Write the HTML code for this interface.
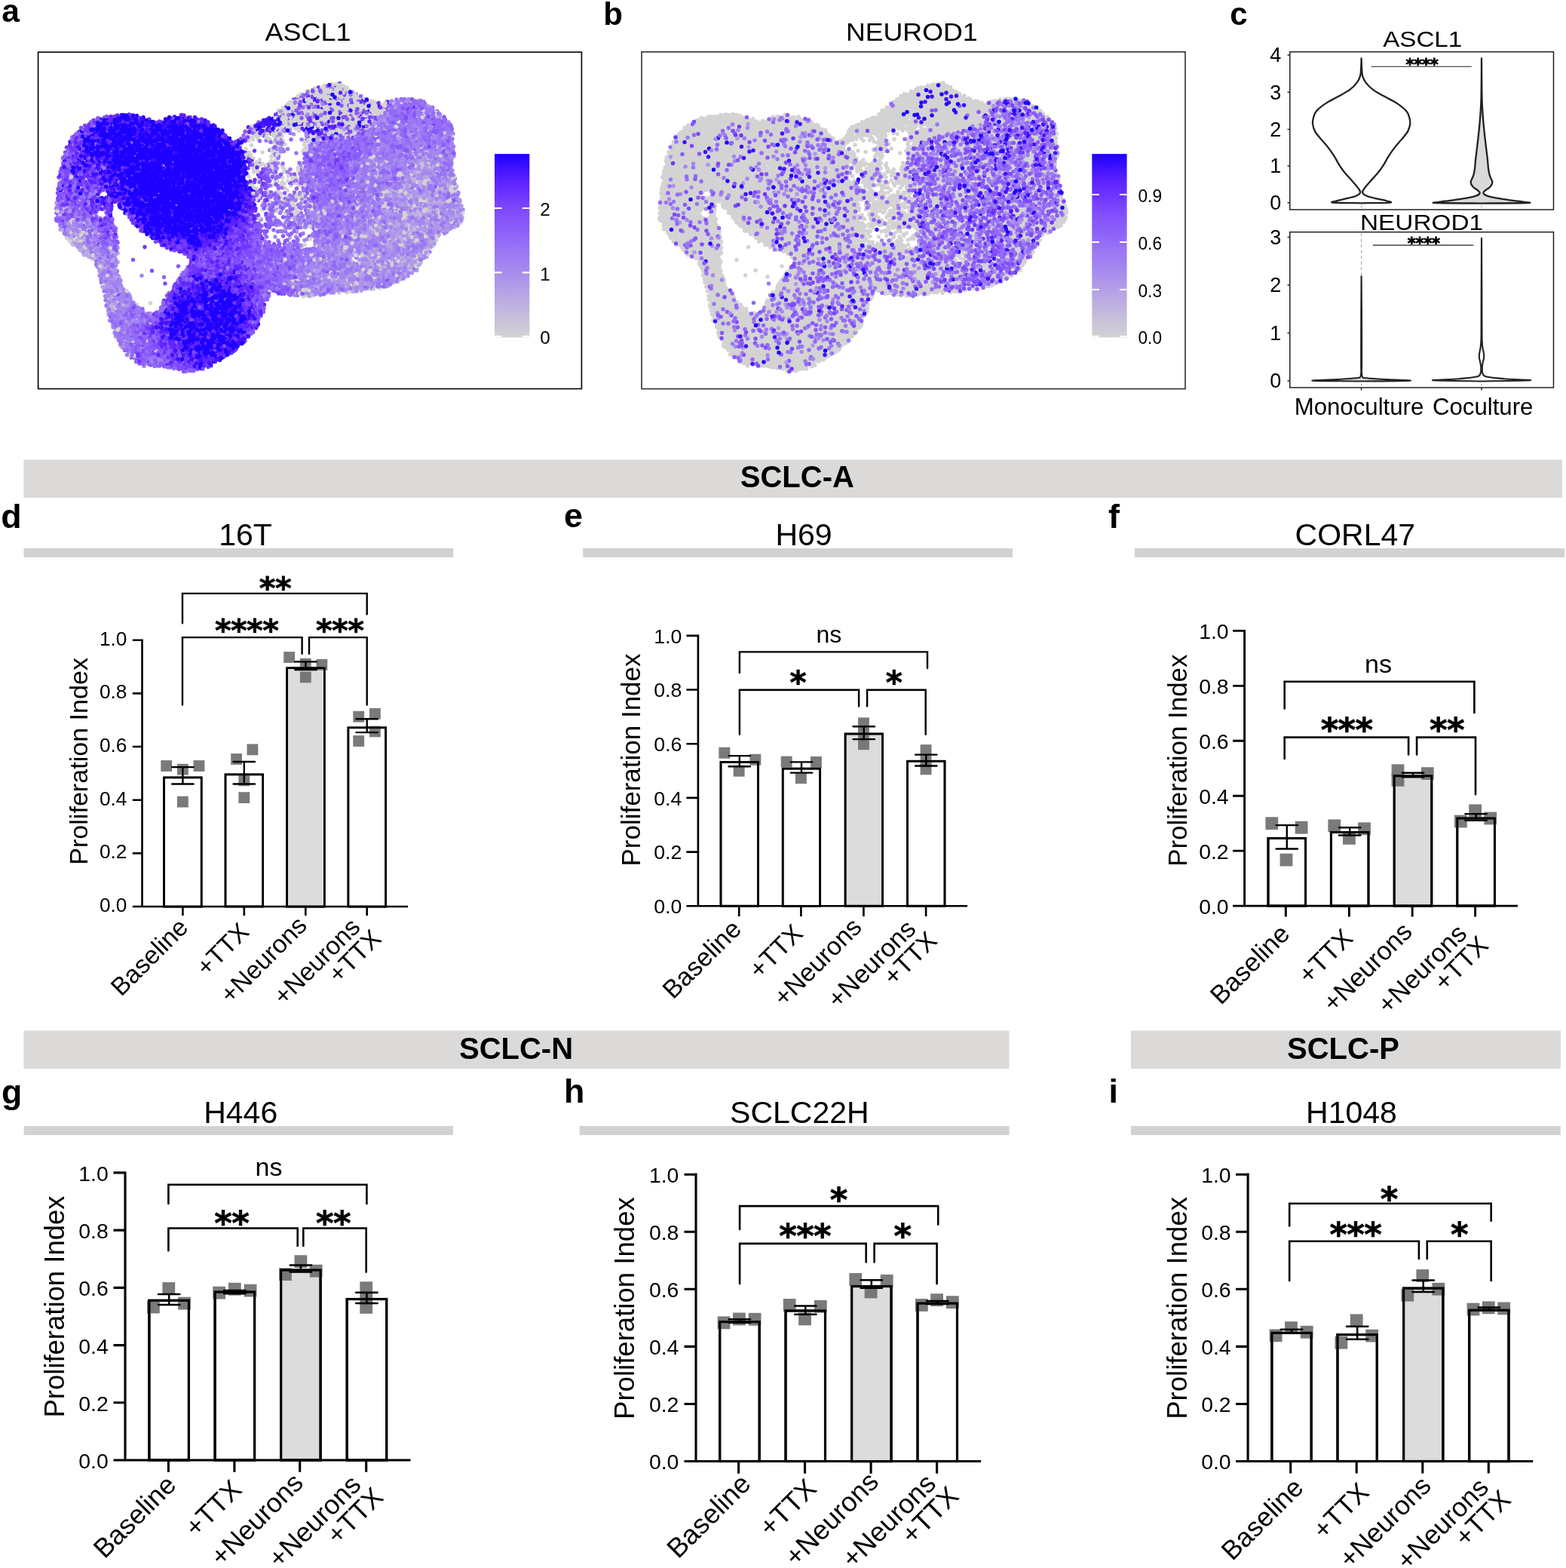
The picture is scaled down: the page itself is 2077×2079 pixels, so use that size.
<!DOCTYPE html>
<html lang="en"><head><meta charset="utf-8"><title>Figure</title>
<style>html,body{margin:0;padding:0;background:#fff}body{width:2077px;height:2079px;overflow:hidden}svg{display:block}svg text{font-family:"Liberation Sans", sans-serif;fill:#000}.st{font-family:"DejaVu Sans","Liberation Sans",sans-serif;font-weight:bold;stroke:#000;stroke-width:0.7px}.pt{fill:#6c6c6c;fill-opacity:.9}.lab{font-weight:bold}.st2{font-family:"DejaVu Sans","Liberation Sans",sans-serif;font-weight:bold;letter-spacing:-.2px;stroke:#000;stroke-width:.8px}</style></head><body>
<svg width="2077" height="2079" viewBox="0 0 2077 2079">
<rect width="2077" height="2079" fill="#fff"/>
<rect x="31.5" y="609.5" width="2040.5" height="50.5" fill="#dcdad9"/>
<rect x="31.5" y="1366.5" width="1307" height="50.5" fill="#dcdad9"/>
<rect x="1500" y="1366.5" width="570" height="50.5" fill="#dcdad9"/>
<text x="1057.3" y="645.6" font-size="40" text-anchor="middle" font-weight="bold">SCLC-A</text>
<text x="684.5" y="1403.6" font-size="40" text-anchor="middle" font-weight="bold">SCLC-N</text>
<text x="1781.5" y="1403.6" font-size="40" text-anchor="middle" font-weight="bold">SCLC-P</text>
<rect x="31.5" y="727" width="569.7" height="12" fill="#d2d2d2"/>
<rect x="773.2" y="727" width="569.8" height="12" fill="#d2d2d2"/>
<rect x="1505" y="727" width="570.0" height="12" fill="#d2d2d2"/>
<rect x="31.7" y="1493" width="569.3" height="12" fill="#d2d2d2"/>
<rect x="768.7" y="1493" width="569.8" height="12" fill="#d2d2d2"/>
<rect x="1500" y="1493" width="569.8" height="12" fill="#d2d2d2"/>
<text x="325.5" y="722.5" font-size="41" text-anchor="middle">16T</text>
<text x="1066.0" y="722.5" font-size="41" text-anchor="middle">H69</text>
<text x="1797.3" y="722.5" font-size="41" text-anchor="middle">CORL47</text>
<text x="319.2" y="1488.9" font-size="41" text-anchor="middle">H446</text>
<text x="1060.4" y="1488.9" font-size="41" text-anchor="middle">SCLC22H</text>
<text x="1792.5" y="1488.9" font-size="41" text-anchor="middle">H1048</text>
<text class="lab" x="2.2" y="29.2" font-size="42.5">a</text>
<text class="lab" x="800.2" y="33.4" font-size="42">b</text>
<text class="lab" x="1631.3" y="33.4" font-size="42">c</text>
<text class="lab" x="1.2" y="700" font-size="44.8">d</text>
<text class="lab" x="748" y="699" font-size="44.8">e</text>
<text class="lab" x="1470" y="700" font-size="44.8">f</text>
<text class="lab" x="2" y="1462.5" font-size="44.8">g</text>
<text class="lab" x="748.0" y="1462" font-size="44.8">h</text>
<text class="lab" x="1470.5" y="1462" font-size="44.8">i</text>
<g class="bp">
<rect x="217.5" y="1030.9" width="49.7" height="171.2" fill="#fff" stroke="#000" stroke-width="2.60"/>
<rect x="299.0" y="1026.9" width="49.7" height="175.1" fill="#fff" stroke="#000" stroke-width="2.60"/>
<rect x="380.6" y="885.7" width="49.7" height="316.4" fill="#dcdcdc" stroke="#000" stroke-width="2.60"/>
<rect x="461.9" y="964.8" width="49.7" height="237.3" fill="#fff" stroke="#000" stroke-width="2.60"/>
<rect class="pt" x="213.3" y="1008.1" width="14.8" height="14.8"/>
<rect class="pt" x="256.6" y="1008.1" width="14.8" height="14.8"/>
<rect class="pt" x="235.0" y="1012.8" width="14.8" height="14.8"/>
<rect class="pt" x="235.0" y="1055.7" width="14.8" height="14.8"/>
<rect class="pt" x="306.2" y="999.1" width="14.8" height="14.8"/>
<rect class="pt" x="327.5" y="986.5" width="14.8" height="14.8"/>
<rect class="pt" x="316.4" y="1027.4" width="14.8" height="14.8"/>
<rect class="pt" x="316.4" y="1050.2" width="14.8" height="14.8"/>
<rect class="pt" x="376.2" y="864.1" width="14.8" height="14.8"/>
<rect class="pt" x="419.5" y="873.9" width="14.8" height="14.8"/>
<rect class="pt" x="397.9" y="872.8" width="14.8" height="14.8"/>
<rect class="pt" x="397.9" y="890.5" width="14.8" height="14.8"/>
<rect class="pt" x="468.3" y="942.8" width="14.8" height="14.8"/>
<rect class="pt" x="490.0" y="938.9" width="14.8" height="14.8"/>
<rect class="pt" x="490.0" y="962.5" width="14.8" height="14.8"/>
<rect class="pt" x="468.3" y="975.1" width="14.8" height="14.8"/>
<rect x="217.5" y="1030.9" width="49.7" height="171.2" fill="none" stroke="#000" stroke-width="2.60"/>
<rect x="299.0" y="1026.9" width="49.7" height="175.1" fill="none" stroke="#000" stroke-width="2.60"/>
<rect x="380.6" y="885.7" width="49.7" height="316.4" fill="none" stroke="#000" stroke-width="2.60"/>
<rect x="461.9" y="964.8" width="49.7" height="237.3" fill="none" stroke="#000" stroke-width="2.60"/>
<path d="M242.4 1017.1V1039.5M228.2 1017.1h28.4M228.2 1039.5h28.4M323.8 1010.0V1039.5M309.6 1010.0h28.4M309.6 1039.5h28.4M405.5 877.4V888.0M391.3 877.4h28.4M391.3 888.0h28.4M486.7 953.3V971.1M472.5 953.3h28.4M472.5 971.1h28.4" fill="none" stroke="#000" stroke-width="2.40" stroke-linecap="round"/>
<path d="M188.5 847.4V1202.0M175.8 1202.0H541.0M175.8 1131.4H188.5M175.8 1060.7H188.5M175.8 990.0H188.5M175.8 919.4H188.5M175.8 848.7H188.5M242.4 1202.0v12.0M323.8 1202.0v12.0M405.3 1202.0v12.0M486.7 1202.0v12.0" fill="none" stroke="#000" stroke-width="2.60"/>
<text x="168.3" y="1208.8" font-size="26.2" text-anchor="end">0.0</text>
<text x="168.3" y="1138.1" font-size="26.2" text-anchor="end">0.2</text>
<text x="168.3" y="1067.5" font-size="26.2" text-anchor="end">0.4</text>
<text x="168.3" y="996.8" font-size="26.2" text-anchor="end">0.6</text>
<text x="168.3" y="926.1" font-size="26.2" text-anchor="end">0.8</text>
<text x="168.3" y="855.5" font-size="26.2" text-anchor="end">1.0</text>
<text transform="translate(116.1 1009.4) rotate(-90)" font-size="34.1" text-anchor="middle">Proliferation Index</text>
<text transform="translate(251.4 1231.6) rotate(-45)" font-size="33.4" text-anchor="end">Baseline</text>
<text transform="translate(332.3 1237.4) rotate(-45)" font-size="33.4" text-anchor="end">+TTX</text>
<text transform="translate(408.9 1229.0) rotate(-45)" font-size="33.4" text-anchor="end">+Neurons</text>
<text transform="translate(479.6 1231.3) rotate(-45)" font-size="33.4" text-anchor="end">+Neurons</text>
<text transform="translate(507.5 1246.6) rotate(-45)" font-size="33.4" text-anchor="end">+TTX</text>
<path d="M242.0 826.3V786.9H486.7V814.4M242.0 934.5V845.1H400.6V866.8M410.0 866.8V845.1H486.7V934.5" fill="none" stroke="#000" stroke-width="2.40" stroke-linecap="round" stroke-linejoin="miter"/>
<text class="st" x="364.9" y="793.5" font-size="41.5" text-anchor="middle" letter-spacing="-0.60">**</text>
<text class="st" x="327.1" y="849.9" font-size="41.5" text-anchor="middle" letter-spacing="-0.60">****</text>
<text class="st" x="450.6" y="849.9" font-size="41.5" text-anchor="middle" letter-spacing="-0.60">***</text>
</g>
<g class="bp">
<rect x="956.0" y="1010.4" width="49.5" height="190.8" fill="#fff" stroke="#000" stroke-width="2.65"/>
<rect x="1038.2" y="1019.1" width="49.5" height="182.2" fill="#fff" stroke="#000" stroke-width="2.65"/>
<rect x="1121.1" y="973.0" width="49.5" height="228.2" fill="#dcdcdc" stroke="#000" stroke-width="2.65"/>
<rect x="1203.5" y="1009.2" width="49.5" height="192.0" fill="#fff" stroke="#000" stroke-width="2.65"/>
<rect class="pt" x="953.4" y="990.8" width="14.9" height="14.9"/>
<rect class="pt" x="994.4" y="999.8" width="14.9" height="14.9"/>
<rect class="pt" x="972.7" y="1014.8" width="14.9" height="14.9"/>
<rect class="pt" x="1035.7" y="1002.6" width="14.9" height="14.9"/>
<rect class="pt" x="1075.0" y="1003.0" width="14.9" height="14.9"/>
<rect class="pt" x="1054.9" y="1024.2" width="14.9" height="14.9"/>
<rect class="pt" x="1138.0" y="951.4" width="14.9" height="14.9"/>
<rect class="pt" x="1138.0" y="965.6" width="14.9" height="14.9"/>
<rect class="pt" x="1138.0" y="979.3" width="14.9" height="14.9"/>
<rect class="pt" x="1220.6" y="987.2" width="14.9" height="14.9"/>
<rect class="pt" x="1220.6" y="1001.8" width="14.9" height="14.9"/>
<rect class="pt" x="1220.6" y="1012.4" width="14.9" height="14.9"/>
<rect x="956.0" y="1010.4" width="49.5" height="190.8" fill="none" stroke="#000" stroke-width="2.65"/>
<rect x="1038.2" y="1019.1" width="49.5" height="182.2" fill="none" stroke="#000" stroke-width="2.65"/>
<rect x="1121.1" y="973.0" width="49.5" height="228.2" fill="none" stroke="#000" stroke-width="2.65"/>
<rect x="1203.5" y="1009.2" width="49.5" height="192.0" fill="none" stroke="#000" stroke-width="2.65"/>
<path d="M980.8 1002.1V1016.3M966.6 1002.1h28.4M966.6 1016.3h28.4M1063.0 1010.4V1024.6M1048.8 1010.4h28.4M1048.8 1024.6h28.4M1145.8 963.2V980.1M1131.6 963.2h28.4M1131.6 980.1h28.4M1228.3 1000.6V1015.5M1214.1 1000.6h28.4M1214.1 1015.5h28.4" fill="none" stroke="#000" stroke-width="2.40" stroke-linecap="round"/>
<path d="M925.9 841.5V1201.2M910.4 1201.2H1283.1M910.4 1129.6H925.9M910.4 1057.9H925.9M910.4 986.2H925.9M910.4 914.5H925.9M910.4 842.8H925.9M980.2 1201.2v13.8M1062.4 1201.2v13.8M1145.4 1201.2v13.8M1228.1 1201.2v13.8" fill="none" stroke="#000" stroke-width="2.65"/>
<text x="904.3" y="1211.1" font-size="26.7" text-anchor="end">0.0</text>
<text x="904.3" y="1139.4" font-size="26.7" text-anchor="end">0.2</text>
<text x="904.3" y="1067.7" font-size="26.7" text-anchor="end">0.4</text>
<text x="904.3" y="996.0" font-size="26.7" text-anchor="end">0.6</text>
<text x="904.3" y="924.3" font-size="26.7" text-anchor="end">0.8</text>
<text x="904.3" y="852.6" font-size="26.7" text-anchor="end">1.0</text>
<text transform="translate(848.6 1007.5) rotate(-90)" font-size="35.0" text-anchor="middle">Proliferation Index</text>
<text transform="translate(985.0 1233.9) rotate(-45)" font-size="34.0" text-anchor="end">Baseline</text>
<text transform="translate(1066.8 1239.8) rotate(-45)" font-size="34.0" text-anchor="end">+TTX</text>
<text transform="translate(1144.8 1231.2) rotate(-45)" font-size="34.0" text-anchor="end">+Neurons</text>
<text transform="translate(1216.5 1233.6) rotate(-45)" font-size="34.0" text-anchor="end">+Neurons</text>
<text transform="translate(1244.9 1249.1) rotate(-45)" font-size="34.0" text-anchor="end">+TTX</text>
<path d="M980.9 892.0V864.4H1230.0V886.1M980.9 973.8V914.8H1139.1V936.4M1150.1 936.4V914.8H1227.7V973.8" fill="none" stroke="#000" stroke-width="2.44" stroke-linecap="round" stroke-linejoin="miter"/>
<text x="1099.4" y="852.4" font-size="32.1" text-anchor="middle">ns</text>
<text class="st" x="1058.2" y="919.5" font-size="42.2" text-anchor="middle" letter-spacing="-0.61">*</text>
<text class="st" x="1185.6" y="919.5" font-size="42.2" text-anchor="middle" letter-spacing="-0.61">*</text>
</g>
<g class="bp">
<rect x="1682.0" y="1111.4" width="49.6" height="89.7" fill="#fff" stroke="#000" stroke-width="2.90"/>
<rect x="1765.4" y="1103.5" width="49.6" height="97.6" fill="#fff" stroke="#000" stroke-width="2.90"/>
<rect x="1849.2" y="1028.8" width="49.6" height="172.3" fill="#dcdcdc" stroke="#000" stroke-width="2.90"/>
<rect x="1932.8" y="1085.0" width="49.6" height="116.0" fill="#fff" stroke="#000" stroke-width="2.90"/>
<rect class="pt" x="1678.4" y="1083.3" width="16.8" height="16.8"/>
<rect class="pt" x="1717.7" y="1088.8" width="16.8" height="16.8"/>
<rect class="pt" x="1697.6" y="1131.7" width="16.8" height="16.8"/>
<rect class="pt" x="1761.4" y="1086.5" width="16.8" height="16.8"/>
<rect class="pt" x="1801.1" y="1090.4" width="16.8" height="16.8"/>
<rect class="pt" x="1781.0" y="1103.0" width="16.8" height="16.8"/>
<rect class="pt" x="1845.6" y="1013.3" width="16.8" height="16.8"/>
<rect class="pt" x="1884.9" y="1017.2" width="16.8" height="16.8"/>
<rect class="pt" x="1845.6" y="1025.9" width="16.8" height="16.8"/>
<rect class="pt" x="1948.2" y="1066.4" width="16.8" height="16.8"/>
<rect class="pt" x="1968.3" y="1076.6" width="16.8" height="16.8"/>
<rect class="pt" x="1929.0" y="1080.6" width="16.8" height="16.8"/>
<rect x="1682.0" y="1111.4" width="49.6" height="89.7" fill="none" stroke="#000" stroke-width="2.90"/>
<rect x="1765.4" y="1103.5" width="49.6" height="97.6" fill="none" stroke="#000" stroke-width="2.90"/>
<rect x="1849.2" y="1028.8" width="49.6" height="172.3" fill="none" stroke="#000" stroke-width="2.90"/>
<rect x="1932.8" y="1085.0" width="49.6" height="116.0" fill="none" stroke="#000" stroke-width="2.90"/>
<path d="M1706.8 1094.1V1125.5M1692.6 1094.1h28.4M1692.6 1125.5h28.4M1790.2 1097.2V1107.5M1776.0 1097.2h28.4M1776.0 1107.5h28.4M1874.0 1024.8V1030.4M1859.8 1024.8h28.4M1859.8 1030.4h28.4M1957.6 1079.1V1087.8M1943.4 1079.1h28.4M1943.4 1087.8h28.4" fill="none" stroke="#000" stroke-width="2.40" stroke-linecap="round"/>
<path d="M1650.6 835.0V1201.1M1635.1 1201.1H2012.9M1635.1 1128.1H1650.6M1635.1 1055.2H1650.6M1635.1 982.3H1650.6M1635.1 909.4H1650.6M1635.1 836.4H1650.6M1705.3 1201.1v14.3M1789.4 1201.1v14.3M1873.2 1201.1v14.3M1956.6 1201.1v14.3" fill="none" stroke="#000" stroke-width="2.90"/>
<text x="1629.6" y="1211.7" font-size="28.4" text-anchor="end">0.0</text>
<text x="1629.6" y="1138.8" font-size="28.4" text-anchor="end">0.2</text>
<text x="1629.6" y="1065.9" font-size="28.4" text-anchor="end">0.4</text>
<text x="1629.6" y="992.9" font-size="28.4" text-anchor="end">0.6</text>
<text x="1629.6" y="920.0" font-size="28.4" text-anchor="end">0.8</text>
<text x="1629.6" y="847.1" font-size="28.4" text-anchor="end">1.0</text>
<text transform="translate(1573.8 1008.2) rotate(-90)" font-size="34.9" text-anchor="middle">Proliferation Index</text>
<text transform="translate(1712.5 1240.1) rotate(-45)" font-size="34.4" text-anchor="end">Baseline</text>
<text transform="translate(1796.2 1246.0) rotate(-45)" font-size="34.4" text-anchor="end">+TTX</text>
<text transform="translate(1874.9 1237.4) rotate(-45)" font-size="34.4" text-anchor="end">+Neurons</text>
<text transform="translate(1947.3 1239.8) rotate(-45)" font-size="34.4" text-anchor="end">+Neurons</text>
<text transform="translate(1976.1 1255.5) rotate(-45)" font-size="34.4" text-anchor="end">+TTX</text>
<path d="M1703.7 939.5V903.7H1955.4V945.0M1703.7 1006.0V977.6H1868.1V1000.5M1879.1 1000.5V977.6H1957.0V1053.2" fill="none" stroke="#000" stroke-width="2.60" stroke-linecap="round" stroke-linejoin="miter"/>
<text x="1828.0" y="892.3" font-size="34.1" text-anchor="middle">ns</text>
<text class="st" x="1786.0" y="983.3" font-size="45.0" text-anchor="middle" letter-spacing="-0.65">***</text>
<text class="st" x="1918.9" y="983.3" font-size="45.0" text-anchor="middle" letter-spacing="-0.65">**</text>
</g>
<g class="bp">
<rect x="197.9" y="1724.3" width="52.5" height="211.7" fill="#fff" stroke="#000" stroke-width="3.10"/>
<rect x="285.1" y="1713.0" width="52.5" height="223.0" fill="#fff" stroke="#000" stroke-width="3.10"/>
<rect x="372.6" y="1684.0" width="52.5" height="252.0" fill="#dcdcdc" stroke="#000" stroke-width="3.10"/>
<rect x="460.2" y="1722.5" width="52.5" height="213.6" fill="#fff" stroke="#000" stroke-width="3.10"/>
<rect class="pt" x="215.4" y="1700.1" width="16.8" height="16.8"/>
<rect class="pt" x="195.0" y="1724.6" width="16.8" height="16.8"/>
<rect class="pt" x="236.1" y="1719.7" width="16.8" height="16.8"/>
<rect class="pt" x="282.2" y="1705.7" width="16.8" height="16.8"/>
<rect class="pt" x="302.9" y="1700.8" width="16.8" height="16.8"/>
<rect class="pt" x="323.7" y="1702.7" width="16.8" height="16.8"/>
<rect class="pt" x="390.5" y="1664.2" width="16.8" height="16.8"/>
<rect class="pt" x="370.1" y="1681.2" width="16.8" height="16.8"/>
<rect class="pt" x="410.8" y="1676.7" width="16.8" height="16.8"/>
<rect class="pt" x="477.3" y="1699.3" width="16.8" height="16.8"/>
<rect class="pt" x="477.3" y="1713.3" width="16.8" height="16.8"/>
<rect class="pt" x="477.3" y="1725.0" width="16.8" height="16.8"/>
<rect x="197.9" y="1724.3" width="52.5" height="211.7" fill="none" stroke="#000" stroke-width="3.10"/>
<rect x="285.1" y="1713.0" width="52.5" height="223.0" fill="none" stroke="#000" stroke-width="3.10"/>
<rect x="372.6" y="1684.0" width="52.5" height="252.0" fill="none" stroke="#000" stroke-width="3.10"/>
<rect x="460.2" y="1722.5" width="52.5" height="213.6" fill="none" stroke="#000" stroke-width="3.10"/>
<path d="M224.2 1716.0V1730.0M210.0 1716.0h28.4M210.0 1730.0h28.4M311.3 1711.1V1715.3M297.1 1711.1h28.4M297.1 1715.3h28.4M398.9 1677.5V1686.6M384.7 1677.5h28.4M384.7 1686.6h28.4M486.4 1713.8V1728.1M472.2 1713.8h28.4M472.2 1728.1h28.4" fill="none" stroke="#000" stroke-width="2.50" stroke-linecap="round"/>
<path d="M166.0 1553.4V1936.0M150.5 1936.0H544.5M150.5 1859.8H166.0M150.5 1783.6H166.0M150.5 1707.4H166.0M150.5 1631.1H166.0M150.5 1554.9H166.0M223.4 1936.0v15.7M310.9 1936.0v15.7M397.7 1936.0v15.7M485.7 1936.0v15.7" fill="none" stroke="#000" stroke-width="3.10"/>
<text x="143.8" y="1946.9" font-size="28.4" text-anchor="end">0.0</text>
<text x="143.8" y="1870.7" font-size="28.4" text-anchor="end">0.2</text>
<text x="143.8" y="1794.5" font-size="28.4" text-anchor="end">0.4</text>
<text x="143.8" y="1718.2" font-size="28.4" text-anchor="end">0.6</text>
<text x="143.8" y="1642.0" font-size="28.4" text-anchor="end">0.8</text>
<text x="143.8" y="1565.8" font-size="28.4" text-anchor="end">1.0</text>
<text transform="translate(85.3 1732.5) rotate(-90)" font-size="36.5" text-anchor="middle">Proliferation Index</text>
<text transform="translate(235.5 1971.0) rotate(-45)" font-size="35.7" text-anchor="end">Baseline</text>
<text transform="translate(322.5 1977.2) rotate(-45)" font-size="35.7" text-anchor="end">+TTX</text>
<text transform="translate(404.1 1968.2) rotate(-45)" font-size="35.7" text-anchor="end">+Neurons</text>
<text transform="translate(480.6 1970.7) rotate(-45)" font-size="35.7" text-anchor="end">+Neurons</text>
<text transform="translate(510.4 1987.1) rotate(-45)" font-size="35.7" text-anchor="end">+TTX</text>
<path d="M223.4 1596.0V1570.8H486.4V1596.0M223.4 1658.3V1628.5H394.7V1651.9M402.3 1651.9V1628.5H485.7V1686.6" fill="none" stroke="#000" stroke-width="2.60" stroke-linecap="round" stroke-linejoin="miter"/>
<text x="356.6" y="1558.8" font-size="34.1" text-anchor="middle">ns</text>
<text class="st" x="307.2" y="1636.6" font-size="45.0" text-anchor="middle" letter-spacing="-0.65">**</text>
<text class="st" x="441.9" y="1636.6" font-size="45.0" text-anchor="middle" letter-spacing="-0.65">**</text>
</g>
<g class="bp">
<rect x="954.7" y="1752.6" width="52.5" height="184.9" fill="#fff" stroke="#000" stroke-width="3.10"/>
<rect x="1042.0" y="1737.9" width="52.5" height="199.6" fill="#fff" stroke="#000" stroke-width="3.10"/>
<rect x="1129.6" y="1705.5" width="52.5" height="232.1" fill="#dcdcdc" stroke="#000" stroke-width="3.10"/>
<rect x="1217.0" y="1728.1" width="52.5" height="209.4" fill="#fff" stroke="#000" stroke-width="3.10"/>
<rect class="pt" x="951.6" y="1745.4" width="16.8" height="16.8"/>
<rect class="pt" x="972.0" y="1740.5" width="16.8" height="16.8"/>
<rect class="pt" x="992.7" y="1740.8" width="16.8" height="16.8"/>
<rect class="pt" x="1038.8" y="1722.0" width="16.8" height="16.8"/>
<rect class="pt" x="1079.9" y="1723.9" width="16.8" height="16.8"/>
<rect class="pt" x="1059.1" y="1740.5" width="16.8" height="16.8"/>
<rect class="pt" x="1126.3" y="1688.0" width="16.8" height="16.8"/>
<rect class="pt" x="1167.8" y="1689.9" width="16.8" height="16.8"/>
<rect class="pt" x="1146.7" y="1704.6" width="16.8" height="16.8"/>
<rect class="pt" x="1213.9" y="1722.0" width="16.8" height="16.8"/>
<rect class="pt" x="1234.2" y="1715.2" width="16.8" height="16.8"/>
<rect class="pt" x="1255.0" y="1718.2" width="16.8" height="16.8"/>
<rect x="954.7" y="1752.6" width="52.5" height="184.9" fill="none" stroke="#000" stroke-width="3.10"/>
<rect x="1042.0" y="1737.9" width="52.5" height="199.6" fill="none" stroke="#000" stroke-width="3.10"/>
<rect x="1129.6" y="1705.5" width="52.5" height="232.1" fill="none" stroke="#000" stroke-width="3.10"/>
<rect x="1217.0" y="1728.1" width="52.5" height="209.4" fill="none" stroke="#000" stroke-width="3.10"/>
<path d="M980.9 1749.2V1753.8M966.7 1749.2h28.4M966.7 1753.8h28.4M1068.3 1731.5V1742.8M1054.1 1731.5h28.4M1054.1 1742.8h28.4M1155.8 1697.2V1707.7M1141.6 1697.2h28.4M1141.6 1707.7h28.4M1243.2 1725.1V1728.9M1229.0 1725.1h28.4M1229.0 1728.9h28.4" fill="none" stroke="#000" stroke-width="2.50" stroke-linecap="round"/>
<path d="M923.0 1555.6V1937.5M907.5 1937.5H1301.1M907.5 1861.5H923.0M907.5 1785.4H923.0M907.5 1709.3H923.0M907.5 1633.2H923.0M907.5 1557.2H923.0M979.6 1937.5v16.2M1067.5 1937.5v16.2M1155.1 1937.5v16.2M1242.6 1937.5v16.2" fill="none" stroke="#000" stroke-width="3.10"/>
<text x="900.4" y="1948.4" font-size="28.4" text-anchor="end">0.0</text>
<text x="900.4" y="1872.3" font-size="28.4" text-anchor="end">0.2</text>
<text x="900.4" y="1796.3" font-size="28.4" text-anchor="end">0.4</text>
<text x="900.4" y="1720.2" font-size="28.4" text-anchor="end">0.6</text>
<text x="900.4" y="1644.1" font-size="28.4" text-anchor="end">0.8</text>
<text x="900.4" y="1568.0" font-size="28.4" text-anchor="end">1.0</text>
<text transform="translate(840.8 1734.6) rotate(-90)" font-size="36.6" text-anchor="middle">Proliferation Index</text>
<text transform="translate(997.7 1969.6) rotate(-45)" font-size="36.2" text-anchor="end">Baseline</text>
<text transform="translate(1085.1 1975.9) rotate(-45)" font-size="36.2" text-anchor="end">+TTX</text>
<text transform="translate(1167.3 1966.8) rotate(-45)" font-size="36.2" text-anchor="end">+Neurons</text>
<text transform="translate(1243.2 1969.3) rotate(-45)" font-size="36.2" text-anchor="end">+Neurons</text>
<text transform="translate(1273.5 1985.9) rotate(-45)" font-size="36.2" text-anchor="end">+TTX</text>
<path d="M981.1 1630.0V1599.1H1244.2V1623.6M981.1 1702.1V1648.9H1148.7V1673.4M1159.6 1673.4V1648.9H1242.6V1702.1" fill="none" stroke="#000" stroke-width="2.60" stroke-linecap="round" stroke-linejoin="miter"/>
<text class="st" x="1112.1" y="1606.4" font-size="45.0" text-anchor="middle" letter-spacing="-0.65">*</text>
<text class="st" x="1067.6" y="1654.4" font-size="45.0" text-anchor="middle" letter-spacing="-0.65">***</text>
<text class="st" x="1197.0" y="1654.4" font-size="45.0" text-anchor="middle" letter-spacing="-0.65">*</text>
</g>
<g class="bp">
<rect x="1686.9" y="1767.3" width="52.3" height="170.2" fill="#fff" stroke="#000" stroke-width="3.10"/>
<rect x="1774.0" y="1769.6" width="52.3" height="167.9" fill="#fff" stroke="#000" stroke-width="3.10"/>
<rect x="1861.6" y="1708.1" width="52.3" height="229.4" fill="#dcdcdc" stroke="#000" stroke-width="3.10"/>
<rect x="1948.7" y="1737.2" width="52.3" height="200.4" fill="#fff" stroke="#000" stroke-width="3.10"/>
<rect class="pt" x="1704.1" y="1752.2" width="16.8" height="16.8"/>
<rect class="pt" x="1683.7" y="1762.4" width="16.8" height="16.8"/>
<rect class="pt" x="1724.8" y="1757.8" width="16.8" height="16.8"/>
<rect class="pt" x="1790.8" y="1742.4" width="16.8" height="16.8"/>
<rect class="pt" x="1770.5" y="1771.8" width="16.8" height="16.8"/>
<rect class="pt" x="1811.2" y="1762.7" width="16.8" height="16.8"/>
<rect class="pt" x="1878.4" y="1683.1" width="16.8" height="16.8"/>
<rect class="pt" x="1858.4" y="1708.8" width="16.8" height="16.8"/>
<rect class="pt" x="1899.5" y="1700.8" width="16.8" height="16.8"/>
<rect class="pt" x="1945.6" y="1727.6" width="16.8" height="16.8"/>
<rect class="pt" x="1965.9" y="1725.4" width="16.8" height="16.8"/>
<rect class="pt" x="1986.3" y="1726.5" width="16.8" height="16.8"/>
<rect x="1686.9" y="1767.3" width="52.3" height="170.2" fill="none" stroke="#000" stroke-width="3.10"/>
<rect x="1774.0" y="1769.6" width="52.3" height="167.9" fill="none" stroke="#000" stroke-width="3.10"/>
<rect x="1861.6" y="1708.1" width="52.3" height="229.4" fill="none" stroke="#000" stroke-width="3.10"/>
<rect x="1948.7" y="1737.2" width="52.3" height="200.4" fill="none" stroke="#000" stroke-width="3.10"/>
<path d="M1713.0 1762.8V1767.4M1698.8 1762.8h28.4M1698.8 1767.4h28.4M1800.2 1758.7V1775.7M1786.0 1758.7h28.4M1786.0 1775.7h28.4M1887.7 1697.5V1713.0M1873.5 1697.5h28.4M1873.5 1713.0h28.4M1974.9 1733.4V1736.8M1960.7 1733.4h28.4M1960.7 1736.8h28.4" fill="none" stroke="#000" stroke-width="2.50" stroke-linecap="round"/>
<path d="M1655.1 1555.6V1937.5M1639.1 1937.5H2033.2M1639.1 1861.5H1655.1M1639.1 1785.4H1655.1M1639.1 1709.3H1655.1M1639.1 1633.2H1655.1M1639.1 1557.2H1655.1M1711.7 1937.5v16.0M1799.2 1937.5v16.0M1886.8 1937.5v16.0M1974.3 1937.5v16.0" fill="none" stroke="#000" stroke-width="3.10"/>
<text x="1632.6" y="1948.4" font-size="28.4" text-anchor="end">0.0</text>
<text x="1632.6" y="1872.3" font-size="28.4" text-anchor="end">0.2</text>
<text x="1632.6" y="1796.3" font-size="28.4" text-anchor="end">0.4</text>
<text x="1632.6" y="1720.2" font-size="28.4" text-anchor="end">0.6</text>
<text x="1632.6" y="1644.1" font-size="28.4" text-anchor="end">0.8</text>
<text x="1632.6" y="1568.0" font-size="28.4" text-anchor="end">1.0</text>
<text transform="translate(1573.6 1734.4) rotate(-90)" font-size="36.6" text-anchor="middle">Proliferation Index</text>
<text transform="translate(1730.6 1974.6) rotate(-45)" font-size="35.4" text-anchor="end">Baseline</text>
<text transform="translate(1817.7 1980.8) rotate(-45)" font-size="35.4" text-anchor="end">+TTX</text>
<text transform="translate(1900.0 1971.9) rotate(-45)" font-size="35.4" text-anchor="end">+Neurons</text>
<text transform="translate(1976.2 1974.3) rotate(-45)" font-size="35.4" text-anchor="end">+Neurons</text>
<text transform="translate(2005.8 1990.5) rotate(-45)" font-size="35.4" text-anchor="end">+TTX</text>
<path d="M1710.2 1625.5V1595.7H1977.7V1618.7M1710.2 1697.9V1645.8H1881.9V1668.9M1892.8 1668.9V1645.8H1977.7V1697.9" fill="none" stroke="#000" stroke-width="2.60" stroke-linecap="round" stroke-linejoin="miter"/>
<text class="st" x="1842.3" y="1604.6" font-size="45.0" text-anchor="middle" letter-spacing="-0.65">*</text>
<text class="st" x="1797.8" y="1651.6" font-size="45.0" text-anchor="middle" letter-spacing="-0.65">***</text>
<text class="st" x="1935.5" y="1651.6" font-size="45.0" text-anchor="middle" letter-spacing="-0.65">*</text>
</g>
<g transform="scale(.5)" fill="none" stroke-linecap="round" stroke-width="10.8"><path d="M1119 542h0M947 303h0M825 245h0M1005 404h0M730 738h0M836 245h0M939 263h0M648 414h0M1036 665h0M902 257h0M745 382h0M836 313h0M706 456h0M1011 299h0M1081 433h0M761 522h0M1166 560h0M893 271h0M993 292h0M940 267h0M776 276h0M941 577h0M1126 440h0M749 360h0M813 783h0M1116 572h0M794 294h0M860 603h0M772 492h0M729 470h0M956 280h0M1113 431h0M1056 748h0M977 328h0M1150 651h0M757 336h0M938 270h0M976 319h0M798 518h0M936 355h0M836 601h0M1010 414h0M982 286h0M733 560h0M855 249h0M755 330h0M941 345h0M898 734h0M1125 463h0M166 428h0M1060 374h0M892 231h0M874 325h0M677 440h0M251 491h0M821 249h0M748 439h0M766 319h0M735 383h0M721 337h0M1046 700h0M794 481h0M1215 584h0M754 487h0M751 374h0M207 631h0M919 269h0M1124 622h0M1175 577h0M931 503h0M889 346h0M1082 572h0M835 238h0M688 473h0M1088 488h0M646 677h0M850 344h0M1107 675h0M986 305h0M269 706h0M965 596h0M1036 650h0M1098 354h0M1032 289h0M749 483h0M972 329h0M902 307h0M228 670h0M960 286h0M1167 582h0M908 342h0M886 243h0M1113 470h0M714 528h0M788 316h0M308 671h0M1123 555h0M841 263h0M891 297h0M751 445h0M1035 591h0M1118 695h0M972 341h0M1123 390h0M710 504h0M667 516h0M853 297h0M828 378h0M885 331h0M1153 537h0M1061 535h0M1083 525h0M252 336h0M1106 505h0M726 450h0M780 474h0M951 360h0M804 512h0M829 250h0M798 250h0M713 562h0M856 293h0M951 286h0M1025 730h0M1203 498h0M961 264h0M889 279h0M790 265h0M696 556h0M878 305h0M655 415h0M671 420h0M923 242h0M1047 560h0M932 286h0M999 367h0M903 346h0M880 740h0M708 336h0M762 313h0M925 652h0M807 325h0M770 628h0M679 506h0M884 289h0M1014 512h0M267 711h0M1122 511h0M792 455h0M310 858h0M723 492h0M893 764h0M942 319h0M807 275h0M809 571h0M785 288h0M1171 467h0M1194 500h0M917 233h0M884 378h0M1105 694h0M338 795h0M821 360h0M957 330h0M730 480h0M370 820h0M889 276h0M923 262h0M901 657h0M934 335h0M1060 704h0M905 310h0M905 233h0M949 258h0M956 316h0M811 579h0M639 384h0M814 274h0M855 444h0M992 270h0M704 343h0M968 507h0M1208 562h0M1120 452h0M803 282h0M816 267h0M741 361h0M908 292h0M654 344h0M724 313h0M867 243h0M1129 662h0M874 734h0M1095 553h0M1103 307h0M866 271h0M1151 305h0M824 365h0M1116 414h0M1069 669h0M1067 392h0M1152 571h0M699 340h0M878 247h0M647 377h0M746 488h0M791 309h0M881 281h0M888 401h0M743 531h0M1011 754h0M899 670h0M1033 595h0M1100 467h0M269 676h0M771 301h0M944 282h0M842 372h0M784 322h0M995 298h0M1194 342h0M788 524h0M936 255h0M1070 691h0M931 312h0M342 861h0M1000 295h0M927 367h0M668 507h0M870 234h0M952 699h0M743 494h0M657 360h0M980 444h0M782 546h0M1030 482h0M654 352h0M759 330h0M724 409h0M1004 704h0M1034 282h0M216 497h0M959 338h0M660 373h0M902 772h0M670 364h0M363 808h0M364 846h0M809 258h0M752 300h0M178 550h0M897 236h0M732 425h0M651 357h0M1148 455h0M779 723h0M830 767h0M731 461h0M817 534h0M660 492h0M805 531h0M917 324h0M1035 483h0M916 759h0M932 612h0M979 336h0M1105 545h0M952 754h0M895 282h0M857 316h0M342 813h0M832 680h0M1032 452h0M807 384h0M934 299h0M1011 675h0M850 324h0M661 431h0M833 286h0M951 264h0M699 463h0M1136 346h0M752 537h0M941 277h0M984 606h0M848 277h0M698 538h0M998 390h0M1112 668h0M988 274h0M307 710h0M923 533h0M1150 364h0M977 343h0M874 251h0M950 401h0M1201 584h0M804 401h0M1020 342h0M884 295h0M806 371h0M227 608h0M832 305h0M965 322h0M1167 609h0M915 355h0M1022 714h0M1181 438h0M779 285h0M989 303h0M744 699h0M918 253h0M318 917h0M920 743h0M776 293h0M1120 419h0M854 330h0M958 729h0M752 691h0M1001 434h0M308 736h0M1113 639h0M808 588h0M1024 749h0M854 311h0M772 288h0M972 316h0M1115 457h0M934 759h0M832 268h0M895 298h0M947 312h0M811 529h0M991 318h0M265 669h0M1190 486h0M933 773h0M729 346h0M828 603h0M924 360h0M1137 552h0M962 662h0M797 341h0M755 294h0M989 288h0M1084 627h0M746 353h0M227 477h0M716 456h0M895 306h0M1075 476h0M258 646h0M1158 311h0M867 765h0M954 712h0M915 258h0M665 420h0M1151 355h0M876 349h0M888 307h0M1004 725h0M955 340h0M1048 631h0M677 452h0M1164 433h0M948 279h0M853 728h0M216 602h0M206 609h0M910 359h0M769 347h0M825 255h0M870 318h0M1003 570h0M744 649h0M987 603h0M793 564h0M902 325h0M714 433h0M890 309h0M1198 507h0M894 332h0M837 352h0M738 313h0M896 527h0M820 552h0" stroke="#d3d3d3"/><path d="M1098 592h0M1206 565h0M1059 625h0M245 664h0M289 664h0" stroke="#cac4d9"/><path d="M1099 600h0M1074 552h0M1066 628h0M222 657h0M1177 616h0M213 553h0M1081 686h0M1164 580h0M1221 590h0M883 746h0M968 677h0M192 647h0M281 712h0M213 643h0M1094 482h0M1058 565h0M1043 504h0M1211 573h0M1056 561h0M1139 586h0M241 675h0M1090 524h0M843 766h0M1031 632h0M1174 536h0M1081 559h0M1111 545h0M1141 444h0M1051 662h0M1155 505h0M1053 645h0M1074 635h0M222 621h0M1179 565h0M1068 438h0M1114 674h0" stroke="#c1b5df"/><path d="M961 680h0M975 723h0M1134 624h0M1148 555h0M1120 480h0M1030 554h0M196 602h0M1162 561h0M1122 565h0M275 711h0M1119 455h0M1056 673h0M1149 491h0M1206 552h0M305 764h0M1010 639h0M1043 749h0M177 627h0M1110 488h0M297 741h0M1109 444h0M1097 707h0M815 774h0M1003 735h0M958 633h0M1100 628h0M983 686h0M1180 368h0M1043 408h0M1118 546h0M1133 386h0M832 782h0M1092 687h0M177 418h0M1153 415h0M881 619h0M257 609h0M1139 647h0M1136 612h0M896 580h0M1071 503h0M1020 536h0M834 734h0M1102 431h0M992 584h0M1123 586h0M181 620h0M905 378h0M1151 631h0M960 701h0M223 641h0M1043 604h0M1067 584h0M1203 580h0M1048 692h0M1084 474h0M969 683h0M1001 591h0M1170 386h0M838 681h0M958 771h0M1206 534h0M1174 546h0M965 564h0M279 676h0M1106 713h0M1063 655h0M1046 573h0M1105 558h0M1119 661h0M939 710h0M1206 602h0M1103 465h0M1069 525h0M768 631h0M1090 621h0M1072 601h0M230 676h0M1128 568h0M299 824h0M1043 651h0M1165 543h0M1026 707h0M901 694h0M884 710h0M1144 603h0M1004 416h0M1063 633h0M808 704h0M1084 553h0M1214 576h0M1137 461h0M1200 579h0M1149 422h0M1133 560h0M1134 543h0M1092 674h0M1090 595h0M1102 619h0M959 620h0M950 645h0M1055 536h0M1067 706h0M916 649h0M1106 554h0M255 680h0M1081 576h0M1074 656h0M978 501h0M1106 626h0M910 688h0M1098 487h0M851 658h0M830 719h0M1060 513h0" stroke="#b8a6e4"/><path d="M913 382h0M1082 670h0M853 698h0M940 636h0M969 633h0M280 651h0M833 388h0M1154 483h0M170 579h0M1116 595h0M918 711h0M1063 352h0M957 489h0M1156 554h0M994 608h0M316 736h0M220 536h0M195 639h0M1101 567h0M1088 425h0M945 625h0M1120 686h0M1041 572h0M1179 595h0M271 729h0M1189 559h0M993 348h0M880 562h0M822 777h0M963 632h0M906 680h0M1066 481h0M873 669h0M829 586h0M1109 582h0M307 874h0M1011 533h0M1180 562h0M985 597h0M1185 592h0M1004 608h0M1094 661h0M856 689h0M1014 596h0M1110 643h0M282 761h0M835 439h0M1043 552h0M303 790h0M303 661h0M886 354h0M762 777h0M804 717h0M1198 373h0M1090 585h0M1130 634h0M978 583h0M1194 607h0M209 643h0M1128 588h0M953 507h0M1185 516h0M283 792h0M938 722h0M875 700h0M834 760h0M1133 620h0M979 449h0M864 759h0M853 271h0M855 770h0M1031 507h0M1011 713h0M1111 658h0M808 602h0M1020 414h0M1113 298h0M1112 627h0M955 638h0M787 615h0M1034 329h0M1049 566h0M205 402h0M1120 468h0M1180 524h0M936 720h0M1132 681h0M1070 517h0M286 735h0M317 820h0M788 756h0M990 322h0M911 713h0M1074 701h0M1115 543h0M1036 456h0M1066 420h0M1045 482h0M1018 606h0M1189 455h0M937 481h0M917 592h0M314 731h0M1130 597h0M871 749h0M312 695h0M1031 565h0M1133 609h0M1173 368h0M299 716h0M956 598h0M1098 287h0M1113 664h0M1084 414h0M812 743h0M933 736h0M1061 643h0M293 792h0M1021 643h0M1125 548h0M1018 488h0M939 592h0M1043 662h0M1170 590h0M990 634h0M1010 322h0M1013 703h0M959 638h0M1070 638h0M990 687h0M997 742h0M1199 483h0M791 712h0M780 697h0M1010 628h0M902 756h0M1020 426h0M1086 601h0M874 673h0M1010 615h0M997 443h0M315 797h0M1187 497h0M796 658h0M1155 488h0M1029 447h0M973 748h0M1116 376h0M1112 439h0M1077 704h0M868 685h0M1001 553h0M1151 528h0M988 588h0M1060 691h0M940 762h0M960 591h0M1102 632h0M1052 712h0M1171 544h0M840 576h0M1040 656h0M1096 717h0M948 549h0M873 621h0M1201 538h0M1007 658h0M763 760h0M1105 413h0M984 401h0M1174 525h0M1003 504h0M1090 512h0M1014 572h0M1214 531h0M978 488h0M937 621h0M1109 572h0M870 578h0M873 730h0M966 700h0M1011 656h0M980 552h0M996 685h0M1000 747h0M675 355h0M913 722h0M1147 621h0M1190 565h0M1085 688h0M1190 577h0M1089 473h0M1007 505h0M1127 457h0M1086 347h0M1183 408h0M1112 449h0M1097 633h0M828 713h0M857 736h0M1018 692h0M976 508h0M1078 408h0M1113 589h0M286 780h0M342 790h0M1213 589h0M1085 487h0M948 685h0M1105 451h0M202 598h0M1032 577h0M1177 469h0M302 831h0M230 550h0M855 396h0M846 773h0M294 675h0M944 743h0M1053 740h0M927 288h0M944 500h0M905 675h0M969 730h0M1095 646h0M230 615h0M1169 595h0M300 723h0M1007 585h0M1015 433h0M1175 541h0M879 681h0M1162 603h0M290 677h0M910 749h0M1153 439h0M1147 511h0M1141 588h0M972 627h0M876 629h0M811 712h0M1013 671h0M1102 504h0M1224 546h0M1091 701h0M1132 368h0M1113 580h0M977 716h0M993 601h0M300 804h0M170 617h0M836 631h0M917 612h0M288 834h0M1143 419h0M981 433h0M1002 578h0M1043 516h0M769 344h0M1043 422h0M842 713h0M1151 394h0M975 710h0M1053 631h0M893 694h0M312 671h0M983 450h0M926 564h0M931 749h0M230 643h0M1094 499h0M1029 758h0M1070 645h0" stroke="#ae96ea"/><path d="M1067 400h0M969 643h0M965 741h0M1077 683h0M1032 317h0M375 913h0M871 608h0M892 730h0M322 820h0M785 783h0M293 762h0M1027 536h0M1162 481h0M1145 585h0M875 589h0M1198 603h0M1084 467h0M182 612h0M1003 443h0M1089 354h0M955 427h0M1000 335h0M1112 596h0M1007 644h0M783 584h0M262 513h0M779 356h0M1021 388h0M759 764h0M267 604h0M368 816h0M744 370h0M1126 683h0M846 681h0M1047 598h0M880 547h0M962 434h0M321 833h0M1137 362h0M1064 686h0M785 628h0M1026 461h0M237 618h0M344 784h0M775 719h0M818 729h0M1155 358h0M741 692h0M279 685h0M1098 378h0M1126 402h0M1036 687h0M1078 592h0M1109 420h0M746 560h0M226 662h0M1047 707h0M291 850h0M829 545h0M1100 443h0M1107 516h0M699 694h0M1051 471h0M1160 450h0M911 567h0M1001 603h0M241 682h0M1137 620h0M1031 342h0M882 627h0M1151 601h0M1028 340h0M877 670h0M970 704h0M1095 361h0M899 699h0M1176 474h0M1077 346h0M1011 349h0M810 693h0M1036 609h0M1021 570h0M1005 464h0M859 766h0M1144 402h0M202 498h0M1210 582h0M889 738h0M1027 680h0M763 658h0M907 547h0M899 538h0M1201 594h0M198 420h0M823 720h0M1154 456h0M868 616h0M840 725h0M1011 582h0M1033 743h0M791 731h0M983 650h0M910 649h0M1030 746h0M1074 591h0M1035 571h0M307 824h0M854 725h0M311 719h0M862 394h0M1133 640h0M822 595h0M1053 354h0M1076 561h0M1143 644h0M878 655h0M731 451h0M1078 531h0M987 724h0M1034 534h0M1204 414h0M348 934h0M1115 349h0M1097 294h0M872 392h0M883 733h0M923 542h0M1091 645h0M357 843h0M846 711h0M1072 736h0M1051 553h0M1014 552h0M1017 366h0M776 688h0M1111 681h0M290 671h0M765 537h0M778 297h0M892 655h0M1172 584h0M345 810h0M1078 449h0M1016 333h0M332 899h0M331 820h0M1004 451h0M1084 263h0M1083 332h0M1000 437h0M321 899h0M995 748h0M796 729h0M320 803h0M1048 452h0M1207 474h0M1074 368h0M178 404h0M1013 720h0M843 631h0M1155 450h0M996 520h0M1182 483h0M1065 468h0M994 591h0M938 602h0M1179 619h0M879 512h0M956 671h0M979 595h0M867 373h0M1121 625h0M933 728h0M300 645h0M157 548h0M191 609h0M334 815h0M1094 398h0M1055 440h0M1011 461h0M872 742h0M869 551h0M752 668h0M948 705h0M783 773h0M976 494h0M312 657h0M969 578h0M1041 365h0M1115 367h0M934 585h0M279 785h0M205 516h0M928 464h0M952 543h0M927 508h0M1047 620h0M1054 717h0M915 683h0M703 692h0M917 244h0M972 419h0M1105 697h0M937 425h0M780 756h0M240 626h0M1140 440h0M1071 452h0M1125 630h0M1063 433h0M1042 513h0M1063 579h0M836 711h0M872 513h0M1016 653h0M199 567h0M304 700h0M1182 477h0M1067 566h0M972 637h0M397 877h0M847 474h0M718 720h0M1120 517h0M950 732h0M961 343h0M1143 370h0M231 626h0M1091 288h0M326 815h0M1208 501h0M997 564h0M255 664h0M1204 544h0M969 488h0M1084 281h0M1003 322h0M346 791h0M896 602h0M1175 506h0M1186 458h0M1113 446h0M290 731h0M1179 570h0M243 609h0M1112 267h0M267 699h0M1140 668h0M1025 752h0M1120 394h0M797 440h0M333 828h0M1007 445h0M696 786h0M759 705h0M308 759h0M1146 438h0M1158 427h0M1043 680h0M930 689h0M979 695h0M965 548h0M1214 598h0M1066 459h0M1093 432h0M1050 398h0M930 386h0M864 720h0M902 395h0M908 667h0M1129 398h0M809 462h0M1176 413h0M1006 331h0M987 522h0M1186 572h0M713 442h0M1038 273h0M825 722h0M956 586h0M990 680h0M994 723h0M893 547h0M963 703h0M927 659h0M993 674h0M785 579h0M960 298h0M908 609h0M1000 513h0M1169 419h0M1130 493h0M239 661h0M845 513h0M1122 327h0M1055 511h0M916 718h0M960 761h0M1175 324h0M203 493h0M198 578h0M317 813h0M906 703h0M769 547h0M986 437h0M898 628h0M1044 529h0M1172 572h0M1073 471h0M1048 415h0M244 642h0M1119 668h0M940 529h0M976 673h0M1185 615h0M1075 497h0M1088 679h0M864 665h0M1125 412h0M889 544h0M1112 632h0M1038 676h0M989 462h0M1058 494h0M985 681h0M1066 516h0M763 621h0M162 591h0M1017 589h0M300 868h0M979 470h0M884 577h0M864 577h0M750 396h0M765 724h0M896 385h0M1030 735h0M923 625h0M1116 603h0M1005 730h0M354 802h0M297 846h0M844 756h0M1196 379h0" stroke="#a486ef"/><path d="M832 667h0M753 597h0M1168 377h0M1196 428h0M1050 458h0M897 540h0M273 457h0M217 570h0M206 352h0M314 743h0M816 547h0M757 773h0M987 346h0M1001 652h0M998 474h0M706 789h0M952 718h0M885 718h0M790 637h0M1054 415h0M1134 354h0M738 765h0M889 517h0M871 692h0M244 594h0M897 616h0M1180 452h0M836 473h0M1069 353h0M1167 303h0M648 620h0M1073 431h0M672 624h0M989 638h0M373 917h0M1024 451h0M1060 469h0M290 704h0M363 816h0M1136 305h0M827 287h0M1017 746h0M157 588h0M952 446h0M1112 335h0M761 584h0M1174 488h0M920 487h0M924 457h0M692 582h0M1109 364h0M939 748h0M864 294h0M848 735h0M936 610h0M322 828h0M981 638h0M1069 558h0M1091 334h0M792 770h0M737 585h0M957 610h0M866 403h0M231 573h0M1119 280h0M363 924h0M1197 392h0M830 513h0M824 752h0M926 612h0M1178 590h0M837 271h0M1161 586h0M252 602h0M888 450h0M846 422h0M1150 498h0M419 962h0M925 663h0M977 364h0M945 717h0M302 797h0M169 589h0M909 492h0M310 747h0M1103 328h0M275 686h0M855 409h0M386 843h0M1143 354h0M990 354h0M925 554h0M982 374h0M786 711h0M945 700h0M828 598h0M370 928h0M990 361h0M1067 372h0M342 888h0M1202 400h0M990 737h0M252 676h0M838 546h0M307 703h0M349 844h0M1198 406h0M906 553h0M761 755h0M850 285h0M704 545h0M957 390h0M715 517h0M393 931h0M778 746h0M1019 378h0M1039 386h0M885 489h0M345 838h0M1027 438h0M875 531h0M784 721h0M1216 534h0M735 364h0M1142 384h0M711 595h0M998 401h0M303 783h0M984 765h0M886 682h0M769 667h0M1027 401h0M241 603h0M877 584h0M923 712h0M1145 608h0M923 719h0M843 336h0M296 622h0M274 604h0M405 838h0M873 596h0M924 725h0M1014 311h0M1052 297h0M714 709h0M1214 516h0M1015 470h0M1173 461h0M707 764h0M917 397h0M1080 461h0M854 650h0M1158 407h0M871 464h0M968 410h0M819 778h0M1128 311h0M845 607h0M786 406h0M1180 500h0M1085 273h0M1015 419h0M675 737h0M1158 342h0M325 921h0M878 556h0M1047 343h0M825 394h0M842 488h0M675 706h0M1116 267h0M689 711h0M1102 662h0M872 659h0M1092 368h0M1192 383h0M231 482h0M753 401h0M944 682h0M300 752h0M1021 462h0M811 682h0M868 713h0M712 743h0M888 395h0M1000 755h0M780 730h0M940 435h0M912 737h0M906 402h0M926 577h0M910 238h0M1154 446h0M346 905h0M1120 348h0M895 516h0M775 667h0M234 600h0M814 309h0M818 473h0M1050 542h0M662 707h0M814 373h0M850 627h0M763 604h0M981 504h0M168 489h0M862 504h0M804 706h0M871 394h0M280 589h0M1161 329h0M776 676h0M800 528h0M1193 401h0M733 755h0M1027 499h0M920 553h0M854 716h0M802 683h0M1049 610h0M1021 753h0M996 573h0M951 578h0M180 558h0M1119 297h0M944 433h0M1038 422h0M1020 740h0M980 456h0M701 773h0M244 583h0M290 827h0M358 855h0M667 342h0M1008 406h0M779 519h0M237 597h0M1156 467h0M823 768h0M815 595h0M334 778h0M994 701h0M665 347h0M361 862h0M1015 541h0M769 604h0M997 561h0M1020 631h0M1189 428h0M1029 722h0M340 825h0M1006 367h0M389 897h0M1088 706h0M1020 401h0M950 424h0M948 601h0M249 609h0M953 495h0M1015 634h0M790 718h0M1005 377h0M424 825h0M748 746h0M1032 373h0M722 565h0M1107 370h0M781 606h0M295 687h0M829 560h0M303 760h0M830 659h0M742 516h0M1022 552h0M1178 422h0M769 752h0M269 639h0M1074 319h0M1058 335h0M309 628h0M941 438h0M1080 692h0M1060 413h0M1026 355h0M942 425h0M838 595h0M313 767h0M1006 428h0M983 384h0M1051 373h0M1070 368h0M904 469h0M740 380h0M951 295h0M1007 440h0M342 893h0M870 643h0M867 547h0M1015 403h0M287 718h0M867 368h0M395 953h0M1160 318h0M353 855h0M983 748h0M1109 322h0M929 356h0M901 719h0M842 495h0M1154 319h0M1125 280h0M867 572h0M982 530h0M902 626h0M1031 713h0M941 505h0M1170 432h0M1184 433h0M982 634h0M1160 380h0M1106 407h0M966 652h0M334 873h0M304 845h0M1189 421h0M299 680h0M947 540h0M1038 348h0M186 536h0M822 414h0M991 548h0M872 717h0M1135 337h0M843 645h0M909 395h0M1077 293h0M824 391h0M910 467h0M770 353h0M792 518h0M1034 474h0M311 796h0M1016 479h0M379 855h0M728 651h0M931 600h0M990 750h0M874 567h0M309 868h0M812 675h0M1206 592h0M842 482h0M852 766h0M1155 430h0M877 421h0M1209 511h0M737 337h0M862 458h0M1114 398h0M880 318h0M373 871h0M309 722h0M831 777h0M870 628h0M1059 686h0M845 693h0M1000 468h0M696 636h0M1055 425h0M775 768h0M937 464h0M790 572h0M886 752h0M965 689h0M948 465h0M385 906h0M1063 294h0M985 413h0M1185 421h0M796 461h0M1072 371h0M882 503h0M828 481h0M729 578h0M304 682h0M1196 467h0M1039 560h0M1187 378h0M951 488h0M828 664h0M1043 287h0M912 706h0M1114 374h0M335 839h0M1170 456h0M805 483h0M783 679h0M971 511h0M1170 408h0M860 691h0M972 349h0M1050 309h0M1186 392h0M834 544h0M829 685h0M1031 530h0M329 904h0M903 560h0M1047 315h0M1071 359h0M1097 668h0M1140 542h0M702 675h0M731 512h0M1110 339h0M1083 366h0M916 421h0M797 705h0M1037 580h0M1185 467h0M887 659h0M862 543h0M292 643h0M1132 303h0M980 346h0M799 565h0M1061 366h0M1000 331h0M1041 692h0M746 668h0M914 547h0M993 657h0M990 455h0M891 649h0" stroke="#9b77f4"/><path d="M715 542h0M421 916h0M955 512h0M794 590h0M902 621h0M394 895h0M734 525h0M229 538h0M825 445h0M365 855h0M923 683h0M858 463h0M1090 303h0M867 481h0M784 337h0M798 717h0M182 510h0M924 402h0M681 578h0M745 659h0M759 572h0M1063 331h0M1048 331h0M919 468h0M1173 402h0M173 439h0M386 883h0M868 676h0M752 707h0M715 725h0M641 634h0M328 789h0M746 719h0M805 252h0M924 446h0M857 516h0M777 591h0M795 741h0M188 383h0M724 668h0M435 735h0M840 555h0M869 543h0M644 723h0M356 888h0M786 664h0M423 937h0M295 636h0M977 355h0M916 619h0M864 524h0M1031 408h0M822 438h0M914 694h0M410 971h0M864 500h0M1176 319h0M1036 360h0M818 693h0M824 465h0M717 735h0M728 433h0M846 523h0M248 325h0M831 416h0M706 442h0M879 716h0M812 487h0M376 889h0M899 370h0M812 470h0M388 856h0M685 801h0M295 697h0M283 664h0M864 370h0M972 524h0M1046 389h0M845 389h0M693 688h0M378 839h0M650 368h0M357 949h0M824 401h0M902 589h0M1070 445h0M892 475h0M1137 373h0M233 640h0M832 588h0M899 725h0M1156 322h0M366 899h0M1064 263h0M674 683h0M986 392h0M1010 371h0M1070 318h0M826 455h0M262 617h0M720 670h0M875 371h0M1021 360h0M1157 525h0M1073 391h0M821 459h0M397 960h0M694 600h0M1127 341h0M1154 336h0M664 689h0M894 450h0M731 675h0M969 378h0M400 929h0M696 730h0M217 374h0M915 438h0M806 432h0M209 420h0M395 966h0M916 380h0M1092 348h0M704 728h0M535 971h0M784 275h0M994 386h0M678 725h0M1039 282h0M910 555h0M861 481h0M986 356h0M747 740h0M370 905h0M1182 347h0M304 837h0M722 724h0M1065 384h0M760 681h0M1032 376h0M1042 397h0M750 735h0M1127 362h0M307 689h0M316 903h0M311 770h0M731 730h0M1050 323h0M794 549h0M859 412h0M1094 325h0M834 479h0M326 838h0M661 692h0M235 631h0M1197 336h0M962 510h0M734 758h0M930 433h0M886 619h0M1014 354h0M1129 392h0M266 579h0M1083 380h0M627 671h0M1031 616h0M804 714h0M360 952h0M944 455h0M767 743h0M298 486h0M265 595h0M504 948h0M1166 340h0M625 688h0M1077 380h0M928 403h0M692 724h0M896 504h0M942 489h0M1170 446h0M690 803h0M1011 382h0M1043 468h0M853 530h0M1010 458h0M230 463h0M755 574h0M785 675h0M182 409h0M909 498h0M967 384h0M964 379h0M774 486h0M813 661h0M655 791h0M772 370h0M1095 267h0M972 413h0M773 596h0M230 580h0M1143 348h0M734 750h0M853 562h0M853 566h0M846 303h0M277 486h0M766 583h0M486 962h0M871 364h0M500 761h0M944 377h0M1086 418h0M1068 304h0M737 614h0M838 513h0M723 659h0M756 527h0M676 693h0M997 637h0M879 341h0M1066 473h0M161 529h0M994 487h0M220 518h0M1045 360h0M1166 441h0M808 420h0M692 767h0M798 483h0M805 700h0M962 577h0M869 408h0M762 637h0M985 742h0M403 898h0M373 830h0M456 930h0M749 685h0M150 565h0M212 491h0M402 955h0M805 663h0M935 450h0M713 679h0M737 493h0M955 348h0M694 699h0M874 428h0M739 414h0M837 693h0M1133 410h0M343 820h0M568 723h0M286 669h0M705 645h0M959 358h0M794 432h0M596 673h0M891 711h0M383 910h0M1183 323h0M1058 420h0M940 444h0M1046 309h0M836 640h0M827 421h0M706 571h0M679 748h0M230 499h0M1050 270h0M1041 449h0M906 269h0M157 585h0M764 737h0M1073 263h0M1103 342h0M745 752h0M363 892h0M898 396h0M987 311h0M839 416h0M929 414h0M269 749h0M934 488h0M356 824h0M815 483h0M378 882h0M794 685h0M1155 370h0M895 680h0M866 634h0M532 693h0M751 774h0M1016 409h0M1015 626h0M787 686h0M894 622h0M955 386h0M874 540h0M822 384h0M739 705h0M872 498h0M950 452h0M701 663h0M1028 337h0M264 632h0M840 592h0M300 855h0M934 413h0M734 377h0M958 567h0M1053 377h0M846 262h0M651 770h0M892 443h0M1054 293h0M1015 485h0M1170 336h0M667 704h0M1081 306h0M271 658h0M860 438h0M967 419h0M498 709h0M1166 464h0M174 580h0M705 776h0M1124 270h0M165 497h0M1047 486h0M738 545h0M916 530h0M1081 300h0M684 657h0M1099 275h0M1046 439h0M819 689h0M733 475h0M690 780h0" stroke="#9268f8"/><path d="M521 956h0M716 598h0M720 743h0M241 544h0M225 531h0M949 378h0M916 523h0M878 313h0M769 485h0M705 450h0M853 494h0M731 589h0M195 428h0M1027 743h0M272 318h0M922 428h0M176 567h0M875 409h0M1078 322h0M1083 295h0M719 510h0M856 483h0M702 761h0M716 398h0M339 837h0M162 543h0M567 665h0M605 616h0M710 438h0M654 650h0M507 674h0M1087 299h0M349 869h0M432 812h0M961 346h0M709 578h0M996 370h0M476 758h0M766 765h0M538 749h0M1094 416h0M653 894h0M710 773h0M1074 306h0M451 974h0M226 602h0M230 488h0M575 676h0M190 579h0M665 796h0M714 765h0M853 416h0M600 743h0M482 967h0M682 762h0M596 747h0M686 773h0M1001 361h0M937 398h0M220 396h0M214 474h0M626 615h0M255 553h0M684 595h0M192 552h0M414 941h0M707 601h0M188 494h0M709 494h0M208 474h0M836 553h0M650 349h0M855 458h0M242 621h0M717 652h0M562 710h0M335 832h0M381 925h0M846 501h0M956 535h0M520 699h0M220 595h0M829 537h0M821 627h0M455 649h0M777 314h0M689 655h0M981 396h0M653 680h0M643 707h0M1081 273h0M555 725h0M736 736h0M686 324h0M554 944h0M871 504h0M691 525h0M348 861h0M1104 379h0M546 725h0M703 683h0M1069 341h0M679 742h0M713 694h0M713 469h0M847 518h0M797 287h0M1148 335h0M669 633h0M347 827h0M276 491h0M271 584h0M694 468h0M685 828h0M1178 310h0M249 489h0M996 503h0M573 683h0M205 361h0M617 640h0M1061 319h0M893 464h0M761 282h0M221 477h0M910 432h0M703 717h0M683 607h0M1032 348h0M162 566h0M974 361h0M184 434h0M1172 389h0M949 342h0M387 948h0M536 704h0M707 674h0M201 548h0M731 456h0M644 734h0M1102 313h0M730 760h0M850 439h0M375 949h0M395 863h0M1079 421h0M728 701h0M190 519h0M700 688h0M797 667h0M763 710h0M368 936h0M443 784h0M926 277h0M864 470h0M178 416h0M858 647h0M674 652h0M208 573h0M889 499h0M690 597h0M974 374h0M388 887h0M400 968h0M497 722h0M575 722h0M815 512h0M885 391h0M637 592h0M990 382h0M307 862h0M784 603h0M745 772h0M954 311h0M202 487h0M814 462h0M584 699h0M948 446h0M250 329h0M341 852h0M727 647h0M937 373h0M259 544h0M395 934h0M1098 361h0M184 522h0M826 467h0M801 450h0M629 681h0M871 249h0M675 832h0M253 396h0M179 429h0M747 779h0M284 620h0M821 422h0M692 838h0M930 379h0M377 901h0M641 669h0M734 772h0M558 680h0M842 386h0M1100 397h0M683 730h0M696 518h0M615 625h0M919 456h0M1081 269h0M838 427h0M244 633h0M536 694h0M525 675h0M276 312h0M970 465h0M741 743h0M304 652h0M635 634h0M690 610h0M1088 286h0M615 645h0M588 637h0M560 662h0M188 510h0M904 264h0M936 522h0M330 832h0M709 753h0M915 512h0M1012 694h0M741 655h0M850 606h0M696 802h0M765 565h0M651 688h0M702 795h0M1128 373h0M265 656h0M875 362h0M988 409h0M870 385h0M557 671h0M230 540h0M1160 353h0M901 525h0M727 687h0M643 687h0M239 434h0M892 631h0M1121 491h0M716 759h0M1074 398h0M293 524h0M171 506h0M482 856h0M255 589h0M178 598h0M649 719h0M564 681h0M160 495h0M685 680h0M757 639h0M673 868h0M293 839h0" stroke="#8859fa"/><path d="M607 718h0M587 706h0M423 852h0M795 259h0M542 674h0M545 674h0M628 753h0M358 905h0M835 396h0M622 579h0M647 887h0M560 970h0M417 950h0M648 764h0M418 926h0M284 586h0M678 592h0M378 919h0M398 870h0M727 755h0M529 329h0M584 637h0M382 875h0M230 523h0M658 675h0M481 970h0M206 367h0M611 705h0M421 845h0M452 950h0M654 620h0M418 901h0M686 838h0M542 322h0M604 626h0M676 668h0M786 262h0M210 378h0M736 662h0M508 973h0M619 704h0M571 728h0M173 404h0M251 567h0M505 311h0M696 754h0M213 506h0M621 595h0M487 899h0M312 522h0M941 516h0M506 766h0M405 940h0M901 221h0M181 458h0M374 612h0M632 699h0M178 535h0M187 500h0M553 657h0M318 457h0M958 323h0M633 626h0M682 771h0M856 330h0M416 913h0M692 789h0M245 614h0M672 554h0M730 772h0M490 312h0M545 680h0M503 746h0M608 670h0M668 735h0M273 613h0M490 785h0M528 737h0M198 474h0M670 877h0M779 264h0M547 855h0M255 562h0M643 788h0M517 716h0M463 650h0M636 597h0M661 591h0M394 856h0M420 904h0M589 709h0M248 536h0M838 256h0M763 770h0M506 968h0M524 979h0M667 531h0M164 547h0M562 786h0M763 316h0M267 446h0M818 318h0M570 674h0M464 772h0M547 709h0M684 815h0M614 889h0M517 752h0M650 681h0M671 687h0M196 554h0M648 633h0M534 670h0M578 355h0M438 752h0M997 316h0M516 961h0M701 552h0M213 389h0M592 634h0M268 615h0M674 583h0M947 419h0M661 777h0M669 766h0M351 894h0M577 792h0M657 586h0M657 728h0M667 616h0M667 784h0M177 516h0M461 633h0M951 269h0M650 904h0M174 529h0M1081 288h0M490 673h0M617 653h0M816 365h0M861 270h0M722 770h0M626 655h0M620 731h0M195 560h0M856 507h0M894 573h0M411 837h0M670 849h0M921 524h0M899 291h0M459 643h0M923 414h0M745 730h0M708 469h0M624 601h0M292 584h0M163 471h0M657 633h0M926 347h0M685 845h0M242 461h0M756 303h0M391 958h0M865 440h0M463 664h0M688 747h0M671 792h0M441 892h0M654 643h0M702 747h0M516 743h0M965 300h0M448 965h0M433 826h0M153 543h0M258 476h0M671 598h0M723 350h0M550 716h0M760 342h0M299 330h0M262 600h0M371 322h0M231 445h0M499 978h0M905 528h0M719 354h0M675 524h0M204 480h0M266 665h0M239 494h0" stroke="#7e4afc"/><path d="M301 317h0M675 822h0M380 425h0M671 586h0M544 864h0M592 645h0M288 579h0M726 731h0M422 639h0M520 976h0M241 401h0M665 774h0M677 777h0M478 622h0M682 864h0M460 962h0M287 313h0M845 232h0M367 343h0M535 851h0M483 871h0M699 512h0M244 525h0M625 747h0M448 894h0M396 316h0M209 410h0M522 329h0M598 633h0M620 683h0M1001 286h0M440 835h0M554 880h0M941 294h0M439 598h0M442 809h0M587 679h0M546 697h0M784 306h0M437 889h0M297 592h0M465 910h0M667 845h0M678 717h0M379 359h0M490 749h0M664 723h0M464 795h0M312 474h0M660 507h0M592 716h0M645 589h0M423 912h0M203 541h0M466 924h0M498 674h0M216 403h0M409 833h0M554 782h0M311 516h0M559 949h0M676 801h0M456 955h0M451 880h0M339 494h0M663 743h0M643 825h0M225 395h0M567 704h0M506 700h0M598 638h0M664 635h0M668 864h0M669 622h0M491 761h0M469 653h0M401 601h0M486 321h0M552 973h0M527 943h0M455 935h0M531 723h0M619 615h0M363 937h0M485 663h0M629 864h0M485 626h0M173 461h0M551 961h0M283 474h0M561 738h0M458 971h0M521 785h0M258 511h0M502 828h0M432 643h0M403 367h0M485 667h0M636 780h0M422 859h0M633 585h0M558 659h0M688 434h0M246 588h0M651 729h0M236 412h0M660 823h0M295 494h0M154 526h0M427 873h0M443 657h0M384 655h0M178 476h0M177 391h0M629 730h0M427 643h0M499 737h0M166 584h0M477 663h0M231 530h0M195 439h0M191 421h0M188 486h0M677 559h0M685 506h0M401 457h0M435 797h0M739 778h0M331 446h0M578 717h0M559 760h0M660 542h0M440 904h0M479 948h0M546 322h0M647 712h0M571 937h0M364 583h0M617 758h0M670 776h0M227 435h0M636 889h0M369 536h0M664 571h0M250 500h0M395 325h0M636 876h0M259 481h0M183 446h0M486 643h0M248 319h0M534 685h0M657 498h0M631 651h0M891 262h0M192 513h0M642 643h0M404 438h0M295 540h0M239 337h0M235 429h0M677 765h0M254 520h0M200 536h0M526 709h0M653 664h0M397 331h0M646 566h0M465 754h0M331 323h0M612 712h0M644 743h0M685 531h0M429 436h0M664 818h0M915 453h0M731 304h0M625 917h0M540 928h0M449 809h0M258 458h0M563 655h0M223 443h0M280 613h0M685 463h0M671 671h0M653 567h0M619 767h0M695 479h0M671 518h0M279 416h0M591 727h0M504 712h0M581 649h0M529 718h0M536 655h0M458 935h0M696 475h0M557 715h0M311 346h0M484 650h0M201 560h0M441 838h0M470 750h0M401 627h0M429 650h0M606 839h0M435 879h0M601 651h0M188 446h0M580 668h0M208 489h0M549 952h0M592 367h0M724 594h0M654 837h0M490 979h0M605 893h0M495 948h0M592 694h0M225 358h0M221 354h0M632 675h0M607 753h0M566 945h0M529 958h0M235 510h0M217 626h0" stroke="#6f36fd"/><path d="M666 432h0M560 640h0M550 948h0M177 523h0M241 560h0M671 786h0M627 853h0M313 316h0M454 918h0M498 664h0M560 796h0M525 959h0M276 480h0M430 632h0M582 712h0M263 526h0M612 911h0M650 855h0M238 444h0M668 427h0M266 627h0M521 692h0M458 403h0M581 901h0M689 341h0M430 885h0M293 560h0M472 766h0M552 685h0M527 780h0M471 864h0M625 762h0M676 825h0M647 540h0M617 577h0M571 695h0M383 886h0M424 618h0M358 359h0M465 638h0M546 767h0M664 857h0M479 747h0M266 473h0M379 604h0M532 753h0M225 410h0M662 717h0M469 334h0M836 349h0M585 645h0M335 549h0M464 616h0M591 701h0M350 325h0M333 329h0M620 645h0M525 907h0M466 840h0M552 324h0M446 380h0M467 646h0M472 959h0M536 332h0M432 911h0M523 923h0M502 474h0M573 595h0M560 349h0M284 537h0M493 889h0M326 319h0M497 940h0M476 667h0M446 646h0M456 808h0M208 425h0M642 620h0M607 877h0M671 807h0M643 894h0M291 485h0M295 555h0M514 882h0M291 328h0M464 844h0M441 870h0M614 561h0M1032 274h0M801 329h0M577 358h0M500 317h0M659 783h0M706 347h0M514 772h0M488 863h0M468 764h0M490 855h0M672 548h0M493 319h0M650 403h0M661 759h0M542 752h0M472 372h0M640 554h0M650 500h0M250 414h0M568 652h0M227 377h0M517 768h0M464 918h0M653 786h0M657 889h0M239 578h0M343 323h0M402 337h0M265 400h0M529 659h0M375 573h0M365 520h0M616 832h0M225 455h0M637 759h0M625 771h0M485 759h0M451 901h0M524 722h0M230 385h0M306 473h0M628 888h0M807 345h0M535 742h0M331 495h0M292 463h0M643 857h0M577 728h0M676 753h0M549 772h0M632 738h0M229 452h0M567 422h0M428 324h0M658 710h0M387 324h0M475 313h0M619 717h0M166 477h0M492 808h0M671 535h0M514 747h0M347 440h0M594 736h0M981 299h0M514 721h0M428 931h0M659 337h0M456 880h0M802 341h0M667 555h0M622 881h0M590 722h0M603 578h0M532 711h0M613 376h0M368 368h0M325 517h0M360 373h0M633 840h0M480 646h0M637 627h0M590 750h0M515 656h0M596 722h0M610 590h0M290 408h0M885 340h0M460 329h0M678 553h0M576 662h0M632 832h0M600 706h0M593 742h0M511 650h0M522 316h0M236 340h0M465 888h0M642 813h0M514 583h0M640 573h0M458 802h0M653 850h0M577 934h0M321 529h0M758 285h0M646 638h0M638 371h0M643 473h0M660 566h0M637 791h0M599 767h0M503 661h0M622 754h0M172 521h0M244 467h0M549 887h0M254 354h0M452 316h0M433 832h0M471 870h0M473 949h0M492 893h0M536 948h0M489 348h0M817 255h0M652 590h0M505 821h0M648 461h0M556 967h0M507 692h0M526 867h0M959 303h0M659 859h0M856 263h0M322 458h0" stroke="#5f23ff"/><path d="M390 606h0M472 941h0M632 373h0M526 761h0M369 574h0M418 379h0M519 893h0M598 560h0M556 633h0M470 576h0M619 531h0M221 404h0M642 415h0M638 905h0M442 845h0M590 625h0M565 633h0M606 536h0M360 451h0M642 900h0M583 955h0M444 475h0M423 584h0M399 361h0M171 425h0M594 629h0M408 329h0M617 591h0M244 457h0M592 778h0M650 814h0M629 546h0M470 640h0M263 367h0M637 398h0M509 862h0M539 859h0M738 348h0M479 470h0M343 523h0M385 483h0M643 511h0M647 560h0M629 907h0M221 462h0M868 333h0M323 552h0M646 407h0M621 741h0M438 355h0M577 614h0M568 831h0M589 917h0M685 859h0M626 844h0M566 760h0M630 798h0M660 846h0M181 468h0M651 527h0M511 762h0M447 516h0M523 816h0M423 616h0M738 344h0M548 643h0M442 821h0M531 492h0M552 871h0M385 404h0M314 419h0M533 798h0M645 458h0M468 877h0M644 553h0M553 820h0M544 717h0M541 823h0M569 905h0M454 834h0M535 785h0M592 669h0M554 773h0M532 324h0M542 889h0M564 752h0M388 586h0M504 334h0M561 555h0M371 552h0M627 910h0M258 549h0M271 404h0M640 869h0M553 776h0M528 669h0M351 483h0M438 618h0M577 390h0M494 826h0M240 359h0M355 558h0M743 310h0M302 506h0M448 796h0M585 767h0M513 394h0M662 814h0M499 434h0M259 516h0M538 646h0M649 777h0M419 567h0M503 804h0M332 518h0M633 451h0M528 967h0M572 631h0M259 431h0M416 428h0M598 507h0M528 796h0M498 797h0M596 372h0M629 874h0M522 804h0M598 383h0M169 491h0M619 819h0M686 350h0M502 874h0M559 967h0M529 319h0M500 312h0M459 816h0M678 847h0M287 450h0M241 392h0M486 924h0M469 895h0M358 517h0M441 615h0M446 392h0M507 946h0M251 379h0M455 855h0M203 464h0M604 658h0M588 842h0M587 839h0M587 585h0M647 851h0M522 340h0M574 422h0M559 766h0M533 977h0M595 845h0M547 637h0M596 760h0M586 790h0M666 869h0M504 488h0M511 410h0M504 943h0M466 851h0M675 543h0M211 349h0M367 576h0M606 764h0M517 318h0M715 349h0M407 348h0M696 329h0M525 615h0M510 654h0M820 325h0M642 428h0M365 591h0M509 791h0M375 425h0M554 858h0M654 461h0M714 313h0M616 735h0M281 421h0M234 388h0M612 570h0M559 404h0M483 906h0M581 941h0M436 468h0M327 513h0M638 433h0M489 331h0M965 335h0M706 318h0M446 898h0M518 737h0M547 626h0M500 870h0M684 343h0M619 507h0M594 821h0M534 614h0M661 868h0M569 615h0M455 844h0" stroke="#3f11ff"/><path d="M393 406h0M549 589h0M300 413h0M593 852h0M571 924h0M420 444h0M524 451h0M507 446h0M451 329h0M843 346h0M620 390h0M316 395h0M627 513h0M475 507h0M541 760h0M267 431h0M511 420h0M300 367h0M477 844h0M516 632h0M436 518h0M422 348h0M556 392h0M460 340h0M616 549h0M449 871h0M568 843h0M277 437h0M598 839h0M363 307h0M225 419h0M468 879h0M622 796h0M319 342h0M475 412h0M409 407h0M567 548h0M507 482h0M569 462h0M282 355h0M617 797h0M461 318h0M391 512h0M513 385h0M476 561h0M385 494h0M630 918h0M280 480h0M400 566h0M417 436h0M822 343h0M531 584h0M380 407h0M682 348h0M463 467h0M479 334h0M448 543h0M294 325h0M430 361h0M566 332h0M241 527h0M573 451h0M516 378h0M324 427h0M583 903h0M293 482h0M296 355h0M576 403h0M633 512h0M265 316h0M475 391h0M322 330h0M478 358h0M286 400h0M472 384h0M236 376h0M562 883h0M555 385h0M404 388h0M426 537h0M514 621h0M327 379h0M546 524h0M407 431h0M420 432h0M464 511h0M351 372h0M628 438h0M588 432h0M371 516h0M519 491h0M542 425h0M601 788h0M498 629h0M356 499h0M335 414h0M202 433h0M452 561h0M321 416h0M238 471h0M413 601h0M428 373h0M499 409h0M546 334h0M572 572h0M528 536h0M548 461h0M292 401h0M300 438h0M644 843h0M346 461h0M602 398h0M569 899h0M540 445h0M239 349h0M540 590h0M418 549h0M363 383h0M517 487h0M506 780h0M473 535h0M497 336h0M541 813h0M480 840h0M433 536h0M376 449h0M833 264h0M516 923h0M416 385h0M381 463h0M439 487h0M570 619h0M319 514h0M541 408h0M466 476h0M538 358h0M492 494h0M428 493h0M615 897h0M377 413h0M497 831h0M481 547h0M548 492h0M605 832h0M297 383h0M486 891h0M461 512h0M380 433h0M609 518h0M503 534h0M581 443h0M500 456h0M519 942h0M464 819h0M258 404h0M538 462h0M366 473h0M425 415h0M540 470h0M508 571h0M448 604h0M517 649h0M370 527h0M549 364h0M592 521h0M541 665h0M458 360h0M384 598h0M570 821h0M204 421h0M521 547h0M405 524h0M485 409h0M223 438h0M329 431h0M615 801h0M416 537h0M597 458h0M510 529h0M510 565h0M587 495h0M277 366h0M252 443h0M549 815h0M385 610h0M485 335h0M563 626h0M353 513h0M503 368h0M416 372h0M328 529h0M667 834h0M591 438h0M388 477h0M374 458h0M607 438h0M436 358h0M512 603h0M534 361h0M598 426h0M514 555h0M516 428h0M322 382h0M460 414h0M536 511h0M387 402h0M627 403h0M359 498h0M563 353h0M329 398h0M721 317h0M544 537h0M425 609h0M436 325h0M775 305h0M580 531h0M416 403h0M520 504h0M609 543h0M618 857h0M444 398h0M609 847h0M360 459h0M489 839h0M622 834h0M378 418h0M414 491h0M384 457h0M594 519h0M626 925h0M589 530h0M489 395h0M451 341h0M518 360h0M447 360h0M565 339h0M623 474h0M619 402h0M571 800h0M491 564h0M461 346h0M503 916h0M395 536h0M528 540h0M353 383h0M517 366h0M419 594h0M348 487h0M290 382h0M381 350h0M403 546h0M383 438h0M539 834h0M475 539h0M405 598h0M478 918h0M328 526h0M454 468h0M325 462h0M223 377h0M583 814h0M412 540h0M534 580h0M460 477h0M483 591h0M480 497h0M588 458h0M412 451h0M584 415h0M605 589h0M547 444h0M456 518h0M554 433h0M521 513h0M629 415h0M385 334h0M345 334h0M570 580h0M423 480h0M467 318h0M441 548h0M406 332h0M308 492h0M519 879h0M304 440h0M587 740h0M407 553h0M415 328h0M386 556h0M634 463h0M652 492h0M490 905h0M505 540h0M602 418h0M596 434h0M636 541h0M534 591h0M280 371h0M509 875h0M286 397h0M511 795h0M439 412h0M467 584h0M571 534h0M416 407h0M337 395h0M504 346h0M480 400h0M531 915h0M467 550h0M639 797h0M270 415h0M621 873h0M377 385h0M618 494h0M421 421h0M433 486h0M493 853h0M409 631h0M542 505h0M276 318h0M555 458h0M613 523h0M540 943h0M627 461h0M479 414h0M493 534h0M572 438h0M619 549h0M490 919h0M363 441h0M613 864h0M521 475h0M425 631h0M636 828h0M585 899h0M343 555h0M828 337h0M447 498h0M529 343h0M615 880h0M533 810h0M489 547h0M542 475h0M402 344h0M524 404h0M454 409h0M548 904h0M365 312h0M514 373h0M368 585h0M365 506h0M470 531h0M484 310h0M401 373h0M375 486h0M448 625h0M544 829h0M920 283h0M395 493h0M488 356h0M398 493h0M537 538h0M588 930h0M328 330h0M280 382h0M542 579h0M381 495h0M577 802h0M233 358h0M590 346h0M409 427h0M457 540h0M560 373h0M460 609h0M581 818h0M438 328h0M634 524h0M492 796h0M543 559h0M342 331h0M584 886h0M459 449h0M394 518h0M476 796h0M585 549h0M533 929h0M381 475h0M587 513h0M609 431h0M520 371h0M400 395h0M579 344h0M597 529h0M332 407h0M588 883h0M284 364h0M428 516h0M305 392h0M566 551h0M570 863h0M417 525h0M561 467h0M583 858h0M576 480h0M497 553h0M567 505h0M322 498h0M489 625h0M475 510h0M500 579h0M576 818h0M582 554h0M601 553h0M579 573h0M402 499h0M542 898h0M480 888h0M412 376h0M408 500h0M403 376h0M320 391h0M411 559h0M555 371h0M407 507h0M475 481h0M536 412h0M497 422h0M424 474h0M724 315h0M353 471h0M633 813h0M578 828h0M546 540h0M512 469h0M568 590h0M467 364h0M521 920h0M538 499h0M580 752h0M369 548h0M409 537h0M310 407h0M338 504h0M607 402h0M381 451h0M633 534h0M531 431h0M577 546h0M469 588h0M304 453h0M348 354h0M465 579h0M339 355h0M515 571h0M541 970h0M605 550h0M387 579h0M465 566h0M479 561h0M213 479h0M480 354h0M191 479h0M616 542h0M479 383h0M411 401h0M536 438h0M487 815h0M451 595h0M468 522h0M600 437h0M343 570h0M566 523h0M257 378h0M282 316h0M575 349h0M483 534h0M570 406h0M296 456h0M563 514h0M526 468h0M492 516h0M545 777h0M362 522h0M643 481h0M546 458h0M963 267h0M577 857h0M582 796h0M435 383h0M580 894h0M558 426h0M433 446h0M610 419h0M603 481h0M230 398h0M257 438h0M497 395h0M523 364h0M532 457h0M317 382h0M508 888h0M321 438h0M486 365h0M531 370h0M507 382h0M374 481h0M506 497h0M501 610h0M545 614h0M412 577h0M520 383h0M344 372h0M475 925h0M535 353h0M266 406h0M310 420h0M576 882h0M613 498h0M484 807h0M577 835h0M596 468h0M343 468h0M474 606h0M525 765h0M519 458h0M483 372h0M469 483h0M477 493h0M358 577h0M423 438h0M538 780h0M431 497h0M536 378h0M604 871h0M478 614h0M423 627h0M483 368h0M462 456h0M454 475h0M320 424h0M451 504h0M516 477h0M467 535h0M592 838h0M367 330h0M394 541h0M417 449h0M354 476h0M569 786h0M210 395h0M451 445h0M462 560h0M325 421h0M514 332h0M593 788h0M574 555h0M520 543h0M586 390h0M558 935h0M313 510h0M523 461h0M552 873h0M484 552h0M565 765h0M391 457h0M507 803h0M476 345h0M496 619h0M574 343h0M447 354h0M616 470h0M472 368h0M548 386h0M517 479h0M413 474h0M484 456h0M503 416h0M475 803h0M310 480h0M379 443h0M325 430h0M357 566h0M382 534h0M503 562h0M465 516h0M363 573h0M408 361h0M569 795h0M695 334h0M550 510h0M604 570h0M392 468h0M531 803h0M629 515h0M294 499h0M493 511h0M321 504h0M581 491h0M349 368h0M412 343h0M307 370h0M447 582h0M426 561h0M519 855h0M311 488h0M388 449h0M631 859h0M576 874h0M454 579h0M596 591h0M504 580h0M341 463h0M395 481h0M416 413h0M268 340h0M293 433h0M499 818h0M540 495h0M619 931h0M619 439h0M565 924h0M380 579h0M520 421h0M419 407h0M420 600h0M489 592h0M348 427h0M507 868h0M624 409h0M362 513h0M856 287h0M356 376h0M418 475h0M570 756h0M627 536h0M466 331h0M578 425h0M619 837h0M385 602h0M349 403h0M469 506h0M550 924h0M487 634h0M591 758h0M604 494h0M403 427h0M284 414h0M467 343h0M514 827h0M497 603h0M329 455h0M370 434h0M550 485h0M589 395h0M563 532h0M369 355h0M630 530h0M624 807h0M348 498h0M549 565h0M405 631h0M507 602h0M583 383h0M508 562h0M297 337h0M562 567h0M391 331h0M532 445h0M443 349h0M489 603h0M366 540h0M643 537h0M538 840h0M529 400h0M560 748h0M603 529h0M552 409h0M517 559h0M580 501h0M456 422h0M348 328h0M545 942h0M343 348h0M515 901h0M528 382h0M433 524h0M572 414h0M557 537h0M531 925h0M544 923h0M531 509h0M371 467h0M512 928h0M587 438h0M629 803h0M347 535h0M468 612h0M594 926h0M453 849h0M559 846h0M398 366h0M573 876h0M591 827h0M416 626h0M598 491h0M480 476h0M534 879h0M416 360h0M581 580h0M345 517h0M588 855h0M303 510h0M378 337h0M622 562h0M544 623h0M601 829h0M519 554h0M389 485h0M289 422h0M486 464h0M549 918h0M392 505h0M574 773h0M270 452h0M271 364h0M644 491h0M528 821h0M302 347h0M451 497h0M552 537h0M604 467h0M443 457h0M486 485h0M465 360h0M426 403h0M437 501h0M379 552h0M412 470h0M447 384h0M408 530h0M331 362h0M492 547h0M442 419h0M359 479h0M509 936h0M408 469h0M613 489h0M584 911h0M602 520h0M513 458h0M490 850h0M478 597h0M610 471h0M412 445h0M535 474h0M397 437h0M555 844h0M335 537h0M566 542h0M332 565h0M551 861h0M351 407h0M437 461h0M596 554h0M555 810h0M454 365h0M360 487h0M534 530h0M334 317h0M583 566h0M389 364h0M452 876h0M240 407h0M548 453h0M514 415h0M607 452h0M601 571h0M494 449h0M472 402h0M299 450h0M479 379h0M570 523h0M582 516h0M432 402h0M471 516h0M567 444h0M575 892h0M630 445h0M652 503h0M550 570h0M573 377h0M609 736h0M533 626h0M497 372h0M499 440h0M516 453h0M567 867h0M514 482h0M534 601h0M539 457h0M352 419h0M596 616h0M512 842h0M284 428h0M485 383h0M484 432h0M548 500h0M505 493h0M569 495h0M577 488h0M482 873h0M440 579h0M447 873h0M496 570h0M588 536h0M512 348h0M491 530h0M506 359h0M473 876h0M432 863h0M591 475h0M434 396h0M314 341h0M510 355h0M605 444h0M409 564h0M441 452h0M474 571h0M545 929h0" stroke="#1e00ff"/><path d="M1131 488h0M1161 456h0M913 287h0M925 772h0M902 352h0M802 270h0M732 415h0M924 324h0M829 322h0M692 438h0M996 469h0M853 357h0M793 347h0M671 486h0M1048 550h0M681 430h0M840 239h0M783 553h0M841 663h0M934 304h0M862 346h0M991 767h0M1077 541h0M679 359h0M1106 637h0M919 338h0M737 719h0M853 741h0M220 638h0M409 849h0M756 383h0M1144 335h0M720 397h0M862 289h0M1089 656h0M1151 294h0M835 234h0M335 904h0M744 513h0M977 765h0M997 281h0M1039 697h0M733 317h0M688 518h0M726 401h0M813 700h0M684 352h0M791 449h0M916 305h0M866 230h0M782 291h0M999 487h0M920 692h0M786 469h0M1060 552h0M770 579h0M1098 420h0M724 523h0M933 358h0M726 538h0M992 619h0M248 619h0M725 582h0M927 270h0M751 384h0M745 317h0M803 291h0M899 340h0M871 245h0M893 246h0M1114 491h0M868 469h0M776 537h0M772 461h0M760 533h0M842 615h0M865 355h0M1060 362h0M736 481h0M943 728h0M861 251h0M1046 275h0M1057 482h0M870 301h0M891 249h0M791 444h0M650 422h0M960 676h0M1206 468h0M903 249h0M1071 632h0M1111 559h0M993 522h0M1156 540h0M794 524h0M1092 564h0M850 279h0M850 257h0M668 335h0M767 280h0M870 310h0M935 692h0M1191 470h0M226 558h0M705 524h0M870 327h0M251 574h0M672 434h0M808 281h0M841 289h0M841 759h0M743 348h0M808 579h0M705 438h0M1168 504h0M843 273h0M884 273h0M935 340h0M763 276h0M1132 533h0M1158 304h0M969 616h0M790 304h0M903 238h0M794 319h0M680 529h0M733 340h0M740 464h0M841 251h0M913 336h0M765 324h0M1173 608h0M883 263h0M710 355h0M742 552h0M892 316h0M756 499h0M1082 441h0M1135 601h0M668 494h0M887 318h0M160 475h0M874 280h0M738 403h0M845 295h0M1112 613h0M289 619h0M696 434h0M843 325h0M685 455h0M833 318h0M783 341h0M763 479h0M940 300h0M812 389h0M1147 524h0M724 693h0M1031 637h0M731 396h0M167 554h0M836 274h0M212 528h0M1080 621h0M825 730h0M1025 625h0M962 281h0M860 740h0M276 752h0M825 379h0M1098 610h0M801 274h0M828 358h0M1199 474h0M819 275h0M825 298h0M820 300h0M1080 616h0M859 282h0M929 281h0M965 307h0M941 312h0M865 256h0M1161 438h0M1133 578h0M1164 565h0M997 435h0M727 379h0M755 449h0M1102 499h0M946 518h0M1125 304h0M724 414h0M897 251h0M671 446h0M1211 507h0M1064 717h0M956 658h0M894 340h0M894 259h0M871 277h0M825 306h0M400 855h0M811 755h0M995 614h0M1132 402h0M742 334h0M760 303h0M948 579h0M255 689h0M1129 627h0M676 331h0M1018 597h0M213 606h0M1001 297h0M894 744h0M1102 688h0M893 291h0M908 632h0M703 355h0M1095 404h0M990 298h0M794 747h0M1071 653h0M732 403h0M859 343h0M835 321h0M673 456h0M999 452h0M941 752h0M674 361h0M744 339h0M860 227h0M910 322h0M1177 394h0M815 349h0M983 419h0M1009 603h0M815 292h0M1129 555h0M782 780h0M662 364h0M848 251h0M985 279h0M777 565h0M1163 494h0M755 753h0M911 228h0M947 726h0M739 293h0M667 385h0M1068 572h0M783 567h0M997 276h0M777 269h0M752 457h0M820 543h0M1141 566h0M818 765h0M789 279h0M962 313h0M906 354h0M745 522h0M352 810h0M975 663h0M941 331h0M895 360h0M934 555h0M228 618h0M979 462h0M830 294h0M860 247h0M968 262h0M966 534h0M843 316h0M1161 552h0M870 340h0M976 311h0M871 735h0M1196 362h0M769 275h0M1092 615h0M1007 578h0M393 906h0M718 535h0M860 262h0M710 553h0M944 275h0M960 274h0M900 777h0M938 359h0M759 313h0M988 422h0M943 306h0M871 257h0M754 607h0M955 353h0M813 325h0M926 319h0M912 299h0M995 334h0M999 303h0M920 331h0M888 233h0M969 447h0M1197 492h0M866 695h0M1018 521h0M652 395h0M1133 467h0M806 446h0M827 579h0M927 328h0M785 298h0M805 316h0M866 681h0M780 743h0M715 773h0M925 239h0M920 776h0M699 355h0M731 555h0M803 537h0M938 336h0M226 589h0M888 364h0M1006 291h0M934 501h0M861 257h0M1005 303h0M793 334h0M976 270h0M997 528h0M1057 507h0M293 807h0M930 259h0M781 485h0M166 511h0M849 298h0M941 326h0M1032 686h0M887 270h0M750 471h0M763 505h0M1057 651h0M685 359h0M811 335h0M701 481h0M822 283h0M926 301h0M858 356h0M187 586h0M905 287h0M967 287h0M866 280h0" stroke="#d3d3d3"/><path d="M1083 598h0M1157 637h0M1108 603h0M1015 676h0" stroke="#cac4d9"/><path d="M1122 615h0M1000 456h0M186 622h0M1061 683h0M1100 698h0M196 649h0M259 589h0M1093 469h0M1033 642h0M1157 566h0M272 681h0M1070 500h0M1199 516h0M195 633h0M1136 566h0M992 707h0M1150 640h0M894 562h0M287 795h0M1005 390h0M1099 613h0M236 610h0M990 711h0M1118 645h0M1102 542h0M294 691h0M1154 600h0M1079 637h0M1214 558h0M185 633h0M189 637h0M1061 741h0M1096 535h0M1165 622h0M1093 592h0M223 485h0M1138 537h0M1093 407h0M213 656h0M1173 499h0M1137 655h0M1158 576h0M1116 525h0M1069 622h0" stroke="#c1b5df"/><path d="M1026 644h0M916 750h0M877 761h0M948 348h0M300 777h0M247 686h0M1107 566h0M1097 583h0M1109 537h0M1178 510h0M913 752h0M1056 620h0M1103 486h0M897 676h0M1162 626h0M249 681h0M300 810h0M1014 713h0M855 663h0M1091 709h0M962 667h0M1111 523h0M1193 534h0M1130 584h0M1161 518h0M1086 662h0M223 676h0M1076 330h0M1217 571h0M979 516h0M966 621h0M930 707h0M216 591h0M1189 598h0M1002 612h0M938 764h0M1117 679h0M1182 546h0M233 667h0M902 652h0M982 614h0M1161 529h0M1083 681h0M1116 516h0M979 704h0M1120 439h0M1023 615h0M1040 526h0M957 754h0M1068 682h0M1107 687h0M291 777h0M984 706h0M885 742h0M1042 598h0M1051 601h0M955 725h0M979 759h0M1026 558h0M1103 522h0M1108 577h0M1077 622h0M1172 531h0M1129 412h0M322 807h0M1042 613h0M290 816h0M1033 512h0M1001 689h0M1165 501h0M218 662h0M1076 523h0M851 780h0M1081 547h0M1162 592h0M1124 535h0M1148 366h0M1130 524h0M1047 730h0M296 821h0M969 497h0M1038 627h0M1134 530h0M944 631h0M972 735h0M1002 674h0M1053 506h0M945 760h0M906 743h0M1001 584h0M1081 565h0M1076 691h0M937 773h0M1151 560h0" stroke="#b8a6e4"/><path d="M862 689h0M1142 529h0M837 728h0M1105 717h0M1160 597h0M839 755h0M1140 596h0M788 706h0M794 762h0M987 732h0M1030 300h0M973 691h0M1068 608h0M670 800h0M994 324h0M1067 710h0M1067 330h0M798 698h0M1088 548h0M983 657h0M1032 500h0M1111 513h0M1114 698h0M973 570h0M983 579h0M1194 415h0M821 785h0M842 697h0M842 738h0M1085 427h0M1213 525h0M945 591h0M1078 518h0M293 765h0M831 706h0M1084 701h0M1099 694h0M872 487h0M905 638h0M216 650h0M1001 610h0M903 748h0M929 695h0M195 408h0M1017 528h0M293 798h0M1081 510h0M980 276h0M1183 564h0M923 687h0M1035 586h0M914 643h0M1071 549h0M1158 609h0M941 645h0M828 746h0M844 730h0M871 632h0M1035 559h0M854 713h0M293 725h0M1078 503h0M965 712h0M1142 301h0M861 595h0M928 571h0M1049 719h0M1024 724h0M322 760h0M1003 626h0M1025 693h0M150 538h0M1165 310h0M1058 699h0M1026 655h0M854 628h0M238 592h0M980 626h0M248 656h0M1193 451h0M201 645h0M1042 568h0M1186 506h0M287 804h0M1123 594h0M908 755h0M1084 613h0M731 372h0M1137 634h0M897 758h0M1144 562h0M1123 380h0M1124 656h0M1057 583h0M1073 712h0M289 652h0M1211 494h0M1075 645h0M1042 634h0M1144 489h0M1129 612h0M1023 566h0M1182 604h0M301 737h0M1040 353h0M1104 474h0M961 614h0M188 602h0M1135 507h0M1060 548h0M819 762h0M1070 626h0M1012 679h0M905 566h0M1125 474h0M797 625h0M1055 402h0M908 694h0M1152 598h0M1129 649h0M873 706h0M841 772h0M1135 649h0M781 656h0M1020 729h0M835 573h0M959 711h0M1068 510h0M218 580h0M1055 340h0M871 589h0M980 679h0M898 264h0M951 673h0M875 662h0M850 597h0M836 649h0M1022 687h0M1014 580h0M208 656h0M1006 596h0M1105 367h0M1046 542h0M1185 366h0M885 765h0M324 917h0M1115 474h0M1170 612h0M310 807h0M325 770h0M1034 270h0M973 518h0M889 529h0M309 698h0M1137 592h0M273 718h0M972 612h0M192 621h0M240 650h0M1129 643h0M1170 396h0M1040 647h0M734 552h0M843 574h0M1185 530h0M1203 572h0M1084 506h0M1043 348h0M1177 362h0M980 619h0M955 760h0M1188 610h0M319 865h0M303 687h0M1168 551h0M881 773h0M262 711h0M1167 550h0M1189 590h0M1116 312h0M957 561h0M1037 495h0M885 686h0M279 730h0M266 721h0M1015 518h0M980 632h0M836 724h0M1088 574h0M951 603h0M1022 735h0M876 641h0M1037 722h0M1005 522h0M341 779h0M839 487h0M774 776h0M1173 559h0M308 819h0M1054 279h0M1141 287h0M860 671h0M1172 579h0M860 738h0M934 677h0M1106 311h0M848 759h0M890 761h0M943 609h0M1035 641h0M1179 482h0M1200 386h0M1081 457h0M1045 537h0M1132 475h0M995 554h0M1102 673h0M1071 721h0M917 734h0M1141 506h0M1079 493h0M968 749h0M1107 433h0M1014 685h0M1168 519h0M1018 287h0M291 739h0M185 595h0M1049 406h0M1176 347h0M246 652h0M1064 594h0M255 638h0M175 604h0M258 658h0M262 677h0M273 733h0M969 619h0M1053 725h0M247 639h0M1147 462h0M1047 427h0M1130 655h0M1123 677h0M978 609h0M1139 606h0M992 743h0M220 669h0M1027 571h0M1045 522h0M1041 586h0M212 635h0M1004 344h0M909 645h0M1184 492h0M805 755h0M257 671h0M1099 482h0M1024 675h0M943 668h0M935 549h0M260 686h0M852 703h0M970 766h0M187 473h0M953 689h0M1139 319h0M1042 686h0M877 634h0M1032 525h0M1055 500h0M1153 427h0M1081 501h0M732 716h0M997 657h0M1137 492h0M1136 482h0M907 584h0M1200 485h0M1172 437h0M1013 558h0M1032 430h0M779 603h0M1089 691h0M935 752h0M887 561h0M1033 668h0M383 850h0M1025 631h0M884 662h0" stroke="#ae96ea"/><path d="M894 509h0M1014 449h0M285 766h0M1150 362h0M955 525h0M1069 536h0M1207 549h0M280 734h0M203 577h0M1109 620h0M1138 283h0M1084 339h0M1020 716h0M1204 481h0M1142 553h0M1199 394h0M790 597h0M837 667h0M313 756h0M1191 480h0M902 760h0M836 329h0M361 873h0M1048 668h0M156 555h0M290 803h0M328 801h0M1166 523h0M1128 638h0M1131 573h0M1007 530h0M918 664h0M1033 730h0M1067 729h0M878 452h0M930 500h0M1043 498h0M870 762h0M1060 712h0M823 501h0M1096 450h0M290 689h0M923 728h0M1130 295h0M1017 495h0M997 711h0M740 596h0M855 747h0M1074 437h0M815 706h0M294 661h0M333 886h0M1185 584h0M913 676h0M1181 427h0M1036 468h0M1057 657h0M900 682h0M1018 680h0M916 571h0M328 770h0M1120 383h0M920 499h0M1053 588h0M948 480h0M1148 467h0M1098 572h0M212 578h0M225 612h0M951 656h0M768 328h0M965 662h0M857 548h0M266 644h0M1105 667h0M309 830h0M735 395h0M843 549h0M1136 459h0M1117 341h0M845 402h0M814 584h0M756 546h0M986 543h0M307 728h0M1201 562h0M828 566h0M343 833h0M314 833h0M1137 485h0M888 699h0M1069 413h0M818 735h0M968 359h0M885 776h0M411 962h0M799 676h0M983 697h0M1132 428h0M270 669h0M985 644h0M987 445h0M1011 426h0M835 568h0M1124 497h0M184 553h0M737 433h0M1039 744h0M1061 475h0M1141 459h0M838 644h0M1130 462h0M797 695h0M958 494h0M1228 556h0M1011 376h0M997 625h0M971 426h0M328 828h0M1046 589h0M1126 326h0M1077 446h0M926 483h0M1016 383h0M824 679h0M1004 349h0M1004 419h0M1000 499h0M1176 337h0M331 845h0M1076 462h0M1199 380h0M219 491h0M1045 513h0M382 971h0M881 754h0M986 520h0M827 625h0M880 596h0M978 743h0M1179 376h0M822 580h0M1184 397h0M904 277h0M790 682h0M1038 328h0M1005 512h0M223 625h0M1046 735h0M183 542h0M826 572h0M1024 396h0M928 644h0M1039 370h0M1194 594h0M185 462h0M1069 486h0M860 475h0M1055 610h0M1117 536h0M494 741h0M278 718h0M972 355h0M959 749h0M293 718h0M742 689h0M160 562h0M1011 747h0M1111 380h0M959 456h0M934 723h0M320 874h0M923 637h0M948 764h0M1216 511h0M1105 542h0M1098 335h0M944 764h0M944 559h0M744 388h0M934 541h0M1146 499h0M1196 445h0M1007 555h0M256 594h0M1183 555h0M982 662h0M932 517h0M852 643h0M864 669h0M1072 337h0M250 671h0M993 577h0M258 707h0M986 564h0M1053 487h0M1071 717h0M1027 476h0M1106 492h0M331 869h0M1049 700h0M1088 379h0M1103 645h0M1049 491h0M1164 361h0M955 299h0M1007 621h0M1058 576h0M934 493h0M1160 547h0M1097 619h0M934 633h0M829 310h0M1035 549h0M991 598h0M840 392h0M1214 544h0M997 706h0M929 549h0M1067 590h0M321 784h0M914 731h0M962 426h0M930 651h0M1122 649h0M735 446h0M318 761h0M1111 412h0M1041 439h0M1144 574h0M1119 558h0M993 410h0M1013 307h0M149 553h0M1008 431h0M1060 728h0M1070 298h0M1112 473h0M955 661h0M324 883h0M903 698h0M905 576h0M985 618h0M856 276h0M1024 409h0M834 578h0M1027 717h0M760 667h0M325 778h0M1146 548h0M1162 447h0M1014 503h0M749 701h0M1011 622h0M307 847h0M318 748h0M1127 422h0M1117 513h0M874 749h0M894 610h0M1144 516h0M1201 546h0M1151 476h0M1033 621h0M1018 623h0M288 641h0M955 717h0M1115 586h0M838 780h0M791 697h0M996 680h0M815 634h0M970 719h0M205 621h0M1093 491h0M905 737h0M885 669h0M1000 343h0M287 633h0M1074 541h0M876 774h0M1034 414h0M910 264h0M991 717h0M821 505h0M288 770h0M724 461h0M1111 352h0M1031 699h0M960 397h0M910 770h0M919 295h0M1016 602h0M1154 401h0M916 768h0M1105 350h0M262 661h0M960 406h0M1105 281h0M881 727h0M839 538h0M1159 619h0M1039 747h0M826 489h0M971 659h0M990 404h0M1131 451h0M870 664h0M264 682h0M1102 579h0M737 698h0M1011 588h0M898 639h0M864 725h0M855 552h0M951 561h0M283 725h0M936 657h0M1023 760h0M890 601h0M943 342h0M1221 578h0M1024 663h0M948 329h0M741 469h0M922 610h0M1178 388h0M1158 366h0M302 747h0M1119 463h0M1042 486h0M1124 451h0M1200 452h0M1035 710h0M315 782h0M1064 725h0M884 640h0M877 695h0M1082 352h0M997 416h0M387 834h0M320 744h0M911 600h0M933 571h0M298 606h0M977 510h0M228 584h0M826 770h0M273 746h0M1063 270h0M991 380h0M794 752h0M1016 723h0M987 531h0M288 784h0M1039 268h0M1100 492h0M948 619h0M953 552h0M965 592h0M1046 333h0M1040 546h0M320 756h0M697 817h0M946 772h0M886 728h0M884 701h0M156 506h0M931 638h0M795 511h0M280 694h0M1130 299h0M326 898h0M1025 598h0M769 646h0M846 639h0M294 782h0M1057 734h0M322 795h0M1137 571h0M841 542h0M1021 476h0M839 583h0M794 650h0M1097 465h0M992 693h0M1035 390h0M198 585h0M1022 494h0M1175 552h0M1214 564h0M864 710h0M828 475h0M1087 579h0M269 734h0M1014 729h0M1128 677h0" stroke="#a486ef"/><path d="M929 424h0M1056 385h0M1007 565h0M1068 268h0M1196 350h0M1059 298h0M1173 329h0M967 556h0M395 840h0M1067 552h0M1007 634h0M843 450h0M1070 673h0M513 697h0M1015 565h0M1096 343h0M945 661h0M771 701h0M958 462h0M1203 389h0M710 704h0M277 670h0M1122 409h0M1000 377h0M763 395h0M928 449h0M779 480h0M1107 358h0M921 647h0M366 903h0M799 748h0M965 367h0M736 519h0M854 761h0M1004 495h0M1115 419h0M1166 355h0M342 938h0M286 602h0M1093 577h0M1007 494h0M1007 500h0M791 543h0M829 450h0M1103 354h0M878 234h0M980 479h0M953 370h0M799 689h0M371 923h0M841 638h0M855 592h0M1006 741h0M689 715h0M832 677h0M339 844h0M881 543h0M968 492h0M919 491h0M1133 324h0M800 770h0M743 565h0M1197 458h0M161 509h0M762 741h0M720 459h0M176 589h0M864 494h0M1065 397h0M311 785h0M391 877h0M277 622h0M899 457h0M968 542h0M860 655h0M790 783h0M261 640h0M350 919h0M1122 371h0M353 910h0M1062 500h0M1030 362h0M977 537h0M866 755h0M965 721h0M829 485h0M863 382h0M944 249h0M1089 634h0M730 750h0M975 397h0M1159 487h0M835 432h0M1021 371h0M1010 331h0M703 640h0M1088 382h0M875 398h0M1030 313h0M966 416h0M931 715h0M336 821h0M296 832h0M886 538h0M990 651h0M845 596h0M826 588h0M772 528h0M1108 395h0M791 662h0M1123 319h0M1163 397h0M807 688h0M983 710h0M818 755h0M1039 475h0M1086 309h0M714 370h0M380 828h0M1195 523h0M753 732h0M1030 386h0M1088 403h0M961 421h0M699 723h0M814 485h0M846 564h0M250 643h0M885 511h0M784 531h0M230 507h0M976 730h0M964 452h0M798 711h0M1011 398h0M945 508h0M803 462h0M946 360h0M212 518h0M992 437h0M1198 432h0M1119 353h0M849 679h0M918 519h0M1046 464h0M858 571h0M944 530h0M988 760h0M227 517h0M1077 709h0M1142 491h0M280 796h0M948 595h0M1034 355h0M739 535h0M1042 462h0M288 710h0M800 726h0M1032 491h0M1160 295h0M895 753h0M157 534h0M722 746h0M1111 304h0M1106 590h0M946 468h0M1185 371h0M880 644h0M1134 288h0M1032 683h0M1126 647h0M1037 289h0M438 812h0M993 643h0M953 651h0M964 462h0M911 701h0M828 491h0M1087 455h0M901 489h0M1054 546h0M381 865h0M1162 384h0M252 650h0M339 923h0M817 404h0M857 370h0M1065 334h0M1143 340h0M854 471h0M1071 384h0M879 767h0M864 776h0M891 612h0M1015 736h0M749 614h0M759 661h0M995 543h0M693 676h0M1059 410h0M932 592h0M1099 712h0M1148 285h0M933 529h0M837 450h0M315 894h0M811 736h0M1140 313h0M922 573h0M846 724h0M803 573h0M816 243h0M831 499h0M915 595h0M858 582h0M969 736h0M959 498h0M1036 531h0M282 657h0M845 425h0M1011 366h0M798 603h0M1092 300h0M472 744h0M892 661h0M965 401h0M916 699h0M1145 596h0M1025 525h0M819 673h0M293 651h0M806 722h0M1055 475h0M738 419h0M171 546h0M974 470h0M378 844h0M910 319h0M164 572h0M979 390h0M1179 406h0M1138 428h0M783 698h0M1035 754h0M822 394h0M364 948h0M416 828h0M944 655h0M1050 277h0M174 582h0M369 850h0M318 780h0M268 741h0M873 586h0M935 536h0M885 479h0M864 432h0M196 395h0M955 626h0M980 658h0M998 728h0M825 537h0M831 694h0M222 525h0M1185 579h0M1197 437h0M1086 326h0M815 669h0M832 699h0M774 730h0M1058 310h0M1042 320h0M1147 292h0M390 937h0M1117 318h0M248 565h0M972 741h0M1118 656h0M757 710h0M224 507h0M891 497h0M1144 329h0M788 765h0M1045 724h0M974 653h0M1141 434h0M979 524h0M902 632h0M974 762h0M965 440h0M1203 519h0M1017 586h0M706 373h0M993 513h0M1140 323h0M290 607h0M1055 524h0M199 507h0M1130 316h0M303 713h0M881 521h0M851 695h0M1189 446h0M940 547h0M1037 334h0M1168 491h0M717 546h0M722 516h0M1007 480h0M958 708h0M891 565h0M1138 294h0M721 688h0M203 510h0M901 401h0M359 820h0M912 579h0M882 237h0M700 656h0M1184 384h0M769 658h0M855 637h0M1192 358h0M858 755h0M971 439h0M726 716h0M384 965h0M1166 477h0M968 480h0M349 925h0M1024 482h0M752 718h0M898 644h0M666 589h0M899 608h0M215 548h0M977 440h0M913 515h0M868 558h0M1035 552h0M1010 310h0M321 894h0M853 571h0M281 772h0M870 568h0M338 802h0M1119 307h0M1106 651h0M242 669h0M1214 549h0M998 642h0M255 630h0M661 641h0M835 749h0M213 583h0M1144 395h0M1097 655h0M1144 406h0M412 906h0M188 546h0M775 655h0M1076 281h0M1030 322h0M182 626h0M907 562h0M1052 264h0M843 564h0M838 767h0M987 505h0M348 813h0M1038 379h0M759 695h0M332 792h0M1191 407h0M773 772h0M173 574h0M1084 316h0M876 714h0M771 750h0M678 689h0M1063 561h0M756 540h0M763 689h0M752 682h0M281 639h0M1025 433h0M376 851h0M973 559h0M987 467h0M1076 429h0M828 752h0M395 918h0M181 565h0M976 412h0M945 564h0M1037 396h0M870 517h0M974 409h0M955 518h0M945 638h0M196 401h0M716 554h0M302 676h0" stroke="#9b77f4"/><path d="M1042 300h0M970 367h0M920 547h0M1059 397h0M1159 461h0M829 434h0M897 555h0M767 693h0M724 710h0M1026 412h0M700 792h0M1021 589h0M968 760h0M195 625h0M814 283h0M1175 355h0M157 492h0M1116 287h0M852 585h0M828 382h0M933 597h0M158 486h0M237 613h0M262 500h0M1036 295h0M920 451h0M938 409h0M1182 342h0M847 359h0M762 697h0M787 693h0M956 366h0M244 501h0M1046 404h0M773 758h0M334 910h0M698 766h0M892 596h0M731 692h0M448 802h0M1192 337h0M782 595h0M1091 385h0M832 606h0M817 574h0M919 434h0M178 556h0M826 519h0M716 492h0M849 384h0M362 885h0M410 862h0M660 608h0M214 526h0M722 431h0M906 657h0M798 578h0M668 700h0M874 470h0M892 378h0M930 307h0M175 495h0M993 453h0M251 625h0M267 687h0M332 895h0M961 370h0M173 609h0M167 440h0M556 709h0M909 474h0M941 382h0M952 367h0M857 602h0M346 868h0M226 491h0M449 956h0M709 758h0M647 694h0M314 883h0M715 662h0M889 526h0M265 495h0M707 650h0M335 856h0M788 645h0M1085 337h0M166 538h0M226 553h0M817 354h0M679 674h0M355 924h0M422 834h0M905 455h0M960 445h0M932 410h0M973 402h0M892 534h0M1107 614h0M951 388h0M216 543h0M646 359h0M1095 365h0M680 615h0M839 658h0M820 700h0M1014 324h0M696 735h0M731 528h0M718 377h0M795 682h0M1046 373h0M349 821h0M256 485h0M705 740h0M850 390h0M221 583h0M387 917h0M308 651h0M965 388h0M933 576h0M933 565h0M245 337h0M1053 737h0M626 664h0M328 886h0M714 656h0M1174 449h0M1074 355h0M935 440h0M707 628h0M647 613h0M804 498h0M1188 449h0M845 465h0M995 421h0M835 506h0M289 528h0M997 651h0M332 858h0M803 474h0M1043 730h0M1064 358h0M709 737h0M717 677h0M912 407h0M1065 346h0M1102 318h0M910 464h0M1105 289h0M898 427h0M933 469h0M835 517h0M289 721h0M230 634h0M877 289h0M746 538h0M865 646h0M724 682h0M881 376h0M730 409h0M691 740h0M834 299h0M615 667h0M587 670h0M1026 293h0M885 462h0M956 378h0M906 431h0M490 725h0M750 760h0M853 365h0M285 573h0M442 944h0M682 714h0M864 531h0M410 901h0M435 942h0M357 810h0M811 410h0M341 875h0M703 620h0M898 482h0M275 658h0M949 522h0M1114 273h0M294 626h0M1035 324h0M814 567h0M651 722h0M644 701h0M1138 355h0M984 562h0M389 913h0M391 850h0M710 728h0M969 293h0M1092 499h0M320 885h0M818 407h0M1094 420h0M994 481h0M356 869h0M1117 294h0M884 467h0M486 723h0M335 925h0M372 881h0M1195 331h0M1089 293h0M695 665h0M882 382h0M1018 455h0M1093 310h0M1017 760h0M820 592h0M874 522h0M732 681h0M991 343h0M683 632h0M154 574h0M205 549h0M262 609h0M884 422h0M254 458h0M690 704h0M1190 395h0M905 620h0M719 692h0M199 483h0M686 742h0M750 434h0M1060 344h0M868 650h0M912 445h0M640 722h0M1089 391h0M884 590h0M850 403h0M547 685h0M1087 374h0M316 482h0M702 539h0M1155 420h0M1039 390h0M1199 343h0M906 687h0M791 777h0M786 746h0M848 397h0M912 541h0M1158 395h0M792 677h0M867 584h0M940 567h0M370 953h0M660 701h0M263 452h0M897 446h0M436 972h0M256 693h0M761 729h0M814 494h0M314 534h0M351 881h0M1151 311h0M932 370h0M1065 322h0M849 481h0M365 867h0M403 922h0M311 882h0M825 692h0M383 837h0M859 389h0M811 425h0M903 504h0M1065 312h0M1006 354h0M1102 268h0M370 876h0M159 524h0M431 946h0M915 392h0M920 445h0M741 756h0M1112 280h0M1193 366h0M835 614h0M1048 307h0M1024 456h0M677 659h0M738 638h0M723 734h0M973 335h0M1049 382h0M904 710h0M705 656h0M320 912h0M305 630h0M847 592h0M692 746h0M482 729h0M1103 293h0M990 500h0M805 285h0M689 667h0M832 408h0M966 518h0M361 910h0M1127 275h0M865 391h0M503 983h0M475 755h0M1018 671h0M149 580h0M907 523h0M850 498h0M1165 408h0M406 965h0M338 881h0M388 940h0M738 304h0M799 665h0M213 352h0M877 458h0M710 785h0M254 621h0M373 842h0M770 463h0M710 717h0M885 567h0M1047 367h0M1026 315h0M1053 331h0M710 522h0M809 671h0M365 927h0M307 528h0M556 732h0M215 560h0M380 868h0M1119 638h0M961 560h0M919 374h0M994 570h0M811 558h0M865 425h0M448 777h0M722 592h0M329 852h0M780 613h0M965 574h0M887 694h0M720 655h0M849 311h0M379 892h0M957 402h0M1128 338h0M1029 281h0" stroke="#9268f8"/><path d="M680 650h0M353 838h0M1148 317h0M447 790h0M751 576h0M208 562h0M888 426h0M452 802h0M690 509h0M946 409h0M717 451h0M680 735h0M766 598h0M668 649h0M944 536h0M243 476h0M669 694h0M1100 301h0M940 418h0M841 444h0M155 566h0M755 656h0M790 656h0M926 336h0M665 728h0M708 723h0M679 855h0M160 598h0M803 487h0M244 519h0M930 513h0M947 384h0M412 874h0M734 743h0M867 723h0M906 412h0M614 683h0M864 273h0M270 621h0M1067 298h0M732 489h0M420 930h0M794 273h0M676 791h0M359 831h0M696 711h0M870 420h0M471 977h0M206 385h0M739 525h0M377 937h0M702 752h0M689 621h0M920 355h0M693 819h0M811 505h0M514 693h0M164 450h0M304 655h0M433 822h0M236 465h0M1028 486h0M955 406h0M425 924h0M370 964h0M182 579h0M573 795h0M902 499h0M409 859h0M702 653h0M758 701h0M886 437h0M744 725h0M150 585h0M1166 319h0M678 633h0M220 562h0M992 364h0M770 782h0M707 686h0M797 622h0M810 536h0M212 458h0M268 467h0M737 722h0M416 879h0M965 348h0M664 342h0M227 364h0M967 370h0M681 627h0M303 334h0M654 608h0M455 786h0M1049 347h0M393 943h0M985 329h0M839 523h0M751 626h0M617 747h0M466 958h0M527 322h0M168 596h0M769 716h0M477 965h0M308 664h0M888 467h0M882 530h0M654 600h0M725 547h0M871 377h0M307 606h0M675 838h0M508 667h0M781 462h0M1017 350h0M700 698h0M779 663h0M1077 362h0M284 647h0M769 732h0M1171 325h0M355 934h0M931 265h0M448 940h0M622 655h0M190 434h0M168 483h0M817 497h0M737 674h0M210 371h0M698 680h0M808 408h0M902 520h0M925 493h0M799 552h0M714 699h0M255 539h0M725 766h0M203 555h0M941 401h0M470 782h0M1052 307h0M244 493h0M549 669h0M843 519h0M234 423h0M436 808h0M188 413h0M879 403h0M461 765h0M1204 407h0M831 427h0M702 713h0M340 546h0M914 465h0M782 767h0M1177 383h0M398 922h0M853 323h0M587 650h0M348 379h0M285 681h0M869 228h0M269 370h0M408 888h0M212 565h0M219 555h0M620 692h0M409 954h0M902 480h0M250 440h0M194 477h0M671 640h0M889 553h0M379 965h0M639 612h0M451 827h0M360 931h0M811 443h0M905 536h0M281 446h0M728 663h0M357 879h0M1178 401h0M670 715h0M546 670h0M1095 318h0M194 392h0M669 646h0M241 324h0M842 534h0M873 404h0M640 747h0M809 307h0M445 887h0M441 954h0M732 706h0M615 709h0M346 881h0M827 506h0M179 450h0M1077 401h0M348 948h0M913 458h0M754 779h0M601 719h0M741 646h0M202 591h0M850 474h0M278 500h0M1063 388h0M891 625h0M369 949h0M687 786h0M301 659h0M685 604h0M416 964h0M699 457h0M181 396h0M267 382h0M500 667h0M731 722h0M382 898h0M849 431h0M1162 348h0M699 827h0M700 360h0M607 631h0M178 582h0M297 404h0M401 888h0M986 380h0M205 370h0M228 352h0M779 640h0M478 770h0M714 642h0M786 293h0M172 560h0M473 706h0M895 440h0M1076 340h0M258 493h0M273 555h0M178 570h0M780 692h0M167 455h0M908 437h0M1042 385h0M741 759h0M896 323h0" stroke="#8859fa"/><path d="M430 922h0M553 699h0M671 881h0M867 456h0M612 632h0M384 937h0M442 638h0M913 404h0M172 501h0M646 770h0M267 322h0M424 864h0M236 473h0M211 360h0M1023 287h0M416 918h0M913 252h0M428 833h0M681 821h0M705 488h0M629 718h0M621 609h0M635 608h0M196 544h0M664 853h0M238 371h0M404 864h0M676 509h0M511 978h0M475 979h0M918 479h0M463 628h0M153 512h0M224 548h0M424 839h0M664 582h0M237 488h0M900 476h0M675 483h0M171 513h0M636 880h0M249 547h0M312 643h0M283 334h0M558 705h0M629 620h0M446 925h0M655 753h0M416 839h0M745 307h0M247 421h0M892 418h0M259 556h0M626 649h0M249 584h0M680 663h0M369 319h0M462 759h0M410 935h0M626 839h0M610 699h0M545 741h0M933 273h0M354 816h0M665 885h0M650 669h0M622 633h0M639 701h0M665 752h0M202 437h0M829 256h0M550 791h0M216 382h0M716 686h0M935 316h0M285 439h0M367 862h0M640 718h0M617 700h0M443 931h0M324 541h0M534 664h0M697 777h0M506 731h0M188 504h0M524 687h0M364 956h0M394 616h0M500 681h0M843 622h0M854 346h0M225 333h0M671 683h0M640 674h0M209 543h0M532 697h0M273 592h0M591 680h0M198 386h0M182 517h0M598 794h0M337 554h0M1151 329h0M409 912h0M575 700h0M643 680h0M337 517h0M372 941h0M619 663h0M591 705h0M511 736h0M408 930h0M609 627h0M479 656h0M996 312h0M620 585h0M500 717h0M523 680h0M287 590h0M704 499h0M189 566h0M192 486h0M881 397h0M542 695h0M713 747h0M713 779h0M429 940h0M876 491h0M156 518h0M657 410h0M892 488h0M691 645h0M790 604h0M884 313h0M209 413h0M492 645h0M965 294h0M690 812h0M467 949h0M622 697h0M502 730h0M194 534h0M902 420h0M178 462h0M692 503h0M487 743h0M298 582h0M222 390h0M403 718h0M559 776h0M472 930h0M408 918h0M427 887h0M495 731h0M673 762h0M742 680h0M313 780h0M507 687h0M572 706h0M654 552h0M846 440h0M802 304h0M414 830h0M174 450h0M549 740h0M566 646h0M637 719h0M657 776h0M226 565h0M881 459h0M374 603h0M805 298h0M611 765h0M262 549h0M398 907h0M556 695h0M205 449h0M570 700h0M434 930h0M334 498h0M217 455h0M631 601h0M401 915h0M657 748h0M681 620h0M662 596h0M667 677h0M927 419h0" stroke="#7e4afc"/><path d="M282 326h0M361 597h0M510 915h0M472 759h0M183 483h0M688 468h0M638 577h0M658 446h0M654 641h0M495 656h0M694 762h0M611 662h0M616 675h0M608 371h0M190 529h0M625 394h0M675 573h0M251 561h0M563 876h0M297 521h0M447 916h0M577 649h0M436 640h0M656 742h0M527 952h0M509 608h0M511 663h0M671 731h0M650 713h0M903 301h0M663 437h0M238 506h0M497 653h0M377 530h0M199 391h0M555 336h0M969 274h0M678 607h0M460 778h0M406 906h0M503 972h0M296 603h0M647 596h0M612 620h0M482 910h0M415 325h0M496 970h0M178 445h0M602 771h0M539 966h0M284 546h0M638 891h0M372 578h0M247 554h0M573 711h0M441 651h0M255 500h0M478 905h0M593 621h0M526 857h0M380 613h0M376 598h0M754 341h0M248 541h0M619 669h0M423 322h0M406 615h0M657 657h0M634 705h0M449 783h0M593 570h0M444 796h0M398 895h0M471 919h0M382 340h0M465 783h0M412 607h0M156 470h0M633 397h0M308 467h0M607 706h0M458 773h0M674 713h0M829 328h0M377 378h0M234 559h0M460 827h0M532 748h0M560 689h0M506 652h0M215 377h0M483 772h0M454 662h0M590 662h0M823 319h0M473 777h0M201 400h0M506 771h0M937 365h0M227 483h0M279 630h0M286 624h0M627 634h0M651 373h0M505 835h0M647 608h0M589 737h0M870 359h0M807 265h0M796 329h0M196 463h0M655 535h0M498 892h0M633 773h0M594 578h0M395 425h0M890 432h0M796 281h0M665 801h0M185 385h0M668 562h0M446 913h0M458 967h0M479 651h0M612 715h0M506 341h0M481 923h0M641 727h0M263 534h0M563 717h0M492 954h0M971 267h0M662 765h0M962 315h0M672 616h0M821 313h0M503 853h0M552 692h0M439 802h0M181 418h0M460 861h0M199 468h0M614 936h0M521 685h0M170 568h0M889 226h0M536 683h0M478 960h0M230 492h0M539 881h0M644 600h0M476 636h0M374 610h0M244 352h0M398 619h0M675 591h0M706 567h0M617 725h0M840 528h0M643 611h0M328 535h0M439 643h0M737 711h0M598 700h0M262 649h0M543 727h0M253 423h0M664 665h0M431 898h0M665 544h0M610 722h0M416 846h0M637 661h0M263 461h0M262 488h0M566 738h0M541 711h0M497 955h0M550 707h0M422 880h0M353 583h0M180 498h0M411 522h0M538 729h0M615 921h0M282 433h0M829 262h0M287 556h0M651 761h0M671 828h0M468 655h0M622 621h0M492 940h0M300 482h0M554 674h0M505 724h0M217 442h0" stroke="#6f36fd"/><path d="M315 530h0M541 645h0M482 790h0M294 309h0M289 324h0M160 464h0M501 331h0M639 885h0M596 928h0M440 628h0M540 639h0M514 949h0M512 711h0M644 650h0M451 905h0M616 610h0M585 776h0M595 685h0M521 807h0M494 354h0M516 913h0M641 695h0M597 651h0M636 392h0M385 592h0M471 324h0M637 709h0M240 567h0M632 821h0M392 601h0M515 849h0M532 772h0M609 384h0M592 355h0M525 934h0M370 426h0M371 444h0M294 421h0M849 379h0M581 643h0M540 652h0M265 480h0M566 639h0M525 600h0M555 644h0M641 586h0M623 904h0M496 669h0M226 541h0M242 548h0M212 432h0M474 827h0M596 711h0M479 667h0M571 959h0M645 822h0M434 604h0M365 359h0M666 807h0M579 683h0M636 561h0M612 658h0M375 392h0M203 406h0M877 265h0M582 746h0M513 706h0M481 305h0M550 764h0M607 598h0M641 487h0M1096 283h0M195 414h0M479 930h0M397 583h0M611 637h0M181 528h0M625 713h0M635 655h0M279 547h0M456 870h0M656 766h0M597 359h0M637 770h0M500 748h0M531 632h0M485 946h0M530 912h0M1027 270h0M977 294h0M671 770h0M532 758h0M460 841h0M454 814h0M590 938h0M328 476h0M507 620h0M454 797h0M320 536h0M468 816h0M573 584h0M196 372h0M511 922h0M699 334h0M167 525h0M338 561h0M206 437h0M552 737h0M668 571h0M270 500h0M544 659h0M614 727h0M423 548h0M629 639h0M580 627h0M360 353h0M642 465h0M259 330h0M572 779h0M293 319h0M660 422h0M701 808h0M283 543h0M610 785h0M612 789h0M426 354h0M282 524h0M738 301h0M277 533h0M433 847h0M587 942h0M233 498h0M493 928h0M453 622h0M528 619h0M449 859h0M504 735h0M526 373h0M229 414h0M349 583h0M551 838h0M622 589h0M528 809h0M234 457h0M630 592h0M644 761h0M429 918h0M611 904h0M306 621h0M324 323h0M461 903h0M539 735h0M202 365h0M842 269h0M645 443h0M443 966h0M588 675h0M488 306h0M351 577h0M843 283h0M571 607h0M358 592h0M543 633h0M535 316h0M318 504h0M655 716h0M579 740h0M524 879h0M205 455h0M637 603h0M664 864h0M662 509h0M245 529h0M647 533h0M270 598h0M635 764h0M363 458h0M266 346h0M428 904h0M585 924h0M593 765h0M615 815h0M603 698h0M648 548h0M619 899h0M367 376h0M252 483h0M535 942h0M480 633h0M580 849h0M607 864h0M267 418h0M479 316h0M302 517h0M431 849h0M547 649h0M186 438h0M384 564h0M650 613h0M747 329h0" stroke="#5f23ff"/><path d="M632 565h0M636 518h0M616 410h0M536 959h0M332 486h0M460 849h0M664 522h0M305 487h0M528 643h0M486 940h0M570 910h0M578 416h0M472 595h0M301 457h0M317 493h0M639 755h0M576 600h0M651 523h0M629 558h0M381 317h0M605 826h0M655 561h0M654 869h0M630 384h0M446 316h0M270 488h0M473 885h0M489 319h0M454 386h0M310 439h0M605 432h0M517 839h0M468 403h0M601 912h0M653 542h0M479 776h0M599 752h0M668 815h0M521 820h0M434 893h0M545 948h0M322 305h0M559 923h0M808 268h0M517 639h0M557 813h0M648 898h0M654 547h0M601 640h0M858 367h0M287 494h0M328 352h0M427 858h0M453 388h0M567 772h0M645 373h0M350 313h0M444 322h0M626 598h0M429 895h0M574 904h0M639 802h0M517 626h0M555 961h0M263 437h0M520 843h0M608 901h0M607 608h0M465 779h0M510 754h0M631 869h0M198 430h0M297 475h0M517 311h0M488 826h0M507 474h0M591 607h0M891 334h0M273 474h0M528 730h0M600 646h0M528 766h0M526 773h0M537 342h0M619 865h0M535 595h0M604 917h0M447 559h0M636 785h0M461 789h0M839 359h0M646 418h0M787 329h0M574 931h0M538 804h0M497 931h0M381 376h0M367 524h0M722 324h0M582 773h0M507 910h0M277 461h0M502 657h0M290 353h0M605 736h0M594 856h0M329 421h0M316 543h0M605 525h0M440 374h0M559 622h0M612 881h0M478 937h0M365 321h0M570 888h0M544 319h0M578 948h0M577 409h0M493 847h0M316 348h0M391 522h0M641 558h0M546 834h0M574 915h0M720 327h0M257 427h0M248 343h0M536 609h0M426 638h0M556 851h0M506 784h0M818 350h0M592 947h0M570 335h0M444 335h0M408 620h0M445 620h0M534 641h0M417 353h0M505 638h0M626 582h0M622 868h0M587 597h0M611 425h0M478 898h0M640 530h0M631 809h0M474 316h0M603 931h0M612 819h0M447 850h0M485 342h0M559 544h0M375 352h0M633 489h0M711 341h0M444 328h0M329 384h0M205 444h0M654 880h0M457 397h0M658 529h0M285 461h0M622 573h0M581 918h0M550 622h0M601 373h0M671 838h0M514 325h0M185 493h0M342 304h0M535 871h0M522 852h0M289 516h0M383 330h0M433 344h0M186 376h0M494 839h0M661 837h0M507 955h0M453 839h0M501 961h0M468 824h0M231 428h0M394 333h0M538 893h0M535 734h0M472 492h0M875 275h0M286 481h0M629 741h0M531 334h0M597 566h0M304 361h0M317 468h0M658 576h0M497 862h0M479 462h0M643 498h0M583 883h0M372 504h0M598 853h0M475 329h0M260 410h0M633 898h0M651 445h0M502 909h0M476 871h0M278 452h0M502 633h0M650 861h0M427 396h0M284 376h0M657 598h0" stroke="#3f11ff"/><path d="M356 525h0M478 554h0M366 396h0M503 572h0M314 378h0M424 391h0M452 584h0M646 434h0M549 604h0M300 495h0M407 580h0M527 507h0M419 367h0M533 516h0M559 439h0M606 511h0M484 785h0M335 352h0M535 905h0M486 886h0M522 752h0M491 385h0M327 439h0M393 421h0M351 398h0M598 925h0M261 361h0M296 388h0M416 507h0M377 404h0M461 547h0M425 428h0M597 421h0M608 463h0M420 543h0M461 493h0M308 397h0M969 309h0M380 311h0M532 857h0M441 432h0M489 322h0M608 771h0M464 371h0M507 517h0M367 434h0M650 450h0M420 867h0M230 391h0M549 578h0M423 489h0M402 452h0M606 788h0M587 355h0M339 489h0M353 328h0M490 773h0M335 373h0M566 826h0M594 892h0M462 322h0M536 888h0M579 450h0M587 950h0M587 609h0M542 372h0M512 540h0M554 471h0M571 814h0M586 850h0M297 509h0M620 513h0M496 475h0M641 437h0M562 602h0M542 566h0M498 492h0M328 305h0M314 410h0M433 367h0M537 816h0M276 323h0M547 782h0M388 501h0M332 469h0M353 529h0M559 383h0M508 487h0M507 627h0M601 505h0M557 910h0M542 554h0M484 541h0M411 415h0M465 351h0M557 353h0M598 482h0M457 481h0M448 566h0M570 355h0M478 590h0M624 382h0M460 352h0M538 764h0M352 416h0M513 687h0M588 828h0M286 507h0M556 875h0M611 506h0M330 349h0M498 846h0M378 398h0M296 340h0M492 820h0M600 391h0M471 839h0M588 540h0M438 343h0M507 367h0M416 613h0M447 439h0M452 524h0M566 518h0M535 422h0M501 452h0M527 333h0M534 469h0M468 845h0M590 467h0M390 440h0M493 445h0M561 434h0M325 371h0M579 524h0M391 446h0M556 603h0M420 467h0M324 311h0M573 849h0M500 530h0M447 488h0M428 505h0M339 427h0M343 443h0M637 446h0M601 385h0M584 398h0M416 592h0M436 418h0M627 450h0M442 505h0M475 549h0M482 519h0M474 849h0M279 361h0M558 863h0M588 906h0M530 425h0M205 467h0M625 485h0M526 446h0M576 845h0M404 404h0M444 530h0M555 929h0M329 554h0M500 899h0M534 541h0M633 879h0M521 334h0M450 590h0M601 540h0M616 785h0M537 922h0M334 306h0M550 586h0M420 591h0M444 481h0M343 456h0M383 524h0M286 389h0M627 497h0M339 358h0M427 468h0M496 786h0M468 609h0M395 546h0M456 505h0M547 420h0M562 422h0M431 596h0M500 591h0M499 347h0M469 602h0M543 499h0M331 473h0M516 645h0M525 564h0M489 597h0M530 597h0M602 600h0M515 812h0M623 567h0M311 392h0M594 427h0M317 360h0M452 607h0M500 620h0M501 887h0M521 609h0M523 622h0M608 887h0M618 906h0M633 481h0M472 349h0M630 540h0M549 371h0M441 601h0M546 452h0M592 545h0M610 527h0M451 548h0M526 515h0M461 601h0M246 409h0M440 469h0M603 408h0M392 389h0M522 439h0M365 600h0M444 367h0M525 433h0M405 334h0M588 446h0M528 783h0M375 476h0M612 832h0M538 612h0M551 521h0M520 616h0M601 820h0M520 907h0M368 498h0M493 779h0M328 416h0M450 527h0M322 359h0M570 859h0M508 330h0M565 813h0M387 378h0M449 433h0M517 401h0M223 416h0M530 571h0M401 483h0M436 406h0M590 603h0M306 376h0M567 601h0M525 410h0M476 409h0M542 518h0M605 380h0M262 342h0M481 525h0M374 583h0M332 392h0M653 459h0M614 404h0M538 561h0M404 487h0M445 547h0M539 846h0M485 560h0M288 564h0M566 348h0M341 379h0M616 457h0M566 911h0M345 507h0M313 427h0M601 874h0M440 538h0M512 435h0M637 808h0M518 432h0M556 522h0M429 620h0M569 385h0M576 543h0M371 566h0M510 452h0M429 480h0M596 807h0M586 451h0M383 415h0M570 513h0M637 858h0M413 333h0M591 487h0M402 477h0M254 408h0M574 468h0M503 892h0M551 388h0M468 427h0M275 468h0M610 870h0M564 428h0M625 434h0M509 813h0M563 403h0M467 499h0M350 457h0M458 439h0M466 570h0M531 650h0M357 354h0M270 525h0M359 343h0M567 849h0M572 389h0M510 820h0M610 480h0M587 592h0M595 863h0M587 559h0M543 585h0M517 532h0M395 606h0M467 598h0M628 521h0M357 384h0M385 391h0M436 590h0M378 437h0M461 392h0M356 368h0M615 474h0M507 391h0M609 414h0M479 488h0M377 558h0M613 514h0M545 548h0M524 537h0M246 361h0M530 887h0M386 444h0M497 564h0M513 834h0M496 322h0M547 746h0M339 481h0M536 572h0M558 513h0M573 579h0M262 380h0M597 462h0M571 836h0M671 504h0M453 379h0M601 885h0M548 531h0M361 462h0M557 412h0M453 461h0M475 451h0M490 540h0M479 515h0M642 780h0M400 506h0M528 929h0M360 400h0M556 503h0M604 749h0M613 779h0M552 912h0M385 408h0M370 348h0M432 875h0M601 401h0M161 504h0M493 468h0M481 512h0M529 450h0M557 560h0M451 456h0M602 783h0M447 594h0M336 433h0M332 438h0M420 360h0M642 402h0M500 810h0M220 469h0M465 792h0M525 529h0M542 379h0M583 831h0M514 462h0M303 422h0M559 341h0M434 350h0M372 419h0M637 456h0M432 414h0M363 389h0M441 437h0M400 530h0M315 516h0M496 383h0M348 522h0M357 407h0M549 819h0M388 572h0M503 936h0M593 658h0M593 536h0M566 959h0M353 492h0M541 388h0M581 847h0M471 467h0M467 558h0M517 549h0M566 469h0M368 462h0M509 511h0M497 516h0M483 425h0M349 446h0M542 511h0M517 834h0M612 551h0M360 422h0M545 552h0M582 471h0M291 412h0M495 596h0M395 595h0M628 789h0M561 515h0M601 476h0M272 379h0M587 754h0M566 476h0M363 547h0M476 420h0M582 350h0M619 452h0M451 421h0M479 371h0M537 618h0M278 475h0M370 372h0M517 868h0M443 523h0M408 540h0M482 586h0M265 413h0M535 566h0M535 366h0M611 566h0M551 850h0M558 827h0M464 833h0M423 331h0M547 891h0M325 389h0M534 424h0M650 844h0M536 390h0M416 622h0M396 488h0M465 390h0M461 446h0M555 594h0M521 566h0M587 421h0M252 355h0M440 475h0M382 356h0M619 916h0M353 438h0M400 323h0M447 574h0M532 386h0M638 494h0M395 559h0M624 540h0M525 353h0M506 322h0M468 463h0M345 512h0M234 403h0M531 938h0M493 608h0M643 522h0M585 800h0M649 488h0M433 378h0M440 572h0M367 389h0M313 355h0M398 349h0M603 564h0M336 459h0M506 928h0M481 606h0M398 555h0M571 561h0M579 364h0M245 345h0M392 434h0M367 436h0M585 364h0M365 337h0M522 792h0M633 554h0M461 422h0M580 598h0M537 863h0M474 438h0M584 372h0M441 554h0M357 556h0M545 483h0M245 395h0M577 610h0M541 394h0M465 397h0M524 395h0M616 518h0M461 507h0M358 491h0M472 500h0M397 451h0M514 906h0M548 432h0M587 831h0M472 313h0M541 797h0M429 446h0M533 966h0M462 573h0M622 459h0M555 568h0M454 886h0M293 367h0M509 319h0M516 885h0M468 410h0M422 573h0M599 862h0M623 722h0M601 452h0M953 334h0M454 402h0M416 343h0M514 439h0M420 485h0M457 874h0M510 334h0M546 504h0M292 473h0M539 431h0M377 462h0M476 376h0M534 401h0M480 327h0M448 394h0M339 543h0M566 607h0M489 390h0M546 792h0M632 782h0M514 500h0M443 517h0M352 544h0M310 383h0M468 452h0M492 434h0M371 384h0M587 862h0M619 567h0M388 385h0M422 495h0M524 523h0M545 851h0M353 451h0M500 377h0M481 804h0M610 808h0M572 825h0M440 512h0M476 819h0M409 584h0M377 323h0M522 841h0M631 504h0M526 919h0M455 603h0M431 354h0M529 740h0M531 610h0M314 329h0M537 790h0M551 342h0M527 462h0M576 505h0M512 612h0M532 562h0M608 762h0M463 588h0M234 366h0M437 856h0M578 888h0M566 388h0M1007 280h0M602 908h0M531 413h0M604 476h0M559 489h0M587 384h0M542 347h0M630 457h0M387 421h0M493 390h0M346 416h0M318 376h0M326 367h0M547 518h0M446 463h0M530 365h0M625 827h0M390 416h0M401 539h0M447 555h0M815 340h0M317 371h0M542 608h0M658 428h0M612 877h0M549 546h0M535 506h0M343 418h0M364 332h0M265 425h0M490 503h0M482 850h0M476 566h0M485 621h0M559 507h0M603 797h0M363 538h0M577 815h0M573 397h0M410 438h0M415 511h0M423 465h0M417 558h0M573 785h0M472 456h0M441 564h0M360 431h0M441 380h0M503 598h0M463 310h0M315 413h0M195 445h0M623 482h0M596 406h0M646 476h0M496 366h0M549 561h0M506 798h0M468 567h0M552 578h0M331 373h0M519 928h0M489 875h0M511 871h0M629 573h0M427 613h0M566 620h0M308 310h0M402 433h0M476 523h0M625 554h0M470 626h0M615 810h0M618 394h0M374 510h0M608 803h0M548 900h0M503 401h0M441 408h0M523 500h0M274 539h0M892 355h0M545 437h0M488 610h0M609 795h0M336 467h0M439 828h0M278 376h0M523 583h0M423 595h0M632 469h0M456 346h0M547 846h0M633 573h0M399 519h0M573 444h0M363 377h0M870 323h0M319 462h0M348 558h0M485 469h0M622 536h0M300 426h0M365 532h0M371 335h0M426 580h0M207 498h0M313 465h0M451 480h0M546 410h0M616 870h0M489 413h0M332 368h0M300 410h0M408 493h0M599 379h0M424 342h0M402 609h0M417 499h0M494 813h0M389 598h0M566 892h0M579 511h0M573 871h0M278 329h0M379 467h0M287 444h0M434 542h0M433 580h0M597 398h0M393 592h0M574 498h0M445 452h0M269 359h0M657 832h0M514 588h0M663 499h0M251 372h0M331 541h0M451 449h0M303 446h0M481 571h0M394 397h0M366 372h0M413 456h0M426 366h0M371 359h0M539 875h0M469 360h0M516 341h0M583 358h0M398 474h0M415 479h0M623 469h0M391 565h0M330 480h0M216 426h0M520 576h0M383 513h0M289 358h0M360 474h0M544 343h0M580 810h0M593 814h0M402 383h0M421 396h0M611 838h0M535 549h0M318 353h0M398 443h0M634 380h0M633 758h0M592 392h0M622 791h0M487 583h0M370 402h0M598 414h0M450 495h0M562 359h0M591 595h0M401 468h0M454 657h0M510 583h0M403 573h0M555 750h0M588 794h0M429 601h0M555 906h0M624 504h0M436 458h0M481 862h0M297 536h0M256 341h0M448 616h0M559 901h0M477 456h0M480 439h0M388 516h0M451 488h0M485 603h0M280 395h0M319 449h0M514 493h0M323 471h0M423 497h0M557 378h0M364 445h0M598 523h0M528 861h0M497 541h0M498 615h0M395 500h0M440 425h0M577 430h0M396 344h0M566 571h0M593 913h0M515 389h0M557 464h0M561 907h0M487 533h0M541 541h0M354 402h0M513 628h0M550 351h0M429 540h0M333 425h0M217 348h0M462 424h0M508 438h0M507 631h0M373 408h0M594 907h0M637 834h0M479 449h0M503 343h0M454 440h0M447 371h0M343 513h0M393 532h0M530 974h0M430 571h0M667 761h0M546 470h0M619 380h0M472 475h0M386 613h0M564 463h0M500 388h0M513 810h0M567 628h0M492 561h0M356 447h0M514 594h0M528 947h0M448 348h0M403 511h0M528 898h0M507 529h0M573 547h0M646 829h0" stroke="#1e00ff"/><path d="M1101 640h0M913 318h0M892 325h0M993 735h0M920 232h0M827 555h0M946 735h0M941 249h0M836 359h0M826 542h0M775 280h0M413 930h0M941 629h0M216 622h0M707 362h0M305 778h0M825 370h0M812 397h0M836 252h0M757 567h0M822 600h0M969 307h0M675 336h0M840 504h0M917 566h0M1013 439h0M1122 292h0M671 370h0M733 547h0M787 559h0M356 943h0M1048 354h0M664 412h0M1006 717h0M345 942h0M312 875h0M932 325h0M836 295h0M1057 464h0M1052 730h0M1085 716h0M1114 531h0M881 534h0M665 410h0M804 772h0M1073 564h0M890 362h0M909 350h0M1135 675h0M684 368h0M946 324h0M983 717h0M883 224h0M862 322h0M940 287h0M805 310h0M709 510h0M814 265h0M972 287h0M1011 701h0M930 340h0M763 337h0M891 239h0M723 355h0M1003 374h0M1101 440h0M673 348h0M1014 521h0M868 263h0M871 306h0M808 649h0M1004 700h0M1070 580h0M904 540h0M675 498h0M947 552h0M1181 353h0M283 815h0M839 318h0M878 240h0M788 740h0M750 336h0M735 410h0M738 506h0M1159 513h0M883 349h0M899 364h0M1021 281h0M808 294h0M936 291h0M264 704h0M832 467h0M786 519h0M917 283h0M1104 706h0M1094 520h0M870 239h0M915 656h0M352 904h0M1092 461h0M1136 444h0M663 353h0M780 318h0M1138 476h0M672 513h0M719 475h0M950 534h0M764 467h0M939 663h0M881 257h0M734 353h0M738 544h0M681 500h0M1070 491h0M824 293h0M860 312h0M225 653h0M661 404h0M916 273h0M1125 669h0M991 283h0M788 486h0M769 271h0M979 723h0M1066 461h0M937 614h0M885 297h0M984 546h0M916 294h0M1115 391h0M199 635h0M1197 589h0M808 491h0M720 415h0M1076 570h0M804 768h0M991 415h0M969 627h0M1156 626h0M790 255h0M856 239h0M757 297h0M793 491h0M971 583h0M1128 531h0M862 566h0M913 329h0M1053 637h0M818 740h0M801 655h0M1029 549h0M921 303h0M811 766h0M808 396h0M1000 621h0M1120 531h0M836 382h0M752 317h0M995 491h0M845 256h0M1087 532h0M943 256h0M1082 703h0M910 246h0M1064 276h0M919 288h0M832 279h0M1099 546h0M190 589h0M897 346h0M864 306h0M1022 273h0M730 313h0M750 324h0M843 562h0M976 435h0M684 436h0M844 247h0M823 634h0M228 658h0M898 317h0M868 286h0M797 265h0M880 327h0M941 352h0M963 327h0M293 658h0M1007 764h0M915 583h0M653 410h0M686 523h0M1060 457h0M692 358h0M927 313h0M1188 535h0M871 269h0M1013 646h0M1166 572h0M1128 480h0M727 361h0M997 598h0M933 626h0M1083 608h0M795 778h0M820 771h0M909 307h0M919 261h0M896 226h0M859 559h0M826 331h0M906 258h0M778 760h0M848 371h0M975 482h0M246 677h0M1014 279h0M863 237h0M959 626h0M689 424h0M942 477h0M976 324h0M914 269h0M839 606h0M153 560h0M212 640h0M1207 492h0M757 322h0M852 294h0M809 330h0M735 325h0M841 301h0M925 251h0M1124 486h0M423 967h0M794 326h0M872 294h0M930 475h0M944 261h0M910 277h0M1072 616h0M979 304h0M814 286h0M883 603h0M916 347h0M834 689h0M819 725h0M923 257h0M880 269h0M285 731h0M1010 294h0M178 632h0M1168 414h0M1125 559h0M826 675h0M1021 700h0M1019 293h0M193 583h0M997 289h0M1025 506h0M919 656h0M879 352h0M842 653h0M738 367h0M1057 322h0M779 324h0M1019 546h0M988 675h0M1004 669h0M775 473h0M852 316h0M288 746h0M1193 531h0M809 378h0M1104 681h0M1024 540h0M859 306h0M1076 512h0M336 771h0M1027 610h0M796 303h0M1016 300h0M913 499h0M1005 683h0M944 677h0M220 615h0M1067 650h0M1158 518h0M950 318h0M751 310h0M916 237h0M1111 695h0M316 870h0M189 469h0M1123 604h0M688 578h0M865 316h0M958 439h0M912 663h0M760 292h0M779 541h0M825 410h0M900 283h0M890 285h0M997 359h0M952 273h0M892 223h0M864 337h0M1056 588h0M740 391h0M776 743h0M845 332h0M722 443h0M825 267h0M763 301h0M719 465h0M963 715h0M790 340h0M849 687h0M185 640h0M899 287h0M1136 434h0M901 230h0M818 371h0M1062 464h0M974 276h0M1028 512h0M663 488h0M399 804h0M900 270h0M910 626h0M994 758h0M1160 390h0M878 723h0M1189 555h0M786 310h0M947 747h0M920 361h0M1028 303h0M811 300h0M262 622h0M1228 564h0M915 632h0M929 756h0M787 268h0M1039 703h0M797 323h0M819 263h0M1159 497h0M853 234h0M895 413h0M1197 529h0M310 802h0M1107 483h0M660 468h0M306 816h0M751 286h0M1120 311h0M836 365h0M212 625h0M696 404h0M1158 299h0M1018 511h0M713 368h0M956 548h0M767 292h0M1123 435h0M1026 427h0M903 226h0M741 301h0M1088 719h0M720 426h0M956 291h0M918 301h0M987 577h0M1063 506h0M871 356h0M780 283h0M773 335h0M755 455h0M1057 692h0M190 615h0M772 325h0M934 329h0M934 645h0M913 365h0M1012 547h0M771 311h0M979 572h0M972 280h0M859 231h0M805 786h0M985 268h0M934 281h0M984 320h0M1092 629h0M1051 336h0M756 688h0M985 292h0M895 716h0" stroke="#d3d3d3"/><path d="M1088 542h0" stroke="#cac4d9"/><path d="M827 782h0M1105 458h0M1119 444h0M934 697h0M1077 595h0M204 638h0M994 662h0M1221 534h0M1178 537h0M1102 570h0M1135 661h0M1140 558h0M1001 464h0M1183 443h0M159 571h0M331 808h0M298 814h0M1189 492h0M283 704h0M1060 523h0M1104 608h0M1063 615h0M982 604h0M1113 407h0M1113 482h0M1031 589h0M1099 477h0M271 693h0M1113 567h0" stroke="#c1b5df"/><path d="M972 554h0M945 584h0M1098 559h0M1099 456h0M165 608h0M1084 712h0M206 625h0M1076 727h0M1095 506h0M1073 689h0M209 589h0M962 643h0M862 625h0M1065 543h0M997 692h0M1170 602h0M813 724h0M836 718h0M1169 537h0M972 542h0M212 663h0M1127 470h0M969 753h0M1079 725h0M1058 517h0M944 621h0M984 691h0M1071 408h0M1054 595h0M1131 547h0M780 577h0M261 698h0M1065 698h0M1082 535h0M852 752h0M1116 489h0M989 616h0M1126 518h0M960 724h0M1158 616h0M1151 622h0M877 650h0M849 576h0M1111 703h0M1171 371h0M1023 649h0M1155 513h0M1092 603h0M1015 663h0M1050 288h0M936 668h0M223 633h0M233 664h0M1087 493h0M1139 510h0M297 668h0M1159 536h0M180 610h0M1039 607h0M1045 640h0M1143 648h0M1053 625h0M300 691h0M235 680h0M1087 651h0M1034 655h0M1031 719h0M272 761h0M916 668h0M1174 512h0M1149 591h0M296 788h0M1140 549h0M1084 518h0M1067 737h0M1197 555h0M980 564h0M972 589h0M1226 577h0M1088 566h0M1151 541h0M160 609h0M1142 483h0M300 823h0M1141 523h0M1129 576h0M1089 453h0M1075 488h0M1140 639h0M1077 604h0M986 701h0M846 586h0M1038 505h0M993 426h0M1193 474h0M200 621h0M1091 608h0M1036 515h0M953 734h0M189 626h0M1066 638h0M1021 704h0M1149 442h0M923 705h0M1117 427h0M1213 554h0M1164 507h0M220 341h0M998 667h0M1029 517h0M1127 507h0M298 631h0M1115 501h0M904 616h0M1064 611h0M1031 649h0M984 668h0M1135 421h0" stroke="#b8a6e4"/><path d="M921 755h0M955 747h0M1218 568h0M960 737h0M264 719h0M1132 513h0M978 752h0M1041 622h0M963 656h0M962 695h0M1009 542h0M1090 268h0M1058 604h0M890 770h0M955 471h0M825 741h0M235 582h0M1124 573h0M897 771h0M885 585h0M790 735h0M1211 595h0M743 542h0M1074 546h0M1167 486h0M1168 310h0M1047 585h0M1062 619h0M1059 541h0M913 343h0M898 651h0M1181 608h0M1118 607h0M1130 670h0M1056 683h0M1093 639h0M1039 535h0M805 736h0M786 584h0M1059 668h0M1002 398h0M942 464h0M1092 455h0M913 744h0M1097 428h0M1096 594h0M1044 433h0M283 755h0M1035 566h0M287 825h0M1217 552h0M1010 468h0M923 734h0M927 673h0M1124 424h0M335 853h0M318 765h0M1032 662h0M1133 439h0M1044 626h0M1066 659h0M994 670h0M1194 486h0M1175 425h0M961 767h0M1102 512h0M1060 613h0M1085 674h0M1075 586h0M1133 281h0M1074 536h0M185 607h0M931 438h0M773 722h0M903 722h0M1036 440h0M1107 468h0M212 648h0M1097 510h0M979 675h0M1050 516h0M1155 590h0M1032 601h0M297 764h0M1084 452h0M866 489h0M984 536h0M1083 632h0M987 664h0M185 561h0M1028 586h0M1079 701h0M1034 464h0M266 651h0M958 741h0M1019 318h0M305 716h0M1024 330h0M1151 525h0M1190 600h0M281 698h0M1112 464h0M964 754h0M909 716h0M1148 626h0M1000 662h0M305 802h0M1186 403h0M1098 531h0M890 748h0M166 561h0M1180 486h0M278 683h0M1025 518h0M1100 649h0M1217 540h0M1001 709h0M1020 500h0M1088 358h0M944 706h0M1023 447h0M974 701h0M1079 625h0M1021 323h0M1078 270h0M975 602h0M843 366h0M286 808h0M1140 469h0M1134 518h0M278 764h0M1201 525h0M1138 451h0M777 528h0M1008 722h0M1031 677h0M859 610h0M1125 525h0M930 730h0M970 473h0M295 713h0M329 881h0M1037 617h0M745 295h0M1196 571h0M992 328h0M1144 429h0M196 588h0M1219 530h0M854 630h0M328 918h0M1077 652h0M986 754h0M1098 522h0M1152 646h0M1072 421h0M939 542h0M274 697h0M807 759h0M1190 462h0M1019 561h0M914 610h0M1147 452h0M964 730h0M1010 735h0M922 766h0M1158 413h0M843 719h0M1000 637h0M1063 440h0M241 636h0M1093 724h0M818 334h0M1040 667h0M912 616h0M1051 677h0M804 456h0M1069 594h0M1148 577h0M1050 614h0M304 740h0M802 730h0M1056 367h0M1063 663h0M1059 528h0M210 614h0M279 741h0M286 759h0M849 408h0M1087 588h0M1133 500h0M307 675h0M1143 534h0M1109 427h0M1048 740h0M205 652h0M1092 530h0M898 665h0M1104 534h0M1127 604h0M775 753h0M1110 610h0M928 679h0M1110 402h0M1055 570h0M200 609h0M1076 667h0M1016 616h0M1081 481h0M252 615h0M804 583h0M926 761h0M181 592h0M1000 524h0M751 346h0M1195 583h0M956 765h0M1223 573h0M955 479h0M895 747h0M1126 610h0M1052 706h0M1154 463h0M1104 594h0M978 667h0M944 571h0M864 651h0M934 704h0M900 742h0M889 675h0M1079 469h0M861 746h0M1013 608h0M1129 445h0M810 778h0M1143 655h0M1098 519h0M336 807h0M1128 434h0M866 730h0M847 651h0M307 892h0M1180 583h0M863 552h0M1151 607h0M316 847h0M860 770h0M926 749h0" stroke="#ae96ea"/><path d="M1049 656h0M1091 440h0M987 432h0M793 580h0M867 603h0M1083 643h0M1149 410h0M1165 401h0M346 857h0M1188 352h0M1208 523h0M908 728h0M860 637h0M1129 543h0M1036 408h0M286 740h0M890 371h0M314 774h0M838 559h0M1081 265h0M1098 372h0M1179 493h0M1051 528h0M1011 392h0M826 736h0M1200 565h0M1097 328h0M868 699h0M1141 342h0M1107 385h0M986 462h0M1190 324h0M892 707h0M908 598h0M818 560h0M313 792h0M302 774h0M1004 312h0M307 612h0M798 592h0M905 661h0M1077 608h0M832 440h0M1052 422h0M1186 476h0M804 668h0M745 402h0M1130 407h0M913 562h0M1082 732h0M866 655h0M744 662h0M1059 585h0M1155 383h0M237 518h0M860 730h0M983 427h0M1039 734h0M173 598h0M1102 425h0M843 750h0M922 670h0M1051 576h0M1063 572h0M1037 603h0M206 595h0M1056 639h0M764 748h0M1195 549h0M314 850h0M1060 427h0M1076 717h0M1194 355h0M992 473h0M941 652h0M293 615h0M1021 310h0M1010 743h0M818 565h0M1150 431h0M755 348h0M980 426h0M801 549h0M1027 670h0M1089 559h0M1166 425h0M854 676h0M196 595h0M873 547h0M1102 388h0M758 589h0M1085 585h0M1028 622h0M403 958h0M378 925h0M1067 445h0M983 540h0M820 712h0M230 598h0M1025 467h0M990 626h0M1098 679h0M1146 415h0M1005 535h0M968 637h0M827 700h0M1069 739h0M857 619h0M1116 328h0M1051 650h0M1106 662h0M305 752h0M1198 422h0M993 729h0M237 657h0M214 596h0M332 784h0M980 359h0M927 598h0M942 365h0M814 456h0M865 610h0M797 735h0M782 671h0M1024 385h0M433 958h0M913 591h0M1007 317h0M954 433h0M353 898h0M1129 384h0M1182 542h0M203 603h0M923 622h0M1064 531h0M886 574h0M1056 349h0M1048 279h0M959 650h0M1027 392h0M960 517h0M1147 380h0M345 853h0M1159 403h0M882 726h0M978 548h0M894 669h0M811 602h0M1011 319h0M815 542h0M1085 724h0M1114 555h0M998 425h0M929 582h0M910 760h0M1078 552h0M860 676h0M764 675h0M1192 544h0M348 877h0M1144 578h0M371 885h0M255 507h0M927 558h0M949 474h0M376 731h0M1168 479h0M986 491h0M1149 616h0M1087 482h0M1071 663h0M1189 512h0M248 631h0M329 912h0M1089 670h0M279 703h0M726 559h0M1222 558h0M892 639h0M1000 548h0M1105 530h0M851 621h0M1109 336h0M866 376h0M827 761h0M295 735h0M1029 470h0M763 590h0M307 693h0M846 656h0M958 646h0M927 433h0M1141 402h0M264 731h0M871 756h0M1157 573h0M970 537h0M232 651h0M1192 560h0M846 776h0M1031 706h0M1029 398h0M1046 646h0M1151 564h0M1105 404h0M1035 428h0M874 688h0M1071 425h0M1071 483h0M895 687h0M941 510h0M1057 446h0M327 767h0M1176 604h0M1023 578h0M846 741h0M1117 632h0M1189 414h0M292 752h0M1109 392h0M1184 360h0M948 574h0M1003 694h0M927 516h0M363 853h0M1164 421h0M960 604h0M429 952h0M1019 655h0M835 707h0M1123 507h0M919 603h0M1010 689h0M1189 549h0M776 737h0M874 576h0M422 954h0M1175 372h0M961 469h0M398 831h0M990 552h0M835 772h0M1094 446h0M1055 667h0M1011 476h0M902 729h0M205 612h0M842 687h0M878 776h0M919 675h0M293 747h0M304 882h0M972 688h0M162 601h0M1143 628h0M916 770h0M1037 443h0M990 396h0M1045 712h0M891 688h0M933 661h0M1014 699h0M812 687h0M1166 451h0M183 601h0M824 705h0M851 425h0M322 843h0M1177 529h0M951 610h0M936 558h0M1011 516h0M198 572h0M1101 555h0M885 548h0M1046 495h0M1158 528h0M1086 431h0M954 589h0M813 360h0M923 559h0M1224 584h0M956 571h0M1206 487h0M1086 398h0M742 395h0M332 794h0M929 392h0M289 700h0M947 649h0M954 455h0M1159 477h0M998 538h0M812 353h0M1071 456h0M176 616h0M901 584h0M977 559h0M1066 602h0M954 473h0M1088 410h0M795 766h0M1102 384h0M837 500h0M860 516h0M223 645h0M1103 583h0M1122 590h0M1081 661h0M1200 540h0M730 628h0M849 604h0M247 602h0M809 449h0M1043 674h0M1022 529h0M1109 293h0M265 693h0M1010 652h0M1040 719h0M838 379h0M859 704h0M1113 361h0M1061 376h0M983 495h0M195 612h0M946 612h0M798 651h0M808 717h0M920 544h0M947 709h0M1065 494h0M990 755h0M920 510h0M969 610h0M1001 541h0M829 403h0M1022 437h0M1059 402h0M1073 528h0M1082 392h0M798 539h0M806 749h0M940 699h0M1166 392h0M928 741h0M780 782h0M962 688h0M321 789h0M321 838h0M985 585h0M311 813h0M816 304h0M864 741h0M1032 305h0M1148 384h0M1022 349h0M844 704h0M976 473h0M1065 674h0M961 541h0M725 704h0M974 576h0M989 334h0M1006 476h0M823 452h0M1018 640h0M953 531h0M912 486h0M1131 380h0M808 637h0M1091 371h0M937 740h0M874 537h0M983 573h0M844 378h0M1091 540h0M1085 641h0M1060 434h0M1202 354h0M896 470h0M973 455h0M248 629h0M1015 498h0M262 625h0M884 553h0M701 782h0M996 459h0M940 735h0M1015 442h0M965 487h0M958 449h0M676 339h0M839 401h0M999 635h0M357 853h0M346 797h0M850 493h0M927 697h0M847 664h0" stroke="#a486ef"/><path d="M763 456h0M281 746h0M1008 421h0M272 624h0M1088 534h0M851 535h0M692 649h0M1037 432h0M338 867h0M879 464h0M927 486h0M854 614h0M815 438h0M850 676h0M364 821h0M872 561h0M906 493h0M255 701h0M334 801h0M852 305h0M901 594h0M1120 337h0M769 565h0M896 521h0M985 343h0M863 410h0M816 682h0M908 573h0M853 489h0M413 947h0M1009 358h0M891 390h0M433 965h0M881 434h0M876 603h0M324 868h0M313 863h0M735 537h0M1102 406h0M968 603h0M285 695h0M1001 568h0M884 646h0M684 510h0M1050 483h0M400 882h0M835 664h0M944 594h0M987 475h0M975 378h0M1184 334h0M1034 368h0M237 522h0M1171 566h0M1116 622h0M745 613h0M1178 516h0M800 370h0M1166 366h0M289 820h0M895 566h0M1045 443h0M883 649h0M1133 394h0M912 636h0M859 488h0M776 525h0M1112 316h0M1028 421h0M810 596h0M1080 336h0M1095 652h0M942 390h0M1163 615h0M867 433h0M1022 299h0M807 731h0M469 974h0M902 511h0M917 722h0M863 473h0M815 430h0M1001 409h0M981 588h0M1000 717h0M809 474h0M1056 662h0M883 675h0M817 329h0M937 469h0M1139 414h0M937 494h0M968 597h0M758 603h0M338 900h0M896 333h0M323 904h0M949 741h0M604 710h0M1035 403h0M959 552h0M761 560h0M786 761h0M786 479h0M1151 479h0M335 893h0M213 600h0M1094 389h0M926 589h0M981 737h0M835 740h0M834 455h0M657 685h0M242 658h0M800 467h0M989 479h0M804 619h0M759 715h0M1195 465h0M792 721h0M986 488h0M1155 582h0M1165 372h0M1052 746h0M934 376h0M1083 403h0M1003 561h0M1179 444h0M869 443h0M1038 404h0M1025 419h0M866 536h0M1071 378h0M866 704h0M895 645h0M1047 379h0M746 594h0M980 643h0M945 491h0M884 409h0M834 626h0M849 554h0M300 862h0M221 607h0M902 704h0M249 513h0M821 746h0M348 900h0M984 498h0M1110 500h0M985 367h0M927 397h0M176 410h0M1068 281h0M893 368h0M312 826h0M934 244h0M923 602h0M757 614h0M763 665h0M895 404h0M1021 304h0M720 699h0M373 825h0M1154 548h0M930 251h0M805 505h0M369 825h0M1019 329h0M392 832h0M1004 752h0M991 535h0M901 766h0M965 607h0M325 876h0M672 856h0M881 616h0M931 480h0M1038 313h0M897 589h0M881 705h0M1139 500h0M860 633h0M1011 335h0M868 774h0M152 547h0M346 917h0M751 724h0M283 596h0M1147 305h0M835 444h0M1023 337h0M313 889h0M276 772h0M1092 317h0M853 670h0M801 456h0M900 376h0M934 710h0M296 772h0M1132 330h0M769 518h0M674 749h0M273 665h0M829 239h0M1007 759h0M1115 689h0M1147 474h0M1147 373h0M707 703h0M1058 724h0M721 760h0M1049 499h0M872 680h0M891 580h0M881 761h0M191 364h0M1081 674h0M687 638h0M963 523h0M1165 468h0M1049 358h0M276 446h0M794 584h0M1109 331h0M241 513h0M1098 322h0M360 840h0M1121 360h0M841 600h0M1189 343h0M1054 316h0M1116 385h0M856 382h0M1116 651h0M724 539h0M396 950h0M894 585h0M734 765h0M864 513h0M1149 506h0M875 503h0M734 531h0M970 449h0M1018 395h0M823 476h0M312 841h0M1202 464h0M759 747h0M1081 383h0M1137 328h0M391 845h0M886 414h0M883 516h0M1039 427h0M1167 511h0M713 570h0M1148 632h0M359 825h0M258 524h0M234 534h0M162 578h0M317 859h0M950 497h0M425 961h0M404 946h0M1088 414h0M926 609h0M917 639h0M1179 461h0M777 711h0M813 422h0M878 386h0M1117 400h0M255 530h0M337 566h0M904 337h0M1123 578h0M615 692h0M773 665h0M965 432h0M1153 389h0M748 498h0M696 545h0M1016 361h0M367 840h0M951 635h0M336 919h0M1105 657h0M202 564h0M936 509h0M973 568h0M1055 270h0M772 689h0M836 422h0M849 541h0M347 885h0M820 491h0M810 521h0M1057 277h0M783 271h0M1108 299h0M387 931h0M1102 350h0M1147 389h0M1147 518h0M296 728h0M962 474h0M1200 368h0M1067 293h0M970 670h0M273 675h0M911 507h0M845 668h0M930 765h0M848 697h0M930 667h0M1129 285h0M342 927h0M915 534h0M372 858h0M334 861h0M1009 664h0M968 531h0M975 443h0M941 525h0M905 390h0M697 667h0M910 372h0M966 584h0M1192 348h0M742 356h0M850 451h0M986 509h0M964 500h0M824 667h0M952 566h0M337 941h0M953 616h0M307 886h0M720 562h0M273 725h0M342 912h0M969 467h0M830 621h0M349 805h0M857 453h0M1120 274h0M299 839h0M1171 597h0M1114 326h0M810 549h0M770 449h0M863 701h0M817 719h0M364 831h0M687 686h0M1057 287h0M995 394h0M1030 626h0M826 277h0M1193 433h0M992 391h0M293 682h0M850 782h0M951 586h0M282 810h0M832 728h0M922 633h0M862 588h0M765 650h0M1023 604h0M1060 487h0M853 580h0M1001 483h0M922 595h0M1001 760h0M1124 355h0M752 743h0M1088 330h0M231 590h0M316 808h0M815 747h0M308 853h0M906 603h0M700 348h0M918 578h0M802 743h0M1175 458h0M851 244h0M895 713h0M950 512h0M314 898h0M1181 331h0M863 446h0M846 748h0M839 627h0M1021 640h0M769 683h0M1028 367h0M726 392h0M733 597h0M975 528h0M853 509h0M1133 301h0M961 383h0M1012 342h0M1049 446h0M968 546h0M1163 301h0M1046 578h0M1051 434h0M324 862h0M1062 281h0M832 492h0M934 446h0M172 620h0M1042 416h0M1084 655h0M1141 614h0M678 645h0M1088 341h0M821 468h0M812 758h0M967 457h0M952 667h0M879 413h0" stroke="#9b77f4"/><path d="M971 390h0M745 738h0M1035 488h0M1025 377h0M735 689h0M962 505h0M723 573h0M1155 495h0M493 985h0M331 929h0M787 671h0M161 554h0M752 710h0M907 485h0M1065 410h0M848 455h0M872 477h0M842 676h0M468 907h0M1188 438h0M298 705h0M1076 414h0M881 501h0M191 525h0M998 355h0M1181 317h0M704 511h0M1006 487h0M843 457h0M820 432h0M541 685h0M787 649h0M764 530h0M378 819h0M721 572h0M973 300h0M438 959h0M909 425h0M585 718h0M717 681h0M961 531h0M846 504h0M1071 325h0M1095 438h0M710 461h0M685 796h0M1137 380h0M688 483h0M337 784h0M879 392h0M234 572h0M689 374h0M928 632h0M772 735h0M883 370h0M848 467h0M822 661h0M898 547h0M367 911h0M947 394h0M839 434h0M1002 384h0M875 446h0M299 597h0M718 522h0M881 609h0M297 852h0M385 893h0M1165 324h0M445 974h0M886 634h0M177 489h0M258 316h0M256 574h0M776 554h0M743 746h0M337 929h0M898 421h0M696 703h0M407 892h0M920 584h0M798 473h0M849 547h0M1168 347h0M1065 285h0M682 640h0M858 717h0M877 433h0M1190 516h0M959 481h0M1151 323h0M888 606h0M932 456h0M735 469h0M745 676h0M888 705h0M713 785h0M430 934h0M1081 371h0M242 574h0M427 816h0M708 710h0M1189 331h0M714 452h0M494 717h0M1031 542h0M866 453h0M807 586h0M880 573h0M822 547h0M1037 541h0M207 537h0M1129 343h0M745 705h0M650 626h0M351 928h0M888 723h0M403 852h0M803 256h0M740 730h0M731 585h0M1141 358h0M848 528h0M201 356h0M1138 364h0M878 425h0M789 634h0M886 474h0M357 892h0M977 402h0M726 610h0M744 712h0M275 649h0M925 386h0M1002 528h0M896 407h0M924 379h0M832 740h0M350 942h0M921 391h0M816 428h0M193 548h0M517 676h0M1170 359h0M167 464h0M541 700h0M678 601h0M1031 458h0M1091 281h0M797 485h0M1047 294h0M181 440h0M773 619h0M819 528h0M198 492h0M1175 342h0M907 768h0M800 299h0M957 255h0M1149 300h0M1152 378h0M921 339h0M361 900h0M685 706h0M361 959h0M1167 331h0M831 461h0M377 961h0M932 397h0M230 566h0M1036 298h0M766 577h0M868 492h0M919 407h0M909 365h0M746 681h0M1129 348h0M689 725h0M283 601h0M741 589h0M720 765h0M801 692h0M918 383h0M386 954h0M1060 306h0M196 517h0M242 331h0M1107 273h0M866 415h0M950 440h0M872 452h0M838 462h0M1114 506h0M920 464h0M1124 364h0M905 513h0M928 522h0M570 688h0M1045 457h0M1040 343h0M896 492h0M860 537h0M924 372h0M871 570h0M705 463h0M731 440h0M1151 342h0M638 685h0M871 530h0M774 707h0M303 603h0M889 503h0M924 365h0M601 686h0M236 643h0M889 386h0M383 958h0M650 749h0M417 849h0M170 527h0M864 595h0M693 772h0M691 681h0M871 640h0M655 705h0M573 668h0M735 652h0M770 555h0M836 529h0M763 543h0M858 379h0M1062 449h0M1006 548h0M859 403h0M900 414h0M889 592h0M177 435h0M1041 304h0M896 432h0M839 407h0M800 759h0M290 634h0M748 379h0M902 462h0M718 732h0M767 780h0M915 477h0M731 657h0M441 948h0M574 689h0M1179 433h0M853 462h0M758 723h0M768 623h0M986 372h0M160 500h0M775 695h0M818 452h0M861 523h0M854 543h0M1161 334h0M651 698h0M384 946h0M839 622h0M928 618h0M433 803h0M936 403h0M781 510h0M714 592h0M924 529h0M849 444h0M195 499h0M1018 452h0M1087 444h0M255 382h0M381 942h0M739 499h0M728 335h0M255 584h0M221 499h0M859 681h0M914 416h0M836 283h0M923 471h0M296 579h0M1174 379h0M1070 314h0M946 372h0M951 422h0M420 894h0M461 977h0M399 847h0M766 305h0M689 634h0M1187 523h0M217 565h0M751 676h0M416 893h0M250 594h0M890 483h0M866 329h0M272 646h0M1183 412h0M850 524h0M969 395h0M1095 276h0M1016 372h0M745 549h0M507 740h0M858 500h0M822 444h0M859 780h0M486 728h0M678 810h0M191 371h0M779 650h0M307 645h0M1074 276h0M416 970h0M891 495h0M446 958h0M321 853h0M168 519h0M398 912h0M773 677h0M840 422h0M352 877h0M1041 294h0M780 715h0M430 823h0M343 846h0M408 845h0M730 710h0M696 742h0M686 627h0M910 529h0M271 608h0M857 422h0M954 412h0M718 584h0" stroke="#9268f8"/><path d="M981 408h0M867 464h0M844 414h0M659 881h0M681 517h0M692 752h0M943 452h0M391 924h0M310 640h0M671 611h0M530 815h0M193 573h0M1099 306h0M639 652h0M1001 517h0M709 794h0M666 714h0M902 450h0M1047 474h0M487 985h0M269 631h0M710 583h0M800 313h0M700 734h0M450 928h0M710 699h0M756 734h0M629 722h0M819 482h0M698 716h0M325 549h0M617 688h0M914 425h0M216 463h0M462 968h0M544 707h0M1074 349h0M216 538h0M223 579h0M286 607h0M375 874h0M682 699h0M484 736h0M278 643h0M1151 349h0M355 572h0M677 851h0M949 414h0M393 880h0M434 970h0M186 426h0M584 633h0M164 516h0M189 542h0M667 883h0M443 935h0M542 725h0M797 270h0M623 673h0M670 352h0M1021 352h0M527 698h0M702 613h0M321 857h0M793 286h0M279 624h0M906 280h0M921 316h0M579 659h0M692 626h0M204 529h0M427 964h0M754 766h0M359 920h0M635 693h0M758 761h0M904 410h0M689 665h0M658 691h0M733 671h0M731 540h0M1055 390h0M220 531h0M237 550h0M427 946h0M477 943h0M651 674h0M655 571h0M692 731h0M871 768h0M1204 531h0M558 803h0M419 936h0M402 911h0M930 421h0M730 390h0M693 613h0M881 360h0M187 451h0M741 669h0M719 754h0M266 590h0M284 489h0M398 900h0M484 747h0M591 687h0M379 834h0M874 615h0M290 534h0M167 471h0M545 734h0M174 538h0M583 673h0M1054 450h0M902 392h0M260 313h0M727 517h0M862 420h0M409 925h0M1093 263h0M356 862h0M779 705h0M710 663h0M366 881h0M749 766h0M921 440h0M990 559h0M659 722h0M348 914h0M903 360h0M867 346h0M423 970h0M884 444h0M245 506h0M859 511h0M707 669h0M243 449h0M867 622h0M859 427h0M444 919h0M767 707h0M164 482h0M879 487h0M829 527h0M708 613h0M937 473h0M878 476h0M872 413h0M521 749h0M721 675h0M746 692h0M878 482h0M349 834h0M975 382h0M412 956h0M846 614h0M1070 287h0M686 592h0M1123 325h0M399 940h0M940 457h0M623 893h0M380 955h0M673 798h0M531 679h0M883 322h0M695 493h0M1043 325h0M911 483h0M219 509h0M632 647h0M712 474h0M892 455h0M665 577h0M189 406h0M678 598h0M715 578h0M436 953h0M688 830h0M209 463h0M530 706h0M885 491h0M596 664h0M500 742h0M689 676h0M681 788h0M720 556h0M952 396h0M755 646h0M853 434h0M660 738h0M1119 287h0M755 512h0M667 627h0M608 677h0M776 774h0M840 468h0M258 453h0M660 664h0M504 980h0M678 621h0M171 415h0M849 240h0M904 371h0M942 415h0M714 603h0M157 580h0M290 595h0M353 689h0M685 701h0M566 712h0M397 850h0M813 251h0M674 726h0M669 437h0M669 656h0M601 728h0M787 500h0M839 398h0M673 602h0M381 907h0M952 354h0M802 779h0M946 300h0M881 292h0M906 452h0M274 640h0M862 613h0M685 715h0M920 689h0M1155 348h0M367 917h0M174 504h0M694 326h0M240 422h0M701 494h0M709 482h0M700 818h0M710 670h0M282 564h0M378 862h0M917 310h0M160 455h0M881 441h0M726 741h0M723 469h0M663 647h0M682 756h0M509 983h0M171 601h0M237 554h0M167 419h0M514 983h0M489 737h0M875 517h0M906 384h0M673 674h0M720 703h0M1189 374h0M566 732h0M302 639h0M884 596h0M280 583h0M389 840h0M770 592h0M745 463h0M1080 398h0M750 552h0M948 338h0" stroke="#8859fa"/><path d="M177 468h0M814 415h0M178 455h0M600 658h0M703 531h0M433 836h0M295 529h0M667 640h0M911 311h0M450 652h0M413 641h0M514 934h0M468 773h0M245 446h0M715 480h0M694 797h0M496 765h0M682 669h0M645 662h0M873 436h0M632 689h0M511 968h0M657 601h0M437 863h0M215 437h0M188 455h0M598 680h0M661 873h0M981 311h0M538 978h0M274 504h0M930 349h0M238 457h0M583 665h0M1077 313h0M925 408h0M601 669h0M1136 309h0M248 425h0M206 510h0M449 846h0M557 740h0M687 821h0M720 664h0M215 451h0M445 864h0M682 644h0M559 676h0M406 937h0M507 846h0M917 628h0M213 364h0M626 768h0M913 418h0M220 480h0M520 704h0M704 474h0M422 898h0M783 735h0M506 707h0M303 612h0M689 809h0M937 552h0M226 342h0M460 947h0M692 463h0M262 504h0M644 750h0M682 782h0M672 701h0M636 741h0M628 644h0M387 535h0M303 628h0M206 583h0M686 652h0M626 692h0M175 482h0M526 745h0M568 930h0M656 671h0M622 778h0M554 760h0M417 887h0M474 656h0M475 934h0M338 406h0M521 970h0M888 410h0M343 576h0M634 683h0M188 570h0M902 437h0M435 905h0M272 436h0M675 731h0M702 517h0M616 601h0M862 358h0M172 486h0M653 808h0M585 694h0M657 364h0M673 530h0M1138 389h0M551 728h0M704 595h0M463 940h0M380 930h0M508 680h0M204 395h0M792 300h0M279 609h0M649 644h0M487 764h0M926 536h0M583 725h0M656 801h0M469 968h0M351 503h0M698 449h0M703 468h0M234 354h0M664 669h0M685 614h0M349 573h0M900 572h0M775 682h0M215 339h0M716 343h0M689 735h0M168 433h0M372 895h0M388 865h0M413 855h0M197 529h0M496 329h0M496 967h0M684 851h0M685 766h0M230 516h0M196 362h0M193 376h0M830 242h0M936 392h0M163 447h0M560 701h0M388 868h0M660 617h0M607 683h0M291 547h0M650 740h0M685 570h0M220 428h0M685 694h0M649 789h0M691 694h0M962 355h0M293 566h0M639 368h0M511 676h0M154 501h0M769 711h0M646 800h0M223 571h0M664 749h0M553 665h0M563 668h0M458 313h0M749 664h0M622 627h0M255 579h0M488 971h0M708 748h0M660 808h0M188 403h0M599 694h0M508 851h0M948 289h0M258 471h0M473 973h0M533 674h0M755 675h0M626 608h0M241 437h0M583 686h0M418 875h0M271 424h0M311 504h0M675 665h0M154 530h0M773 570h0M917 505h0M483 977h0M206 522h0M283 309h0M595 918h0M694 807h0M663 681h0M200 426h0M647 571h0M862 300h0" stroke="#7e4afc"/><path d="M435 871h0M514 942h0M653 734h0M435 915h0M651 795h0M279 579h0M488 656h0M658 651h0M371 313h0M486 639h0M1004 273h0M468 821h0M636 565h0M279 530h0M508 961h0M243 486h0M633 616h0M230 337h0M454 780h0M325 445h0M453 922h0M652 821h0M511 716h0M281 552h0M958 270h0M588 868h0M669 739h0M524 658h0M633 752h0M366 943h0M223 366h0M493 638h0M591 362h0M679 835h0M392 871h0M229 513h0M549 681h0M569 917h0M475 783h0M619 382h0M611 651h0M232 348h0M546 663h0M496 875h0M284 340h0M601 662h0M287 543h0M541 810h0M494 898h0M657 523h0M345 305h0M489 882h0M661 798h0M638 737h0M251 325h0M662 425h0M210 382h0M1009 285h0M490 966h0M217 419h0M552 894h0M370 959h0M675 812h0M492 650h0M606 619h0M616 771h0M461 952h0M649 655h0M502 707h0M630 779h0M604 673h0M178 542h0M503 758h0M535 821h0M576 737h0M676 477h0M287 337h0M533 895h0M635 671h0M465 936h0M227 345h0M619 892h0M663 654h0M608 686h0M440 852h0M596 944h0M570 809h0M643 548h0M230 554h0M613 754h0M202 416h0M577 941h0M654 814h0M657 875h0M601 724h0M236 330h0M517 712h0M399 886h0M559 725h0M662 561h0M448 817h0M258 365h0M688 760h0M682 795h0M286 615h0M609 645h0M625 376h0M667 564h0M649 707h0M251 476h0M450 822h0M684 776h0M698 487h0M493 788h0M650 873h0M824 426h0M269 530h0M452 792h0M216 489h0M708 531h0M514 668h0M481 754h0M268 542h0M187 391h0M624 928h0M247 580h0M233 433h0M175 476h0M424 380h0M191 397h0M245 366h0M441 897h0M479 744h0M341 498h0M493 958h0M606 727h0M832 524h0M279 595h0M251 524h0M674 863h0M518 723h0M622 803h0M446 948h0M440 924h0M477 738h0M694 458h0M533 348h0M654 828h0M218 409h0M675 400h0M496 754h0M648 512h0M659 624h0M527 663h0M467 633h0M837 307h0M478 882h0M523 716h0M523 670h0M469 661h0M646 809h0M559 651h0M461 807h0M642 657h0M591 887h0M640 594h0M666 600h0M545 966h0M571 643h0M906 445h0M286 562h0M253 430h0M638 636h0M696 632h0M261 529h0M353 591h0M249 451h0M489 934h0M202 507h0M624 640h0M572 718h0M642 864h0M660 621h0M671 753h0M635 623h0M457 640h0M592 754h0M819 285h0M392 348h0M224 468h0M303 309h0M920 476h0M436 935h0M418 863h0M644 831h0M591 874h0M626 900h0M895 425h0M168 543h0M556 790h0" stroke="#6f36fd"/><path d="M460 912h0M874 336h0M269 554h0M560 952h0M631 843h0M540 869h0M261 383h0M611 601h0M625 531h0M236 448h0M451 639h0M554 613h0M569 954h0M502 839h0M461 923h0M635 731h0M556 888h0M482 917h0M199 525h0M540 953h0M653 579h0M882 336h0M524 388h0M443 880h0M370 594h0M549 754h0M286 501h0M609 750h0M345 565h0M201 452h0M272 462h0M523 886h0M563 695h0M629 661h0M420 941h0M345 313h0M588 658h0M396 388h0M577 704h0M436 631h0M201 378h0M609 855h0M233 467h0M513 782h0M497 774h0M296 547h0M692 833h0M611 612h0M550 329h0M454 911h0M479 895h0M563 743h0M502 816h0M682 444h0M461 656h0M356 548h0M338 326h0M393 576h0M647 868h0M289 428h0M251 469h0M321 396h0M507 808h0M543 910h0M403 875h0M661 774h0M656 485h0M374 590h0M535 633h0M581 838h0M607 694h0M636 865h0M519 771h0M443 385h0M290 379h0M608 924h0M301 462h0M556 953h0M293 450h0M556 332h0M239 479h0M664 481h0M615 582h0M691 825h0M580 631h0M244 482h0M645 627h0M549 828h0M544 959h0M576 692h0M569 882h0M265 507h0M499 753h0M475 911h0M487 751h0M563 582h0M521 909h0M476 955h0M653 863h0M272 420h0M320 488h0M651 755h0M690 353h0M630 713h0M659 554h0M286 373h0M213 471h0M357 311h0M317 524h0M602 762h0M255 359h0M301 471h0M489 792h0M573 950h0M613 596h0M555 639h0M592 586h0M360 337h0M362 558h0M535 935h0M458 905h0M601 364h0M528 628h0M395 352h0M266 584h0M852 353h0M903 246h0M432 610h0M582 737h0M524 728h0M406 881h0M446 826h0M453 962h0M489 482h0M336 444h0M558 841h0M515 776h0M437 913h0M846 355h0M311 306h0M267 395h0M980 322h0M661 350h0M451 646h0M327 451h0M218 504h0M537 716h0M366 494h0M469 798h0M430 626h0M663 536h0M287 467h0M428 880h0M528 851h0M587 936h0M642 768h0M679 870h0M652 834h0M597 603h0M297 395h0M674 579h0M489 662h0M301 528h0M244 536h0M503 510h0M601 596h0M283 468h0M462 893h0M350 546h0M602 881h0M273 395h0M406 869h0M296 505h0M408 628h0M279 348h0M496 935h0M633 747h0M184 505h0M626 706h0M526 843h0M248 366h0M305 535h0M567 776h0M304 499h0M653 520h0M900 329h0M356 319h0" stroke="#5f23ff"/><path d="M522 597h0M346 530h0M703 329h0M500 916h0M473 789h0M530 789h0M644 783h0M278 403h0M696 347h0M702 325h0M708 322h0M272 536h0M363 554h0M383 558h0M520 798h0M580 592h0M486 832h0M448 840h0M276 432h0M241 376h0M878 366h0M560 395h0M293 438h0M548 630h0M555 831h0M612 389h0M576 626h0M660 792h0M629 577h0M831 353h0M255 346h0M484 795h0M375 521h0M570 659h0M573 638h0M207 390h0M475 816h0M457 442h0M240 383h0M441 857h0M605 852h0M727 331h0M692 328h0M411 364h0M457 564h0M408 604h0M646 530h0M233 409h0M501 644h0M556 650h0M575 371h0M683 331h0M415 868h0M315 500h0M250 463h0M659 892h0M516 876h0M661 516h0M496 631h0M655 510h0M510 953h0M333 379h0M678 334h0M279 455h0M293 572h0M487 779h0M248 431h0M224 453h0M450 325h0M637 420h0M647 585h0M645 507h0M646 907h0M296 408h0M301 397h0M635 500h0M532 954h0M331 465h0M634 800h0M479 324h0M468 434h0M471 952h0M435 337h0M626 473h0M728 322h0M639 409h0M577 622h0M385 349h0M579 778h0M584 618h0M255 462h0M478 628h0M605 740h0M352 433h0M620 500h0M630 421h0M474 620h0M465 930h0M458 819h0M352 337h0M291 512h0M432 450h0M238 440h0M334 524h0M515 680h0M406 423h0M501 768h0M639 820h0M447 631h0M897 275h0M261 447h0M275 527h0M649 439h0M395 571h0M598 898h0M539 624h0M473 633h0M675 845h0M435 650h0M618 827h0M318 404h0M299 501h0M390 343h0M560 928h0M711 330h0M521 759h0M621 888h0M564 596h0M375 316h0M643 451h0M451 573h0M621 817h0M458 493h0M581 867h0M626 735h0M644 515h0M636 851h0M524 348h0M275 333h0M520 964h0M363 365h0M577 759h0M743 325h0M430 553h0M432 332h0M610 930h0M547 761h0M464 409h0M501 926h0M663 548h0M516 971h0M826 348h0M542 328h0M699 319h0M457 942h0M523 863h0M429 870h0M499 776h0M635 912h0M410 389h0M714 333h0M467 485h0M435 613h0M259 421h0M714 323h0M638 504h0M580 504h0M388 361h0M521 779h0M441 873h0M499 857h0M349 315h0M527 895h0M531 846h0M612 579h0M874 225h0M559 615h0M593 513h0M366 349h0M462 898h0M606 937h0M643 577h0M573 367h0M263 352h0M504 465h0M307 458h0M518 792h0M569 746h0M428 846h0M710 317h0M908 330h0M930 293h0M553 420h0M428 564h0M590 615h0M314 366h0M485 578h0M465 871h0M564 862h0M623 418h0M485 495h0M316 324h0M733 330h0M575 953h0M170 443h0M439 364h0M475 806h0M448 340h0" stroke="#3f11ff"/><path d="M370 544h0M545 395h0M379 373h0M407 515h0M466 804h0M579 534h0M531 480h0M475 858h0M302 385h0M274 407h0M300 372h0M898 313h0M523 947h0M390 621h0M542 354h0M559 753h0M595 544h0M973 264h0M309 361h0M438 562h0M929 244h0M449 576h0M503 584h0M584 728h0M215 414h0M306 426h0M308 322h0M583 376h0M495 804h0M597 779h0M587 425h0M539 586h0M444 539h0M618 431h0M608 410h0M259 325h0M396 376h0M528 837h0M411 510h0M613 536h0M511 838h0M477 834h0M953 325h0M543 416h0M492 456h0M332 511h0M370 416h0M630 891h0M499 359h0M541 875h0M632 432h0M560 482h0M505 432h0M420 458h0M360 469h0M504 904h0M531 555h0M409 352h0M472 539h0M508 645h0M452 510h0M551 379h0M520 661h0M490 371h0M447 833h0M328 312h0M566 888h0M507 419h0M467 438h0M427 420h0M594 559h0M561 858h0M491 362h0M528 390h0M440 586h0M368 560h0M517 323h0M409 485h0M570 943h0M340 317h0M341 403h0M587 572h0M566 936h0M226 371h0M584 404h0M430 592h0M494 500h0M622 822h0M412 396h0M246 383h0M457 335h0M416 585h0M519 589h0M623 486h0M566 483h0M380 365h0M599 934h0M581 419h0M594 415h0M579 561h0M578 379h0M401 560h0M554 398h0M444 357h0M448 426h0M458 531h0M528 421h0M544 488h0M613 464h0M514 506h0M649 429h0M433 629h0M588 371h0M492 335h0M360 316h0M356 536h0M577 922h0M588 784h0M426 530h0M583 760h0M413 350h0M458 535h0M617 446h0M485 348h0M468 898h0M552 519h0M551 425h0M593 900h0M416 419h0M595 443h0M473 488h0M560 919h0M517 398h0M554 348h0M396 462h0M385 394h0M472 835h0M642 911h0M211 447h0M530 477h0M555 450h0M438 526h0M294 358h0M229 439h0M486 443h0M320 473h0M324 404h0M447 410h0M318 549h0M574 456h0M444 512h0M277 354h0M243 425h0M398 418h0M636 426h0M366 422h0M494 922h0M345 451h0M304 404h0M497 463h0M410 464h0M563 379h0M451 470h0M508 463h0M389 355h0M513 516h0M466 378h0M304 435h0M554 493h0M257 390h0M552 598h0M383 499h0M304 366h0M599 816h0M563 791h0M496 436h0M410 596h0M461 886h0M882 251h0M565 365h0M563 892h0M423 552h0M371 494h0M439 316h0M466 864h0M423 370h0M367 449h0M575 566h0M563 538h0M403 537h0M619 923h0M513 891h0M555 552h0M392 383h0M600 608h0M739 330h0M595 879h0M290 346h0M293 339h0M513 864h0M647 840h0M543 368h0M355 461h0M539 903h0M192 453h0M445 402h0M481 825h0M357 346h0M289 456h0M230 401h0M469 446h0M978 281h0M538 602h0M304 463h0M528 553h0M568 434h0M318 368h0M338 310h0M342 542h0M561 870h0M508 379h0M636 404h0M522 874h0M339 529h0M510 443h0M609 427h0M591 404h0M489 613h0M562 801h0M738 317h0M644 796h0M366 564h0M325 501h0M488 909h0M420 337h0M414 516h0M604 847h0M310 400h0M346 360h0M620 412h0M562 453h0M636 437h0M462 384h0M577 439h0M362 428h0M563 589h0M451 426h0M574 746h0M623 465h0M450 634h0M588 565h0M485 473h0M407 457h0M724 341h0M424 449h0M431 558h0M514 362h0M542 837h0M888 258h0M640 471h0M498 467h0M577 385h0M379 568h0M422 528h0M455 588h0M496 486h0M510 537h0M585 522h0M393 370h0M615 413h0M589 822h0M350 516h0M387 531h0M333 559h0M350 358h0M585 476h0M383 570h0M314 335h0M267 458h0M479 434h0M516 352h0M473 462h0M612 491h0M460 525h0M536 752h0M461 540h0M607 389h0M552 437h0M476 602h0M389 425h0M335 334h0M454 433h0M489 831h0M599 802h0M498 482h0M324 407h0M373 395h0M297 370h0M272 371h0M529 877h0M357 398h0M559 446h0M386 434h0M549 610h0M457 373h0M487 498h0M577 865h0M234 371h0M434 372h0M545 810h0M314 450h0M636 547h0M367 480h0M603 941h0M375 537h0M561 336h0M430 348h0M564 561h0M341 416h0M339 422h0M421 383h0M496 378h0M841 313h0M490 418h0M529 355h0M541 770h0M262 331h0M345 341h0M416 573h0M401 590h0M534 396h0M492 427h0M553 794h0M572 485h0M589 893h0M453 862h0M459 621h0M588 408h0M601 583h0M594 461h0M614 828h0M269 329h0M563 456h0M497 505h0M426 509h0M412 572h0M487 804h0M619 424h0M561 834h0M465 414h0M612 916h0M494 412h0M542 479h0M258 413h0M590 479h0M560 580h0M358 529h0M519 445h0M446 608h0M594 786h0M519 407h0M596 867h0M404 355h0M432 463h0M353 392h0M566 564h0M346 386h0M402 463h0M419 462h0M560 477h0M406 323h0M605 911h0M462 595h0M412 548h0M632 406h0M484 483h0M587 499h0M399 407h0M504 470h0M458 583h0M339 537h0M567 527h0M353 306h0M556 628h0M258 533h0M612 441h0M651 482h0M570 425h0M516 608h0M661 825h0M580 476h0M461 482h0M381 483h0M499 446h0M474 900h0M375 498h0M370 486h0M500 788h0M765 287h0M603 856h0M619 479h0M343 481h0M516 801h0M632 416h0M518 517h0M311 432h0M405 444h0M623 493h0M259 398h0M553 360h0M527 523h0M529 486h0M523 560h0M342 451h0M640 378h0M345 474h0M258 346h0M493 867h0M437 389h0M571 474h0M561 941h0M304 354h0M453 351h0M556 443h0M290 431h0M603 458h0M567 397h0M524 360h0M398 509h0M573 589h0M315 443h0M619 845h0M578 462h0M552 936h0M409 398h0M464 880h0M387 371h0M527 457h0M430 382h0M507 415h0M493 583h0M601 535h0M398 614h0M623 858h0M574 765h0M545 882h0M472 395h0M307 522h0M506 565h0M560 807h0M465 619h0M474 355h0M542 935h0M479 766h0M566 440h0M343 389h0M457 617h0M609 443h0M640 843h0M474 339h0M529 379h0M428 408h0M416 631h0M277 341h0M474 429h0M590 577h0M363 471h0M279 427h0M304 318h0M538 900h0M548 800h0M465 432h0M519 470h0M437 431h0M561 408h0M514 732h0M504 858h0M281 495h0M342 432h0M563 499h0M616 421h0M546 595h0M586 875h0M262 390h0M580 613h0M386 543h0M487 403h0M384 487h0M527 588h0M258 337h0M616 552h0M316 313h0M504 554h0M564 487h0M609 459h0M875 299h0M535 523h0M463 527h0M404 582h0M556 917h0M522 646h0M640 851h0M471 809h0M509 546h0M561 773h0M435 531h0M458 462h0M594 500h0M763 346h0M583 928h0M485 929h0M271 388h0M504 589h0M568 359h0M444 415h0M573 807h0M509 900h0M523 414h0M244 343h0M484 505h0M609 395h0M405 622h0M523 900h0M332 340h0M307 335h0M367 513h0M475 528h0M627 425h0M530 437h0M451 416h0M454 895h0M545 804h0M382 546h0M468 420h0M406 385h0M559 500h0M448 336h0M269 353h0M341 366h0M536 451h0M569 459h0M584 430h0M482 362h0M541 462h0M536 827h0M489 509h0M527 639h0M501 865h0M449 311h0M273 346h0M360 324h0M500 427h0M339 437h0M349 390h0M523 488h0M311 444h0M366 410h0M282 409h0M485 882h0M395 360h0M463 555h0M251 404h0M412 435h0M483 389h0M479 813h0M363 417h0M577 584h0M295 348h0M518 522h0M430 388h0M563 898h0M219 362h0M549 402h0M461 488h0M508 597h0M522 632h0M521 376h0M539 786h0M589 555h0M337 350h0M377 343h0M607 813h0M346 495h0M248 392h0M531 829h0M503 525h0M400 580h0M559 494h0M482 395h0M590 808h0M565 838h0M415 530h0M342 408h0M557 366h0M527 482h0M475 583h0M639 877h0M502 548h0M323 482h0M511 637h0M378 542h0M446 536h0M525 572h0M477 444h0M538 531h0M530 546h0M546 358h0M548 870h0M487 574h0M645 881h0M240 395h0M379 459h0M379 505h0M432 510h0M636 477h0M482 342h0M495 341h0M374 368h0M389 546h0M509 524h0M381 589h0M573 403h0M489 410h0M331 503h0M583 602h0M308 413h0M607 489h0M394 554h0M353 554h0M273 384h0M457 551h0M497 904h0M505 372h0M356 342h0M389 319h0M540 334h0M535 410h0M573 517h0M600 485h0M383 584h0M485 450h0M528 500h0M555 586h0M508 427h0M503 880h0M591 801h0M598 548h0M536 909h0M423 519h0M606 586h0M520 350h0M350 346h0M425 524h0M611 740h0M598 500h0M482 615h0M547 798h0M344 394h0M292 391h0M443 591h0M433 547h0M334 453h0M317 319h0M279 388h0M426 335h0M223 385h0M388 507h0M329 337h0M409 373h0M507 397h0M564 415h0M353 488h0M376 327h0M492 577h0M609 367h0M499 880h0M528 834h0M356 426h0M470 857h0M605 562h0M333 404h0M557 570h0M575 529h0M589 773h0M589 517h0M514 510h0M377 516h0M607 776h0M489 522h0M398 525h0M559 819h0M619 524h0M322 349h0M551 414h0M244 374h0M554 528h0M541 385h0M622 783h0M624 515h0M407 588h0M581 479h0M454 538h0M604 810h0M432 582h0M398 415h0M507 457h0M496 524h0M475 396h0M528 494h0M444 443h0M300 380h0M429 477h0M419 390h0M646 469h0M436 480h0M511 577h0M523 741h0M629 388h0M614 850h0M419 577h0M443 492h0M261 373h0M505 409h0M595 832h0M559 609h0M613 452h0M352 564h0M576 495h0M456 324h0M510 857h0M488 425h0M325 337h0M483 822h0M358 506h0M461 857h0M632 494h0M594 376h0M493 403h0M430 456h0M416 609h0M588 464h0M521 829h0M439 610h0M542 572h0M374 547h0M611 891h0M591 503h0M465 336h0M397 400h0M622 444h0M550 477h0M556 548h0M687 337h0M296 519h0M296 469h0M573 790h0M461 497h0M527 578h0M626 815h0M455 459h0M485 566h0M437 491h0M213 513h0M486 419h0M432 426h0M525 651h0M434 564h0M435 555h0M639 480h0M389 560h0M414 553h0M500 354h0M272 358h0M594 772h0M406 480h0M573 742h0M621 852h0M580 407h0M545 346h0M470 555h0M552 482h0M244 414h0M622 911h0M602 513h0M338 382h0M306 343h0M404 415h0M487 437h0M538 419h0M482 845h0M598 620h0M339 343h0M266 335h0M579 767h0M553 541h0M483 953h0M492 554h0M384 471h0M195 457h0M458 627h0M567 371h0M324 494h0M436 401h0M581 784h0M507 507h0M436 504h0M580 542h0M484 530h0M500 638h0M539 918h0M503 615h0M508 828h0M781 331h0M327 343h0M832 371h0M523 426h0M297 444h0M593 453h0M220 432h0M485 380h0M535 833h0M342 477h0M284 328h0M459 367h0M604 501h0M517 537h0M588 487h0M536 485h0M420 505h0M864 341h0M555 592h0M304 325h0M357 543h0M390 464h0M583 458h0M494 910h0M642 839h0M508 404h0M316 432h0M472 643h0M502 500h0M415 567h0M521 603h0M475 578h0M429 430h0M544 404h0M306 331h0M325 489h0M461 379h0M579 913h0" stroke="#1e00ff"/></g>
<g transform="scale(.5)" fill="none" stroke-linecap="round" stroke-width="11.0"><path d="M2185 727h0M2566 596h0M2275 725h0M1806 402h0M2168 397h0M2792 357h0M2603 383h0M2174 377h0M2122 748h0M2329 433h0M2149 461h0M2730 627h0M2156 961h0M2366 597h0M2766 500h0M1906 392h0M2605 343h0M2191 602h0M2454 310h0M1999 349h0M1939 536h0M1778 434h0M1923 470h0M2085 468h0M1859 452h0M1952 418h0M2460 306h0M2202 401h0M2131 437h0M2131 815h0M2674 711h0M2446 500h0M2779 388h0M2120 553h0M2372 369h0M2524 470h0M2188 636h0M1952 482h0M2517 305h0M2137 751h0M2237 425h0M2748 474h0M2427 770h0M2387 468h0M2135 565h0M2205 569h0M1874 745h0M2517 283h0M2079 898h0M2171 607h0M2023 528h0M1952 577h0M1977 448h0M2133 385h0M2023 834h0M2636 439h0M2154 793h0M1925 883h0M2245 831h0M2059 359h0M2566 300h0M1936 893h0M1911 795h0M2098 564h0M2503 703h0M2055 474h0M2261 737h0M1984 524h0M2199 506h0M1985 563h0M2713 266h0M2229 643h0M2107 627h0M1866 345h0M2734 281h0M2527 608h0M2413 675h0M2284 631h0M1754 512h0M2069 763h0M1897 602h0M2005 581h0M2316 479h0M2123 803h0M2237 541h0M2403 281h0M1764 446h0M2560 625h0M2614 607h0M2117 632h0M2486 668h0M2519 456h0M2076 395h0M2523 594h0M2286 801h0M2453 352h0M1792 524h0M2055 833h0M2726 279h0M2276 812h0M2171 406h0M2183 553h0M2268 639h0M1845 500h0M2633 499h0M1888 804h0M1869 740h0M2118 317h0M1894 319h0M2285 367h0M2490 543h0M2079 323h0M2126 650h0M2206 549h0M1954 512h0M2453 508h0M1894 498h0M1984 910h0M1841 394h0M2196 685h0M2233 432h0M1976 521h0M2752 293h0M2155 612h0M2526 251h0M2561 603h0M2442 494h0M1900 596h0M2013 640h0M2707 554h0M2110 451h0M2408 274h0M2428 624h0M2122 546h0M2097 969h0M2005 403h0M2659 335h0M2615 633h0M1881 370h0M2293 625h0M1951 407h0M2773 436h0M2551 656h0M2495 449h0M2692 454h0M2097 378h0M2077 833h0M2244 687h0M2050 870h0M2058 461h0M2129 627h0M2016 846h0M2195 892h0M2509 666h0M2439 779h0M2099 796h0M2184 882h0M2048 497h0M2054 780h0M2118 365h0M1972 321h0M2189 540h0M1824 632h0M1998 583h0M2521 543h0M2388 268h0M2087 643h0M1923 843h0M1782 439h0M1959 577h0M2436 663h0M2055 537h0M2447 522h0M2213 778h0M1856 578h0M1885 375h0M1919 503h0M2121 975h0M2387 746h0M2581 321h0M2533 469h0M1937 458h0M2569 261h0M2296 636h0M2208 877h0M2441 262h0M2325 594h0M2093 892h0M2030 869h0M1889 834h0M1835 533h0M1847 383h0M2769 518h0M2171 425h0M2585 497h0M2379 602h0M2440 433h0M1890 528h0M2620 654h0M2339 543h0M2104 487h0M2426 267h0M2533 285h0M2512 482h0M2694 576h0M2545 260h0M2716 621h0M2139 875h0M1984 836h0M2439 537h0M2264 437h0M1835 366h0M2346 521h0M1763 591h0M1849 424h0M2639 505h0M2081 327h0M1863 437h0M2387 309h0M1889 358h0M2560 297h0M2145 488h0M2152 838h0M2311 583h0M2272 610h0M1870 352h0M2240 594h0M2146 436h0M2471 327h0M2112 761h0M2288 821h0M2244 498h0M2135 613h0M2205 748h0M1800 525h0M2160 615h0M2150 680h0M2141 928h0M2643 384h0M2229 546h0M2419 318h0M2735 530h0M2333 489h0M2522 303h0M2492 497h0M1810 642h0M2525 651h0M1981 364h0M2158 366h0M2480 403h0M2172 474h0M2233 698h0M2699 571h0M2338 614h0M2405 284h0M2243 643h0M2663 618h0M2439 378h0M2556 638h0M2139 899h0M2580 695h0M1888 312h0M2133 323h0M2160 922h0M2238 626h0M2353 596h0M2111 529h0M2403 340h0M1790 469h0M2485 294h0M2223 572h0M2293 438h0M1980 833h0M2193 668h0M2324 315h0M2292 680h0M2435 577h0M2329 334h0M1831 427h0M2495 509h0M1984 849h0M2137 390h0M2473 716h0M2066 930h0M1925 917h0M2094 638h0M1909 663h0M2343 494h0M2326 546h0M1872 681h0M1939 899h0M1993 601h0M2679 624h0M2065 370h0M2554 552h0M2315 602h0M2109 644h0M2159 840h0M2483 370h0M2430 449h0M2142 760h0M2135 541h0M1824 415h0M2649 498h0M2239 493h0M1762 509h0M1937 918h0M2786 466h0M2469 285h0M2115 620h0M2580 478h0M2231 712h0M2028 963h0M2083 916h0M1966 927h0M1859 325h0M2191 576h0M2117 558h0M2090 330h0M2080 333h0M1910 807h0M2197 672h0M1914 355h0M1985 486h0M2066 377h0M2142 540h0M2279 591h0M2018 436h0M2423 600h0M2204 577h0M2129 966h0M1947 385h0M2030 601h0M2475 615h0M2052 488h0M2387 760h0M2023 966h0M2179 682h0M1890 721h0M2048 488h0M1810 412h0M2339 303h0M1882 712h0M2199 898h0M2517 522h0M1856 346h0M2326 559h0M2065 408h0M2378 564h0M2472 607h0M2796 522h0M2467 329h0M2539 335h0M2171 579h0M2167 347h0M2150 588h0M2070 894h0M2314 785h0M1826 661h0M2355 448h0M2591 322h0M2049 542h0M1947 905h0M2541 418h0M1890 352h0M2807 551h0M2172 936h0M2275 863h0M2349 360h0M2252 834h0M2072 324h0M2751 430h0M2720 280h0M2195 578h0M2290 373h0M2418 404h0M2009 329h0M2485 289h0M2091 854h0M2337 662h0M2453 365h0M2517 236h0M2240 801h0M2765 324h0M2767 365h0M2542 345h0M1959 529h0M2037 357h0M2643 415h0M1869 614h0M2005 354h0M1782 418h0M1965 582h0M2542 248h0M2545 377h0M1957 342h0M2689 413h0M2125 523h0M2438 306h0M2747 498h0M1824 548h0M2024 936h0M2400 688h0M2095 838h0M1866 583h0M2597 741h0M2584 657h0M2338 418h0M2052 949h0M2202 397h0M2452 424h0M2437 294h0M2455 345h0M1934 306h0M2432 693h0M2476 299h0M2254 863h0M1997 488h0M2289 735h0M2171 619h0M2073 959h0M2007 322h0M1838 554h0M2295 600h0M2023 638h0M2191 937h0M2662 643h0M2252 794h0M2167 911h0M2064 527h0M1851 329h0M1834 408h0M1796 438h0M2245 733h0M2143 327h0M2412 686h0M2212 570h0M2156 594h0M1921 755h0M2762 333h0M1812 491h0M1868 418h0M2451 627h0M2311 669h0M2127 942h0M1926 549h0M1932 372h0M2710 322h0M1989 864h0M1991 439h0M1922 437h0M2340 293h0M2109 961h0M2786 366h0M2083 519h0M2548 539h0M2570 615h0M1772 424h0M2692 440h0M2419 370h0M2259 674h0M1782 592h0M2376 718h0M2557 585h0M2395 325h0M1845 519h0M2112 795h0M2436 707h0M2235 730h0M2124 426h0M2049 776h0M2570 627h0M2489 394h0M1978 385h0M2520 434h0M1880 387h0M1963 428h0M2212 838h0M2328 517h0M2133 953h0M2094 510h0M1914 340h0M1954 382h0M2129 736h0M2759 311h0M2070 506h0M2109 561h0M2329 577h0M2082 970h0M2117 352h0M2192 727h0M1831 492h0M1944 820h0M2436 233h0M2210 458h0M2409 636h0M2272 598h0M1999 493h0M1788 586h0M2707 482h0M2244 451h0M2429 261h0M2314 747h0M2659 624h0M1921 874h0M2618 586h0M2236 671h0M2597 527h0M2742 458h0M2515 583h0M2157 967h0M1918 381h0M2419 472h0M2103 909h0M2762 551h0M2132 758h0M2052 425h0M2335 524h0M2517 421h0M2110 607h0M2689 718h0M1961 372h0M2717 317h0M2098 515h0M2714 579h0M2381 612h0M2526 553h0M2671 287h0M2399 539h0M2622 704h0M2019 900h0M2089 355h0M2149 530h0M2532 311h0M2209 685h0M2220 931h0M2090 410h0M2193 754h0M2744 534h0M1876 445h0M2641 525h0M2399 249h0M2446 741h0M2058 941h0M2526 771h0M2608 621h0M2087 365h0M1877 366h0M2180 363h0M2069 878h0M2625 451h0M2050 310h0M2121 370h0M2270 765h0M2051 821h0M2564 500h0M2734 466h0M2303 751h0M1898 763h0M2284 729h0M2739 388h0M2538 493h0M1927 318h0M2197 433h0M2661 456h0M2090 736h0M2598 288h0M2337 433h0M2037 935h0M2343 347h0M2041 379h0M2454 330h0M1936 924h0M2682 546h0M2018 448h0M2033 610h0M2399 698h0M2765 579h0M2164 752h0M1834 599h0M1814 643h0M2388 649h0M1949 379h0M2124 413h0M1831 398h0M2041 627h0M1867 589h0M1896 504h0M1838 521h0M2193 644h0M1969 367h0M1763 600h0M2009 360h0M2384 270h0M2211 470h0M2029 323h0M2213 375h0M2580 389h0M2499 638h0M2492 238h0M2404 536h0M2679 408h0M2468 764h0M1886 573h0M1850 583h0M2037 630h0M2071 530h0M1862 361h0M2639 421h0M2147 724h0M2021 443h0M1828 364h0M2017 893h0M2496 359h0M2589 274h0M2443 487h0M2580 631h0M1920 390h0M2210 394h0M2555 340h0M2248 694h0M2149 491h0M2438 692h0M2332 439h0M2412 389h0M2034 825h0M2062 391h0M2082 861h0M2581 425h0M2357 382h0M2023 495h0M2492 418h0M2067 924h0M2601 334h0M2461 637h0M1943 388h0M2601 456h0M1880 609h0M2509 754h0M1918 318h0M2275 831h0M2677 511h0M2097 967h0M2506 286h0M1962 872h0M2002 560h0M1868 322h0M2301 792h0M2314 561h0M2143 888h0M2451 279h0M1852 573h0M2506 674h0M2356 294h0M1802 355h0M2141 333h0M2690 634h0M2471 761h0M2051 928h0M2076 539h0M2154 492h0M2575 761h0M2569 546h0M2300 511h0M2627 315h0M1995 855h0M2484 349h0M2083 395h0M1860 588h0M2675 354h0M2210 517h0M1831 675h0M1861 383h0M2481 521h0M1873 357h0M2261 349h0M2675 545h0M1962 597h0M2317 759h0M2228 852h0M2323 591h0M1806 651h0M1979 924h0M2301 687h0M2104 464h0M1791 478h0M2187 874h0M2670 622h0M2172 560h0M2405 618h0M1911 639h0M2251 739h0M2648 740h0M2453 293h0M2447 355h0M1916 500h0M2062 488h0M2208 775h0M2689 402h0M2156 457h0M2090 603h0M2028 396h0M1771 568h0M2347 692h0M2045 918h0M2465 355h0M2561 676h0M2433 606h0M2733 401h0M2647 333h0M2666 481h0M1934 379h0M2212 764h0M1999 618h0M2248 547h0M2100 439h0M2293 358h0M2104 661h0M2166 339h0M2314 333h0M2018 949h0M1786 640h0M2362 559h0M2367 318h0M2446 606h0M2391 264h0M2104 948h0M2621 715h0M2114 384h0M2246 626h0M2305 511h0M1964 936h0M2261 825h0M2240 611h0M1921 837h0M2233 674h0M2436 358h0M2692 280h0M1887 388h0M2048 409h0M2014 854h0M2430 527h0M2075 437h0M2580 657h0M2037 856h0M1849 680h0M1919 404h0M1896 555h0M2612 515h0M2234 488h0M2111 819h0M1797 602h0M2310 698h0M1970 824h0M1904 712h0M1968 862h0M2626 419h0M2160 949h0M2066 778h0M2249 439h0M2639 379h0M1896 528h0M1806 370h0M2445 414h0M2690 353h0M2730 575h0M1761 608h0M1952 372h0M2272 535h0M2131 545h0M2345 737h0M2216 644h0M2755 318h0M2612 475h0M1835 403h0M2233 616h0M2615 521h0M2234 572h0M2334 755h0M2379 662h0M2260 337h0M1918 370h0M2297 555h0M1829 583h0M2302 324h0M2083 533h0M2486 764h0M2498 758h0M2254 734h0M2168 651h0M2391 449h0M1980 854h0M2152 850h0M2102 828h0M1954 327h0M2475 250h0M2733 329h0M2142 813h0M1772 505h0M2222 608h0M2742 613h0M2127 445h0M2482 615h0M2062 317h0M2445 729h0M2203 761h0M2433 676h0M2569 378h0M2784 322h0M2220 922h0M1938 517h0M2389 644h0M1908 892h0M1901 409h0M2780 433h0M2548 302h0M2463 288h0M2238 858h0M1839 660h0M2394 761h0M2266 419h0M2464 472h0M1874 733h0M2246 507h0M2478 775h0M2226 746h0M1862 660h0M2212 601h0M2756 383h0M1922 329h0M2431 242h0M2197 760h0M2128 779h0M2225 433h0M2598 650h0M2106 321h0M1987 555h0M2759 527h0M1926 337h0M1905 354h0M2199 700h0M1956 933h0M2309 321h0M1980 551h0M2455 396h0M2580 515h0M2499 263h0M2307 347h0M2447 723h0M2178 424h0M2391 303h0M1979 844h0M2454 727h0M2342 759h0M2088 863h0M2193 354h0M1831 391h0M1809 573h0M1842 437h0M2069 772h0M1789 383h0M2107 766h0M2072 765h0M2458 422h0M2380 639h0M2036 797h0M2285 775h0M2240 820h0M2723 408h0M2751 639h0M2052 328h0M2505 709h0M1915 413h0M2245 749h0M1913 657h0M1952 880h0M1809 656h0M2766 467h0M2457 689h0M1797 649h0M1791 579h0M2102 330h0M2226 826h0M2263 814h0M2680 701h0M2409 703h0M2047 535h0M2573 541h0M2415 746h0M2315 709h0M2251 367h0M2014 456h0M1946 473h0M2598 275h0M2336 651h0M2196 879h0M2094 449h0M1905 487h0M2820 529h0M2026 924h0M1986 349h0M2104 903h0M2628 743h0M1843 620h0M2160 476h0M1949 933h0M1859 492h0M2156 843h0M2192 607h0M1919 457h0M2243 464h0M2726 630h0M1773 485h0M2207 753h0M1815 595h0M2290 424h0M1866 594h0M2153 870h0M2034 628h0M2555 759h0M1865 703h0M2178 622h0M1978 862h0M2211 891h0M1933 793h0M2551 533h0M2131 886h0M2342 755h0M2536 316h0M2240 876h0M2051 527h0M2230 557h0M2427 587h0M2518 733h0M2390 279h0M1994 942h0M1968 436h0M2079 553h0M2795 593h0M2045 322h0M2764 300h0M2214 595h0M2097 365h0M2086 382h0M2561 590h0M2482 458h0M2176 722h0M2489 525h0M2079 627h0M2202 686h0M2155 809h0M2008 506h0M1802 597h0M2483 745h0M2001 566h0M2229 438h0M2019 874h0M2010 912h0M2520 330h0M2209 676h0M1976 424h0M2439 461h0M2286 358h0M1971 527h0M2444 718h0M2225 712h0M2251 422h0M2548 709h0M2172 800h0M2653 486h0M2457 287h0M1862 390h0M1930 398h0M2042 870h0M2776 324h0M2219 905h0M2756 590h0M2248 377h0M2745 596h0M2752 304h0M2094 403h0M1816 402h0M2180 598h0M2706 667h0M2615 485h0M1962 862h0M2030 619h0M2222 888h0M2076 978h0M1851 594h0M1768 463h0M2628 535h0M2080 470h0M2115 510h0M2316 517h0M1773 500h0M2183 349h0M2226 485h0M2024 331h0M2412 682h0M2648 485h0M2281 649h0M2607 548h0M2145 707h0M1894 560h0M1874 697h0M2069 906h0M2216 880h0M2237 596h0M2210 413h0M2065 879h0M1907 644h0M2713 464h0M2249 460h0M2243 812h0M1979 397h0M2014 947h0M2307 372h0M2023 437h0M2541 457h0M1926 430h0M2162 737h0M1957 887h0M1901 317h0M1981 828h0M2109 462h0M2713 632h0M2164 537h0M2617 601h0M2265 412h0M1935 815h0M2107 780h0M2513 663h0M1917 543h0M2735 421h0M2017 625h0M2258 363h0M2100 354h0M2153 872h0M2058 934h0M2318 450h0M2037 491h0M2125 658h0M2142 822h0M2118 522h0M1819 579h0M2370 270h0M1982 907h0M2150 370h0M2254 566h0M2084 952h0M2758 394h0M2238 790h0M1999 895h0M2769 595h0M2684 642h0M1799 386h0M2522 440h0M2210 735h0M2192 403h0M2179 740h0M1917 735h0M1894 717h0M2364 336h0M1880 630h0M2083 822h0M2506 310h0M2414 360h0M2462 300h0M2251 755h0M2245 600h0M2361 302h0M2332 303h0M2710 363h0M2395 548h0M2423 318h0M2594 670h0M2007 384h0M2456 443h0M2303 355h0M1839 336h0M2570 309h0M1837 643h0M2203 941h0M2285 436h0M1869 530h0M2501 682h0M2048 832h0M1838 517h0M2640 281h0M2308 627h0M2475 279h0M1908 612h0M2289 724h0M2669 572h0M2009 398h0M2416 349h0M2637 360h0M2191 486h0M2277 668h0M2023 616h0M2487 727h0M2403 779h0M2398 710h0M2044 491h0M2623 299h0M2653 297h0M1866 692h0M2191 624h0M2052 595h0M2489 705h0M2005 388h0M2240 367h0M2237 779h0M2362 741h0M2620 401h0M1955 801h0M1857 593h0M2612 546h0M2685 263h0M1778 523h0M1946 341h0M2092 529h0M1961 399h0M1992 870h0M2572 426h0M2034 832h0M2209 370h0M1970 875h0M2760 486h0M2506 528h0M2699 322h0M2132 508h0M2559 438h0M2129 766h0M1930 421h0M2764 615h0M2232 858h0M2066 413h0M2269 506h0M1907 472h0M2457 276h0M2738 379h0M2101 886h0M2090 839h0M2120 892h0M1960 824h0M2575 709h0M2004 546h0M2002 383h0M2699 486h0M2537 558h0M2429 712h0M2167 731h0M1856 506h0M2410 549h0M2546 359h0M1862 697h0M1944 784h0M2182 418h0M2740 413h0M2447 261h0M1988 324h0M2261 640h0M2499 481h0M2260 892h0M2534 728h0M1791 529h0M2230 415h0M2334 765h0M1856 539h0M2244 894h0M2276 542h0M2412 410h0M1962 522h0M2112 837h0M2531 513h0M1929 431h0M1968 330h0M2716 311h0M2420 778h0M2150 887h0M2043 844h0M1817 418h0M2007 422h0M2067 863h0M2528 557h0M2314 642h0M1884 339h0M2146 941h0M1796 407h0M2760 476h0M2299 448h0M2069 402h0M2806 591h0M1916 781h0M2142 645h0M1996 424h0M1993 467h0M1939 504h0M1807 582h0M2513 407h0M1824 385h0M2129 928h0M2466 681h0M1948 900h0M2495 331h0M2185 415h0M1817 348h0M2137 572h0M2105 333h0M2653 587h0M2330 469h0M1964 808h0M2416 633h0M2062 345h0M2629 516h0M2762 328h0M2276 354h0M2465 759h0M2541 300h0M2294 612h0M2002 589h0M2245 372h0M1849 324h0M2229 521h0M2061 911h0M1903 421h0M2412 529h0M2677 682h0M2181 627h0M2079 959h0M2453 233h0M2145 547h0M2472 276h0M2197 663h0M2247 475h0M2603 321h0M2514 251h0M2321 703h0M1849 319h0M2170 820h0M2542 525h0M2261 422h0M2562 767h0M2147 321h0M2493 325h0M2048 354h0M2424 719h0M2392 309h0M2256 752h0M2497 431h0M1887 614h0M2155 759h0M2234 451h0M2144 416h0M2229 572h0M2698 377h0M2017 572h0M2748 380h0M2535 280h0M2125 764h0M1878 533h0M2207 763h0M2628 438h0M1817 590h0M1857 438h0M1750 565h0M1988 947h0M2351 759h0M2578 510h0M2688 373h0M2570 618h0M1960 478h0M2471 628h0M2075 605h0M1908 492h0M2314 469h0M2083 845h0M1796 499h0M2723 589h0M2577 319h0M2120 420h0M2703 267h0M2301 662h0M1863 621h0M2716 348h0M2251 860h0M2261 845h0M2132 554h0M2477 603h0M2483 502h0M2732 572h0M2619 488h0M2080 315h0M1878 669h0M2066 637h0M2612 298h0M1971 371h0M2640 733h0M2341 379h0M2513 499h0M2167 639h0M2230 741h0M2083 424h0M2134 797h0M1773 619h0M2472 530h0M2438 728h0M1822 390h0M2303 712h0M2167 771h0M2403 742h0M1977 730h0M1957 446h0M2045 887h0M2117 400h0M1828 345h0M2080 776h0M1929 534h0M2109 851h0M1749 579h0M2549 594h0M1866 494h0M2057 929h0M2123 645h0M2426 245h0M2230 661h0M2000 882h0M2791 565h0M1862 512h0M2483 530h0M2465 650h0M2208 607h0M2451 781h0M2041 547h0M2163 791h0M2068 535h0M2153 409h0M2174 682h0M2058 539h0M2017 613h0M2738 361h0M1774 403h0M2742 588h0M1924 551h0M2797 361h0M1830 522h0M2454 322h0M2232 651h0M2726 473h0M1951 345h0M2616 442h0M2218 699h0M2188 649h0M1893 681h0M2174 789h0M2454 297h0M2659 310h0M2675 586h0M2225 601h0M2521 231h0M1994 369h0M1977 597h0M1937 444h0M2639 273h0M2573 554h0M2556 470h0M2027 335h0M2360 715h0M1897 622h0M2008 456h0M2537 402h0M2620 545h0M1827 491h0M2248 867h0M2238 397h0M1920 462h0M2371 449h0M2178 439h0M1939 325h0M2149 432h0M2084 772h0M2659 575h0M2046 402h0M2305 776h0M1896 539h0M2779 537h0M2062 601h0M1955 402h0M2211 808h0M1824 675h0M2364 604h0M2234 747h0M2280 834h0M1981 864h0M1812 446h0M1999 509h0M2040 801h0M2503 256h0M2190 721h0M2540 263h0M1911 857h0M2626 354h0M2685 654h0M2798 335h0M1925 517h0M2039 525h0M2590 461h0M1940 355h0M2625 662h0M1929 918h0M2162 466h0M2127 867h0M2196 844h0M2281 430h0M2111 419h0M2214 488h0M1912 473h0M2558 401h0M1922 498h0M2540 709h0M2347 353h0M1929 800h0M1970 355h0M2167 551h0M1930 454h0M2075 570h0M1971 958h0M2609 357h0M2189 464h0M2122 820h0M2215 727h0M2028 642h0M1873 379h0M1837 610h0M2723 614h0M1779 444h0M1831 498h0M2060 448h0M2350 470h0M2003 375h0M1978 961h0M2412 578h0M2262 868h0M2142 796h0M1953 391h0M1938 565h0M2176 370h0M2491 711h0M2642 633h0M2524 261h0M2223 868h0M2255 649h0M2262 515h0M2078 492h0M2507 431h0M2114 696h0M2268 515h0M2632 376h0M2148 443h0M1802 377h0M2336 409h0M2218 394h0M2195 559h0M2461 691h0M2315 591h0M2590 302h0M2194 426h0M1939 426h0M2503 625h0M2104 524h0M2167 945h0M1792 551h0M2222 777h0M2295 325h0M2036 382h0M1856 638h0M2255 620h0M2400 551h0M2086 450h0M1923 794h0M2491 580h0M2034 535h0M2430 402h0M1803 498h0M2043 821h0M1880 426h0M2097 336h0M2543 389h0M2653 729h0M2787 378h0M2562 468h0M2083 849h0M1959 506h0M2575 528h0M1964 331h0M1883 663h0M2509 291h0M2065 794h0M1891 670h0M1774 438h0M2724 324h0M1879 682h0M1884 595h0M1887 450h0M2215 403h0M1870 630h0M2353 456h0M2251 872h0M1768 482h0M2132 845h0M2082 525h0M1873 474h0M2626 525h0M2121 576h0M1908 885h0M2166 607h0M1976 392h0M2454 715h0M2146 614h0M2711 379h0M1896 636h0M2057 870h0M2140 953h0M2615 565h0M2484 733h0M1863 379h0M2556 315h0M2016 530h0M2142 347h0M2311 662h0M2391 730h0M2149 904h0M2013 375h0M1853 676h0M1832 625h0M1918 813h0M1892 412h0M2258 600h0M1889 769h0M2472 355h0M2098 845h0M2411 692h0M2713 588h0M2143 572h0M2017 839h0M2704 354h0M2441 250h0M2262 773h0M2212 631h0M2540 748h0M1917 482h0M2090 596h0M2276 400h0M2179 523h0M2047 897h0M2615 278h0M2502 693h0M2340 463h0M2496 753h0M2482 396h0M1937 432h0M2391 655h0M2807 534h0M2250 488h0M2660 686h0M2332 528h0M2435 613h0M2207 718h0M1897 340h0M2303 531h0M2163 800h0M2363 313h0M2524 445h0M1859 657h0M2081 497h0M2254 519h0M2423 342h0M2289 517h0M2326 582h0M1813 625h0M2140 918h0M2115 747h0M2229 887h0M1915 533h0M2186 363h0M2292 693h0M1833 347h0M1842 376h0M2157 503h0M2380 705h0M1879 643h0M1974 408h0M2212 565h0M1758 580h0M2191 466h0M1942 462h0M2623 287h0M2574 691h0M2129 539h0M2251 855h0M2211 589h0M2622 700h0M1891 815h0M2233 688h0M2507 269h0M2083 367h0M1934 329h0M2419 755h0M1918 359h0M2754 388h0M2465 493h0M2727 610h0M2117 487h0M2003 343h0M2364 759h0M2428 554h0M2798 437h0M2519 711h0M2011 595h0M1855 620h0M1922 529h0M2092 335h0M1809 463h0M2438 500h0M2388 692h0M2311 595h0M2010 352h0M1956 572h0M1894 690h0M1825 506h0M2135 663h0M2331 628h0M2302 480h0M2024 518h0M2143 579h0M2302 807h0M2473 413h0M1967 421h0M2219 663h0M2504 249h0M2070 967h0M2343 679h0M1883 656h0M1792 609h0M2034 970h0M1890 618h0M2430 560h0M2213 440h0M2439 766h0M1934 559h0M2170 953h0M2424 767h0M2668 400h0M2244 480h0M2188 753h0M2255 570h0M2066 351h0M2037 807h0M2561 516h0M2277 800h0M2166 826h0M1848 554h0M1894 421h0M2632 706h0M1981 955h0M2744 603h0M2371 628h0M2225 928h0M2164 716h0M1931 831h0M2346 729h0M2713 595h0M2685 627h0M2121 828h0M2161 372h0M2682 382h0M2503 351h0M1893 642h0M2689 533h0M1849 342h0M2212 637h0M2760 512h0M2143 837h0M2037 324h0M1979 337h0M2217 470h0M2069 522h0M2089 791h0M2161 701h0M2471 301h0M1966 336h0M2010 372h0M2017 537h0M2209 410h0M1927 815h0M2357 734h0M2632 685h0M2107 967h0M2300 733h0M2785 397h0M1927 343h0M2206 561h0M2460 511h0M2381 755h0M2340 704h0M1873 624h0M1813 431h0M2032 849h0M2434 286h0M2297 742h0M2197 806h0M2058 582h0M2049 894h0M2024 547h0M1957 943h0M2289 434h0M1982 376h0M2335 363h0M2118 833h0M2076 910h0M2074 487h0M2277 825h0M1974 916h0M2296 664h0M1953 543h0M2290 609h0M2498 445h0M2164 353h0M1946 838h0M2729 530h0M2041 452h0M2591 414h0M2730 643h0M2158 863h0M2090 965h0M2501 376h0M2512 506h0M2088 533h0M2051 634h0M2321 316h0M2220 424h0M2467 755h0M2216 897h0M2143 424h0M2590 552h0M2647 494h0M2685 612h0M2160 494h0M2098 602h0M2724 319h0M1933 564h0M1917 807h0M2597 572h0M2352 773h0M2507 354h0M2230 387h0M2209 367h0M2332 721h0M1870 706h0M2027 579h0M2210 722h0M2611 627h0M1905 324h0M2262 872h0M2585 667h0M1789 406h0M2305 728h0M1893 390h0M2440 406h0M2174 595h0M2175 565h0M2498 274h0M2592 597h0M2302 772h0M1845 663h0M2164 531h0M2137 608h0M1975 572h0M2260 553h0M2041 903h0M2388 559h0M2281 615h0M2381 691h0M2227 597h0M2416 339h0M2528 507h0M2177 542h0M2056 588h0M1792 397h0M1874 664h0M2329 321h0M1778 597h0M2345 339h0M2009 529h0M2109 379h0M1856 500h0M2266 346h0M1977 412h0M2115 982h0M2114 782h0M2297 434h0M2047 645h0M2429 480h0M2542 382h0M2211 869h0M2244 511h0M2498 588h0M2072 839h0M2153 437h0M2772 466h0M2748 317h0M2433 679h0M1996 594h0M2605 608h0M2137 948h0M2614 571h0M2463 357h0M2298 776h0M2115 482h0M1890 688h0M2246 589h0M2241 530h0M2697 707h0M2224 492h0M1962 462h0M1897 388h0M2148 745h0M2167 564h0M2582 661h0M1925 540h0M2104 935h0M2255 547h0M2535 697h0M2017 342h0M2343 564h0M2486 478h0M1859 404h0M2282 619h0M2317 734h0M1953 337h0M2090 311h0M2611 293h0M2334 316h0M2055 935h0M2639 403h0M2163 359h0M2252 491h0M2128 333h0M1964 546h0M1967 472h0M2237 827h0M2265 570h0M2454 760h0M2258 360h0M2076 601h0M2430 255h0M2108 382h0M2363 504h0M1845 642h0M2167 867h0M1904 309h0M2449 384h0M2555 310h0M2013 540h0M2331 656h0M2399 577h0M2223 795h0M2055 917h0M2192 826h0M1898 606h0M2096 341h0M2160 662h0M1765 607h0M1970 573h0M2178 648h0M2412 754h0M1946 511h0M2165 680h0M2498 615h0M1908 412h0M2535 632h0M2239 503h0M2090 673h0M2309 336h0M2410 448h0M2184 376h0M2011 901h0M1968 839h0M2519 663h0M2254 409h0M2241 470h0M2048 370h0M2803 400h0M2163 786h0M2370 715h0M2529 643h0M2353 710h0M1944 480h0M2126 856h0M1914 767h0M2418 533h0M2135 600h0M2481 269h0M2031 456h0M1976 351h0M2559 337h0M1989 354h0M2213 876h0M2012 559h0M2472 755h0M2421 771h0M2602 553h0M1856 693h0M2188 830h0M2512 228h0M2344 309h0M2755 548h0M2139 978h0M2115 827h0M2667 458h0M2163 883h0M2062 898h0M2289 633h0M1912 345h0M2323 565h0M2184 910h0M1987 613h0M2520 288h0M2416 292h0M2136 970h0M2383 679h0M1857 484h0M2593 472h0M2741 558h0M2280 855h0M2510 491h0M2027 508h0M2324 572h0M2164 378h0M2339 312h0M2166 813h0M2556 525h0M1943 554h0M2376 767h0M2420 699h0M1905 452h0M1929 330h0M2167 469h0M1894 797h0M2093 796h0M1813 648h0M1996 343h0M2240 479h0M2807 565h0M1910 698h0M2294 675h0M1800 467h0M2510 319h0M2590 638h0M1805 480h0M2109 596h0M2125 394h0M1871 451h0M2472 451h0M2143 353h0M1960 931h0M2138 537h0M2230 863h0M2194 620h0M2565 451h0M2158 909h0M1894 432h0M2401 758h0M2105 346h0M2244 700h0M1954 582h0M2387 262h0M2053 607h0M2554 506h0M2428 602h0M2184 602h0M2372 310h0M2085 551h0M1956 498h0M2437 381h0M1896 348h0M2076 795h0M1907 426h0M2543 414h0M2175 467h0M1775 476h0M1992 958h0M2178 430h0M2195 906h0M1951 313h0M2504 226h0M2114 686h0M2170 910h0M2503 324h0M2415 482h0M2586 436h0M2135 410h0M1908 527h0M2271 876h0M2715 505h0M2406 735h0M1789 454h0M2136 632h0M2171 513h0M1913 642h0M2468 463h0M2556 290h0M2068 584h0M2695 388h0M2031 897h0M2555 412h0M2550 257h0M2127 467h0M1821 615h0M2088 497h0M2145 959h0M2013 906h0M1981 463h0M1764 470h0M1821 536h0M1813 634h0M2139 645h0M2118 839h0M1903 333h0M1841 625h0M2251 522h0M2212 424h0M2217 541h0M2183 830h0M2062 322h0M1950 868h0M2620 292h0M2252 527h0M2495 258h0M1901 776h0M2678 607h0M2545 570h0M1805 360h0M1873 384h0M1891 328h0M1954 553h0M2410 330h0M2750 299h0M1901 803h0M1978 839h0M1830 413h0M2262 561h0M2366 323h0M1896 734h0M2495 584h0M1825 467h0M1849 366h0M2518 324h0M2109 437h0M2104 510h0M2415 773h0M2718 678h0M1963 513h0M2258 776h0M2601 498h0M2238 419h0M1868 394h0M1842 682h0M2149 499h0M2110 524h0M1991 605h0M2202 639h0M2772 565h0M2151 570h0M2013 473h0M2256 534h0M2611 376h0M2451 676h0M2451 343h0M2270 739h0M2076 666h0M2281 735h0M2204 563h0M1803 564h0M2127 587h0M2056 458h0M2231 591h0M2107 928h0M2214 463h0M2758 413h0M2074 339h0M2408 730h0M1894 746h0M1887 396h0M2769 479h0M2335 749h0M1831 539h0M2160 621h0M2385 531h0M2100 346h0M2144 658h0M2083 909h0M1805 420h0M1768 418h0M2206 892h0M2748 366h0M2633 273h0M1868 467h0M2611 651h0M2024 497h0M2402 455h0M1939 802h0M2464 577h0M2052 826h0M2429 751h0M2432 705h0M2625 455h0M2563 354h0M2541 735h0M2082 923h0M2024 583h0M2275 837h0M2095 412h0M1890 421h0M1789 546h0M2643 729h0M1894 481h0M2339 366h0M2443 346h0M2044 523h0M2115 949h0M1959 359h0M2506 661h0M1903 347h0M2469 685h0M1958 809h0M1986 493h0M2532 324h0M1893 401h0M2450 239h0M1814 479h0M2423 500h0M2195 460h0M2447 503h0M2567 517h0M2656 475h0M2318 677h0M2568 456h0M2044 930h0M2108 673h0M2181 542h0M1998 849h0M2147 523h0M2068 632h0M2667 292h0M2074 534h0M2272 827h0M2143 694h0M1929 384h0M1754 559h0M2485 710h0M2775 379h0M2300 334h0M2452 244h0M2285 814h0M2426 297h0M2294 818h0M1907 816h0M2611 330h0M2466 439h0M1773 598h0M2450 285h0M1990 545h0M2244 706h0M2468 262h0M2618 588h0M1936 536h0M2272 807h0M1897 519h0M1786 462h0M2381 781h0M1998 331h0M1756 565h0M2025 838h0M2209 669h0M2151 484h0M2325 765h0M2062 788h0M2232 565h0M2033 509h0M2136 366h0M2346 675h0M1825 531h0M1972 443h0M2798 588h0M1993 433h0M1835 558h0M2651 287h0M2158 715h0M2016 868h0M2756 357h0M2331 389h0M1884 814h0M2104 971h0M2499 650h0M2072 918h0M2635 474h0M1898 382h0M2082 754h0M2264 646h0M2232 503h0M2192 585h0M2004 874h0M2185 548h0M1976 485h0M2082 804h0M2631 321h0M2446 512h0M2511 237h0M1793 512h0M2699 518h0M1761 455h0M1954 470h0M2447 775h0M2449 466h0M1964 365h0M1883 524h0M2712 703h0M2157 874h0M1788 472h0M2091 784h0M2539 663h0M1915 449h0M2668 706h0M2373 324h0M2024 970h0M2248 887h0M1898 704h0M1993 504h0M2192 700h0M2556 353h0M1761 474h0M2511 748h0M1798 529h0M2082 571h0M2048 393h0M2031 388h0M2195 925h0M2111 921h0M2485 576h0M2135 469h0M2594 656h0M2689 424h0M2011 400h0M2034 579h0M2238 890h0M1865 425h0M2584 650h0M1967 409h0M2095 825h0M1852 324h0M2482 280h0M2239 432h0M2080 947h0M2552 285h0M2574 335h0M2101 667h0M2576 481h0M2461 312h0M2759 609h0M2611 371h0M2068 598h0M2364 455h0M1856 630h0M2784 554h0M2275 361h0M2646 456h0M2245 796h0M2324 491h0M1879 740h0M1873 646h0M1762 553h0M2425 400h0M2345 661h0M2494 270h0M2246 662h0M2129 552h0M2733 427h0M2338 764h0M2014 333h0M2127 372h0M1843 460h0M2427 276h0M2173 403h0M2758 524h0M1966 531h0M2328 663h0M2511 322h0M2151 716h0M2059 816h0M2020 577h0M2090 849h0M2577 311h0M2202 788h0M2243 656h0M2409 280h0M2083 790h0M2223 486h0M1944 522h0M2342 588h0M2431 498h0M1926 462h0M1919 367h0M2167 958h0M1863 330h0M2788 609h0M2409 579h0M2104 979h0M2226 844h0M2167 522h0M2287 591h0M1837 412h0M2040 363h0M2559 646h0M2342 668h0M1992 330h0M2228 513h0M2621 728h0M1852 372h0M2111 915h0M1830 549h0M2661 365h0M1996 376h0M2383 290h0M1830 642h0M2479 351h0M2531 667h0M2099 482h0M2551 269h0M2124 451h0M2057 373h0M2149 630h0M1860 421h0M2139 893h0M2530 243h0M2706 457h0M2409 267h0M1957 852h0M2720 297h0M2135 879h0M2662 535h0M2228 633h0M2271 351h0M2505 276h0M2115 414h0M1782 395h0M1761 494h0M2192 521h0M2293 503h0M2471 339h0M2416 304h0M2792 479h0M2108 516h0M2483 236h0M2009 627h0M1944 468h0M2362 282h0M2286 741h0M2474 404h0M2324 349h0M2165 427h0M2349 498h0M2487 353h0M2740 668h0M2584 606h0M2656 511h0M2146 948h0M1771 442h0M1971 927h0M2309 736h0M2146 776h0M2207 619h0M1843 330h0M2256 510h0M2113 347h0M2111 354h0M2224 567h0M2261 491h0M2039 812h0M1775 450h0M1903 675h0M2381 318h0M2051 503h0M2769 503h0M2778 361h0M2129 836h0M2503 461h0M2343 334h0M1904 612h0M1826 358h0M1912 813h0M2676 560h0M1897 547h0M2736 433h0M2312 329h0M2178 940h0M2255 460h0M1932 928h0M1761 499h0M2142 372h0M1879 717h0M2483 335h0M2054 387h0M2081 475h0M2482 250h0M2241 585h0M1837 448h0M2097 630h0M1954 590h0M2274 868h0M2177 494h0M2160 506h0M1881 650h0M2473 595h0M2543 342h0M2582 298h0M2501 524h0M2499 664h0M1880 693h0M2061 961h0M1957 524h0M1961 431h0M1841 382h0M2293 327h0M2690 391h0M1917 869h0M1771 527h0M1977 342h0M2520 490h0M2504 301h0M1795 560h0M2037 431h0M2526 408h0M2683 440h0M2738 354h0M2828 555h0M2517 293h0M1981 494h0M2784 443h0M2136 909h0M1779 462h0M2484 321h0M2013 572h0M2249 413h0M2763 603h0M2362 755h0M2153 541h0M1925 322h0M2133 856h0M2472 631h0M2674 348h0M2542 516h0M2046 864h0M2665 685h0M2465 306h0M1971 425h0M2779 589h0M2187 949h0M2647 372h0M2245 743h0M2352 285h0M2464 669h0M2202 539h0M2091 748h0M2575 275h0M1980 467h0M2554 324h0M1782 458h0M2230 577h0M1883 724h0M2718 294h0M2080 632h0M2482 359h0M2112 649h0M2628 303h0M1937 466h0M2615 502h0M2594 642h0M1795 534h0M1804 555h0M2531 438h0M2426 445h0M2164 596h0M1916 394h0M1975 912h0M2192 679h0M2592 547h0M2124 499h0M2142 700h0M1893 463h0M2151 923h0M2249 619h0M2356 347h0M1994 406h0M2351 735h0M1841 543h0M1974 602h0M2261 822h0M2689 340h0M2698 632h0M2597 502h0M2601 294h0M2637 603h0M2729 588h0M1822 354h0M2735 287h0M2404 400h0M1942 874h0M2116 775h0M2241 843h0M2143 518h0M1937 821h0M1882 408h0M2151 328h0M2397 329h0M1982 317h0M2017 630h0M2192 873h0M2769 491h0M2509 716h0M2366 536h0M2283 669h0M2234 396h0M2345 712h0M2255 414h0M2174 422h0M2087 485h0M1844 448h0M1839 470h0M2619 640h0M2237 769h0M2086 409h0M2186 718h0M2118 676h0M1876 479h0M2308 649h0M2311 503h0M1885 585h0M2265 581h0M1949 860h0M2398 270h0M1853 335h0M1984 583h0M2711 609h0M2303 619h0M2376 304h0M1837 596h0M1845 457h0M2058 873h0M2148 517h0M2066 335h0M1923 820h0M2500 699h0M2305 499h0M2205 501h0M2159 752h0M2270 848h0M2708 298h0M2224 418h0M1932 808h0M2223 443h0M1834 572h0M1856 358h0M2468 722h0M2265 341h0M2042 891h0M2135 529h0M2068 876h0M1816 559h0M2324 354h0M2087 924h0M2561 737h0M2426 536h0M1923 827h0M2128 951h0M2624 759h0M2578 363h0M1842 674h0M1966 505h0M2582 637h0M1999 473h0M2776 603h0M2542 437h0M2224 893h0M2527 748h0M2513 743h0M2301 494h0M2779 422h0M2487 681h0M1776 604h0M2572 354h0M2450 297h0M2355 486h0M2054 961h0M2077 636h0M2223 753h0M2387 663h0M1957 375h0M2257 671h0M1948 885h0M2679 530h0M2076 419h0M2626 466h0M2380 743h0M2430 249h0M2451 492h0M2393 455h0M2137 378h0M2578 751h0M2699 419h0M2266 409h0M1898 485h0M2450 540h0M2133 748h0M2293 581h0M2089 826h0M2436 321h0M2062 378h0M2144 367h0M2063 309h0M2296 785h0M2345 369h0M2573 612h0M2509 330h0M2782 331h0M2465 776h0M2349 438h0M2511 649h0M2497 226h0M2546 507h0M1870 370h0M2152 341h0M2445 232h0M2268 676h0M2607 330h0M2362 522h0M2095 947h0M2549 763h0M1910 721h0M1895 660h0M2137 511h0M1991 937h0M2496 305h0M2055 855h0M2458 316h0M2275 578h0M2171 862h0M2070 856h0M2009 930h0M1787 437h0M2160 395h0M1923 807h0M2430 685h0M1938 794h0M2747 388h0M2243 402h0M2341 645h0M2091 418h0M1834 433h0M1788 450h0M2410 570h0M2193 693h0M2491 482h0M2292 752h0M2447 748h0M2537 609h0M2071 808h0M2057 954h0M2397 657h0M2236 912h0M1852 560h0M1926 876h0M1971 543h0M2358 588h0M2037 517h0M2093 779h0M2514 317h0M1782 625h0M1986 443h0M1879 546h0M2160 650h0M2052 583h0M1824 438h0M1992 844h0M2608 758h0M2638 334h0M2379 745h0M2131 597h0M2688 542h0M2132 937h0M2398 340h0M2199 619h0M2370 645h0M1869 675h0M2031 558h0M1817 602h0M2461 262h0M2251 499h0M2328 378h0M2504 345h0M2064 649h0M1757 517h0M2106 651h0M1870 749h0M2110 319h0M2643 319h0M2496 282h0M2776 424h0M2412 334h0M2122 692h0M1859 329h0M1864 461h0M2101 742h0M2279 809h0M2592 716h0M2177 845h0M2219 382h0M2202 363h0M2499 426h0M2101 455h0M2324 413h0M2155 772h0M1911 801h0M2666 542h0M2780 564h0M1867 664h0M2055 910h0M1915 418h0M2303 760h0M1881 746h0M2158 670h0M2596 334h0M2350 701h0M2381 577h0M2192 475h0M2021 505h0M2396 778h0M2111 443h0M2392 696h0M2510 349h0M2182 784h0M2098 491h0M2804 579h0M2376 280h0M2252 722h0M2580 618h0M1851 499h0M2690 472h0M2514 286h0M2140 430h0M2597 684h0M1873 371h0M1961 352h0M1915 833h0M1830 439h0M1828 607h0M2632 718h0M2101 317h0M2377 275h0M2387 518h0M2172 484h0M1908 852h0M2606 511h0M2017 557h0M2223 834h0M2425 364h0M2152 413h0M1966 320h0M2358 566h0M2576 722h0M2129 850h0M2646 522h0M1856 679h0M2476 371h0M2436 740h0M1969 461h0M2303 674h0M2808 474h0M1834 666h0M1888 493h0M2356 646h0M2117 742h0M2083 967h0M2678 292h0M1919 917h0M2391 604h0M2707 661h0M1887 501h0M1950 834h0M1862 528h0M2066 389h0M2559 449h0M2041 947h0M1982 545h0M2109 666h0M2725 424h0M2335 531h0M2404 486h0M2296 333h0M2827 576h0M2244 857h0M1790 625h0M2116 680h0M2024 449h0M2205 466h0M2692 539h0M1873 462h0M2584 578h0M2160 609h0M2182 442h0M2429 745h0M2319 535h0M1877 752h0M2078 917h0M2713 472h0M2035 892h0M1884 309h0M2051 904h0M2138 790h0M1983 533h0M2109 887h0M2069 482h0M2238 833h0M1895 674h0M2090 661h0M2357 296h0M2311 703h0M2686 272h0M2225 640h0M2086 560h0M2115 934h0M2209 923h0M2706 657h0M2181 751h0M2417 266h0M2556 427h0M2221 730h0M2538 772h0M2766 407h0M2163 695h0M2674 564h0M1909 396h0M2483 626h0M2098 939h0M2705 706h0M1968 342h0M1950 804h0M2429 598h0M2552 609h0M2701 567h0M2762 455h0M1959 516h0M1872 424h0M2069 566h0M2076 857h0M2393 579h0M2269 334h0M2558 560h0M1811 381h0M2658 733h0M2683 572h0M2392 711h0M1950 315h0M2458 618h0M1892 472h0M2154 664h0M2209 462h0M2574 299h0M2622 323h0M2363 316h0M2338 402h0M2525 456h0M2276 821h0M2149 386h0M2593 269h0M1996 862h0M2533 369h0M1979 891h0M2667 637h0M2310 509h0M1950 446h0M2636 590h0M2591 396h0M2485 589h0M2759 299h0M2041 468h0M2381 729h0M2381 282h0M1933 424h0M2120 382h0M2303 746h0M1762 565h0M1921 911h0M1812 457h0M2121 661h0M2694 419h0M2668 681h0M1796 457h0M1831 515h0M2432 777h0M2224 672h0M1901 425h0M1957 878h0M2808 548h0M2272 786h0M2012 363h0M2186 850h0M1958 310h0M1953 564h0M2643 299h0M2029 446h0M2153 684h0M2278 558h0M2220 507h0M1965 831h0M2512 310h0M2115 571h0M2250 719h0M2399 517h0M2083 341h0M1957 824h0M2501 329h0M2088 764h0M2559 322h0M2380 722h0M2097 754h0M2480 340h0M1922 833h0M2602 285h0M2419 564h0M1909 818h0M2386 298h0M2162 941h0M2123 669h0M2598 358h0M2232 808h0M2255 343h0M2608 499h0M2351 434h0M1817 382h0M2377 687h0M2254 893h0M1912 503h0M1985 965h0M2143 474h0M2269 655h0M2161 927h0M1887 480h0M2111 857h0M2443 676h0M2197 554h0M2414 700h0M2171 858h0M1940 481h0M2369 751h0M2203 881h0M2205 673h0M1829 352h0M2101 899h0M2305 450h0M2131 364h0M2476 361h0M1910 628h0M2017 412h0M2076 757h0M2669 593h0M2079 621h0M2107 797h0M1757 587h0M1902 456h0M2799 372h0M1842 401h0M2188 584h0M2598 434h0M2163 601h0M2125 571h0M1865 730h0M2101 590h0M2047 379h0M1785 504h0M2122 909h0M2205 379h0M2420 300h0M2433 317h0M2633 601h0M1851 463h0M1906 763h0M2349 379h0M2316 455h0M2122 840h0M2411 521h0M2234 533h0M2406 663h0M2143 898h0M2139 748h0M2341 729h0M2221 645h0M2076 522h0M2203 418h0M2115 905h0M2057 807h0M2144 537h0M1811 370h0M2521 444h0M2608 504h0M2527 276h0M2695 646h0M2155 471h0M2605 348h0M1849 618h0M1911 479h0M1888 590h0M2139 358h0M2270 437h0M2189 564h0M2052 645h0M2521 775h0M2651 397h0M2610 285h0M2149 917h0M1820 561h0M2786 578h0M2219 401h0M2778 310h0M2353 707h0M2649 415h0M2712 412h0M2156 905h0M2104 561h0M2250 788h0M1887 825h0M2380 263h0M2749 625h0M2273 615h0M2744 369h0M2157 887h0M2151 707h0M2160 341h0M2333 680h0M2613 702h0M1779 555h0M1877 323h0M2238 455h0M2297 631h0M2555 299h0M2091 540h0M2537 719h0M2220 898h0M1875 527h0M1800 391h0M1870 500h0M2517 397h0M2196 467h0M2678 591h0M1886 439h0M2231 890h0M2157 331h0M1858 377h0M2406 482h0M2422 360h0M2489 723h0M2139 498h0M2203 408h0M1935 548h0M2030 361h0M2638 442h0M2054 861h0M1934 885h0M2188 420h0M2471 309h0M2764 493h0M1912 881h0M2427 675h0M2507 279h0M1767 510h0M2177 480h0M2086 939h0M2199 934h0M2520 354h0M2150 401h0M1853 614h0M2657 287h0M2082 512h0M2216 667h0M2346 658h0M2008 891h0M1829 669h0M2313 743h0M2070 749h0M2288 337h0M2494 367h0M1856 664h0M2286 454h0M1892 849h0M2137 331h0M2273 433h0M1846 529h0M2531 707h0M2664 594h0M1793 485h0M2716 419h0M1818 373h0M2321 327h0M2814 598h0M1866 651h0M2223 579h0M1967 881h0M2048 439h0M2241 722h0M1964 924h0M2355 765h0M2344 324h0M2648 315h0M1961 451h0M2019 862h0M2136 785h0M1890 378h0M1892 739h0M2220 916h0M2185 899h0M2338 584h0M1879 475h0M2343 551h0M1827 541h0M2087 403h0M2128 861h0M2022 844h0M2510 365h0M2191 614h0M1929 885h0M2611 639h0M2262 591h0M2370 546h0M1888 794h0M2399 747h0M2226 530h0M2295 761h0M2079 590h0M2426 331h0M2300 826h0M2108 601h0M2042 504h0M1922 856h0M2489 306h0M2465 272h0M1929 415h0M2763 625h0M2099 879h0M2477 774h0M2347 718h0M2538 552h0M2033 802h0M2005 946h0M2453 765h0M2601 464h0M2554 688h0M2143 607h0M1935 777h0M2052 456h0M2094 583h0M2098 421h0M2441 772h0M2092 953h0M2664 351h0M2822 578h0M2566 573h0M2527 300h0M1839 578h0M2674 655h0M2164 402h0M1874 674h0M2080 812h0M2364 301h0M2131 705h0M2073 383h0M2397 666h0M2657 619h0M1799 492h0M1806 510h0M2059 626h0M2172 643h0M2220 614h0M2160 759h0M1943 888h0M2559 619h0M2272 420h0M2226 394h0M2136 655h0M2066 515h0M2460 779h0M2479 424h0M2178 408h0M2036 613h0M2248 850h0M2611 321h0M1944 418h0M1943 789h0M2003 463h0M2104 571h0M2001 600h0M2343 542h0M2307 455h0M2633 373h0M2794 451h0M2571 536h0M2043 808h0M2480 413h0M2566 583h0M1920 864h0M2258 709h0M2405 767h0M2444 519h0M2502 220h0M1880 348h0M2129 400h0M1909 759h0M1950 402h0M2682 305h0M1881 588h0M2172 958h0M2046 619h0M1970 548h0M2097 668h0M2679 492h0M2815 575h0M2223 473h0M2127 708h0M1895 625h0M2588 760h0M2506 576h0M2383 594h0M2140 881h0M2020 961h0M2016 912h0M1850 513h0M1878 341h0M1926 444h0M2433 387h0M2320 691h0M2504 237h0M2036 590h0M1908 710h0M2168 527h0M2639 697h0M2334 340h0M1905 360h0M2444 749h0M2294 796h0M1838 612h0M2418 573h0M1814 525h0M2527 483h0M2059 971h0M2660 528h0M2154 781h0M1926 388h0M2151 727h0M2494 291h0M2033 449h0M1754 542h0M2353 718h0M2202 873h0M2015 516h0M1762 577h0M2152 860h0M1922 395h0M2787 403h0M2142 408h0M2157 850h0M1995 571h0M2535 751h0M2636 710h0M2087 464h0M1949 327h0M1905 681h0M2290 620h0M1786 384h0M2105 589h0M1826 418h0M2249 898h0M2383 341h0M2211 662h0M1871 487h0M2489 606h0M1872 729h0M2134 515h0M2187 451h0M1846 337h0M2802 524h0M2076 924h0M2132 915h0M1851 413h0M2279 689h0M2227 460h0M2182 796h0M2776 371h0M2433 523h0M2717 595h0M2484 649h0M1933 392h0M2198 359h0M2057 421h0M2289 473h0M2416 430h0M2488 693h0M2501 282h0M2301 359h0M2064 940h0M2782 608h0M2708 576h0M1867 721h0M2066 753h0M2595 758h0M1868 431h0M2036 905h0M2006 523h0M1983 970h0M1869 639h0M2087 442h0M2254 808h0M2407 759h0M2485 466h0M2535 501h0M2104 343h0M1929 529h0M1970 318h0M1779 581h0M2328 646h0M2681 660h0M2582 395h0M2454 470h0M1758 547h0M2745 515h0M2323 746h0M1869 340h0M1830 451h0M2480 546h0M2356 546h0M1895 686h0M2047 607h0M2217 869h0M1911 747h0M2252 357h0M2740 319h0M2108 739h0M2130 343h0M2558 389h0M2588 467h0M1949 557h0M2022 382h0M1823 571h0M1840 494h0M2119 855h0M2730 542h0M2564 753h0M1877 318h0M1947 535h0M1954 305h0M1914 315h0M1976 536h0M2368 779h0M1917 492h0M2331 737h0M2328 361h0M2030 939h0M2084 591h0M2077 409h0M2043 943h0M2414 250h0M2144 727h0M2222 740h0M2459 754h0M2606 717h0M2522 315h0M2047 924h0M2157 353h0M2525 323h0M2283 864h0M2221 692h0M2160 765h0M1989 515h0M2125 537h0M1896 712h0M2140 735h0M2150 364h0M2143 725h0M2233 373h0M2243 899h0M2459 367h0M1883 791h0M2352 576h0M2266 795h0M2052 340h0M2095 353h0M2276 844h0M1989 886h0M1918 764h0M2038 354h0M2574 360h0M1898 740h0M2020 389h0M2670 413h0M1920 884h0M2492 248h0M2130 486h0M2447 773h0M2370 683h0M1957 536h0M2631 529h0M2430 310h0M2617 382h0M2131 911h0M2608 406h0M2125 353h0M2079 894h0M1880 784h0M2485 273h0M2282 517h0M1831 565h0M2156 384h0M2776 552h0M2548 288h0M2364 345h0M2062 976h0M2162 567h0M2776 342h0M2492 296h0M2304 716h0M1817 537h0M2293 648h0M2173 584h0M2744 648h0M1972 358h0M2170 461h0M2074 948h0M1783 408h0M1896 493h0M2259 576h0M2023 572h0M2404 572h0M1966 855h0M2221 412h0M2636 753h0M1932 868h0M2728 479h0M2027 529h0M2568 287h0M1845 493h0M2045 442h0M1946 360h0M2238 709h0M2487 243h0M2338 492h0M2784 491h0M1752 546h0M2055 409h0M2057 879h0M2506 736h0M2261 372h0M2709 602h0M1768 525h0M2775 449h0M2559 302h0M2720 418h0M2492 474h0M2169 842h0M2532 264h0M2104 415h0M2408 688h0M2419 735h0M2125 906h0M2692 384h0M2552 672h0M2017 384h0M2728 421h0M1814 583h0M2566 661h0M2117 912h0M2475 531h0M2237 875h0M1884 473h0M1970 535h0M2074 706h0M2744 577h0M1875 503h0M2440 626h0M1929 911h0M2282 627h0M2197 927h0M1893 751h0M2144 909h0M2159 704h0M2091 370h0M2334 546h0M2445 246h0M2393 769h0M1831 336h0M2719 694h0M2015 941h0M2322 336h0M2393 721h0M2220 478h0M2137 485h0M2783 347h0M2078 737h0M2258 889h0M2349 746h0M2668 729h0M2428 699h0M2735 600h0M1987 883h0M2182 579h0M2207 452h0M2716 585h0M2286 827h0M2057 640h0M1801 452h0M2464 336h0M1975 612h0M2511 554h0M2031 631h0M2378 268h0M2569 410h0M1825 409h0M1974 842h0M2448 758h0M2031 553h0M2559 357h0M2275 712h0M2780 594h0M1904 660h0M2201 534h0M1967 348h0M2420 262h0M1921 487h0M2546 717h0M2431 718h0M2199 522h0M2520 269h0M2299 463h0M1845 351h0M1796 624h0M2105 857h0M2153 598h0M1976 498h0M2047 912h0M2328 755h0M2574 747h0M2732 474h0M2735 674h0M2041 373h0M2364 394h0M2756 321h0M2083 870h0M2419 334h0M2383 583h0M2045 451h0M2136 473h0M2809 561h0M2041 852h0M1966 591h0M2335 771h0M2566 293h0M2002 482h0M2144 922h0M2690 267h0M1986 394h0M2153 518h0M2736 336h0M2646 573h0M2221 584h0M2096 619h0M2069 815h0M2214 513h0M2285 342h0M1814 655h0M1814 364h0M2551 451h0M2061 849h0M1800 506h0M2456 262h0M1993 382h0M1946 506h0M2529 449h0M2268 563h0M2493 654h0M2088 984h0M2124 862h0M1826 588h0M2341 390h0M2251 349h0M1999 407h0M2167 548h0M1964 382h0M1859 364h0M2364 664h0M2531 420h0M2318 651h0M1858 524h0M1921 535h0M2170 904h0M2314 656h0M2517 244h0M2494 546h0M2013 547h0M2299 486h0M2113 711h0M2642 621h0M2157 443h0M1788 403h0M2230 778h0M1900 680h0M2394 273h0M2292 788h0M2153 736h0M2373 287h0M2492 687h0M2010 406h0M2141 652h0M2732 451h0M2721 685h0M2304 691h0M2356 329h0M2366 582h0M1942 366h0M1956 557h0M2150 476h0M1964 440h0M2108 692h0M1968 815h0M2515 694h0M2491 284h0M2013 342h0M1903 638h0M2117 427h0M1925 427h0M1881 381h0M2057 442h0M2247 828h0M2063 594h0M2279 645h0M2801 545h0M2188 355h0M2142 710h0M2516 594h0M1994 930h0M2474 585h0M2234 553h0M1958 842h0M2049 576h0M2488 449h0M1959 819h0M1871 414h0M2378 527h0M1901 367h0M2050 432h0M2462 270h0M2664 716h0M2027 419h0M2515 642h0M2573 735h0M1876 686h0M2049 336h0M1905 882h0M2218 446h0M1943 541h0M1934 403h0M2074 973h0M2264 487h0M1908 321h0M2130 876h0M1878 500h0M2479 304h0M1933 899h0M2751 621h0M2156 929h0M2569 759h0M2729 433h0M2031 591h0M2720 451h0M1807 608h0M2242 437h0M2283 755h0M2160 688h0M2580 304h0M1932 472h0M2712 558h0M2175 688h0M2053 524h0M2188 905h0M2523 242h0M2622 359h0M2024 464h0M2713 663h0M1992 522h0M1917 323h0M2097 786h0M2076 803h0M2427 348h0M1768 518h0M1761 463h0M2038 561h0M2237 592h0M2054 460h0M2122 512h0M2553 666h0M2577 324h0M2096 655h0M2271 363h0M2379 649h0M2610 664h0M1996 481h0M2174 806h0M2655 545h0M2635 269h0M2001 529h0M2016 325h0M2022 395h0M2661 373h0M2244 576h0M2534 596h0M1979 542h0M2331 396h0M2582 613h0M2454 415h0M2374 334h0M2463 588h0M2486 489h0M2581 345h0M2663 654h0M1775 482h0M2071 625h0M2503 420h0M2278 765h0M2807 602h0M2535 334h0M2156 450h0M2263 509h0M2550 342h0M2444 703h0M2352 444h0M2177 692h0M2360 342h0M2430 484h0M1803 415h0M2101 426h0M2773 583h0M2595 486h0M2608 658h0M2463 542h0M1768 455h0M2167 482h0M1839 505h0M1888 467h0M1999 442h0M1902 737h0M2465 391h0M2473 742h0M2354 731h0M2244 788h0M2237 740h0M2118 868h0M2412 712h0M2642 691h0M2409 491h0M2055 885h0M1778 627h0M2056 648h0M2744 405h0M2106 431h0M2195 500h0M1851 670h0M1882 325h0M2174 794h0M2107 803h0M2673 337h0M2627 412h0M2476 491h0M2658 420h0M1921 743h0M1770 490h0M2156 370h0M2410 377h0M2559 567h0M1814 605h0M2100 915h0M1876 431h0M2441 468h0M1925 861h0M2537 391h0M2046 546h0M1805 443h0M2394 346h0M2035 542h0M1947 460h0M2111 715h0M1845 373h0M2123 923h0M2450 310h0M1947 880h0M2272 446h0M2825 546h0M2024 321h0M1942 416h0M1857 573h0M2146 741h0M2168 723h0M2101 312h0M1836 630h0M2444 456h0M2171 755h0M2710 619h0M1953 876h0M2174 451h0M1808 390h0M2183 470h0M2319 510h0M2807 486h0M2223 620h0M2472 245h0M2687 308h0M2511 372h0M2037 504h0M2218 577h0M2468 372h0M2328 650h0M1796 632h0M2611 700h0M2690 558h0M2476 348h0M2174 588h0M2060 339h0M2044 517h0M2789 449h0M1995 517h0M2369 630h0M2172 437h0M1932 894h0M2646 541h0M2279 621h0M2020 484h0M2160 818h0M2489 410h0M2207 536h0M2258 585h0M2492 261h0M2104 891h0M2076 549h0M2684 339h0M2466 315h0M2314 694h0M1966 312h0M1856 382h0M1997 949h0M2598 280h0M1866 480h0M2641 646h0M1874 345h0M2025 415h0M2398 439h0M1863 600h0M1779 404h0M2295 468h0M2101 761h0M2592 343h0M2515 415h0M2141 394h0M2526 493h0M1789 509h0M2063 663h0M1769 595h0M1901 462h0M2116 378h0M2611 318h0M2650 358h0M2290 667h0M2160 967h0M2667 658h0M1774 573h0M1897 354h0M1859 337h0M2033 331h0M2118 751h0M1880 582h0M2573 286h0M2193 545h0M2643 396h0M2678 540h0M2607 317h0M2815 543h0M1971 905h0M1891 633h0M2088 633h0M1878 460h0M2062 764h0M1774 461h0M2641 352h0M2791 600h0M1825 455h0M2076 328h0M2409 395h0M2394 480h0M2236 547h0M1994 591h0M2505 264h0M2471 239h0M2800 379h0M2007 614h0M2085 626h0M2006 937h0M1929 788h0M2544 305h0M2444 548h0M2009 485h0M1947 826h0M2755 513h0M2115 331h0M2192 715h0M2002 626h0M2151 961h0M2171 808h0M2069 824h0M2376 667h0M2184 457h0M2321 742h0M2289 746h0M2715 530h0M2097 764h0M2062 506h0M1939 560h0M1894 658h0M2545 249h0M1986 407h0M1890 430h0M2471 317h0M2255 599h0M1883 809h0M1831 614h0M2175 456h0M1844 485h0M2479 476h0M1782 517h0M2013 445h0M2030 894h0M1761 561h0M2028 886h0M1787 622h0M2123 751h0M2515 632h0M2803 464h0M2570 273h0M2100 433h0M2285 656h0M2182 867h0M1943 303h0M1943 813h0M2009 859h0M1772 601h0M2495 404h0M2032 402h0M2090 318h0M1897 591h0M2743 482h0M2103 598h0M2156 638h0M2451 323h0M2570 497h0M2118 478h0M1929 351h0M2132 925h0M2049 347h0M2295 699h0M1920 802h0M2353 668h0M2135 396h0M2189 854h0M1875 407h0M2070 587h0M2069 420h0M2013 576h0M1838 439h0M2143 504h0M1939 309h0M2731 407h0M2251 681h0M2558 254h0M2048 849h0M2436 328h0M1885 545h0M1881 479h0M1999 365h0M1768 553h0M1866 315h0M2552 566h0M2208 693h0M1821 427h0M2532 638h0M1929 304h0M2102 644h0M2563 687h0M2048 339h0M1971 402h0M2728 469h0M2601 541h0M2033 425h0M2178 728h0M2260 880h0M2750 490h0M2003 426h0M1816 548h0M2498 675h0M2175 915h0M2215 560h0M2150 668h0M1870 553h0M2017 406h0M2087 832h0M2400 664h0M1800 620h0M1772 414h0M2080 650h0M2080 379h0M2164 668h0M1835 422h0M2227 581h0M2357 322h0M1853 442h0M1920 513h0M1881 421h0M2678 603h0M2455 675h0M2485 296h0M2718 426h0M2542 294h0M2255 351h0M2146 674h0M2311 553h0M2493 660h0M2666 321h0M1992 924h0M2356 655h0M1870 669h0M2360 292h0M2234 839h0M2080 488h0M1778 488h0M1989 572h0M1968 375h0M2582 433h0M2329 346h0M2106 371h0M2319 376h0M2362 584h0M2537 291h0M1835 354h0M2208 401h0M2713 335h0M2130 957h0M1775 537h0M1765 515h0M2660 512h0M2286 522h0M2251 612h0M2601 662h0M1781 498h0M2016 327h0M2527 318h0M2442 300h0M2114 594h0M1829 537h0M2479 246h0M2231 444h0M2121 349h0M2003 608h0M2153 324h0M2697 282h0M2044 348h0M2183 516h0M2072 515h0M2468 433h0M2535 303h0M2069 452h0M2382 331h0M1786 632h0M2167 542h0M2689 381h0M2221 512h0M1914 427h0M1997 461h0M2515 464h0M2026 631h0M2174 870h0M2041 475h0M1939 528h0M2374 595h0M2149 545h0M1999 554h0M2300 693h0M1842 658h0M2433 264h0M2118 397h0M2152 424h0M2065 917h0M2003 476h0M2654 353h0M2268 615h0M2604 625h0M2794 401h0M1968 576h0M2167 475h0M2158 812h0M2580 674h0M2029 504h0M2729 567h0M2242 839h0M2405 497h0M2378 711h0M2805 413h0M1793 620h0M2120 444h0M2067 549h0M2412 442h0M1992 389h0M1813 662h0M2092 361h0M2279 741h0M2417 427h0M2647 404h0M2712 695h0M2096 329h0M2650 381h0M2228 910h0M2753 536h0M1939 406h0M2062 497h0M2277 791h0M2208 705h0M2040 643h0M1857 341h0M2062 539h0M2213 712h0M2556 512h0M2464 237h0M1950 572h0M2112 967h0M1839 370h0M2636 427h0M1895 781h0M2707 491h0M2184 664h0M2157 633h0M2668 583h0M2100 856h0M2287 785h0M2103 632h0M1929 770h0M2307 442h0M1980 604h0M2641 342h0M2527 335h0M2469 773h0M1796 444h0M2419 481h0M2486 340h0M2541 751h0M2129 729h0M2121 703h0M1900 690h0M1901 861h0M2473 679h0M1895 358h0M2054 439h0M2297 474h0M2283 795h0M1956 460h0M2043 590h0M2507 702h0M2109 571h0M2284 351h0M2403 303h0M1984 438h0M2324 539h0M1903 506h0M2004 717h0M2163 709h0M2169 434h0M2332 554h0M2286 701h0M2566 711h0M2069 608h0M1899 329h0M2486 718h0M2181 475h0M2188 424h0M2048 816h0M2261 506h0M2122 631h0M2328 687h0M2162 554h0M2213 910h0M2389 485h0M2707 406h0M2196 832h0M2269 699h0M1889 563h0M1831 400h0M2417 547h0M1771 578h0M2451 535h0M2364 478h0M1996 536h0M2406 315h0M1803 509h0M1950 389h0M2506 258h0M2621 425h0M2100 747h0M2457 482h0M2730 285h0M1997 315h0M1981 612h0M2254 578h0M2668 736h0M2006 939h0M1869 541h0M2693 460h0M2720 462h0M1895 324h0M2736 444h0M2273 548h0M2300 354h0M2788 497h0M2076 481h0M1848 421h0M2255 869h0M1841 421h0M2212 612h0M2796 549h0M2583 603h0M1887 373h0M2016 506h0M2328 330h0M2000 395h0M2717 603h0M2318 546h0M1879 451h0M2252 444h0M1855 353h0M2066 782h0M2094 788h0M2121 963h0M2240 408h0M2150 351h0M2437 552h0M2149 642h0M2648 294h0M2207 787h0M2369 622h0M2103 730h0M2801 367h0M2202 505h0M1935 872h0M2145 717h0M2241 673h0M2533 517h0M1964 307h0M2237 808h0M2118 322h0M2331 759h0M2630 280h0M2771 456h0M2417 682h0M1884 755h0M2332 585h0M2126 674h0M2486 751h0M2549 337h0M2774 460h0M2638 495h0M2272 682h0M1807 624h0M2112 409h0M2706 530h0M2332 372h0M1932 464h0M2286 614h0M2110 510h0M2671 517h0M2262 758h0M2190 345h0M1858 426h0M2303 539h0M2065 771h0M2433 491h0M2742 357h0M1889 745h0M2137 342h0M2748 373h0M2065 397h0M2516 452h0M2115 667h0M2057 504h0M2437 273h0M2441 444h0M1978 436h0M2563 315h0M1935 800h0M2481 318h0M2264 522h0M2433 739h0M2045 415h0M2395 740h0M2815 548h0M2016 567h0M2701 443h0M1961 315h0M2166 838h0M2023 851h0M2685 474h0M1995 554h0M1887 735h0M2194 765h0M2657 747h0M2224 904h0M1914 862h0M1908 675h0M2309 469h0M1972 516h0M2776 457h0M2500 608h0M2085 456h0M2301 818h0M2148 636h0M2653 705h0M2395 650h0M2106 724h0M1886 460h0M1801 426h0M1991 876h0M1975 590h0M1850 488h0M2699 545h0M2124 899h0M2468 603h0M2024 480h0M2023 627h0M2485 646h0M2391 340h0M1948 521h0M2775 488h0M2398 625h0M2244 610h0M2338 697h0M2531 765h0M2612 581h0M1938 349h0M2245 782h0M2531 340h0M2117 970h0M2088 778h0M2040 412h0M2552 367h0M2037 406h0M2080 645h0M2213 915h0M2021 904h0M2251 668h0M2291 596h0M2814 557h0M2028 613h0M1890 820h0M2522 390h0M2080 462h0M2336 688h0M2736 506h0M1819 408h0M1822 461h0M2110 812h0M2039 327h0M2559 633h0M2014 929h0M1903 796h0M2198 651h0M1841 527h0M2092 564h0M2656 424h0M1940 923h0M2182 940h0M2088 437h0M2028 858h0M2404 255h0M2192 800h0M2169 830h0M2007 480h0M2004 415h0M1923 903h0M2314 452h0M1988 448h0M2405 772h0M2076 507h0M1804 637h0M2019 378h0M1777 409h0M2286 349h0M1800 634h0M1899 839h0M2220 669h0M2350 766h0M2122 955h0M2345 698h0M2547 324h0M2278 658h0M2054 351h0M1872 657h0M2213 657h0M2200 378h0M1967 371h0M2142 565h0M2247 907h0M2576 412h0M2475 522h0M2420 527h0M1891 607h0M1866 643h0M2774 401h0M2630 469h0M1913 825h0M2766 339h0M2422 467h0M2268 864h0M2146 767h0M1802 400h0M2193 946h0M1816 450h0M2689 565h0M1872 607h0M2543 727h0M2335 758h0M2340 535h0M2317 397h0M1841 406h0M1985 333h0M2195 628h0M2422 661h0M1834 357h0M1885 536h0M1791 434h0M2395 584h0M2311 354h0M2123 791h0M2064 627h0M1820 554h0M1767 476h0M1819 661h0M2442 371h0M2178 610h0M2436 771h0M2454 357h0M2310 772h0M2606 303h0M1856 561h0M2510 306h0M2687 651h0M2276 590h0M1863 548h0M2104 745h0M2044 398h0M2490 275h0M2239 636h0M2426 730h0M1994 906h0M2076 816h0M2181 407h0M2320 354h0M2160 543h0M2528 269h0M2626 631h0M1971 820h0M2130 717h0M2418 255h0M2724 656h0M1862 372h0M2306 437h0M2568 555h0M2766 621h0M1946 565h0M2047 958h0M2339 545h0M2243 428h0M2097 383h0M2643 567h0M2398 472h0M1814 388h0M2730 342h0M1863 500h0M2684 608h0M2138 862h0M2721 517h0M1957 353h0M1921 424h0M2267 784h0M2180 511h0M2073 539h0M2146 881h0M2265 748h0M2530 730h0M2193 912h0M2597 311h0M2036 649h0M2068 363h0M2526 239h0M2603 674h0M2115 372h0M2251 844h0M2786 583h0M1826 602h0M2013 955h0M1887 337h0M2759 426h0M2000 579h0M2664 505h0M1890 663h0M2044 934h0M2485 662h0M1879 328h0M2659 493h0M2156 643h0M2682 509h0M2084 541h0M1821 341h0M2684 365h0M2261 467h0M2038 460h0M2737 482h0M2535 677h0M2478 694h0M2740 510h0M1967 395h0M1831 384h0M2415 286h0M1847 409h0M2123 851h0M2173 546h0M2100 775h0M2131 788h0M2468 367h0M2181 500h0M1964 947h0M2586 268h0M1962 885h0M1978 418h0M2202 512h0M1863 609h0M1915 773h0M2500 725h0M2083 872h0M1894 523h0M2183 566h0M1933 468h0M2245 843h0M2564 655h0M2418 353h0M2157 731h0M2077 818h0M2188 669h0M1925 921h0M1920 448h0M2540 591h0M2114 705h0M2342 691h0M2304 473h0M2027 536h0M2671 313h0M1999 912h0M2017 918h0M2429 491h0M2627 461h0M2226 375h0M2203 782h0M2016 511h0M2180 658h0M1900 449h0M2692 371h0M2084 310h0M2132 649h0M2486 618h0M2423 437h0M2482 619h0M2538 468h0M2561 274h0M2066 360h0M2272 369h0M2734 324h0M1838 618h0M2443 737h0M2023 369h0M2219 767h0M2019 935h0M2708 384h0M2165 560h0M2245 649h0M2068 438h0M2348 779h0M1916 312h0M2105 942h0M2300 456h0M1851 643h0M2128 642h0M2676 475h0M1856 553h0M1956 862h0M2001 967h0M2502 436h0M2342 361h0M1936 838h0M2389 764h0M2515 730h0M2140 845h0M2542 311h0M2619 286h0M2144 559h0M1911 400h0M2049 624h0M2030 430h0M2044 656h0M2642 462h0M1813 553h0M2513 298h0M1882 494h0M2219 430h0M2146 395h0M2044 328h0M2517 749h0M2024 390h0M2342 654h0M2664 615h0M2192 502h0M2455 724h0M1950 925h0M2061 352h0M2285 595h0M2454 530h0M1913 780h0M2550 512h0M2527 312h0M2322 324h0M2580 275h0M2593 436h0M2010 953h0M1758 584h0M2041 837h0M2062 481h0M1949 913h0M2153 775h0M2751 361h0M2401 655h0M1906 376h0M2095 716h0M2150 578h0M2556 385h0M2543 463h0M2151 585h0M2549 601h0M2131 973h0M1807 595h0M2239 737h0M1782 564h0M2233 831h0M1931 844h0M2437 282h0M2790 597h0M2025 379h0M2347 487h0M2472 498h0M1859 457h0M2611 587h0M2370 463h0M2197 747h0M1990 839h0M2229 788h0M2040 586h0M2578 559h0M2199 383h0M2039 609h0M1871 524h0M1854 430h0M2283 781h0M1860 397h0M2077 345h0M2222 816h0M2270 633h0M2614 448h0M1908 688h0M2042 614h0M1806 455h0M2105 469h0M2175 342h0M2647 464h0M1817 462h0M1818 569h0M1835 370h0M2076 390h0M1944 576h0M1966 519h0M2021 542h0M2147 625h0M2148 855h0M2401 769h0M2088 751h0M2017 592h0M2464 410h0M2419 693h0M2561 760h0M1905 655h0M2083 855h0M2487 537h0M2059 773h0M2107 390h0M2108 630h0M2587 701h0M2342 468h0M2269 570h0M2687 397h0M1845 481h0M2418 451h0M2578 293h0M2177 600h0M2677 691h0M1904 602h0M1989 384h0M2365 466h0M2475 536h0M1912 391h0M2590 381h0M2245 490h0M2211 929h0M1844 608h0M2478 239h0M2307 566h0M2105 408h0M2451 606h0M2219 892h0M1844 525h0M2151 791h0M2686 715h0M2683 731h0M2767 303h0M2791 394h0M1900 500h0M2509 727h0M2272 640h0M2028 904h0M1944 322h0M2021 359h0M2425 752h0M2380 479h0M2170 916h0M2340 413h0M2778 528h0M2556 657h0M1987 433h0M2500 339h0M2159 935h0M2135 685h0M2449 455h0M1931 445h0M2532 715h0M2371 591h0M2695 445h0M2036 734h0M2110 935h0M2591 404h0M2595 701h0M2780 618h0M2119 360h0M1927 766h0M1999 906h0M2457 292h0M1988 371h0M2161 640h0M2534 736h0M2695 325h0M2533 773h0M2132 412h0M2013 396h0M2234 898h0M2221 389h0M2404 461h0M2133 771h0M2255 551h0M2108 366h0M2217 552h0M2200 861h0M2404 473h0M2615 684h0M1779 570h0M2249 763h0M1751 584h0M2594 722h0M2223 654h0M2717 327h0M2222 872h0M2331 455h0M2258 656h0M2129 390h0M2000 886h0M2323 442h0M1847 685h0M2628 499h0M2231 797h0M1778 418h0M2682 264h0M2748 291h0M2612 622h0M1922 894h0M2052 572h0M2058 564h0M2326 537h0M2247 406h0M2756 494h0M2409 717h0M1996 493h0M2206 616h0M2067 475h0M2160 747h0M2580 678h0M2299 319h0M2108 473h0M1831 573h0M1828 482h0M2165 462h0M2003 337h0M1868 604h0M2602 689h0M2552 560h0M1997 388h0M2076 782h0M2265 688h0M2367 304h0M2086 621h0M2794 485h0M2387 479h0M2330 408h0M2128 523h0M2346 463h0M2190 821h0M2413 324h0M2127 772h0M2470 551h0M2168 664h0M2151 764h0M1985 936h0M2054 922h0M2279 747h0M2527 536h0M2283 770h0M2041 511h0M2195 856h0M1945 394h0M2751 328h0M2670 557h0M2339 300h0M2188 591h0M2702 542h0M2003 432h0M2272 855h0M2595 480h0M2435 298h0M1762 504h0M1875 648h0M2406 504h0M2575 601h0M2370 353h0M2015 490h0M2740 606h0M2305 343h0M2761 379h0M2591 711h0M2465 595h0M1859 646h0M1958 555h0M2508 584h0M2440 398h0M2404 706h0M2351 675h0M2112 675h0M2251 713h0M1980 358h0M2055 467h0M2083 361h0M2055 433h0M2173 705h0M1849 628h0M2079 937h0M2231 421h0M2311 522h0M2590 478h0M2418 328h0M2360 747h0M1796 428h0M1810 542h0M2446 596h0M2095 804h0M1974 825h0M2440 622h0M2443 365h0M2566 321h0M2658 564h0M2190 530h0M2521 360h0M2263 706h0M1849 431h0M2176 952h0M2547 372h0M2423 384h0M1914 464h0M2107 910h0M2583 285h0M2142 770h0M2124 885h0M2351 336h0M1803 365h0M2710 487h0M2388 671h0M2212 650h0M2122 609h0M2052 470h0M2562 342h0M1978 937h0M2264 634h0M2636 640h0M2605 704h0M2409 473h0M1777 616h0M2234 585h0M2606 463h0M2671 644h0M2352 345h0M2470 542h0M2475 325h0M2506 637h0M1854 395h0M1911 439h0M1868 686h0M1864 533h0M2538 270h0M1887 808h0M2195 821h0M2552 487h0M2248 595h0M2345 751h0M1967 563h0M2113 612h0M1884 334h0M2408 264h0M2381 697h0M1894 838h0M1951 942h0M2554 615h0M2370 485h0M2058 616h0M2590 288h0M1982 349h0M2412 486h0M1863 366h0M2706 716h0M2366 724h0M1792 370h0M2190 516h0M1912 305h0M2234 772h0M1880 676h0M1915 329h0M2100 637h0M1901 412h0M2472 734h0M2107 564h0M2123 438h0M2095 812h0M1994 333h0M2471 234h0M1981 924h0M2034 964h0M2168 849h0M1790 541h0M2373 734h0M2226 472h0M2416 511h0M1927 897h0M2479 392h0M2165 923h0M2093 940h0M2335 352h0M1964 846h0M2459 355h0M2742 506h0M2415 372h0M2811 594h0M2219 494h0M2656 339h0M1757 505h0M2586 741h0M1879 402h0M2022 420h0M2238 577h0M2527 597h0M2024 489h0M2255 880h0M2193 658h0M2251 748h0M2122 333h0M2179 378h0M2785 333h0M2398 485h0M2230 717h0M2116 476h0M2768 582h0M1866 400h0M2107 496h0M2199 482h0M1845 536h0M2392 444h0M2462 745h0M2061 512h0M1953 415h0M2108 418h0M1760 598h0M2446 668h0M2726 462h0M2615 713h0M1812 349h0M2076 312h0M2210 855h0M1797 361h0M2118 432h0M2493 533h0M2794 366h0M2039 959h0M2437 648h0M2202 662h0M2308 531h0M2398 287h0M1892 777h0M2700 613h0M2559 461h0M1973 881h0M1925 311h0M1982 874h0M2268 834h0M2293 730h0M2204 796h0M1842 392h0M2425 293h0M2600 451h0M2389 739h0M2619 455h0M1846 676h0M2098 541h0M2320 753h0M2682 433h0M2210 846h0M2029 846h0M1944 569h0M2325 668h0M2706 557h0M2777 394h0M2491 747h0M2783 603h0M2159 438h0M2086 662h0M2277 330h0M2099 664h0M1912 718h0M1952 503h0M2287 323h0M1841 650h0M2006 333h0M2139 729h0M2468 558h0M1882 697h0M1897 788h0M1790 636h0M2465 341h0M1852 378h0M2230 515h0M2036 879h0M2094 445h0M2115 506h0M2086 946h0M2503 760h0M2094 319h0M2521 583h0M2190 554h0M2688 443h0M1991 416h0M2451 403h0M2188 838h0M1988 930h0M1900 645h0M2424 633h0M2237 437h0M2298 816h0M2602 759h0M1806 448h0M1890 428h0M2162 433h0M1760 570h0M2315 322h0M1893 791h0M2148 685h0M1852 468h0M2150 561h0M2450 687h0M1820 491h0M2103 499h0M2561 285h0M2545 274h0M1813 470h0M1902 470h0M2188 679h0M1899 582h0M2360 312h0M1897 831h0M1901 854h0M2522 339h0M2482 704h0M1850 546h0M2584 383h0M2173 572h0M2066 432h0M2253 663h0M1984 569h0M2115 588h0M2372 300h0M2140 903h0M2058 396h0M2463 346h0M1961 458h0M1821 595h0M2825 583h0M2250 644h0M2557 670h0M1953 451h0M1828 434h0M2167 601h0M2047 316h0M2501 230h0M2264 352h0M2204 698h0M2467 634h0M2158 463h0M2582 407h0M2209 770h0M2015 830h0M2549 329h0M2350 663h0M1905 699h0M1975 546h0M2432 727h0M2410 461h0M2128 894h0M2590 333h0M1775 504h0M2435 733h0M2505 539h0M1936 373h0M2585 292h0M2422 458h0M2010 924h0M1785 594h0M2506 512h0M2326 401h0M2240 700h0M2714 298h0M1890 699h0M2675 367h0M2290 340h0M2072 758h0M2220 531h0M2167 440h0M1859 549h0M2530 391h0M2024 341h0M1775 579h0M2157 627h0M1897 403h0M2382 605h0M1840 479h0M2309 578h0M2472 569h0M2019 925h0M2031 822h0M2179 449h0M2167 759h0M2059 493h0M2105 734h0M2206 511h0M2150 604h0M2180 560h0M1906 802h0M1985 597h0M2012 961h0M2546 638h0M1999 939h0M1964 470h0M2009 500h0M2497 492h0M1983 512h0M2300 722h0M2031 570h0M2767 571h0M1966 867h0M2027 402h0M2809 522h0M2074 876h0M1907 873h0M2503 246h0M2514 269h0M2200 751h0M2233 737h0M2524 602h0M2279 633h0M2259 782h0M2384 721h0M2037 400h0M2070 797h0M2585 691h0M2097 372h0M2054 364h0M1778 468h0M2682 686h0M2630 734h0M2088 425h0M1885 489h0M2470 227h0M1854 422h0M2087 722h0M1908 521h0M2681 287h0M1936 852h0M2237 888h0M2109 679h0M2419 274h0M2699 335h0M1906 534h0M2535 328h0M2218 746h0M2258 727h0M1994 531h0M2371 554h0M2496 645h0M2702 688h0M1826 652h0M2009 844h0M2560 748h0M1935 452h0M2095 910h0M2023 880h0M2654 506h0M1917 846h0M2072 455h0M2566 334h0M2317 343h0M2413 758h0M2137 693h0M2202 718h0M1923 304h0M2519 603h0M2069 462h0M1838 657h0M1989 940h0M2632 288h0M2001 928h0M1918 524h0M1961 473h0M1834 663h0M2492 334h0M2702 661h0M2540 566h0M2041 650h0M2125 686h0M2185 885h0M2637 396h0M2440 359h0M2156 586h0M2412 425h0M2572 511h0M2590 615h0M2541 444h0M1946 334h0M1972 551h0M1949 498h0M2270 693h0M2133 456h0M2467 376h0M1899 631h0M2647 577h0M2189 737h0M1929 553h0M2108 482h0M2299 765h0M2258 428h0M2205 657h0M2046 463h0M1978 461h0M2713 626h0M1880 624h0M1908 862h0M2309 710h0M2073 395h0M1972 313h0M2048 516h0M2467 280h0M2279 597h0M2276 573h0M2467 704h0M2800 385h0M1890 456h0M2535 243h0M2028 872h0M2327 391h0M2509 497h0M1799 584h0M2415 414h0M1788 390h0M1930 336h0M2161 869h0M2408 345h0M2247 469h0M2195 863h0M2389 633h0M1777 566h0M2223 857h0M1942 498h0M2213 551h0M2026 608h0M2566 563h0M2423 546h0M1947 857h0M2415 273h0M1935 498h0M2495 669h0M2303 612h0M2495 339h0M2380 284h0M2185 632h0M2721 311h0M2389 315h0M1848 638h0M2094 889h0M1954 910h0M2054 378h0M2185 636h0M2061 525h0M2045 366h0M2307 674h0M1791 588h0M2802 583h0M2107 506h0M2377 292h0M2041 834h0M2559 770h0M2134 965h0M2667 650h0M2385 322h0M1897 727h0M2070 334h0M2066 565h0M2673 371h0M1881 613h0M2041 436h0M2011 464h0M2414 660h0M2573 316h0M2321 555h0M2136 905h0M1910 406h0M1981 433h0M2634 354h0M2735 518h0M1980 372h0M2417 242h0M1908 309h0M2737 460h0M1962 899h0M1933 783h0M2710 537h0M2538 463h0M2062 952h0M2148 760h0M1880 361h0M2180 766h0M2449 276h0M1912 694h0M2067 850h0M2817 533h0M2122 785h0M2281 528h0M2272 880h0M1940 357h0M2394 285h0M2497 521h0M1988 500h0M1882 638h0M2573 328h0M1912 874h0M1780 558h0M2660 409h0M1800 535h0M2146 539h0M2691 620h0M1944 512h0M2594 735h0M1974 870h0M1965 821h0M2244 521h0M2346 771h0M2436 348h0M2658 446h0M2454 433h0M1825 333h0M1994 421h0M2367 577h0M2061 655h0M1940 488h0M1824 376h0M2103 657h0M2031 347h0M2240 755h0M1967 898h0M2514 364h0M1985 946h0M1944 372h0M2489 737h0M2010 630h0M2130 329h0M2261 792h0M1864 452h0M2278 850h0M2034 445h0M1880 454h0M1803 487h0M2289 578h0M2291 352h0M2161 579h0M2742 433h0M2174 876h0M2338 336h0M2119 941h0M1954 898h0M2802 593h0M2283 639h0M2047 790h0M2541 325h0M1896 697h0M2572 389h0M2199 426h0M2166 365h0M1937 807h0M2071 640h0M2080 413h0M2084 746h0M2319 521h0M2480 766h0M2761 546h0M2003 499h0M2633 576h0M2167 935h0M2240 652h0M2126 432h0M1793 547h0M2268 626h0M2284 330h0M2322 759h0M2181 893h0M2346 316h0M2503 755h0M2586 461h0M1821 431h0M1883 467h0M2562 474h0M2072 977h0M2334 559h0M1981 867h0M2387 711h0M1853 483h0M2404 582h0M2500 537h0M2720 542h0M1865 632h0M2199 559h0M1786 560h0M2125 360h0M1789 445h0M2485 640h0M2332 512h0M2737 309h0M1882 446h0M2030 436h0M2552 388h0M1899 813h0M1897 771h0M2699 530h0M2020 366h0M2402 548h0M2156 789h0M1985 482h0M2509 608h0M1772 546h0M2216 800h0M2504 698h0M1884 543h0M2182 772h0M2572 439h0M2321 415h0M2653 264h0M2211 505h0M2079 904h0M2545 594h0M2608 279h0M2139 803h0M2108 845h0M2530 694h0M1755 501h0M1782 528h0M1982 942h0M2373 528h0M2505 337h0M2682 371h0M1887 780h0M2167 388h0M2391 717h0M1865 681h0M2800 516h0M2111 953h0M2539 602h0M2444 573h0M2108 620h0M1996 840h0M2364 710h0M2075 900h0M1803 437h0M2059 818h0M2130 378h0M2591 360h0M2548 704h0M2556 518h0M2345 387h0M2769 309h0M2029 832h0M2364 658h0M1976 850h0M2254 836h0M2324 468h0M2612 712h0M2356 302h0M2628 270h0M2107 340h0M2237 561h0M2142 969h0M2068 949h0M1867 578h0M1957 547h0M1932 819h0M2080 839h0M1765 449h0M2407 370h0M1969 849h0M2642 364h0M1963 537h0M2562 263h0M2205 475h0M2068 498h0M1845 594h0M2481 572h0M2534 272h0M2736 649h0M2310 784h0M2602 482h0M2100 870h0M2443 622h0M1765 481h0M2001 322h0M2568 369h0M1821 517h0M2365 736h0M2489 467h0M2510 463h0M1836 582h0M1937 394h0M2600 302h0M1768 543h0M2419 285h0M1898 394h0M1806 548h0M2093 546h0M2130 739h0M2464 551h0M2069 655h0M2465 719h0M2521 691h0M2055 813h0M2616 299h0M2345 401h0M2538 613h0M2278 439h0M2627 655h0M2466 270h0M1891 827h0M1810 419h0M2501 593h0M2606 682h0M2730 298h0M1968 433h0M2119 736h0M2218 652h0M2086 472h0M1852 476h0M2090 724h0M2294 687h0M2547 467h0M2073 743h0M2106 637h0M2232 868h0M2350 614h0M2443 713h0M2458 548h0M2496 566h0M2017 622h0M2275 524h0M2461 675h0M2175 699h0M2157 547h0M2405 456h0M2257 741h0M2136 851h0M2670 524h0M2159 425h0M2214 451h0M2311 460h0M2268 649h0M2104 916h0M2047 392h0M2541 434h0M2456 592h0M1780 450h0M2418 718h0M2353 316h0M2412 765h0M2010 583h0M2234 758h0M2542 628h0M2586 413h0M1822 606h0M1796 612h0M2197 590h0M2205 709h0M2397 280h0M2109 330h0M2090 546h0M2386 288h0M2647 308h0M1943 927h0M2577 507h0M1903 516h0M2760 535h0M2436 444h0M2069 434h0M2334 330h0M2335 537h0M2437 244h0M2091 919h0M2321 669h0M2247 566h0M1901 867h0M2611 734h0M2492 565h0M1885 620h0M2591 282h0M2649 451h0M2385 337h0M2005 438h0M2155 397h0M1859 533h0M1859 412h0M2153 481h0M2216 409h0M2217 831h0M2497 554h0M2623 494h0M2279 600h0M2384 773h0M1903 445h0M1846 394h0M2275 651h0M2113 842h0M2053 802h0M2490 345h0M2541 529h0M1877 491h0M1936 855h0M2211 527h0M1914 365h0M2380 540h0M1891 382h0M2174 638h0M1816 436h0M2162 335h0M1907 330h0M1946 916h0M2691 594h0M2247 570h0M2014 601h0M2362 728h0M2717 399h0M1886 730h0M1889 709h0M2078 662h0M2286 844h0M1954 689h0M2164 743h0M2555 724h0M1757 470h0M2525 529h0M2521 282h0M2393 676h0M2589 588h0M1905 317h0M2223 880h0M2132 445h0M2519 300h0M1823 524h0M2429 336h0M2721 480h0M2253 503h0M2098 904h0M2006 631h0M2089 655h0M2223 822h0M2137 704h0M2170 882h0M2121 970h0M2576 382h0M1996 545h0M2282 788h0M2208 388h0M2017 963h0M2527 564h0M2391 597h0M2090 830h0M2060 366h0M2252 760h0M1900 437h0M2110 900h0M2027 638h0M1773 521h0M2056 785h0M2399 565h0M1868 382h0M1816 496h0M1996 499h0M2566 439h0M2649 718h0M1831 463h0M2427 541h0M2090 881h0M2374 664h0M2490 516h0M2021 866h0M2490 529h0M2439 606h0M2346 548h0M1922 783h0M2550 497h0M1808 537h0M2227 924h0M2754 427h0M1964 457h0M2577 269h0M2662 474h0M2197 406h0M2059 312h0M2065 832h0M2602 296h0M2472 748h0M1894 724h0M2629 622h0M2021 336h0M1971 593h0M1828 476h0M1931 361h0M1856 529h0M2108 426h0M2621 536h0M1814 505h0M1932 323h0M2003 954h0M1957 318h0M2790 491h0M2457 369h0M2586 279h0M1995 917h0M2720 558h0M1817 455h0M1827 564h0M2321 561h0M1790 566h0M2026 427h0M2132 479h0M1959 855h0M2297 346h0M1999 524h0M1938 783h0M2738 492h0M2291 704h0M1879 595h0M2183 711h0M2369 328h0M2199 793h0M1933 486h0M2403 683h0M1923 349h0M1925 404h0M1848 579h0M2401 298h0M2030 917h0M1938 553h0M2750 442h0M1901 751h0M1855 461h0M2146 679h0M2400 675h0M2605 751h0M1886 694h0M2002 457h0M2115 655h0M2531 258h0M2330 771h0M1820 361h0M1939 880h0M2433 268h0M2420 325h0M2746 607h0M2220 716h0M1926 777h0M2388 328h0M2124 815h0M1982 355h0M2537 424h0M2195 518h0M1947 790h0M2531 688h0M1807 631h0M2484 262h0M2013 607h0M1901 380h0M2527 576h0M2145 622h0M2720 637h0M2189 784h0M2471 364h0M1984 499h0M1989 484h0M2366 564h0M2456 637h0M2374 570h0M2205 493h0M2201 645h0M2500 777h0M2203 770h0M1940 342h0M1914 888h0M2126 614h0M2171 673h0M2243 910h0M2795 464h0M1815 473h0M2042 857h0M2363 636h0M2194 452h0M2534 528h0M1990 559h0M1861 313h0M2102 767h0M2067 958h0M2704 521h0M2127 321h0M2187 390h0M2311 716h0M2104 879h0M1897 336h0M2497 385h0M2584 561h0M1809 488h0M1895 309h0M2117 961h0M2098 614h0M2344 531h0M2090 395h0M2171 354h0M2658 321h0M1789 494h0M1971 347h0M1936 904h0M2093 433h0M2310 793h0M2135 669h0M2265 818h0M2394 563h0M2181 918h0M2470 358h0M2493 222h0M1883 432h0M2312 340h0M2654 279h0M2061 947h0M2555 406h0M1807 351h0M2731 492h0M2110 862h0M2025 523h0M2034 958h0M1817 426h0M2188 657h0M2692 317h0M1979 819h0M2174 443h0M2272 585h0M2023 898h0M2179 948h0M2078 769h0M2370 343h0M1932 540h0M1813 639h0M2426 369h0M2235 654h0M2661 548h0M1804 602h0M2002 467h0M2077 871h0M2211 785h0M2760 597h0M1898 667h0M2677 727h0M2179 778h0M2171 658h0M1972 384h0M1885 363h0M1943 432h0M2043 418h0M2204 855h0M2007 869h0M2493 316h0M2812 572h0M2297 734h0M2062 856h0M2439 317h0M2404 290h0M2220 864h0M2033 862h0M1911 382h0M2286 693h0M1842 573h0M2030 951h0M2243 619h0M2123 340h0M2516 391h0M2486 436h0M2518 309h0M1980 965h0M2143 553h0M2800 539h0M1971 885h0M1973 894h0M2153 578h0M2447 711h0M2290 664h0M2223 783h0M2409 649h0M2210 626h0M2159 826h0M2048 554h0M2128 381h0M1852 602h0M2158 559h0M1933 827h0M2216 691h0M1922 852h0M2032 812h0M1880 733h0M2085 602h0M2335 376h0M2203 600h0M2075 428h0M1942 852h0M2552 263h0M1764 547h0M1883 704h0M1968 512h0M2086 379h0M2041 873h0M2308 601h0M1936 352h0M2223 458h0M1859 470h0M2524 704h0M2450 256h0M1911 769h0M2521 509h0M2129 947h0M2161 806h0M2100 681h0M2426 571h0M2037 971h0M1938 929h0M2325 682h0M2693 687h0M2497 322h0M2118 715h0M2717 631h0M2443 765h0M2486 510h0M1870 328h0M1994 880h0M1791 615h0M2535 541h0M2353 300h0M2623 713h0M2043 637h0M2518 722h0M2023 347h0M2239 904h0M2752 540h0M2415 462h0M1801 644h0M2216 814h0M2776 318h0M1830 512h0M1897 407h0M2552 359h0M1862 342h0M1973 830h0M2433 699h0M2132 334h0M2706 636h0M2058 480h0M1868 710h0M2272 791h0M1964 376h0M1876 333h0M2751 651h0M2387 406h0M1908 703h0M2216 609h0M2306 570h0M1894 565h0M1915 849h0M1931 502h0M2132 561h0M2685 486h0M2230 680h0M2267 868h0M1785 521h0M2497 470h0M2751 524h0M2002 915h0M1999 869h0M2463 322h0M2014 349h0M1971 963h0M1848 564h0M2315 764h0M2202 723h0M1928 475h0M2452 694h0M2593 327h0M1946 313h0M2285 680h0M1951 515h0M1840 348h0M2548 394h0M1924 407h0M2120 490h0M2104 983h0M2164 588h0M2503 772h0M2193 778h0M2054 402h0M2338 710h0M1954 837h0M1878 486h0M2264 499h0M2119 927h0M2258 522h0M2202 571h0M2728 506h0M2199 637h0M2049 425h0M2601 409h0M1846 506h0M2338 348h0M2242 557h0M2093 515h0M2159 658h0M2478 432h0M2063 758h0M2411 596h0M2162 515h0M2192 758h0M1960 830h0M2173 778h0M2691 584h0M2202 476h0M2443 687h0M2264 654h0M2188 499h0M2346 294h0M1871 598h0M2557 547h0M1980 443h0M1988 856h0M1941 825h0M1845 413h0M1988 834h0M2734 438h0M2605 451h0M2525 385h0M2079 596h0M2086 759h0M2225 504h0M2115 493h0M2520 260h0M2692 708h0M2100 736h0M2078 965h0M1917 432h0M2398 264h0M2114 891h0M2233 468h0M2282 643h0M2311 437h0M2799 431h0M2425 425h0M2276 339h0M1873 760h0M2369 666h0M1861 410h0M2086 891h0M1979 567h0M2604 272h0M1989 506h0M2564 632h0M2588 602h0M2570 307h0M2521 552h0M2190 808h0M2188 437h0M2124 947h0M1990 342h0M1837 376h0M2129 319h0M2098 931h0M1952 927h0M2335 382h0M2160 724h0M2129 808h0M2189 674h0M1945 942h0M2343 745h0M2518 591h0M1773 560h0M1755 529h0M1887 606h0M2368 706h0M2300 655h0M1875 603h0M1943 892h0M1969 584h0M2346 704h0M2004 921h0M1814 512h0M1935 860h0M2066 792h0M2608 431h0M2148 648h0M2111 565h0M2112 928h0M2284 607h0M2493 377h0M2233 646h0M2274 601h0M2286 603h0M2227 839h0M2481 327h0M2202 911h0M2803 354h0M2292 766h0M2252 372h0M2216 473h0M1916 442h0M2276 664h0M1914 755h0M2136 941h0M2167 517h0M2662 740h0M2164 513h0M1990 319h0M2570 366h0M2410 258h0M2315 527h0M1791 519h0M2751 600h0M2535 339h0M2309 493h0M2063 893h0M2547 299h0M2157 412h0M2509 341h0M2182 818h0M1991 849h0M2618 349h0M2337 480h0M1863 676h0M1874 394h0M2551 644h0M2346 307h0M2517 346h0M1916 796h0M2247 359h0M2482 772h0M1907 620h0M2201 436h0M2531 251h0M2055 796h0M2130 658h0M1935 524h0M2481 256h0M2137 887h0M2758 518h0M1933 791h0M2098 954h0M2220 845h0M2161 918h0M2090 624h0M2170 785h0M2591 298h0M2469 491h0M2079 929h0M2099 628h0M2028 468h0M2323 769h0M2063 967h0M1782 468h0M2101 388h0M2048 916h0M2421 711h0M2048 359h0M2608 584h0M2059 530h0M2622 303h0M2377 537h0M1843 548h0M2484 224h0M2250 428h0M2178 758h0M2537 355h0M1877 772h0M2514 342h0M2502 401h0M2415 542h0M2469 713h0M1972 565h0M1799 430h0M1991 463h0M2244 537h0M2120 879h0M1928 438h0M2799 506h0M1779 631h0M2541 266h0M2175 930h0M2142 874h0M2215 850h0M2494 246h0M1939 542h0M1767 583h0M1821 637h0M2790 421h0M2492 354h0M1933 511h0M1985 655h0M1925 489h0M1890 533h0M2414 309h0M2306 644h0M2703 672h0M2184 813h0M1970 416h0M1803 432h0M2462 250h0M2097 652h0M2080 655h0M2237 785h0M2612 426h0M2082 824h0M1910 868h0M2250 402h0M2599 537h0M2050 858h0M2377 675h0M2279 606h0M2340 329h0M2790 549h0M2731 633h0M2125 347h0M2015 552h0M2235 705h0M2163 452h0M2370 604h0M2059 801h0M2122 684h0M2337 518h0M2678 621h0M2148 709h0M2190 893h0M1909 467h0M2685 712h0M1999 899h0M2774 608h0M1811 360h0M2032 945h0M2515 258h0M2459 717h0M2303 516h0M2786 592h0M2134 894h0M2709 336h0M1799 474h0M1913 670h0M2283 347h0M2491 308h0M1880 530h0M2357 539h0M2256 560h0M2422 626h0M2520 406h0M2721 625h0M1919 549h0M2179 534h0M2744 644h0M2592 317h0M2044 384h0M2202 452h0M1783 509h0M2643 598h0M2093 493h0M2175 904h0M2652 372h0M1849 630h0M2035 372h0M2329 701h0M2203 519h0M2604 503h0M1832 445h0M2242 767h0M2370 518h0M2231 383h0M1987 420h0M1789 503h0M2635 585h0M1855 519h0M2753 598h0M2093 819h0M2498 312h0M2093 455h0M2683 703h0M2345 382h0M2707 369h0M2024 911h0M2508 484h0M1901 494h0M2021 466h0M2084 976h0M2549 347h0M2153 699h0M2108 414h0M2219 524h0M2418 764h0M2655 316h0M2209 644h0M2185 645h0M2086 335h0M2090 613h0M1930 851h0M2471 516h0M2087 803h0M2195 415h0M2694 407h0M2468 583h0M2142 809h0M1889 640h0M2441 725h0M2380 518h0M2739 293h0M2333 705h0M2520 373h0M2065 844h0M2146 850h0M2502 719h0M1867 406h0M2032 497h0M2388 614h0M1910 830h0M1865 718h0M2090 481h0M1754 573h0M2182 490h0M1915 409h0M2634 730h0M1959 905h0M2613 670h0M2549 685h0M2306 463h0M2531 651h0M1859 346h0M2706 288h0M2437 718h0M1774 581h0M1827 517h0M2720 444h0M2172 694h0M2176 662h0M2360 571h0M1897 455h0M2196 722h0M2160 845h0M1862 446h0M1995 324h0M2673 600h0M2206 852h0M2146 346h0M2356 675h0M2030 479h0M2342 743h0M2594 569h0M2355 606h0M1797 543h0M2068 646h0M2150 610h0M2195 376h0M1931 349h0M2261 616h0M2047 948h0M2716 688h0M2048 559h0M2351 551h0M2392 542h0M2270 800h0M2058 967h0M2331 313h0M2076 582h0M2265 480h0M2658 724h0M2755 581h0M2517 627h0M2632 506h0M2033 547h0M2266 588h0M2377 524h0M2517 529h0M2563 281h0M1932 367h0M2286 570h0M1810 378h0M2118 310h0M2678 704h0M1950 820h0M2097 773h0M2734 640h0M2472 269h0M2550 473h0M2480 715h0M2380 355h0M2379 324h0M2004 367h0M2333 425h0M2342 300h0M2197 616h0M1883 315h0M1795 413h0M2009 539h0M2465 523h0M2056 602h0M2463 625h0M2176 349h0M2121 542h0M2185 923h0M1905 739h0M1946 304h0M2000 361h0M2199 852h0M2308 361h0M1803 492h0M2709 426h0M2004 852h0M2406 749h0M2227 767h0M1995 615h0M1923 760h0M1900 824h0M2230 639h0M1925 868h0M2409 587h0M2076 806h0M1901 722h0M2216 921h0M2304 329h0M1814 600h0M1806 436h0M1952 397h0M2370 564h0M1863 624h0M1856 688h0M2092 760h0M1835 457h0M2535 584h0M2612 366h0M1809 425h0M2122 758h0M2062 446h0M2108 397h0M2247 434h0M2199 679h0M2199 802h0M2607 475h0M2572 267h0M2319 719h0M2076 955h0M1897 579h0M2587 521h0M1903 774h0M2339 343h0M2741 469h0M2566 721h0M1976 475h0M2063 455h0M2478 761h0M2382 655h0M2139 461h0M2273 553h0M1803 576h0M2038 913h0M1929 904h0M2256 790h0M2153 692h0M2124 622h0M2002 451h0M1887 739h0M2115 901h0M2245 515h0M2544 452h0M2291 811h0M1995 352h0M2146 809h0M2492 442h0M1898 521h0M2029 492h0M2415 283h0M2529 755h0M2444 316h0M2198 778h0M2011 934h0M1805 394h0M1887 718h0M2571 703h0M2220 549h0M2587 345h0M2165 486h0M2200 390h0M2460 681h0M2584 764h0M2547 611h0M2012 836h0M2461 769h0M2499 287h0M1853 649h0M2194 570h0M1906 751h0M2332 674h0M2041 571h0M2305 487h0M1848 602h0M2750 505h0M1932 407h0M2333 403h0M2517 699h0M2403 269h0M2155 432h0M1866 413h0M2418 496h0M2493 707h0M2248 711h0M2158 377h0M2569 293h0M2052 444h0M2120 770h0M2440 592h0M2161 795h0M2277 752h0M2324 709h0M2149 900h0M2569 542h0M2653 306h0M2208 631h0M2604 442h0M2017 419h0M2037 889h0M1911 443h0M2365 530h0M2189 793h0M2776 576h0M2709 394h0M2107 359h0M2154 820h0M1931 495h0M2137 682h0M2248 540h0M2375 485h0M2405 785h0M1824 624h0M2479 722h0M2378 591h0M1824 640h0M2426 409h0M2115 693h0M1998 436h0M2146 503h0M2217 771h0M1955 476h0M2475 224h0M2100 753h0M2605 700h0M2182 648h0M2134 348h0M1966 600h0M1866 506h0M2459 388h0M2448 697h0M2123 597h0M2047 826h0M2079 666h0M2339 316h0M1795 391h0M2636 551h0M2527 418h0M2158 569h0M2181 900h0M2465 294h0M1821 530h0M2550 377h0M2124 388h0M2139 531h0M2420 490h0M2557 534h0M2120 469h0M2497 345h0M2234 625h0M2486 584h0M2004 958h0M2180 913h0M1894 437h0M2460 403h0M1894 761h0M2630 757h0M2125 721h0M1981 579h0M2649 307h0M1944 846h0M2651 542h0M1786 606h0M1897 821h0M2564 266h0M2402 691h0M2112 870h0M2561 530h0M2412 558h0M1859 431h0M2090 978h0M1755 525h0M1970 949h0M2763 480h0M2029 563h0M2303 468h0M1867 472h0M2207 838h0M2390 255h0M2178 385h0M2445 331h0M1923 457h0M2800 578h0M1978 558h0M1849 535h0M2643 686h0M2102 609h0M2486 775h0M2233 416h0M2160 403h0M2325 340h0M2264 536h0M2021 930h0M2030 539h0M2202 384h0M1831 507h0M2139 764h0M2186 693h0M2247 800h0M2789 511h0M2435 237h0M2617 722h0M1909 671h0M2576 442h0M2240 797h0M2208 598h0M2460 342h0M2811 582h0M2188 597h0M1758 534h0M2475 688h0M2018 525h0M2162 857h0M2279 334h0M2203 930h0M1880 703h0M2166 619h0M1925 420h0M2220 837h0M1883 564h0M2140 858h0M2308 685h0M2181 848h0M1914 730h0M1994 396h0M1901 371h0M2671 425h0M2007 906h0M2265 751h0M1905 777h0M2405 511h0M2673 736h0M1859 706h0M2272 752h0M1847 360h0M1846 587h0M1868 458h0M1900 715h0M1852 491h0M2097 321h0M2471 578h0M2389 706h0M2624 577h0M2048 573h0M2552 295h0M1964 444h0M2018 887h0M1980 504h0M2654 739h0M2730 444h0M2451 523h0M2449 734h0M2823 572h0M1777 589h0M1891 803h0M2189 431h0M2198 462h0M2086 566h0M2126 528h0M2436 365h0M2413 421h0M2497 333h0M2122 566h0M1907 342h0M1904 760h0M2134 625h0M2656 270h0M2412 300h0M2664 561h0M2680 468h0M2023 859h0M2548 312h0M2041 578h0M2274 455h0M1976 948h0M2264 742h0M2254 542h0M2355 573h0M2115 582h0M2176 675h0M2296 479h0M1951 456h0M1960 487h0M2457 330h0M2218 796h0M2184 430h0M1905 403h0M2513 736h0M1978 901h0M1789 601h0M2311 727h0M2204 529h0M2093 467h0M2432 416h0M2262 403h0M2406 310h0M2443 336h0M2130 449h0M2640 267h0M1768 440h0M2279 717h0M2426 255h0M2374 721h0M2078 942h0M2247 808h0M2559 269h0M1952 894h0M2766 400h0M2654 330h0M1990 364h0M2212 739h0M1894 571h0M1805 467h0M1784 541h0M2566 688h0M2562 614h0M2578 764h0M1985 610h0M2257 485h0M2045 511h0M2410 306h0M1999 613h0M2125 403h0M2178 546h0M1810 588h0M2072 864h0M1908 692h0M2611 391h0M2586 618h0M2389 755h0M2167 570h0M2430 585h0M2722 491h0M2217 420h0M1906 716h0M2119 517h0M1787 376h0M2073 367h0M2268 384h0M1905 498h0M2352 309h0M2307 317h0M1807 366h0M2604 560h0M1935 909h0M2357 688h0M2399 602h0M1974 481h0M2395 432h0M1860 515h0M2799 602h0M2465 740h0M2665 724h0M2549 278h0M2139 785h0M2738 591h0M2472 249h0M2025 618h0M2787 458h0M2561 444h0M1845 583h0M2115 721h0M2033 414h0M2587 753h0M2478 288h0M2381 474h0M2072 474h0M2274 530h0M1986 892h0M2243 547h0M2098 721h0M2180 343h0M2730 412h0M2559 649h0M1805 529h0M2066 579h0M2278 776h0M2314 367h0M2007 552h0M2482 725h0M2272 769h0M2227 734h0M1920 342h0M2310 752h0M2124 461h0M2684 631h0M2440 522h0M2169 930h0M2517 232h0M1954 487h0M2524 624h0M2043 879h0M2057 551h0M2097 862h0M2551 424h0M2703 569h0M2463 565h0M2105 580h0M1859 315h0M2621 281h0M2429 382h0M2041 424h0M2511 566h0M2175 529h0M2325 408h0M2352 625h0M2109 486h0M2073 402h0M1816 488h0M2042 897h0M2085 784h0M2037 640h0M2372 749h0M1908 824h0M1990 597h0M1824 578h0M1901 810h0M1978 377h0M2584 494h0M2269 646h0M2100 358h0M2435 760h0M2767 450h0M2037 467h0M2049 955h0M2562 345h0M2132 492h0M2146 552h0M1963 557h0M2415 264h0M2258 650h0M1764 571h0M2477 640h0M2268 704h0M2187 936h0M1975 509h0M2146 482h0M2714 555h0M2110 874h0M1863 503h0M2277 509h0M2355 511h0M2617 478h0M2612 348h0M2072 467h0M2684 451h0M2030 649h0M2237 864h0M2601 548h0M2406 530h0M2402 273h0M1936 413h0M2153 972h0M1838 487h0M2364 589h0M2752 563h0M2044 795h0M2458 500h0M2062 572h0M2306 789h0M1875 539h0M2666 467h0M2558 609h0M2325 312h0M2107 771h0M2823 557h0M2232 494h0M1783 483h0M2202 596h0M2234 523h0M1904 789h0M2086 929h0M2120 406h0M2266 807h0M2814 553h0M2139 840h0M2387 583h0M1998 922h0M1894 366h0M2428 565h0M2178 415h0M2030 626h0M2194 512h0M2127 515h0M2049 965h0M1890 703h0M1898 508h0M1779 534h0M2005 486h0M2429 377h0M2530 581h0M1918 376h0M1770 589h0M2455 770h0M1779 549h0M2164 455h0M2436 567h0M2114 361h0M2152 379h0M2296 753h0M2174 949h0M2198 528h0M2595 323h0M1874 457h0M1812 518h0M2489 425h0M2165 415h0M2160 675h0M1988 535h0M2104 614h0M2325 692h0M2132 369h0M2691 524h0M2042 601h0M1837 464h0M2797 378h0M2161 833h0M1978 404h0M2093 554h0M2170 523h0M2053 621h0M1816 621h0M2829 564h0M2081 354h0M2102 960h0M2376 654h0M2662 318h0M2654 636h0M1860 555h0M1999 830h0M2097 485h0M2686 674h0M1954 528h0M2557 570h0M1922 503h0M1994 576h0M1827 557h0M1982 483h0M2262 430h0M2321 655h0M1939 844h0M2707 565h0M2164 498h0M2052 480h0M2279 552h0M1946 516h0M2458 582h0M2553 699h0M2184 954h0M2125 978h0M2017 970h0M1961 422h0M2499 317h0M2642 571h0M2070 575h0M2011 388h0M2100 446h0M2571 719h0M1972 334h0M2199 838h0M2693 563h0M1967 540h0M2656 500h0M1809 473h0M2223 632h0M2439 643h0M2018 498h0M2135 424h0M2315 432h0M2257 597h0M1867 334h0M2354 778h0M2181 591h0M2083 729h0M2460 766h0M2676 497h0M2706 697h0M2334 597h0M2767 522h0M2173 413h0M1891 408h0M2324 658h0M2227 899h0M2032 353h0M2648 560h0M2101 579h0M1998 414h0M2358 335h0M2593 522h0M2143 934h0M2177 882h0M1768 488h0M2179 572h0M1946 450h0M2103 474h0M2057 324h0M2627 476h0M2386 628h0M2711 512h0M2501 476h0M2580 594h0M1883 354h0M2392 661h0M2596 614h0M2413 742h0M2009 848h0M2067 343h0M1988 585h0M2618 759h0M2275 583h0M1796 400h0M2616 432h0M1799 420h0M2100 787h0M1960 343h0M1856 583h0M2160 900h0M2744 627h0M2099 892h0M2409 294h0M2426 378h0M2261 836h0M2228 424h0M2173 389h0M2127 761h0M1774 609h0M1985 456h0M1919 780h0M2045 474h0M2821 589h0M2017 402h0M2103 583h0M2113 603h0M2483 382h0M1807 522h0M1972 857h0M2073 642h0M2554 334h0M2338 673h0M2573 518h0M1816 413h0M2632 341h0M2197 867h0M2258 874h0M2044 965h0M2245 760h0M2689 487h0M2023 954h0M1845 365h0M2214 497h0M1916 893h0M2205 739h0M2112 978h0M1943 450h0M2374 618h0M1887 602h0M2056 843h0M1987 917h0M2049 603h0M2316 577h0M2061 328h0M2279 725h0M2116 812h0M2573 280h0M1953 432h0M1948 439h0M1784 600h0M1901 482h0M1925 493h0M2604 570h0M1846 613h0M1821 395h0M1935 316h0M2184 358h0M1898 443h0M2286 858h0M2422 248h0M2076 755h0M1959 490h0M2315 312h0M1986 906h0M1874 639h0M2566 416h0M2643 679h0M1985 403h0M1789 412h0M2513 579h0M2228 752h0M1796 639h0M2027 353h0M1885 427h0M2624 565h0M1972 503h0M2250 777h0M2501 270h0M1767 427h0M2530 280h0M2673 262h0M2815 531h0M1943 407h0M2055 656h0M1981 425h0M2375 706h0M1797 463h0M2144 633h0M1862 711h0M2723 577h0M1871 621h0M1809 561h0M1865 656h0M2520 655h0M2131 477h0M2028 930h0M2482 543h0M2052 448h0M2438 666h0M2048 593h0M1803 406h0M2548 747h0M2198 457h0M2364 688h0M2081 399h0M2109 983h0M2361 533h0M1972 494h0M2241 378h0M1762 542h0M2197 710h0M2155 831h0M2347 559h0M2151 621h0M2357 613h0M1852 403h0M2148 845h0M1858 389h0M1766 496h0M2032 595h0M2104 757h0M1916 516h0M2334 474h0M1995 895h0M1912 487h0M2227 814h0M2421 591h0M2786 529h0M2122 316h0M2204 457h0M2184 857h0M2167 331h0M1913 521h0M1974 395h0M2235 799h0M2458 736h0M2080 434h0M1926 371h0M2545 454h0M1990 913h0M1960 840h0M2466 609h0M1803 464h0M1888 444h0M1869 358h0M2073 349h0M2650 491h0M2500 290h0M2702 554h0M2376 695h0M2569 487h0M2611 675h0M2751 363h0M1912 785h0M2126 563h0M2595 590h0M2168 704h0M2331 749h0M1995 541h0M2048 616h0M2045 335h0M2760 294h0M2337 735h0M2139 419h0M2800 342h0M1941 546h0M1836 428h0M2078 358h0M1838 549h0M1887 624h0M2738 634h0M1942 861h0M2752 559h0M2153 911h0M2295 492h0M1951 325h0M1793 452h0M1919 760h0M2458 515h0M1782 620h0M2535 446h0M2453 305h0M2241 868h0M2272 517h0M2531 307h0M2423 283h0M2384 306h0M2220 819h0M2029 407h0M1838 457h0M2242 727h0M2774 524h0M2698 667h0M2446 401h0M2129 897h0M2685 553h0M2289 483h0M2398 704h0M2174 517h0M2534 575h0M2633 667h0M2325 522h0M2061 778h0M2503 651h0M1942 402h0M2204 809h0M2440 238h0M1824 442h0M2268 845h0M1958 383h0M2343 688h0M2713 279h0M2670 669h0M2184 672h0M2321 572h0M2248 511h0M2751 498h0M2503 359h0M1949 812h0M2408 383h0M1879 764h0M2037 862h0M2152 521h0M2398 651h0M2340 595h0M2360 661h0M2690 655h0M2370 710h0M2544 630h0M1958 397h0M1767 560h0M2189 408h0M1806 384h0M1971 952h0M2202 819h0M2385 274h0M1980 930h0M2261 565h0M2258 632h0M2137 412h0M1969 559h0M1827 370h0M1822 403h0M1800 566h0M2033 910h0M2169 358h0M1758 492h0M1802 559h0M2489 232h0M2053 560h0M2692 367h0M2260 721h0M2129 493h0M2518 252h0M2401 313h0M2076 933h0M2582 311h0M2091 502h0M2512 700h0M2009 888h0M1858 608h0M2363 777h0M2422 313h0M1768 470h0M2017 427h0M2626 597h0M1859 543h0M1888 783h0M1846 445h0M1837 472h0M2149 869h0M2300 339h0M1861 639h0M2429 238h0M2395 293h0M2117 876h0M2168 504h0M2142 479h0M2164 625h0M2129 782h0M2107 730h0M2296 518h0M2594 291h0M2541 287h0M1816 339h0M2530 548h0M2459 282h0M2589 408h0M2206 911h0M2734 409h0M2633 682h0M2797 349h0M2310 482h0M2206 735h0M2272 686h0M2007 880h0M1888 555h0M2783 476h0M2395 318h0M2453 751h0M2149 452h0M2237 564h0M2266 884h0M2496 412h0M1818 625h0M2228 449h0M2527 612h0M2221 499h0M2175 498h0M2024 552h0M2271 775h0M1771 616h0M2086 881h0M2672 384h0M2276 730h0M1866 668h0M2048 582h0M2777 615h0M1938 866h0M2628 716h0M1999 418h0M2438 270h0M2667 515h0M2080 746h0M2585 328h0M2124 488h0M2206 443h0M2448 651h0M2241 747h0M2474 546h0M2020 567h0M2489 257h0M2668 445h0M2089 390h0M2144 585h0M2348 328h0M1919 747h0M2455 630h0M2745 488h0M2375 753h0M2016 608h0M2549 446h0M2128 639h0M1993 348h0M2240 383h0M2136 934h0M1996 934h0M2416 594h0M2415 484h0M2618 606h0M2141 445h0M2665 263h0M2748 621h0M2231 918h0M2174 711h0M1784 445h0M2614 719h0M2685 336h0M2140 456h0M1800 483h0M2076 528h0M2603 373h0M1888 579h0M2562 425h0M2230 906h0M2615 517h0M1880 685h0M2551 401h0M2173 630h0M2578 402h0M2038 342h0M2291 644h0M2164 891h0M1968 480h0M2682 457h0M1844 424h0M1834 466h0M1908 457h0M2622 461h0M2288 638h0M2192 887h0M1908 846h0M2140 624h0M2285 765h0M2156 335h0M2535 691h0M2544 681h0M2484 603h0M2073 834h0M2663 632h0M2002 887h0M1794 572h0M1981 407h0M1849 451h0M2616 625h0M1882 771h0M2081 438h0M1841 567h0M1927 838h0M2100 408h0M2296 403h0M2440 582h0M1972 466h0M2087 638h0M1826 395h0M2396 460h0M2558 329h0M2388 499h0M2491 770h0M1908 728h0M2236 499h0M2251 450h0M2356 498h0M2553 272h0M2488 269h0M2314 442h0M2435 543h0M2067 569h0M2692 614h0M2396 510h0M2235 634h0M2396 258h0M2146 733h0M2402 328h0M2095 921h0M2657 587h0M2269 734h0M2537 522h0M2009 604h0M2271 670h0M2710 292h0M2093 650h0M2462 480h0M1911 420h0M2668 590h0M1897 468h0M2263 596h0M2278 451h0M2303 652h0M2655 415h0M2184 927h0M2297 329h0M2467 230h0M2094 927h0M2374 676h0M1884 413h0M1946 810h0M1904 687h0M2094 389h0M1928 512h0M2369 731h0M1878 376h0M2453 740h0M2216 412h0M2339 505h0M2252 673h0M2527 347h0M2454 488h0M2031 933h0M1893 583h0M2167 711h0M1988 477h0M2223 588h0M2145 342h0M2495 716h0M2490 552h0M1903 746h0M1924 482h0M2395 524h0M2436 600h0M2212 704h0M2615 699h0M2033 581h0M2190 917h0M2317 686h0M2188 862h0M1987 842h0M2715 698h0M2649 609h0M2274 761h0M2792 406h0M2237 719h0M1849 391h0M1778 515h0M2520 295h0M2193 366h0M2705 593h0M2480 511h0M2084 905h0M2178 933h0M2231 529h0M2367 765h0M2408 324h0M1756 554h0M1889 323h0M2076 560h0M2342 355h0M2357 527h0M2433 371h0M2818 539h0M1786 425h0M2724 554h0M2631 313h0M2261 542h0M2383 670h0M2146 595h0M2494 764h0M2478 264h0M2163 654h0M2410 670h0M2306 524h0M1937 940h0M2322 430h0M2550 318h0M2476 275h0M2198 633h0M2021 458h0M1831 553h0M2672 455h0M2392 299h0M2579 572h0M1943 937h0M1806 620h0M2115 941h0M2487 413h0M2222 852h0M2406 251h0M1897 474h0M2191 749h0M2689 452h0M1984 558h0M1831 634h0M1873 419h0M2332 540h0M1894 650h0M2547 419h0M2656 570h0M1841 560h0M2529 424h0M2677 330h0M2058 438h0M2446 464h0M2210 384h0M2699 679h0M2542 505h0M2384 697h0M2563 666h0M2159 679h0M2282 500h0M2220 439h0M2564 327h0M2264 548h0M2758 636h0M2217 591h0M2790 413h0M2481 595h0M1989 896h0M1996 359h0M1958 591h0M2438 256h0M2139 612h0M1875 468h0M1795 476h0M2478 654h0M2728 457h0M2514 381h0M2555 454h0M2289 830h0M2739 536h0M2157 709h0M2127 662h0M2034 377h0M2358 772h0M2093 561h0M2546 590h0M2432 440h0M2599 728h0M2545 743h0M2045 973h0M2117 340h0M2551 731h0M2030 382h0M2454 579h0M2584 540h0M2707 713h0M2640 747h0M2471 323h0M2493 487h0M2044 456h0M2394 334h0M1878 353h0M1801 608h0M2052 901h0M2241 668h0M2416 706h0M2028 945h0M2117 536h0M2695 660h0M1918 467h0M1844 343h0M2305 595h0M2517 619h0M1987 954h0M2377 554h0M2280 869h0M2607 427h0M2078 443h0M1944 455h0M2293 746h0M2126 410h0M2415 566h0M2317 597h0M2359 285h0M2267 599h0M1894 764h0M2359 603h0M2149 564h0M2282 443h0M2213 788h0M2085 529h0M1944 442h0M1855 700h0M2377 313h0M2052 420h0M2600 523h0M2424 679h0M2419 761h0M2360 695h0M2095 499h0M2229 874h0M2616 470h0M1832 481h0M2033 343h0M2080 560h0M2190 708h0M2289 760h0M1950 582h0M2576 672h0M2783 342h0M2092 384h0M2338 718h0M1957 407h0M2541 509h0M2148 781h0M1839 591h0M2027 365h0M1944 832h0M2181 613h0M2321 458h0M2198 602h0M2254 607h0M2017 371h0M1789 485h0M2607 291h0M2072 930h0M2228 497h0M2423 444h0M2394 590h0M2243 824h0M2226 614h0M2476 445h0M2104 400h0M2090 874h0M1886 668h0M2008 431h0M2090 509h0M2052 974h0M2461 246h0M2714 360h0M1863 616h0M2500 370h0M2383 779h0M2095 741h0M1881 795h0M2519 337h0M2723 565h0M2321 699h0M2800 473h0M1914 791h0M2343 515h0M2251 728h0M2332 730h0M2107 868h0M1880 579h0M2181 478h0M2548 578h0M2125 727h0M2574 263h0M2238 660h0M2316 541h0M1929 311h0M1964 816h0M2635 328h0M1980 458h0M1818 504h0M2601 467h0M2641 718h0M1891 484h0M2783 407h0M1997 960h0M2585 535h0M2395 747h0M1898 535h0M2021 941h0M2229 802h0M2332 414h0M2033 367h0M2316 724h0M1854 457h0M2542 330h0M2501 742h0M2364 542h0M1791 420h0M1818 565h0M2360 666h0M2730 316h0M1872 363h0M2049 939h0M1909 651h0M2429 358h0M2699 372h0M2346 612h0M2137 815h0M2366 286h0M1971 433h0M1852 567h0M2070 359h0M2136 594h0M2293 837h0M2815 583h0M2200 766h0M2097 523h0M2471 567h0M2134 977h0M2661 468h0M2498 236h0M2196 442h0M2545 432h0M2097 875h0M1954 437h0M2133 711h0M2459 646h0M1782 612h0M2124 583h0M1814 351h0M2093 867h0M2076 510h0M2775 535h0M2625 748h0M2101 376h0M2320 474h0M2448 370h0M2494 572h0M2479 313h0M2482 533h0M2247 529h0M2347 537h0M2498 770h0M2048 630h0M2101 716h0M2036 337h0M2202 651h0M1890 345h0M1797 371h0M2408 585h0M2724 379h0M2177 358h0M2200 608h0M2445 755h0M1822 499h0M2007 331h0M2166 632h0M2581 625h0M2082 305h0M2495 609h0M2104 852h0M1964 553h0M1908 369h0M1968 449h0M2466 415h0M2360 329h0M1813 527h0M1995 606h0M2255 814h0M2413 397h0M2441 288h0M2550 521h0M1831 579h0M2703 341h0M2814 524h0M1750 552h0M2428 287h0M1992 565h0M2158 739h0M2355 341h0M2230 540h0M2171 942h0M2386 782h0M2231 456h0M2072 870h0M2528 328h0M2297 545h0M2819 567h0M2425 391h0M2561 383h0M2670 535h0M1901 527h0M1992 456h0M1984 415h0M1947 529h0M2345 512h0M2239 370h0M2373 492h0M2336 446h0M2292 463h0M2198 491h0M1974 457h0M2797 570h0M2135 591h0M1797 394h0M1851 439h0M2217 456h0M2117 608h0M2486 462h0M2650 347h0M1917 902h0M2237 392h0M2155 879h0M2033 642h0M2579 280h0M2001 506h0M2513 335h0M2252 481h0M2268 342h0M2461 227h0M2021 431h0M2597 458h0M1909 735h0M1866 627h0M2431 293h0M2315 369h0M1986 601h0M2317 554h0M1829 657h0M2036 870h0M1941 317h0M2555 588h0M2536 450h0M2069 426h0M1807 498h0M2161 969h0M2125 959h0M2244 553h0M2455 613h0M2048 801h0M2006 597h0M1836 509h0M2458 601h0M2370 275h0M2335 551h0M1821 479h0M1996 559h0M2608 440h0M1904 509h0M2496 298h0M2774 558h0M2438 351h0M2042 954h0M1986 542h0M2433 781h0M2156 592h0M2098 462h0M2489 278h0M2042 407h0M2600 366h0M2056 345h0M1989 360h0M2115 461h0M2159 488h0M2098 553h0M2460 231h0M2382 509h0M2505 370h0M2009 492h0M2489 363h0M1886 681h0M2395 685h0M2242 780h0M2626 625h0M2658 463h0M1982 450h0M2208 437h0M2548 725h0M2189 827h0M2268 761h0M1823 485h0M2109 973h0M2105 554h0M2399 482h0M2605 311h0M2171 334h0M2485 313h0M2114 457h0M2578 328h0M2012 415h0M2438 426h0M2202 552h0M2725 485h0M2225 515h0M1936 334h0M2455 249h0M2206 825h0M2545 529h0M1872 318h0M2632 347h0M1824 452h0M2449 250h0M1953 491h0M2430 327h0M2356 455h0M2591 353h0M2128 456h0M2531 349h0M2213 388h0M2008 515h0M1943 476h0M2158 537h0M2107 954h0M2756 369h0M1991 621h0M1921 415h0M1912 431h0M1852 624h0M2191 361h0M2514 328h0M2215 682h0M2393 518h0M1985 470h0M2537 508h0M2501 656h0M2801 564h0M1811 394h0M2343 394h0M2274 798h0M1837 339h0M2181 838h0M2331 450h0M2276 336h0M1988 867h0M1876 657h0M2532 748h0M2069 409h0M2034 821h0M2737 304h0M2685 506h0M2448 358h0M2113 539h0M2626 752h0M1964 572h0M2488 317h0M2154 943h0M1802 547h0M2774 498h0M2263 363h0M2377 737h0M2036 554h0M2176 626h0M2743 552h0M2598 315h0M1880 729h0M1960 497h0M1915 377h0M2376 681h0M2141 942h0M2502 488h0M2522 754h0M2197 943h0M2446 295h0M2689 329h0M2738 363h0M2138 921h0M2178 856h0M2446 256h0M2218 639h0M2027 560h0M2071 951h0M2493 230h0M2316 349h0M2351 395h0M2061 414h0M2223 535h0M1827 342h0M2319 731h0M1984 885h0M2194 535h0M1915 335h0M2236 692h0M2520 467h0M2181 846h0M2351 323h0M2543 319h0M2067 330h0M2630 397h0M2001 539h0M2213 715h0M2088 583h0M2581 456h0M2447 302h0M1975 610h0M2738 571h0M1769 432h0M2039 618h0M2776 506h0M2814 589h0M2486 491h0M2478 457h0M2528 288h0M2593 583h0M2506 401h0M2192 687h0M2741 312h0M1955 924h0M2258 691h0M1990 424h0M2373 460h0M2440 400h0M2196 917h0M1961 323h0M2692 603h0M2782 427h0M1923 381h0M2422 595h0M2242 486h0M2082 585h0M2440 658h0M2142 664h0M2326 703h0M2113 434h0M2010 426h0M1940 493h0M1780 428h0M1841 513h0M2253 590h0M1916 529h0M1929 881h0M2506 233h0M2479 234h0M1984 958h0M2588 311h0M2178 461h0M2433 278h0M1901 822h0M2427 736h0M2118 549h0M1964 389h0M2108 946h0M2502 766h0M2134 674h0M2340 498h0M2062 493h0M2714 470h0M2437 631h0M1759 486h0M2628 609h0M2041 432h0M2105 711h0M2276 693h0M1846 345h0M2186 800h0M2583 634h0M1868 445h0M2723 677h0M2596 553h0M2286 530h0M2192 438h0M2466 255h0M2261 620h0M2413 352h0M1803 507h0M1799 577h0M2214 522h0M2798 457h0M2087 419h0M1949 367h0M2177 403h0M2132 697h0M2096 595h0M1894 614h0M2476 502h0M2724 585h0M2679 448h0M1940 421h0M2525 371h0M2467 403h0M1849 655h0M2739 282h0M2493 729h0M2640 743h0M1958 565h0M2007 347h0M1829 618h0M2153 936h0M2263 425h0M2725 451h0M2134 928h0M2285 509h0M1871 387h0M2193 391h0M2382 485h0M1788 500h0M2226 770h0M2481 561h0M2008 579h0M2514 676h0M2394 491h0M2657 384h0M2379 297h0M1977 327h0M1870 734h0M2475 539h0M2192 704h0M2154 419h0M1846 651h0M2153 537h0M1778 454h0M2034 486h0M2739 427h0M2034 395h0M2212 880h0M2460 739h0M1908 334h0M2160 383h0M1961 469h0M1988 531h0M1884 601h0M2094 607h0M2718 656h0M2106 311h0M2646 723h0M2268 530h0M2178 802h0M2161 952h0M2185 618h0M2790 455h0M2336 325h0M2755 400h0M2545 676h0M2124 680h0M1828 376h0M2013 469h0M2419 407h0M2148 797h0M2009 564h0M2123 873h0M2240 884h0M2030 476h0M2368 291h0M2744 418h0M2309 613h0M2553 395h0M2035 929h0M2210 443h0M2141 469h0M2503 306h0M2058 335h0M1982 589h0M2608 643h0M2398 323h0M2037 458h0M2311 316h0M1925 500h0M2160 446h0M2254 679h0M2437 723h0M2237 404h0M1976 315h0M2225 381h0M1873 436h0M2561 700h0M2025 473h0M2020 591h0M2441 554h0M2383 767h0M2491 432h0M2469 333h0M2579 582h0M2216 809h0M2398 695h0M2098 831h0M2645 433h0M2755 600h0M1891 677h0M2666 396h0M2268 555h0M2702 639h0M2575 700h0M2587 304h0M2428 578h0M1885 327h0M1864 351h0M2391 637h0M2181 667h0M1863 487h0M1859 476h0M2089 609h0M2693 628h0M2010 438h0M2040 597h0M2004 573h0M2790 554h0M1825 612h0M1877 311h0M2146 334h0M2387 293h0M1964 852h0M2295 806h0M2215 935h0M2202 727h0M2697 654h0M1823 620h0M2114 809h0M2304 640h0M2397 622h0M2229 620h0M2443 268h0M2258 409h0M2479 385h0M1760 523h0M2536 548h0M2062 424h0M2214 888h0M2442 313h0M2787 571h0M1762 528h0M2640 656h0M2086 578h0M2711 499h0M1891 594h0M2464 381h0M2248 607h0M1894 339h0M2129 833h0M2510 645h0M2545 536h0M2181 530h0M2475 336h0M1925 770h0M2061 861h0M2071 554h0M2238 758h0M2606 389h0M1898 845h0M1803 541h0M2544 255h0M1922 898h0M2585 319h0M2235 608h0M2129 669h0M2280 359h0M2570 632h0M2252 698h0M2094 533h0M2086 666h0M2419 349h0M1831 487h0M2138 716h0M1978 323h0" stroke="#d3d3d3"/><path d="M2631 626h0M2247 676h0M2398 734h0M2553 733h0M2571 464h0M2426 721h0M2729 311h0M2261 808h0M2482 727h0M1786 493h0M2332 460h0M2041 563h0M2797 427h0M2705 680h0M2133 809h0M2494 694h0M2713 613h0M2703 349h0M2781 451h0M2714 430h0M2661 343h0M2065 870h0M2224 481h0M2700 600h0M2268 883h0M2517 668h0M2189 446h0M2451 389h0M2660 426h0M2286 837h0M2475 748h0M2428 421h0M2508 561h0M2575 409h0M2594 577h0M2382 545h0M2768 549h0M2254 458h0M2562 679h0M2668 565h0M2087 885h0M2535 709h0M2776 541h0M2418 728h0M2679 420h0M2699 286h0M2084 807h0M2088 899h0M2695 416h0M2209 426h0M2237 476h0M2162 408h0M2201 885h0M2552 754h0M2305 545h0M2460 633h0M2269 493h0M2175 745h0M2560 723h0M2815 515h0M2626 377h0M2728 604h0M2492 612h0M2173 367h0M2201 705h0M1842 669h0" stroke="#ae96ea"/><path d="M2587 519h0M2143 674h0M2298 679h0M2244 679h0M1889 652h0M2612 753h0M2059 402h0M2732 547h0M2781 353h0M2487 574h0M2205 625h0M2624 481h0M2793 543h0M2227 664h0M2050 495h0M2027 816h0M2187 789h0M1969 936h0M2385 602h0M2560 711h0M2602 434h0M2666 333h0M2741 595h0M2794 530h0M2146 451h0M2443 652h0M1918 353h0M2075 619h0M2310 757h0M2075 315h0M1775 528h0M2611 742h0M1951 919h0M2347 593h0M2433 466h0M2578 439h0M2467 695h0M2731 669h0M2595 385h0M2628 366h0M2562 433h0M2601 436h0M1949 427h0M2751 354h0M2758 575h0M2120 588h0M2355 752h0M2657 691h0M2650 406h0M2437 711h0M2364 770h0M2637 467h0M2143 321h0M2621 413h0M2121 797h0M2257 800h0M2115 499h0M2616 675h0M2080 382h0M2657 673h0M2759 365h0M1785 552h0M2556 660h0M2646 589h0M1974 582h0M2627 293h0M2023 594h0M2661 690h0M2686 640h0M2590 736h0M2313 679h0M2751 475h0M2108 457h0M2622 310h0M2674 527h0M2658 276h0M2509 436h0M2689 357h0M2587 509h0M2720 661h0M2563 643h0M2010 833h0M2649 354h0M2206 431h0M2674 390h0M2429 664h0M2765 543h0M2651 309h0M2765 421h0M2016 479h0M2420 724h0M2264 680h0M2464 513h0M2667 551h0M2701 300h0M2590 500h0M2062 885h0M2529 522h0M2446 655h0M1822 583h0M2499 546h0M2299 715h0M2586 585h0M1891 730h0M2629 585h0M1805 515h0M1813 565h0M2076 450h0M2721 393h0M2740 499h0M2262 777h0M2555 432h0" stroke="#a486ef"/><path d="M2651 649h0M2111 736h0M2695 498h0M2799 421h0M2482 375h0M2230 721h0M2384 552h0M2594 410h0M2455 628h0M2722 648h0M2760 618h0M2507 602h0M2185 766h0M2205 832h0M2261 607h0M2545 654h0M2204 870h0M2617 652h0M2209 886h0M2741 542h0M2009 619h0M2235 379h0M2637 609h0M2771 602h0M2035 349h0M2772 543h0M2730 391h0M2449 527h0M2474 705h0M2714 481h0M2676 644h0M2758 572h0M2764 361h0M2243 415h0M2704 464h0M2712 352h0M2643 604h0M2202 668h0M2611 747h0M2465 499h0M2632 457h0M2750 615h0M2698 618h0M2475 575h0M2576 493h0M2640 607h0M2503 510h0M2783 545h0M2659 698h0M2748 334h0M2064 587h0M2693 529h0M2545 661h0M2796 582h0M2715 397h0M2592 619h0M2080 765h0M2189 370h0M2247 560h0M2205 917h0M1947 796h0M2722 360h0M2183 383h0M2711 402h0M2164 897h0M2252 395h0M2700 693h0M2113 833h0M2223 911h0M2103 873h0M2785 515h0M1794 376h0M2754 414h0M2448 663h0M2033 874h0M2314 569h0M1824 365h0M2163 421h0M2507 679h0M2247 770h0M2516 655h0M2449 554h0M2672 451h0M2702 383h0M2696 651h0M2189 457h0M2583 717h0M2615 540h0M2748 631h0M2773 389h0M2440 392h0M2040 487h0M2706 281h0M2664 270h0M2617 333h0M2670 340h0M2178 703h0M2623 603h0M2737 458h0M2047 872h0M2639 347h0M2287 627h0M2073 777h0M2471 642h0M2678 313h0M2223 626h0M2635 655h0M2545 558h0M2352 724h0M2760 403h0M2177 834h0M2521 463h0M2103 815h0M2493 630h0M2114 627h0M2327 715h0M2050 809h0M2012 509h0M2402 449h0M2594 512h0M2684 597h0M2793 383h0M2471 664h0M2710 331h0M2055 662h0M2656 439h0M2726 411h0M2266 543h0M2639 312h0M2596 420h0M2645 528h0M2521 499h0M2677 339h0M2683 534h0M2629 485h0M2566 387h0M2658 506h0M2338 722h0M2775 546h0M2170 385h0M2153 657h0M2684 379h0M2097 934h0M2644 662h0M2217 600h0M1849 541h0M2780 583h0M2472 464h0M2557 598h0M1957 948h0M2465 664h0M2053 792h0M2064 466h0M2688 531h0M2409 601h0M2436 395h0M2520 547h0M2414 723h0M2411 535h0M2619 596h0M2461 602h0M2671 482h0M2258 528h0M2675 319h0M2711 642h0M2177 873h0M1943 912h0M2286 705h0M2651 482h0M2797 391h0M2745 334h0M2251 903h0M2766 310h0M2685 426h0M2196 543h0M2787 475h0M2719 645h0M2512 616h0M2569 677h0M2067 484h0M2384 734h0M2586 366h0M2002 372h0M2236 763h0M2695 398h0M2450 451h0M2730 384h0M2220 451h0M2374 757h0M2669 280h0M1779 476h0M2435 625h0M1876 710h0M1892 547h0M2736 660h0M2601 376h0M2175 773h0M2124 715h0M2468 621h0M2562 576h0M2671 579h0M2297 801h0M2566 348h0M2100 818h0M2143 510h0M2214 535h0M2563 509h0M2149 799h0M2657 348h0M2642 585h0M2748 461h0M2095 730h0M2426 488h0M2766 560h0M2325 460h0M2658 657h0M2470 408h0M2142 685h0M2228 535h0M2499 734h0M2321 764h0M2732 487h0M2386 579h0M2039 752h0M2517 379h0M2350 482h0M2636 483h0M2439 558h0M2725 525h0M2086 348h0M2749 384h0M2460 426h0M2222 802h0M2632 588h0M2566 431h0" stroke="#9b77f4"/><path d="M2664 662h0M2570 446h0M2734 354h0M2048 383h0M2660 297h0M2716 384h0M2102 864h0M2077 375h0M2176 891h0M1797 516h0M2715 673h0M2630 549h0M2780 367h0M2254 640h0M2185 371h0M2613 693h0M2584 706h0M1929 525h0M2479 366h0M2734 500h0M2301 698h0M2013 874h0M2584 710h0M2534 703h0M2665 358h0M2769 346h0M2290 779h0M2436 572h0M2171 533h0M2104 533h0M2601 709h0M2051 880h0M2543 488h0M2491 361h0M2686 346h0M2250 706h0M2575 470h0M2502 391h0M2588 531h0M2573 636h0M2771 590h0M1918 858h0M2172 924h0M2697 594h0M2037 953h0M2181 810h0M2560 456h0M2237 850h0M2680 616h0M2478 650h0M2297 703h0M2136 523h0M2428 760h0M2617 360h0M2136 832h0M2459 379h0M2513 486h0M2763 347h0M1904 440h0M2633 451h0M2025 863h0M2044 539h0M2587 391h0M2732 379h0M2314 778h0M2081 606h0M1890 516h0M2622 371h0M2518 639h0M2201 742h0M2146 928h0M2222 594h0M2682 273h0M2482 433h0M2178 921h0M2151 947h0M2140 586h0M2275 748h0M2574 454h0M2599 666h0M2188 608h0M2660 434h0M2122 919h0M2660 585h0M1860 481h0M2108 445h0M2269 426h0M2752 310h0M2696 403h0M2548 649h0M2686 585h0M2040 316h0M2765 507h0M2473 487h0M2000 846h0M2762 528h0M2480 464h0M2761 318h0M1822 656h0M2671 444h0M2541 351h0M2573 401h0M2675 590h0M1832 589h0M2655 610h0M2178 791h0M2605 668h0M2634 511h0M2678 445h0M2665 610h0M2697 449h0M2529 678h0M2664 571h0M2503 519h0M2608 494h0M2428 781h0M2098 504h0M2535 376h0M2551 634h0M2622 753h0M2544 706h0M1751 537h0M2304 682h0M2672 324h0M2431 658h0M2761 449h0M2536 440h0M2571 472h0M2783 541h0M2036 915h0M2506 619h0M2461 515h0M2218 856h0M2465 724h0M2757 539h0M2636 570h0M2269 561h0M2730 612h0M2651 276h0M2080 743h0M2497 539h0M2778 468h0M2421 505h0M2594 347h0M2798 492h0M2611 457h0M2086 342h0M2524 636h0M2120 698h0M2665 284h0M2050 845h0M1817 650h0M2299 537h0M1850 609h0M2740 646h0M2336 469h0M2772 596h0M2721 382h0M2463 394h0M2098 673h0M2161 481h0M2650 270h0M2696 317h0M1783 579h0M1779 541h0M2581 564h0M1973 577h0M2742 443h0M2440 486h0M2752 394h0M2706 541h0M2397 728h0M2521 476h0M2226 553h0M2340 777h0M1903 384h0M2318 583h0M2633 305h0M2493 596h0M2207 812h0M2687 481h0M2289 467h0M2723 370h0M2368 280h0M2265 668h0M2333 715h0M2077 565h0M2217 785h0M2360 704h0M2496 712h0M2454 561h0M2055 385h0M2447 421h0M2535 493h0M2142 378h0M2217 517h0M2274 674h0M2599 389h0M2129 619h0M1874 592h0M2607 354h0M2528 463h0M2748 452h0M2670 485h0M2533 625h0M2736 565h0M2496 686h0M2601 620h0M2738 552h0M2635 402h0M2804 389h0M2659 603h0M2544 621h0M2600 634h0M2227 648h0M2422 785h0M2575 652h0M2111 582h0M2584 449h0M1996 953h0M2703 498h0M2207 727h0M2603 397h0M2548 552h0M2011 861h0M2503 394h0M2456 506h0M2521 486h0M2158 802h0M2546 564h0" stroke="#9268f8"/><path d="M2800 452h0M2477 628h0M2500 457h0M2701 467h0M2649 691h0M2216 675h0M2072 940h0M2573 627h0M2181 504h0M2136 741h0M2700 476h0M2692 287h0M2769 418h0M2504 721h0M2213 863h0M2456 747h0M1810 409h0M2286 714h0M2672 503h0M2756 430h0M2648 730h0M2762 517h0M2085 735h0M1835 680h0M2704 644h0M1961 952h0M2744 402h0M2654 630h0M2093 808h0M2648 549h0M2650 700h0M2612 334h0M2547 734h0M1844 475h0M2594 452h0M2084 649h0M2749 466h0M2673 421h0M2227 691h0M2458 452h0M2671 378h0M2701 627h0M2785 432h0M2761 390h0M2643 552h0M2324 734h0M2089 971h0M2416 668h0M2635 367h0M2142 462h0M2088 573h0M2759 407h0M2561 396h0M1904 627h0M2744 354h0M2070 661h0M2011 522h0M2295 458h0M1799 571h0M2791 324h0M2598 560h0M2620 328h0M2285 851h0M2171 888h0M2633 491h0M2571 766h0M2444 645h0M2433 587h0M2587 564h0M2582 588h0M2170 699h0M2332 692h0M2233 820h0M2451 620h0M2531 385h0M2744 340h0M2616 372h0M2567 700h0M2065 615h0M2107 699h0M2538 372h0M2146 965h0M2034 524h0M2156 725h0M2738 655h0M2485 378h0M2454 565h0M2220 379h0M1939 381h0M2583 529h0M2594 728h0M2165 862h0M2388 685h0M2617 409h0M2604 734h0M2693 673h0M2684 331h0M2705 534h0M2561 406h0M2132 584h0M2327 740h0M2637 298h0M2146 670h0M2226 688h0M2490 385h0M2072 372h0M2790 486h0M2265 723h0M2259 446h0M2211 479h0M2708 357h0M2578 343h0M2703 578h0M2467 730h0M2521 743h0M2167 645h0M2524 533h0M2482 608h0M2725 364h0M2763 446h0M2699 306h0M2527 672h0M2546 760h0M2612 656h0M2193 633h0M2195 785h0M2793 559h0M2256 715h0M2509 573h0M2496 679h0M2603 527h0M2639 560h0M2584 685h0M2779 515h0M2486 742h0M2454 697h0M2063 560h0M2447 614h0M2677 666h0M2738 372h0M2503 620h0M2458 571h0M2628 400h0M2508 632h0M2712 658h0M2367 692h0M2179 827h0M2205 846h0M2586 343h0M2386 674h0M2657 560h0M2634 742h0M2499 643h0M2637 665h0M2610 310h0M2066 618h0M2617 528h0M2653 711h0M2631 677h0M1929 827h0M2420 688h0M2443 385h0M2147 358h0M2112 636h0M2429 322h0M2086 494h0" stroke="#8859fa"/><path d="M2115 554h0M2452 703h0M2629 511h0M2745 561h0M2570 466h0M1835 387h0M2588 576h0M2636 566h0M1841 323h0M1831 598h0M2450 603h0M2265 864h0M2549 618h0M2699 610h0M2443 450h0M2292 525h0M2227 705h0M2623 273h0M2725 535h0M1951 546h0M2497 602h0M2062 633h0M2195 771h0M2745 329h0M2665 345h0M2515 476h0M2487 633h0M2621 387h0M2419 672h0M2126 599h0M2178 354h0M2008 588h0M2702 439h0M2766 425h0M2473 476h0M2556 716h0M2693 347h0M2155 528h0M2218 757h0M2621 630h0M2149 753h0M2627 643h0M2747 415h0M2132 609h0M2038 389h0M2017 878h0M2384 566h0M1789 569h0M2782 317h0M2359 722h0M2591 680h0M2198 420h0M2117 645h0M1940 836h0M2436 472h0M2064 818h0M2661 704h0M2371 578h0M2101 530h0M2731 596h0M2697 342h0M2031 922h0M2637 288h0M2559 707h0M2675 634h0M2391 776h0M2780 493h0M2664 578h0M2633 661h0M2524 718h0M2664 440h0M2074 633h0M2750 590h0M2535 644h0M2218 724h0M1883 760h0M2432 426h0M2423 414h0M2569 753h0M2588 664h0M2610 542h0M2587 731h0M2382 462h0M2428 506h0M1874 612h0M1905 651h0M2280 506h0M2113 394h0M2270 622h0M2724 603h0M2703 424h0M1813 577h0M2247 418h0M2432 352h0M2094 985h0M2224 539h0M2419 560h0M2676 461h0M2656 666h0M2479 681h0M2438 450h0M2598 636h0M2109 404h0M2332 588h0M2073 594h0M2733 533h0M2566 740h0M2682 300h0M2423 394h0M2646 442h0M2473 561h0M2156 749h0M1958 892h0" stroke="#7e4afc"/><path d="M2577 729h0M2681 565h0M2489 699h0M2611 467h0M2149 739h0M2644 650h0M2622 640h0M2614 646h0M2579 609h0M2082 546h0M2619 317h0M2586 680h0M2683 680h0M2461 654h0M2518 518h0M2478 634h0M2613 341h0M2576 377h0M2685 280h0M2029 515h0M2622 588h0M2608 633h0M2104 367h0M2713 406h0M2576 397h0M2215 582h0M2591 754h0M1785 433h0M2168 421h0M2790 330h0M2186 521h0M2621 499h0M2716 543h0" stroke="#6f36fd"/><path d="M2685 315h0M2652 576h0" stroke="#5f23ff"/><path d="M1816 377h0M2431 512h0M2608 529h0M2581 642h0M2523 256h0M2777 336h0M1978 515h0M2573 418h0M2688 298h0M2442 600h0M2123 559h0M2761 352h0M2085 795h0M2191 479h0M2545 499h0M2660 396h0M1996 965h0M2517 272h0M2188 486h0M1872 693h0M1964 892h0M2303 794h0M2793 347h0M2275 483h0M2575 373h0M2755 335h0M2701 698h0M2517 770h0M2588 723h0M2147 663h0M2614 306h0M2114 324h0M2679 269h0M2741 638h0M2641 449h0M2632 631h0M2772 370h0M2802 537h0M2755 450h0M2770 407h0M2698 582h0M2286 463h0M2705 379h0M2654 376h0M2444 324h0M2501 413h0M2524 712h0M2671 663h0M2510 759h0M2713 668h0M2055 894h0M2437 312h0M2269 815h0M2323 515h0M2510 246h0M2112 468h0M2529 741h0M2596 543h0M2754 439h0M2101 451h0M2631 564h0M2726 303h0M2479 451h0M1888 542h0M2606 521h0M2648 343h0M2290 675h0M2321 664h0M2445 378h0M2764 397h0M2639 328h0M2716 516h0M2074 788h0M2188 558h0M2625 408h0M2664 432h0M2537 656h0M2248 533h0M2055 579h0" stroke="#3f11ff"/><path d="M2424 475h0M2628 391h0M2717 525h0M1997 450h0M2444 272h0M2786 421h0M2497 407h0M1893 450h0M1881 394h0M2543 668h0M2626 506h0M2435 688h0M1781 609h0M2511 276h0M1930 480h0M2626 693h0M2184 686h0M2206 589h0M2751 342h0M2234 480h0M2781 500h0M2187 706h0M2728 361h0M2035 563h0M2784 412h0M1905 366h0M2637 294h0M2426 305h0M2506 377h0M2062 922h0M2116 389h0M1884 646h0M2601 567h0M2256 705h0M2433 304h0M2060 642h0M2699 522h0M2406 297h0M2665 275h0" stroke="#1e00ff"/><path d="M2569 358h0M2636 323h0M2443 696h0M2556 377h0M1971 922h0M2579 488h0M2060 827h0M2136 353h0M2704 486h0M2622 351h0M2124 363h0M2568 492h0M2697 509h0M2729 676h0M2450 430h0M2675 540h0M2431 621h0M2381 715h0M1878 437h0M2696 267h0M2111 753h0M2590 626h0M2483 674h0M2642 303h0M2437 639h0M2720 668h0M2060 476h0M2503 559h0M2692 607h0M2028 880h0M2156 916h0M2020 600h0M2688 588h0M1905 844h0M2535 758h0M2078 843h0M2275 497h0M2391 782h0M2139 601h0M2646 639h0M2494 463h0M2690 691h0M2601 637h0M2321 396h0M2177 505h0M2083 615h0M2364 747h0M2783 483h0M2265 852h0M2132 430h0M2510 769h0M1986 390h0M2602 517h0M2468 455h0M2499 420h0M2405 716h0M2606 404h0M2568 384h0M2589 422h0M2797 444h0M2771 335h0M2716 414h0M2531 474h0M2630 361h0M2194 813h0M2266 577h0M2729 348h0M2114 515h0M2684 294h0M2374 771h0M2755 455h0M1967 942h0M2085 505h0" stroke="#ae96ea"/><path d="M2656 536h0M2520 688h0M2657 366h0M2469 650h0M2178 390h0M2490 592h0M2718 545h0M2115 731h0M2147 833h0M2776 413h0M2779 509h0M2119 723h0M2460 559h0M2122 376h0M2429 545h0M2019 474h0M2450 378h0M2128 462h0M2461 474h0M2631 699h0M2174 848h0M2093 846h0M2704 583h0M2710 582h0M2702 313h0M2220 703h0M1949 876h0M2741 286h0M2492 494h0M2405 667h0M2052 415h0M2532 600h0M2231 601h0M1912 516h0M2622 437h0M2538 472h0M2497 579h0M1887 632h0M2791 576h0M2667 391h0M2442 637h0M2117 767h0M2184 902h0M2737 611h0M2306 655h0M2767 464h0M2198 566h0M2224 464h0M2208 489h0M2638 432h0M2598 597h0M2136 422h0M2226 916h0M2059 904h0M2640 475h0M2683 669h0M2021 893h0M2771 395h0M2504 409h0M2465 469h0M2214 754h0M2166 764h0M2517 758h0M2577 536h0M1873 554h0M2748 510h0M2714 567h0M2453 585h0M2564 461h0M2647 699h0M2060 840h0M2544 609h0M1983 339h0M2592 706h0M2474 729h0M1887 758h0M2447 586h0M2155 348h0M2708 516h0M2714 325h0M2553 543h0M2006 443h0M2739 451h0M2701 491h0M2177 818h0M2496 440h0M2485 409h0M2718 513h0M2065 887h0M2036 942h0M2615 418h0M2053 316h0M2461 536h0M2781 524h0M2283 713h0M2317 491h0M2044 530h0M2587 379h0M2459 412h0M2685 467h0M2674 470h0M2178 584h0M2476 409h0M2647 388h0M2516 533h0M2563 661h0M2327 730h0M2034 836h0M2706 310h0M2292 824h0M2660 727h0M2709 444h0M2602 651h0M2246 442h0M2560 497h0M2242 694h0M2506 686h0M2457 381h0M1964 955h0M2769 377h0M2188 495h0M2741 342h0M2805 406h0" stroke="#a486ef"/><path d="M2423 776h0M2733 512h0M2433 408h0M2632 648h0M1964 416h0M2494 621h0M2631 385h0M2719 607h0M2543 425h0M2794 499h0M2818 570h0M2652 600h0M2773 579h0M2563 695h0M2376 472h0M2785 359h0M2506 566h0M2129 354h0M2413 470h0M1943 330h0M2464 446h0M2697 534h0M2227 403h0M1822 476h0M2699 592h0M2648 366h0M2509 424h0M2746 585h0M2662 280h0M2043 783h0M1794 583h0M2453 669h0M2251 625h0M2580 335h0M2654 449h0M2717 286h0M2686 431h0M2768 485h0M2450 547h0M2188 571h0M2514 515h0M2756 419h0M2625 385h0M2534 661h0M2320 464h0M2017 359h0M2684 403h0M2246 880h0M2678 380h0M2767 354h0M2778 383h0M2655 595h0M1776 494h0M2265 664h0M2623 686h0M1977 889h0M2643 503h0M2474 620h0M2562 559h0M2062 903h0M2734 578h0M2679 518h0M2530 355h0M2473 658h0M1947 867h0M2214 828h0M2580 524h0M2217 734h0M2225 806h0M2675 437h0M2053 848h0M2574 559h0M2267 713h0M2132 828h0M2199 924h0M2687 325h0M2559 728h0M2597 705h0M2729 373h0M2093 645h0M2724 594h0M2122 779h0M2486 566h0M2235 683h0M2605 724h0M2587 474h0M2207 937h0M2570 395h0M2433 667h0M2363 620h0M2552 603h0M2168 443h0M2566 533h0M2807 467h0M2067 804h0M2062 807h0M2725 669h0M2570 683h0M2785 383h0M2379 760h0M2528 515h0M2531 432h0M2693 498h0M1767 537h0M2625 395h0M2314 698h0M2069 820h0M2785 371h0M1894 806h0M2150 951h0M2135 361h0M2553 717h0M2556 625h0M2523 670h0M2529 570h0M2716 474h0M1923 359h0M2121 842h0M2283 698h0M2450 481h0M2084 371h0M2118 638h0M2059 535h0M2040 924h0M2574 569h0M2185 698h0M2372 688h0M2521 450h0M2068 318h0M2172 727h0M2439 415h0M2222 561h0M2141 589h0M1839 444h0M2475 566h0M2703 405h0M2744 348h0M1901 658h0M2141 639h0M2436 438h0M1861 685h0M2661 361h0M2702 388h0M2476 589h0M2283 762h0M2444 630h0M1940 437h0M2678 595h0M2090 933h0M2693 300h0M2658 516h0M2643 673h0M2626 729h0M2593 692h0M2538 763h0M2619 671h0M2742 402h0M2472 393h0M2663 464h0M2216 549h0M2460 437h0M2734 608h0M2602 612h0M2083 388h0M2436 748h0M2446 693h0M2566 548h0M2132 722h0M2703 504h0M2514 458h0M1914 510h0M2118 711h0M2717 650h0M1787 535h0M2621 643h0M2108 686h0M2704 307h0M2152 387h0M2808 491h0M2549 480h0M2226 607h0M2465 531h0M2486 390h0M2525 724h0M2729 649h0M2036 530h0M2657 682h0M2141 385h0M2121 503h0M2618 366h0M2542 401h0M2708 273h0M2647 645h0M2573 412h0M2796 330h0M2708 687h0M1874 725h0M2559 480h0M2792 469h0M2160 776h0M1920 472h0M2599 424h0M2670 352h0M2573 687h0M2504 747h0M2712 523h0M2763 384h0M2491 625h0M2671 548h0M2154 360h0M2587 355h0M2523 572h0M2690 669h0M2720 306h0M2144 498h0M2090 322h0M2767 440h0M2446 388h0M2672 721h0M2097 569h0M2699 354h0" stroke="#9b77f4"/><path d="M2644 515h0M2085 482h0M2731 584h0M2619 679h0M2078 456h0M2045 357h0M2375 775h0M2791 515h0M2145 318h0M2735 542h0M2157 694h0M2443 482h0M2447 639h0M2592 379h0M2132 678h0M2789 535h0M2524 542h0M2730 655h0M2091 904h0M2588 444h0M2599 400h0M2794 474h0M2524 364h0M2771 431h0M2236 622h0M2607 486h0M2591 749h0M2516 682h0M2671 637h0M2167 737h0M2226 761h0M2670 739h0M2798 554h0M2580 703h0M2648 619h0M2439 680h0M2186 476h0M2769 413h0M1845 467h0M2790 343h0M2239 684h0M2467 535h0M2495 425h0M2502 584h0M2146 804h0M2636 408h0M2539 721h0M2306 740h0M2774 328h0M1968 523h0M2518 612h0M2763 560h0M2114 771h0M2571 658h0M2233 781h0M2261 663h0M2730 661h0M2538 480h0M2138 780h0M2554 494h0M2471 384h0M2424 452h0M2623 552h0M2533 592h0M2756 348h0M2529 618h0M2580 448h0M2069 973h0M2665 530h0M2768 510h0M2534 571h0M2500 364h0M2485 700h0M2189 882h0M1928 451h0M1949 353h0M2797 466h0M2106 493h0M2034 846h0M2040 537h0M2038 500h0M2706 545h0M2687 600h0M2260 701h0M2088 743h0M2579 742h0M2524 378h0M2752 322h0M2758 616h0M2492 389h0M2569 637h0M2588 505h0M2743 490h0M2682 501h0M2508 767h0M2258 831h0M2726 559h0M2672 652h0M2543 364h0M2618 511h0M2661 612h0M2815 564h0M2421 542h0M2679 503h0M2629 339h0M2694 309h0M1918 820h0M2075 656h0M2739 475h0M2412 505h0M2568 419h0M2738 619h0M2757 553h0M2452 657h0M1841 358h0M2189 842h0M2146 457h0M2067 839h0M2578 354h0M2279 846h0M2658 650h0M2090 591h0M2554 370h0M2254 828h0M2648 331h0M2292 740h0M2566 306h0M2472 767h0M2662 375h0M2605 418h0M2419 740h0M2565 487h0M2539 541h0M2648 379h0M2407 432h0M2173 718h0M2721 347h0M2609 721h0M2755 487h0M1821 669h0M2587 488h0M2712 545h0M2580 551h0M2416 437h0M2626 517h0M2528 397h0M1873 717h0M2455 649h0M2484 516h0M2695 552h0M2598 442h0M2205 524h0M2626 557h0M2048 795h0M2095 898h0M2549 549h0M2617 616h0M2705 694h0M2308 764h0M2223 790h0M1797 554h0M2524 559h0M2090 412h0M2654 737h0M2517 767h0M2273 512h0M2698 427h0M2755 445h0M2593 390h0M2650 565h0M2216 709h0M2128 500h0M2000 519h0M2147 697h0M2696 437h0M2370 657h0M1992 446h0M2134 579h0M2219 827h0M2540 761h0M2155 674h0M2753 570h0M2461 594h0M2107 707h0M2535 722h0M2612 381h0M2254 850h0M2589 675h0M2601 609h0M2574 567h0M1901 396h0M2638 540h0M2441 422h0M2789 428h0M2716 367h0M2301 782h0M2523 765h0M2635 488h0M1864 525h0M2624 539h0M2224 721h0M2759 303h0M2755 482h0M2189 773h0M2073 499h0M2489 498h0M2515 424h0M1962 958h0M2405 754h0M2710 419h0M2209 761h0M2242 633h0M2787 391h0M2599 642h0M2705 607h0M2671 691h0M2225 409h0M2668 297h0M2480 487h0M2677 428h0M2020 406h0M2212 619h0M2680 335h0M2689 678h0M2159 512h0M2290 710h0M2514 404h0M2007 964h0M2780 375h0M2071 782h0M2420 432h0M2178 613h0M2286 506h0M2004 536h0M2724 389h0M2698 464h0M1999 803h0M1909 360h0" stroke="#9268f8"/><path d="M2459 609h0M2061 609h0M2560 637h0M2307 668h0M2598 656h0M2466 645h0M2061 547h0M2465 370h0M2266 728h0M2505 615h0M2509 597h0M2272 486h0M2741 522h0M2723 434h0M2558 488h0M2009 468h0M2644 347h0M2132 753h0M2439 594h0M2647 734h0M2727 646h0M2757 625h0M2230 729h0M1859 511h0M2763 591h0M2661 486h0M1926 366h0M2511 431h0M2675 305h0M1832 651h0M2584 696h0M2619 622h0M2421 422h0M2202 372h0M2469 468h0M2717 535h0M2667 628h0M2748 305h0M2472 293h0M2666 697h0M2136 870h0M2608 555h0M2514 610h0M2150 771h0M2635 414h0M2171 836h0M1957 868h0M2051 589h0M2555 473h0M2694 431h0M1957 425h0M2003 910h0M2641 546h0M2652 470h0M2669 438h0M2168 627h0M2389 523h0M2213 579h0M2570 735h0M2649 668h0M2525 360h0M1817 543h0M2504 468h0M2467 654h0M2524 733h0M2228 670h0M2780 570h0M2577 473h0M2757 466h0M2136 505h0M2018 352h0M2463 419h0M2093 957h0M2593 743h0M2697 716h0M2592 767h0M2203 907h0M2288 685h0M2109 827h0M2654 625h0M2475 427h0M2724 496h0M2106 834h0M2436 516h0M2667 710h0M2615 311h0M2359 701h0M1855 408h0M2556 347h0M2517 566h0M2661 551h0M2121 616h0M2571 448h0M2262 765h0M2348 739h0M2429 475h0M2136 315h0M2601 747h0M2781 561h0M2787 505h0M2627 707h0M2412 602h0M2482 292h0M2542 644h0M2461 522h0M2629 446h0M2452 779h0M2513 541h0M2170 614h0M2564 715h0M2491 600h0M2804 481h0M2140 833h0M2644 626h0M2075 848h0M2443 533h0M2156 650h0M2661 711h0M2098 394h0M2485 422h0M2423 579h0M2788 522h0M2168 370h0M2272 838h0M2241 553h0M2252 770h0M2250 654h0M2017 828h0M2646 482h0M1820 509h0M2723 511h0M2335 742h0M2290 809h0M2772 324h0M1973 941h0M2689 379h0M2322 688h0M1892 512h0M2199 413h0M2033 462h0M2246 822h0M2444 563h0M2036 418h0M2631 299h0M2552 353h0M2207 863h0M2563 504h0M2695 361h0M2701 396h0M2465 709h0M2466 424h0M2450 407h0M2644 287h0M2257 766h0M2705 473h0M2170 794h0M2199 694h0M2775 511h0M2189 868h0M2276 706h0M2740 439h0M2194 899h0M2584 418h0M2795 354h0M2475 470h0M2234 462h0M2145 828h0M2638 580h0M1981 311h0M2524 413h0M2155 567h0M2648 474h0M2676 716h0M2681 620h0M2174 579h0M2764 565h0M2577 434h0" stroke="#8859fa"/><path d="M2506 454h0M2596 747h0M2646 712h0M2671 490h0M2517 718h0M2212 903h0M1967 903h0M2548 573h0M2395 682h0M2185 403h0M2717 488h0M2478 584h0M2739 586h0M2125 879h0M2661 522h0M2595 607h0M2682 351h0M1937 770h0M2579 547h0M2224 468h0M2129 535h0M2566 607h0M2252 687h0M2616 735h0M2752 646h0M2474 436h0M1979 881h0M2496 527h0M2417 364h0M2812 493h0M2442 759h0M2770 385h0M1872 583h0M2804 497h0M2600 487h0M2725 572h0M2552 585h0M2641 666h0M2557 765h0M2729 337h0M2460 487h0M2291 508h0M2101 925h0M2287 772h0M2747 547h0M2564 522h0M2116 849h0M2642 293h0M2490 674h0M2156 552h0M2507 523h0M2628 680h0M2762 585h0M2606 730h0M2211 698h0M2537 668h0M2558 754h0M2533 396h0M2210 430h0M1985 591h0M2555 711h0M2234 878h0M1954 854h0M2011 970h0M2700 274h0M2533 612h0M2733 302h0M1793 646h0M2639 627h0M1858 670h0M2580 758h0M2492 649h0M2607 366h0M2178 717h0M2074 462h0M2718 341h0M2749 577h0M1944 347h0M2495 561h0M2721 531h0M2426 394h0M2513 445h0M2630 722h0M1988 377h0M2054 838h0M1905 434h0M2559 741h0" stroke="#7e4afc"/><path d="M2431 460h0M2213 818h0M1951 358h0M1966 359h0M2129 820h0M2751 607h0M2598 692h0M2399 716h0M2353 742h0M2020 462h0M2586 597h0M2680 724h0M2258 748h0M2602 583h0M2436 529h0M2280 674h0M2565 729h0M2620 560h0M2682 674h0M1961 336h0M2619 395h0M2693 723h0M2336 395h0M2698 558h0M2403 729h0M2461 670h0M2684 524h0M2581 444h0M2632 637h0M2439 545h0M1792 364h0M2102 706h0M2115 881h0M2244 472h0" stroke="#6f36fd"/><path d="M2208 682h0M2234 812h0M2425 464h0M2596 490h0" stroke="#5f23ff"/><path d="M2471 376h0M2671 500h0M2233 406h0M2475 700h0M2562 312h0M2535 298h0M2770 359h0M2655 401h0M2431 766h0M2557 279h0M2747 437h0M2507 412h0M2678 345h0M1979 918h0M2699 360h0M2668 371h0M1947 494h0M1967 389h0M2674 397h0M2666 383h0M2167 776h0M2147 469h0M2456 551h0M2531 378h0M1988 402h0M2370 346h0M2640 426h0M2080 448h0M2640 703h0M2688 573h0M2363 696h0M2075 354h0M2669 608h0M2258 684h0M2725 354h0M2643 422h0M2642 439h0M2122 329h0M2682 559h0M2594 425h0M2651 552h0M2087 321h0M2812 506h0M2639 385h0M2094 852h0M2469 676h0M2359 760h0M2069 652h0M2671 626h0M2810 510h0M2196 371h0M2448 592h0M2799 406h0M2790 373h0M2189 535h0M2677 400h0M2623 349h0M2197 398h0M2591 454h0M2173 824h0M2472 256h0M2597 519h0M2691 302h0M2272 730h0M2653 745h0M2366 649h0M2710 392h0M2646 359h0M2184 759h0M2668 268h0M2624 336h0M2667 461h0M2628 670h0M2716 500h0M2069 446h0M2132 631h0M1973 419h0M2767 330h0M2507 451h0M2777 347h0M2020 594h0M2522 646h0M2756 505h0M2743 383h0M2668 509h0M2273 624h0M2537 254h0" stroke="#3f11ff"/><path d="M2443 282h0M2768 609h0M2671 367h0M2498 250h0M2189 930h0M2192 594h0M2816 511h0M2128 481h0M1882 551h0M2018 848h0M2615 403h0M2800 483h0M2673 616h0M2632 408h0M2052 497h0M2675 276h0M2489 226h0M2200 816h0M2597 370h0M2531 292h0M2293 724h0M2460 704h0M2695 506h0M2457 239h0M2512 712h0M1832 529h0M2704 293h0M2633 642h0M2742 565h0M2761 437h0" stroke="#1e00ff"/><path d="M2473 512h0M2260 624h0M2717 571h0M2649 630h0M2241 717h0M2476 661h0M2426 740h0M2440 528h0M2700 481h0M2162 772h0M1956 367h0M2227 655h0M2780 406h0M2053 510h0M2512 600h0M2128 698h0M2167 891h0M2267 431h0M2010 536h0M2122 807h0M2539 358h0M2108 529h0M1984 329h0M2793 433h0M2671 672h0M1971 486h0M2635 533h0M1779 416h0M2506 535h0M2601 331h0M2646 512h0M2598 710h0M2651 458h0M2086 961h0M2550 413h0M2509 473h0M2171 687h0M2593 363h0M2635 281h0M2183 736h0M2692 333h0M2435 454h0M2481 644h0M2586 643h0M2538 398h0M2425 666h0M2375 729h0M2178 488h0M2500 670h0M2138 618h0M2436 506h0M2661 413h0M2674 431h0M2625 674h0M2644 324h0M2528 485h0M2728 637h0M2702 618h0M2069 611h0M1803 590h0M2708 467h0M2603 578h0M2591 634h0M2282 577h0M2706 589h0M2566 651h0M2674 689h0M2540 636h0M2663 388h0M2271 715h0" stroke="#ae96ea"/><path d="M2681 397h0M2677 522h0M2598 416h0M2510 394h0M2680 636h0M1898 369h0M2178 864h0M2568 530h0M2518 504h0M2291 802h0M2091 772h0M2682 481h0M2450 576h0M2051 651h0M2621 342h0M2706 349h0M2513 636h0M2727 440h0M2726 548h0M2636 548h0M2137 438h0M2110 790h0M2637 456h0M2533 455h0M2513 705h0M2210 418h0M2644 749h0M2489 503h0M2696 275h0M2727 325h0M2377 773h0M2730 524h0M2409 420h0M2352 383h0M2339 638h0M2715 373h0M2701 648h0M2450 473h0M2081 888h0M2758 565h0M2507 444h0M2748 554h0M2488 560h0M2597 679h0M1933 518h0M2443 614h0M2088 815h0M2150 818h0M2698 328h0M2519 383h0M1887 399h0M2407 722h0M2471 639h0M1903 830h0M1936 831h0M2782 437h0M2707 674h0M2115 438h0M2639 370h0M2570 730h0M2493 454h0M2730 397h0M1915 742h0M2515 355h0M2074 826h0M2624 648h0M2515 546h0M2080 515h0M2157 952h0M2636 389h0M2624 446h0M2467 571h0M2665 409h0M2779 444h0M2615 511h0M2221 682h0M1906 630h0M2074 885h0M2307 703h0M2713 438h0M2671 631h0M2253 820h0M2065 510h0M2703 430h0M2631 481h0M2396 765h0M2516 570h0M2714 639h0M2576 662h0M2615 551h0M2809 500h0M2546 624h0M2694 591h0M2534 357h0M2129 421h0M2456 457h0M2040 827h0M2129 796h0M2614 558h0M2345 724h0M2204 481h0M2638 721h0M1839 434h0M2210 794h0M2528 658h0M2569 479h0M2694 491h0M2745 395h0M2350 685h0M2037 479h0M2524 727h0M1982 474h0M2127 745h0M2629 420h0M1947 415h0M2519 478h0M2194 852h0M2644 467h0M1958 345h0M2347 667h0M1834 497h0M2136 821h0M2018 548h0M2541 699h0M2794 414h0M2623 528h0M2126 933h0M2454 494h0M2194 742h0M2549 740h0M2619 521h0M2695 519h0M2141 868h0M2207 585h0M2105 820h0M1811 614h0M2573 349h0M1818 442h0M2779 401h0M2188 512h0M2013 450h0M2170 898h0" stroke="#a486ef"/><path d="M2580 723h0M2051 639h0M2414 782h0M2606 534h0M2377 742h0M2634 595h0M2107 783h0M2759 341h0M2072 312h0M2651 614h0M2538 740h0M2237 517h0M2463 701h0M2141 495h0M2478 669h0M2660 667h0M2511 466h0M2608 564h0M2580 469h0M2266 773h0M2626 432h0M2671 318h0M2131 570h0M2633 524h0M2448 517h0M2248 584h0M2494 743h0M1983 898h0M2615 663h0M2035 604h0M2587 372h0M2223 697h0M2246 637h0M2514 752h0M2625 724h0M2405 713h0M2006 838h0M2475 673h0M2263 717h0M2462 504h0M2412 735h0M2248 839h0M2542 651h0M2484 552h0M2632 713h0M2454 571h0M2298 666h0M2079 613h0M2301 551h0M2703 317h0M2552 422h0M2442 542h0M2492 639h0M2598 355h0M2611 614h0M2255 642h0M2615 728h0M2111 334h0M2611 533h0M2805 531h0M2193 837h0M2243 864h0M2692 700h0M2629 337h0M2273 347h0M2595 662h0M2076 412h0M2790 461h0M1975 367h0M2597 469h0M2689 706h0M2507 383h0M2529 402h0M2669 304h0M2497 504h0M2685 414h0M2000 854h0M2601 342h0M2741 548h0M2681 269h0M2009 917h0M2144 403h0M2101 619h0M2632 542h0M2136 958h0M2371 782h0M1887 507h0M2704 327h0M2611 688h0M2661 306h0M2713 315h0M2652 335h0M2687 418h0M2181 631h0M2117 922h0M2395 751h0M2745 428h0M1953 904h0M2795 342h0M2151 509h0M2507 493h0M2472 692h0M2237 879h0M1833 640h0M2364 674h0M2179 888h0M2648 426h0M2391 734h0M2446 425h0M2734 300h0M2486 330h0M2401 725h0M2186 775h0M2111 536h0M2622 475h0M2663 500h0M2583 426h0M2132 803h0M2062 422h0M2532 480h0M2199 548h0M1824 645h0M2804 518h0M2323 723h0M2648 584h0M2137 450h0M2720 454h0M2618 745h0M2148 891h0M2150 814h0M2786 614h0M2117 885h0M2528 432h0M2232 843h0M2677 280h0M2653 422h0M2569 749h0M2289 654h0M2425 704h0M2780 461h0M2358 638h0M1873 535h0M2615 354h0M2503 589h0M2013 434h0M2721 336h0M2308 747h0M2293 771h0M1968 497h0M2793 534h0M2520 674h0M2569 596h0M2265 856h0M2535 555h0M2447 563h0M2633 430h0M2688 578h0M2607 741h0M2733 681h0M2590 558h0M2110 546h0M2649 278h0M2331 479h0M1796 588h0M2538 621h0M2706 413h0M2351 373h0M2468 480h0M2427 455h0M2401 527h0M2146 792h0M2391 681h0M2665 493h0M2548 383h0M2571 669h0M1778 390h0M2712 681h0M2671 297h0M2415 493h0M2166 887h0M1856 589h0M2475 733h0M2485 595h0M2190 395h0M2584 546h0M2447 440h0M2699 456h0M2069 898h0M2524 686h0M2647 439h0M2400 369h0M2523 633h0M2188 384h0M2667 329h0M2514 561h0M2127 919h0M2766 476h0M2677 570h0M2503 479h0" stroke="#9b77f4"/><path d="M2723 327h0M2439 754h0M2598 624h0M2183 745h0M2117 452h0M2184 724h0M2727 341h0M2597 563h0M2499 396h0M2533 409h0M1907 605h0M2429 537h0M2477 421h0M2525 401h0M2201 828h0M2514 590h0M2573 523h0M2797 528h0M2688 455h0M2096 436h0M2185 398h0M2516 437h0M1953 810h0M2340 524h0M1942 778h0M2643 613h0M2103 804h0M2488 658h0M2237 445h0M2517 649h0M2653 645h0M2751 479h0M2716 266h0M2476 398h0M2162 906h0M2479 482h0M2579 666h0M2487 474h0M2605 495h0M2345 648h0M2469 616h0M2191 661h0M2174 397h0M2507 656h0M2769 551h0M2391 571h0M2570 642h0M2309 722h0M2612 460h0M2453 643h0M2202 583h0M2652 433h0M2139 966h0M2776 474h0M2579 500h0M2137 827h0M2119 792h0M2313 473h0M2025 824h0M2650 446h0M1841 636h0M2703 631h0M2652 661h0M2281 662h0M2136 733h0M2503 632h0M2145 864h0M2634 620h0M2479 555h0M2751 349h0M2685 518h0M2529 631h0M2594 601h0M2725 621h0M1886 765h0M2760 461h0M2504 503h0M2422 746h0M2519 577h0M2181 643h0M2080 370h0M2135 400h0M2694 468h0M2481 740h0M2468 345h0M2175 764h0M2474 668h0M2551 439h0M2789 351h0M1821 468h0M2733 367h0M2368 743h0M1950 844h0M2044 481h0M2251 813h0M1941 379h0M2681 692h0M2679 321h0M2663 449h0M2353 536h0M2618 494h0M2515 511h0M2064 554h0M2646 537h0M2241 850h0M2511 687h0M2509 694h0M2481 440h0M2606 595h0M1933 339h0M2157 602h0M2209 901h0M2543 477h0M2765 433h0M2511 359h0M2456 662h0M2447 680h0M1932 858h0M2114 864h0M2780 482h0M2666 312h0M2689 410h0M2715 272h0M2608 763h0M2507 547h0M2514 722h0M2482 761h0M2545 763h0M2614 438h0M2662 682h0M2489 400h0M2244 722h0M2713 446h0M2562 540h0M2612 678h0M2587 491h0M2724 507h0M1993 832h0M2774 367h0M2297 730h0M1772 512h0M2660 541h0M2511 625h0M2541 546h0M1917 347h0M2530 413h0M2219 567h0M1998 877h0M1946 852h0M2627 426h0M2749 454h0M2770 537h0M2657 662h0M2734 393h0M2463 688h0M2547 408h0M2591 686h0M2322 674h0M2723 292h0M2721 467h0M2707 432h0M2743 528h0M2525 663h0M2618 691h0M2273 700h0M2090 521h0M2170 494h0M2664 331h0M2451 498h0M2133 692h0M2689 548h0M2546 583h0M1796 594h0M2321 425h0M2276 736h0M2528 367h0M2772 572h0M2638 616h0M2435 479h0M2122 474h0M2249 632h0M2208 803h0M2744 655h0M2564 703h0M1962 909h0M2073 492h0M2331 710h0M2654 724h0M2639 389h0M1954 816h0M2556 365h0M2528 697h0M2710 572h0M2482 753h0M2482 500h0M2210 749h0M2468 546h0M2687 662h0M2466 452h0M2401 466h0M1976 873h0M2174 785h0M2491 760h0M2093 577h0M2017 584h0M2425 691h0M2535 487h0M1904 782h0M2122 602h0M2147 409h0M2706 366h0M2272 504h0M2112 576h0M2716 456h0M2420 551h0M2547 517h0M2566 591h0M2364 275h0M2051 324h0M2436 431h0M2031 885h0M2281 820h0M2248 612h0M2652 527h0M2652 676h0M2090 348h0M2173 741h0M2361 680h0M2734 559h0M2671 716h0M2006 621h0M2347 680h0M2570 577h0" stroke="#9268f8"/><path d="M2164 875h0M2524 621h0M2471 589h0M2502 729h0M2596 297h0M2731 461h0M2804 572h0M2637 531h0M2679 551h0M2637 515h0M2148 419h0M2131 425h0M2127 577h0M2444 561h0M2580 461h0M2689 286h0M2410 778h0M1960 919h0M2678 651h0M1912 840h0M2620 378h0M2555 478h0M2726 401h0M2608 577h0M2743 300h0M2615 324h0M1905 462h0M2194 788h0M2450 444h0M2713 449h0M2608 420h0M2455 543h0M2258 498h0M2602 591h0M1915 883h0M2155 857h0M2354 401h0M2461 730h0M2358 710h0M2117 800h0M2622 570h0M2648 598h0M2753 377h0M1852 524h0M2068 557h0M2409 407h0M2665 673h0M2748 523h0M2570 609h0M2707 650h0M2534 412h0M1988 579h0M2658 481h0M2582 737h0M1905 836h0M2118 648h0M2628 570h0M2099 709h0M2089 305h0M2642 486h0M2237 602h0M2022 916h0M2405 700h0M2128 507h0M2802 561h0M2790 445h0M2637 650h0M2260 858h0M2716 390h0M2656 523h0M2632 616h0M1948 947h0M2542 577h0M2675 551h0M2118 626h0M2172 814h0M2631 553h0M2234 751h0M1967 917h0M2635 463h0M1968 910h0M2143 751h0M2156 392h0M2646 274h0M2556 746h0M2581 359h0M2315 773h0M2715 491h0M2496 516h0M2139 560h0M1806 611h0M2623 614h0M2545 281h0M2415 456h0M2427 519h0M2127 842h0M2451 439h0M2804 543h0M2685 687h0M2755 462h0M2539 408h0M2177 737h0M2491 370h0M2201 484h0M2463 612h0M2170 746h0M1949 487h0M2536 536h0M2698 294h0M2795 607h0M2503 450h0M2216 624h0M2052 547h0M2610 603h0M2262 691h0M2485 685h0M1887 561h0M2587 543h0M2667 473h0M2506 390h0M2042 554h0M2448 396h0M2594 673h0M2524 682h0M2531 499h0M2623 734h0M2644 407h0M2465 431h0M2592 535h0M2643 513h0M2118 531h0M2596 393h0M2175 555h0M2605 416h0M2327 449h0M2188 740h0M2472 504h0M2079 882h0M2608 479h0M2066 910h0M2656 389h0M2771 612h0M2686 724h0M2120 458h0M2153 893h0M1837 329h0M2450 678h0M2178 814h0M2655 292h0M2748 517h0M2582 503h0M2688 492h0M2552 577h0M2456 408h0M2142 388h0M2611 413h0M2069 845h0M2112 662h0M2318 680h0M2447 474h0M1878 621h0M2745 573h0M2615 579h0M2546 699h0M1845 632h0M2503 498h0M1868 698h0M2427 467h0M2678 709h0M2573 741h0M2734 619h0M2783 564h0M2523 609h0M2103 838h0M2562 420h0" stroke="#8859fa"/><path d="M2734 385h0M2685 700h0M2554 531h0M2569 602h0M2727 682h0M2655 717h0M2752 527h0M2708 613h0M2615 596h0M1842 603h0M2643 498h0M2470 420h0M2725 269h0M2097 474h0M2467 489h0M2057 518h0M2604 693h0M2573 589h0M2584 573h0M2625 329h0M2752 630h0M2776 354h0M2760 496h0M1914 897h0M2301 347h0M2265 800h0M2521 524h0M1827 553h0M2648 707h0M2822 534h0M2773 530h0M2353 691h0M2123 740h0M2316 661h0M1922 788h0M2470 442h0M2720 287h0M2598 474h0M2174 668h0M2210 543h0M2496 747h0M2121 906h0M1852 355h0M2737 327h0M2430 434h0M2750 410h0M2454 712h0M2650 656h0M2611 398h0M2275 683h0M2526 588h0M2531 503h0M2085 431h0M2297 711h0M2136 549h0M2003 510h0M2584 747h0M2606 377h0M2566 401h0M2477 713h0M2234 511h0M2735 624h0M2619 451h0M1862 648h0M2213 831h0M2160 348h0M2004 898h0M2720 439h0M2639 675h0M2150 828h0M2681 461h0M1933 437h0M2246 458h0M2100 809h0M2615 497h0M2437 422h0M2451 596h0M2730 555h0M2700 711h0M2591 650h0M2476 516h0M2107 807h0M2372 700h0M2682 392h0M1978 529h0M2790 559h0M2407 445h0M2157 521h0M2526 761h0M2657 582h0M2703 512h0M2678 361h0M2674 700h0M2696 365h0M2110 654h0M2029 373h0M2353 682h0M2771 446h0M2692 644h0M2767 318h0" stroke="#7e4afc"/><path d="M2682 576h0M2781 485h0M1958 543h0M2100 978h0M2501 572h0M2053 876h0M2499 628h0M2706 404h0M2506 553h0M2060 621h0M2730 294h0M2286 795h0M2789 438h0M2554 650h0M2631 746h0M2459 462h0M2636 559h0M2549 464h0M2200 658h0M2415 583h0M2195 735h0M2547 772h0M2506 742h0M2566 366h0M2608 444h0M2800 393h0M2790 590h0M2217 687h0" stroke="#6f36fd"/><path d="M2801 484h0M2657 638h0M2720 353h0M2511 528h0M2160 500h0M2672 408h0M2048 839h0M2441 504h0M2578 715h0M2677 413h0" stroke="#5f23ff"/><path d="M2534 564h0M1897 852h0M2454 270h0M2510 263h0M2565 379h0M2093 426h0M1871 403h0M2738 484h0M2546 491h0M2637 686h0M2070 601h0M2572 583h0M2711 339h0M2741 323h0M1991 512h0M2640 535h0M2694 638h0M2241 572h0M1879 416h0M2664 293h0M2436 251h0M2707 625h0M2290 715h0M2440 575h0M2334 670h0M2399 592h0M2135 640h0M2651 515h0M2601 512h0M2633 317h0M2170 458h0M2727 517h0M2767 391h0M2561 369h0M2575 576h0M2326 609h0M2293 832h0M2188 941h0M2049 566h0M2463 457h0M2560 551h0M2522 428h0M2766 371h0M2793 336h0M2675 535h0M2601 754h0M2621 739h0M2454 461h0M2584 400h0M2601 717h0M2750 422h0M1998 399h0M2538 364h0M2486 547h0M2106 539h0M2602 602h0M2675 488h0M2359 763h0M2164 581h0M2461 737h0M2169 590h0M2468 243h0M2254 786h0M2103 547h0" stroke="#3f11ff"/><path d="M2005 863h0M2461 257h0M2602 360h0M2672 359h0M2099 466h0M2569 506h0M2660 401h0M2050 783h0M2198 499h0M2397 303h0M2087 727h0M2717 376h0M2694 262h0M2690 293h0M2818 551h0M2695 481h0M2573 341h0M2076 577h0M2212 491h0M2026 960h0M2472 392h0M2472 306h0M2066 935h0M2559 493h0M2650 323h0M2485 443h0M2439 512h0M2287 651h0M2712 304h0M2667 601h0M2737 345h0M2588 431h0M2277 476h0M2541 276h0M2721 273h0M2513 418h0M1967 494h0M2452 315h0M2468 698h0M2063 384h0M2728 274h0M1928 378h0M2583 374h0M2706 505h0M2088 909h0M2749 285h0M2441 663h0M2553 446h0M2691 511h0M2566 620h0M2706 451h0M2666 419h0M2262 797h0" stroke="#1e00ff"/></g>
<rect x="50.6" y="69.1" width="720.8" height="446.4" fill="none" stroke="#000" stroke-width="1.6"/>
<rect x="851.0" y="68.8" width="721.0" height="446.8" fill="none" stroke="#222" stroke-width="1.5"/>
<text x="408.5" y="54.0" font-size="33.6" text-anchor="middle" textLength="114" lengthAdjust="spacingAndGlyphs">ASCL1</text>
<text x="1209.3" y="54.0" font-size="33.6" text-anchor="middle" textLength="174.8" lengthAdjust="spacingAndGlyphs">NEUROD1</text>
<defs><linearGradient id="cb" x1="0" y1="0" x2="0" y2="1"><stop offset="0.00" stop-color="#1e00ff"/><stop offset="0.05" stop-color="#330bff"/><stop offset="0.10" stop-color="#4917ff"/><stop offset="0.15" stop-color="#5e22ff"/><stop offset="0.20" stop-color="#682ffe"/><stop offset="0.25" stop-color="#733bfd"/><stop offset="0.30" stop-color="#7d48fc"/><stop offset="0.35" stop-color="#8452fb"/><stop offset="0.40" stop-color="#8a5cfa"/><stop offset="0.45" stop-color="#9066f8"/><stop offset="0.50" stop-color="#9770f7"/><stop offset="0.55" stop-color="#9d7af4"/><stop offset="0.60" stop-color="#a283f0"/><stop offset="0.65" stop-color="#a88ded"/><stop offset="0.70" stop-color="#af97e9"/><stop offset="0.75" stop-color="#b5a2e6"/><stop offset="0.80" stop-color="#bcace2"/><stop offset="0.85" stop-color="#c2b6de"/><stop offset="0.90" stop-color="#c8c0da"/><stop offset="0.95" stop-color="#cdc9d7"/><stop offset="1.00" stop-color="#d3d3d3"/></linearGradient></defs>
<rect x="656" y="204.1" width="46.3" height="243.3" fill="url(#cb)"/>
<text x="716.3" y="286.4" font-size="24.3" text-anchor="start">2</text>
<text x="716.3" y="371.8" font-size="24.3" text-anchor="start">1</text>
<text x="716.3" y="456.4" font-size="24.3" text-anchor="start">0</text>
<path d="M656 276.0h9.5M702.3 276.0h-9.5M656 361.4h9.5M702.3 361.4h-9.5M656 446.0h9.5M702.3 446.0h-9.5" stroke="#fff" stroke-width="2.2" fill="none"/>
<rect x="1448.3" y="204.1" width="46.3" height="243.3" fill="url(#cb)"/>
<text x="1509.5" y="268.4" font-size="24.3" text-anchor="start" textLength="31.5" lengthAdjust="spacingAndGlyphs">0.9</text>
<text x="1509.5" y="331.4" font-size="24.3" text-anchor="start" textLength="31.5" lengthAdjust="spacingAndGlyphs">0.6</text>
<text x="1509.5" y="394.4" font-size="24.3" text-anchor="start" textLength="31.5" lengthAdjust="spacingAndGlyphs">0.3</text>
<text x="1509.5" y="456.4" font-size="24.3" text-anchor="start" textLength="31.5" lengthAdjust="spacingAndGlyphs">0.0</text>
<path d="M1448.3 258.0h9.5M1494.6 258.0h-9.5M1448.3 321.0h9.5M1494.6 321.0h-9.5M1448.3 384.0h9.5M1494.6 384.0h-9.5M1448.3 446.0h9.5M1494.6 446.0h-9.5" stroke="#fff" stroke-width="2.2" fill="none"/>
<path d="M1805.6 309.2V366.2" stroke="#aaa" stroke-width="1.2" stroke-dasharray="4 3.5" fill="none"/>
<path d="M1805.6 272.6v5M1965.0 272.6v5M1965.0 508.8v5M1805.6 508.8v5" stroke="#aaa" stroke-width="1.2" stroke-dasharray="3 2" fill="none"/>
<path d="M1805.6 77.4C1805.7 79.6 1805.8 86.2 1806.1 90.1C1806.3 93.9 1806.2 97.3 1807.1 100.6C1808.1 103.8 1809.4 106.6 1811.6 109.6C1813.9 112.6 1816.6 115.6 1820.6 118.6C1824.6 121.6 1830.4 124.6 1835.7 127.6C1840.9 130.6 1847.3 133.3 1852.2 136.6C1857.1 139.8 1862.2 143.8 1865.1 147.1C1867.9 150.3 1868.4 153.2 1869.3 156.1C1870.1 159.0 1870.5 161.5 1870.2 164.5C1869.8 167.5 1869.0 170.8 1867.2 174.1C1865.3 177.5 1861.9 181.1 1859.1 184.6C1856.2 188.1 1853.0 191.4 1850.1 195.1C1847.2 198.9 1844.2 203.1 1841.7 207.1C1839.1 211.1 1837.2 215.4 1834.8 219.1C1832.3 222.9 1830.1 226.1 1827.2 229.6C1824.4 233.1 1820.5 236.9 1817.6 240.2C1814.8 243.4 1811.9 246.7 1810.1 249.2C1808.4 251.7 1806.6 253.4 1807.1 255.2C1807.6 257.0 1809.8 258.6 1813.1 260.0C1816.5 261.4 1822.9 262.5 1827.2 263.6C1831.6 264.7 1836.7 265.7 1839.3 266.6C1841.9 267.4 1848.5 268.2 1842.9 268.7C1837.3 269.1 1811.8 269.2 1805.6 269.3L1805.6 269.3C1799.4 269.2 1774.0 269.1 1768.4 268.7C1762.8 268.2 1769.4 267.4 1772.0 266.6C1774.6 265.7 1779.7 264.7 1784.0 263.6C1788.4 262.5 1794.8 261.4 1798.1 260.0C1801.5 258.6 1803.6 257.0 1804.1 255.2C1804.6 253.4 1802.9 251.7 1801.1 249.2C1799.4 246.7 1796.5 243.4 1793.6 240.2C1790.8 236.9 1786.9 233.1 1784.0 229.6C1781.2 226.1 1778.9 222.9 1776.5 219.1C1774.1 215.4 1772.2 211.1 1769.6 207.1C1767.1 203.1 1764.1 198.9 1761.2 195.1C1758.3 191.4 1755.0 188.1 1752.2 184.6C1749.3 181.1 1745.9 177.5 1744.1 174.1C1742.2 170.8 1741.4 167.5 1741.1 164.5C1740.7 161.5 1741.1 159.0 1742.0 156.1C1742.8 153.2 1743.3 150.3 1746.2 147.1C1749.0 143.8 1754.2 139.8 1759.1 136.6C1764.0 133.3 1770.4 130.6 1775.6 127.6C1780.9 124.6 1786.6 121.6 1790.6 118.6C1794.6 115.6 1797.4 112.6 1799.6 109.6C1801.9 106.6 1803.2 103.8 1804.1 100.6C1805.1 97.3 1804.9 93.9 1805.2 90.1C1805.4 86.2 1805.6 79.6 1805.6 77.4Z" fill="#fff" stroke="#222" stroke-width="2.3" stroke-linejoin="round"/>
<path d="M1965.0 77.4C1965.1 84.6 1965.2 109.5 1965.3 120.1C1965.5 130.7 1965.6 134.1 1965.9 141.1C1966.3 148.1 1966.9 155.6 1967.4 162.1C1968.0 168.6 1968.6 174.1 1969.2 180.1C1969.9 186.1 1970.7 192.6 1971.3 198.1C1972.0 203.6 1972.7 208.9 1973.1 213.1C1973.6 217.4 1973.6 220.4 1974.0 223.6C1974.5 226.9 1974.9 229.6 1975.8 232.6C1976.7 235.7 1979.3 239.2 1979.4 241.7C1979.5 244.2 1978.1 245.8 1976.4 247.7C1974.8 249.5 1971.0 251.4 1969.5 252.8C1968.0 254.2 1967.1 255.0 1967.4 256.1C1967.8 257.2 1968.9 258.3 1971.6 259.4C1974.3 260.4 1978.5 261.4 1983.6 262.4C1988.8 263.4 1996.3 264.5 2002.6 265.4C2008.9 266.3 2017.7 267.2 2021.5 267.8C2025.3 268.4 2034.8 268.7 2025.4 269.0C2016.0 269.3 1975.1 269.5 1965.0 269.6L1965.0 269.6C1955.0 269.5 1914.1 269.3 1904.7 269.0C1895.3 268.7 1904.8 268.4 1908.6 267.8C1912.4 267.2 1921.2 266.3 1927.5 265.4C1933.8 264.5 1941.3 263.4 1946.4 262.4C1951.6 261.4 1955.7 260.4 1958.4 259.4C1961.1 258.3 1962.3 257.2 1962.6 256.1C1963.0 255.0 1962.0 254.2 1960.5 252.8C1959.0 251.4 1955.3 249.5 1953.6 247.7C1952.0 245.8 1950.5 244.2 1950.6 241.7C1950.7 239.2 1953.3 235.7 1954.2 232.6C1955.1 229.6 1955.6 226.9 1956.0 223.6C1956.5 220.4 1956.5 217.4 1956.9 213.1C1957.4 208.9 1958.1 203.6 1958.7 198.1C1959.4 192.6 1960.2 186.1 1960.8 180.1C1961.5 174.1 1962.1 168.6 1962.6 162.1C1963.2 155.6 1963.8 148.1 1964.1 141.1C1964.5 134.1 1964.6 130.7 1964.7 120.1C1964.9 109.5 1965.0 84.6 1965.0 77.4Z" fill="#d9d9d9" stroke="#222" stroke-width="2.3" stroke-linejoin="round"/>
<path d="M1805.6 366.2C1805.7 375.2 1805.9 401.3 1806.0 420.3C1806.1 439.3 1806.0 467.3 1806.1 480.3C1806.2 493.3 1805.4 494.8 1806.5 498.3C1807.7 501.8 1807.8 500.5 1813.1 501.3C1818.5 502.1 1829.1 502.6 1838.7 503.1C1848.2 503.7 1875.7 504.2 1870.2 504.6C1864.7 505.0 1816.4 505.4 1805.6 505.5L1805.6 505.5C1794.9 505.4 1746.6 505.0 1741.1 504.6C1735.6 504.2 1763.1 503.7 1772.6 503.1C1782.1 502.6 1792.8 502.1 1798.1 501.3C1803.5 500.5 1803.6 501.8 1804.7 498.3C1805.9 494.8 1805.1 493.3 1805.2 480.3C1805.2 467.3 1805.2 439.3 1805.3 420.3C1805.4 401.3 1805.6 375.2 1805.6 366.2Z" fill="#d9d9d9" stroke="#222" stroke-width="2.1" stroke-linejoin="round"/>
<path d="M1965.0 315.8C1965.1 328.2 1965.3 368.8 1965.3 390.2C1965.4 411.7 1965.3 432.8 1965.5 444.3C1965.6 455.8 1965.8 455.3 1966.2 459.3C1966.6 463.3 1967.6 465.8 1967.9 468.3C1968.2 470.8 1968.4 472.3 1968.2 474.3C1968.0 476.3 1967.2 478.2 1966.8 480.3C1966.4 482.4 1965.8 484.4 1965.8 486.9C1965.7 489.4 1965.6 493.2 1966.5 495.3C1967.5 497.4 1966.9 498.4 1971.6 499.5C1976.4 500.7 1985.4 501.4 1995.1 502.2C2004.7 503.0 2034.6 503.8 2029.6 504.3C2024.6 504.9 1975.8 505.3 1965.0 505.5L1965.0 505.5C1954.3 505.3 1905.5 504.9 1900.5 504.3C1895.5 503.8 1925.4 503.0 1935.0 502.2C1944.7 501.4 1953.7 500.7 1958.4 499.5C1963.2 498.4 1962.6 497.4 1963.5 495.3C1964.5 493.2 1964.3 489.4 1964.3 486.9C1964.2 484.4 1963.6 482.4 1963.2 480.3C1962.8 478.2 1962.1 476.3 1961.9 474.3C1961.7 472.3 1961.9 470.8 1962.2 468.3C1962.5 465.8 1963.4 463.3 1963.8 459.3C1964.2 455.3 1964.4 455.8 1964.6 444.3C1964.7 432.8 1964.7 411.7 1964.7 390.2C1964.8 368.8 1965.0 328.2 1965.0 315.8Z" fill="#fff" stroke="#222" stroke-width="2.1" stroke-linejoin="round"/>
<rect x="1710.770893371758" y="68.74399615754082" width="349.7" height="209.2" fill="none" stroke="#222" stroke-width="1.5"/>
<rect x="1710.770893371758" y="307.6969260326609" width="349.7" height="206.2" fill="none" stroke="#222" stroke-width="1.5"/>
<text x="1699.3" y="82.2" font-size="27" text-anchor="end">4</text>
<text x="1699.3" y="131.5" font-size="27" text-anchor="end">3</text>
<text x="1699.3" y="180.7" font-size="27" text-anchor="end">2</text>
<text x="1699.3" y="229.3" font-size="27" text-anchor="end">1</text>
<text x="1699.3" y="278.0" font-size="27" text-anchor="end">0</text>
<text x="1699.3" y="323.9" font-size="27" text-anchor="end">3</text>
<text x="1699.3" y="387.2" font-size="27" text-anchor="end">2</text>
<text x="1699.3" y="450.9" font-size="27" text-anchor="end">1</text>
<text x="1699.3" y="514.2" font-size="27" text-anchor="end">0</text>
<path d="M1707.6 72.9H1710.8M1707.6 122.2H1710.8M1707.6 171.4H1710.8M1707.6 220.0H1710.8M1707.6 268.7H1710.8M1707.6 314.6H1710.8M1707.6 377.9H1710.8M1707.6 441.6H1710.8M1707.6 504.9H1710.8M1805.6 513.9v3.5M1965.0 513.9v3.5" stroke="#222" stroke-width="1.5" fill="none"/>
<text x="1886.7" y="61.5" font-size="29.4" text-anchor="middle" textLength="105" lengthAdjust="spacingAndGlyphs">ASCL1</text>
<text x="1885.5" y="305.3" font-size="29.4" text-anchor="middle" textLength="163" lengthAdjust="spacingAndGlyphs">NEUROD1</text>
<text x="1802.5" y="550.0" font-size="31.2" text-anchor="middle">Monoculture</text>
<text x="1966.7" y="550.0" font-size="31.2" text-anchor="middle">Coculture</text>
<path d="M1818.5 88.3H1951.8M1820.9 325.1H1954.2" stroke="#222" stroke-width="1.1" fill="none"/>
<text class="st2" x="1886.1" y="92.5" font-size="21" text-anchor="middle">****</text>
<text class="st2" x="1888.2" y="330.2" font-size="21" text-anchor="middle">****</text>
</svg></body></html>
